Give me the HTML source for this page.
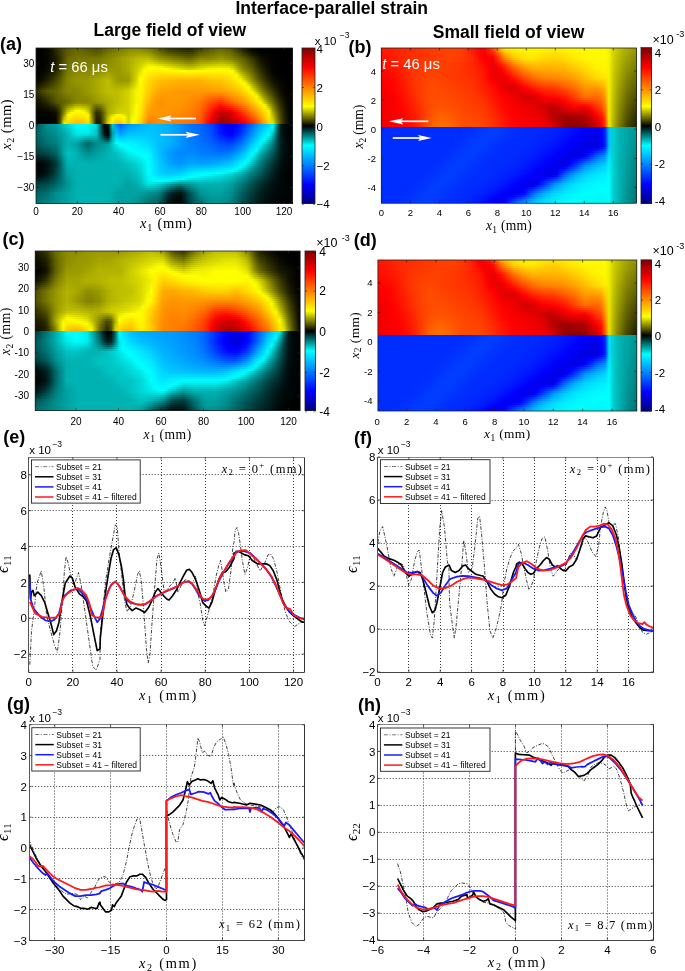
<!DOCTYPE html><html><head><meta charset="utf-8"><title>Interface-parallel strain</title><style>
*{margin:0;padding:0}
html,body{width:685px;height:971px;background:#fff;overflow:hidden}
#root{position:relative;width:685px;height:971px;background:#fff}
.hm{position:absolute;overflow:hidden}
.hm div{position:absolute;left:0;width:100%}
.cb{position:absolute}
svg{position:absolute;left:0;top:0;will-change:transform}

</style></head><body><div id="root"><div class="hm" style="left:36px;top:48px;width:257px;height:156px"><div style="top:0px;height:2px;background:linear-gradient(90deg,#000000,#010100,#030300,#080800,#171700,#2c2c00,#3c3c00,#4c4c00,#5a5a00,#606000,#666600,#636300,#5e5e00,#585800,#535300,#4e4e00,#545400,#5f5f00,#696900,#6f6f00,#767600,#7c7c00,#838300,#898900,#8a8a00,#8b8b00,#888800,#828200,#7c7c00,#707000,#646400,#575700,#484800,#3a3a00,#343400,#2f2f00,#2b2b00,#272700,#232300,#2a2a00,#363600,#434300,#4d4d00,#565600,#5e5e00,#646400,#6a6a00,#646400,#5e5e00,#515100,#3e3e00,#2d2d00,#1b1b00,#0d0d00,#050500,#020200,#000000,#000000,#000000,#000000,#000000,#000000,#000000,#000000,#000000)"></div><div style="top:2px;height:2px;background:linear-gradient(90deg,#000000,#010100,#030300,#080800,#161600,#292900,#3a3a00,#4d4d00,#5d5d00,#636300,#696900,#676700,#626200,#5e5e00,#5a5a00,#565600,#5b5b00,#656500,#6f6f00,#757500,#7c7c00,#828200,#898900,#909000,#929200,#949400,#939300,#8d8d00,#898900,#7c7c00,#6f6f00,#626200,#545400,#474700,#414100,#3c3c00,#373700,#333300,#2f2f00,#353500,#424200,#4f4f00,#575700,#5f5f00,#666600,#6d6d00,#737300,#6c6c00,#666600,#5a5a00,#474700,#373700,#252500,#161600,#0b0b00,#060600,#020200,#010100,#010100,#000000,#000000,#000000,#000000,#000000,#000000)"></div><div style="top:4px;height:2px;background:linear-gradient(90deg,#000000,#010100,#030300,#080800,#141400,#252500,#383800,#4e4e00,#606000,#656500,#6b6b00,#6a6a00,#676700,#646400,#616100,#5d5d00,#626200,#6c6c00,#757500,#7b7b00,#828200,#898900,#8f8f00,#979700,#9a9a00,#9d9d00,#9d9d00,#999900,#959500,#898900,#7b7b00,#6e6e00,#626200,#565600,#4f4f00,#4a4a00,#454500,#404000,#3b3b00,#424200,#4f4f00,#5c5c00,#626200,#696900,#6f6f00,#757500,#7c7c00,#757500,#6f6f00,#636300,#525200,#424200,#303000,#202000,#131300,#0b0b00,#040400,#030300,#020200,#010100,#000000,#000000,#000000,#000000,#000000)"></div><div style="top:6px;height:2px;background:linear-gradient(90deg,#000000,#010100,#030300,#080800,#131300,#222200,#363600,#4e4e00,#626200,#686800,#6e6e00,#6e6e00,#6c6c00,#6a6a00,#676700,#656500,#6a6a00,#737300,#7b7b00,#818100,#888800,#8f8f00,#969600,#9d9d00,#a2a200,#a7a700,#a8a800,#a6a600,#a3a300,#969600,#888800,#7b7b00,#707000,#666600,#5f5f00,#595900,#545400,#4e4e00,#494900,#505000,#5d5d00,#6a6a00,#6e6e00,#727200,#787800,#7e7e00,#858500,#7e7e00,#787800,#6d6d00,#5d5d00,#4e4e00,#3c3c00,#2b2b00,#1d1d00,#111100,#080800,#050500,#030300,#020200,#010100,#000000,#000000,#000000,#000000)"></div><div style="top:8px;height:2px;background:linear-gradient(90deg,#000000,#010100,#030300,#070700,#111100,#1f1f00,#343400,#4f4f00,#656500,#6b6b00,#717100,#727200,#717100,#707000,#6f6f00,#6e6e00,#727200,#7a7a00,#818100,#888800,#8f8f00,#969600,#9d9d00,#a4a400,#aaaa00,#b1b100,#b4b400,#b2b200,#b1b100,#a3a300,#959500,#898900,#808000,#777700,#707000,#6a6a00,#646400,#5e5e00,#585800,#5f5f00,#6c6c00,#787800,#7a7a00,#7c7c00,#818100,#888800,#8f8f00,#888800,#818100,#777700,#686800,#5a5a00,#494900,#393900,#292900,#181800,#0c0c00,#070700,#050500,#020200,#010100,#000000,#000000,#000000,#000000)"></div><div style="top:10px;height:2px;background:linear-gradient(90deg,#000000,#010100,#030300,#070700,#101000,#1c1c00,#323200,#4f4f00,#686800,#6e6e00,#747400,#767600,#767600,#767600,#767600,#767600,#7a7a00,#808000,#878700,#8e8e00,#959500,#9c9c00,#a3a300,#abab00,#b2b200,#baba00,#bfbf00,#bfbf00,#bfbf00,#b2b200,#a3a300,#979700,#909000,#898900,#828200,#7c7c00,#757500,#6f6f00,#696900,#6f6f00,#7c7c00,#878700,#878700,#888800,#8b8b00,#929200,#999900,#929200,#8b8b00,#818100,#747400,#686800,#575700,#474700,#353500,#212100,#111100,#0b0b00,#070700,#030300,#010100,#000000,#000000,#000000,#000000)"></div><div style="top:12px;height:2px;background:linear-gradient(90deg,#000000,#010100,#030300,#080800,#111100,#1d1d00,#343400,#525200,#6b6b00,#717100,#777700,#797900,#797900,#797900,#797900,#797900,#7d7d00,#848400,#8a8a00,#909000,#959500,#9c9c00,#a3a300,#abab00,#b4b400,#bdbd00,#c4c400,#c9c900,#cece00,#c3c300,#b6b600,#acac00,#a4a400,#9d9d00,#969600,#8f8f00,#888800,#818100,#7b7b00,#808000,#8d8d00,#989800,#999900,#9b9b00,#9f9f00,#a4a400,#aaaa00,#a4a400,#9e9e00,#939300,#818100,#717100,#5f5f00,#4e4e00,#3c3c00,#262600,#151500,#0d0d00,#070700,#030300,#010100,#000000,#000000,#000000,#000000)"></div><div style="top:14px;height:2px;background:linear-gradient(90deg,#000000,#010100,#040400,#090900,#121200,#1f1f00,#363600,#545400,#6e6e00,#747400,#7a7a00,#7c7c00,#7c7c00,#7c7c00,#7c7c00,#7c7c00,#808000,#878700,#8d8d00,#929200,#969600,#9c9c00,#a3a300,#abab00,#b5b500,#c0c000,#caca00,#d4d400,#dddd00,#d5d500,#cbcb00,#c1c100,#baba00,#b2b200,#aaaa00,#a3a300,#9c9c00,#949400,#8d8d00,#939300,#9e9e00,#a9a900,#acac00,#afaf00,#b3b300,#b8b800,#bcbc00,#b8b800,#b3b300,#a6a600,#8f8f00,#7a7a00,#676700,#565600,#424200,#2c2c00,#191900,#0f0f00,#080800,#030300,#010100,#000000,#000000,#000000,#000000)"></div><div style="top:16px;height:2px;background:linear-gradient(90deg,#000000,#010100,#040400,#0a0a00,#141400,#212100,#383800,#575700,#717100,#777700,#7d7d00,#7f7f00,#7f7f00,#7f7f00,#7f7f00,#7f7f00,#838300,#8a8a00,#909000,#939300,#979700,#9c9c00,#a3a300,#abab00,#b7b700,#c3c300,#d0d000,#dede00,#eded00,#e8e800,#e0e000,#d9d900,#d0d000,#c8c800,#c0c000,#b8b800,#b1b100,#a9a900,#a2a200,#a6a600,#b1b100,#bbbb00,#c0c000,#c4c400,#c8c800,#cccc00,#cfcf00,#cccc00,#c8c800,#b9b900,#9d9d00,#838300,#707000,#5e5e00,#4a4a00,#323200,#1e1e00,#121200,#090900,#030300,#010100,#000000,#000000,#000000,#000000)"></div><div style="top:18px;height:2px;background:linear-gradient(90deg,#000000,#010100,#050500,#0b0b00,#151500,#222200,#3b3b00,#5a5a00,#747400,#7a7a00,#808000,#828200,#828200,#828200,#828200,#828200,#868600,#8d8d00,#949400,#959500,#979700,#9c9c00,#a3a300,#abab00,#b8b800,#c6c600,#d6d600,#e9e900,#fdfd00,#fbfb00,#f7f700,#f1f100,#e8e800,#dfdf00,#d7d700,#cfcf00,#c7c700,#bfbf00,#b7b700,#bbbb00,#c5c500,#cece00,#d5d500,#dbdb00,#dfdf00,#e1e100,#e3e300,#e1e100,#dfdf00,#cece00,#acac00,#8d8d00,#797900,#666600,#515100,#383800,#232300,#151500,#0a0a00,#030300,#010100,#000000,#000000,#000000,#000000)"></div><div style="top:20px;height:2px;background:linear-gradient(90deg,#000000,#010100,#050500,#0c0c00,#171700,#242400,#3d3d00,#5c5c00,#767600,#7d7d00,#848400,#858500,#858500,#858500,#858500,#858500,#8a8a00,#919100,#979700,#979700,#989800,#9c9c00,#a3a300,#abab00,#baba00,#c9c900,#dcdc00,#f4f400,#fffb00,#fffb00,#fffb00,#fffc00,#fffe00,#f8f800,#efef00,#e6e600,#dede00,#d6d600,#cdcd00,#d1d100,#d9d900,#e2e200,#eaea00,#f2f200,#f6f600,#f7f700,#f7f700,#f7f700,#f6f600,#e3e300,#bcbc00,#989800,#828200,#6f6f00,#595900,#3f3f00,#292900,#181800,#0b0b00,#030300,#010100,#000000,#000000,#000000,#000000)"></div><div style="top:22px;height:2px;background:linear-gradient(90deg,#000000,#020200,#070700,#0e0e00,#1a1a00,#282800,#414100,#606000,#7a7a00,#808000,#878700,#888800,#888800,#888800,#898900,#8a8a00,#8f8f00,#969600,#9c9c00,#9a9a00,#999900,#9b9b00,#a2a200,#a8a800,#baba00,#cbcb00,#e3e300,#fffe00,#fff600,#fff400,#fff300,#fff200,#fff400,#fff600,#fff800,#fffa00,#fffc00,#fffe00,#fafa00,#fdfd00,#fffd00,#fffb00,#fffa00,#fff800,#fff800,#fff800,#fff800,#fff900,#fffa00,#fafa00,#cfcf00,#a7a700,#8e8e00,#787800,#616100,#464600,#2e2e00,#1c1c00,#0d0d00,#050500,#020200,#000000,#000000,#000000,#000000)"></div><div style="top:24px;height:2px;background:linear-gradient(90deg,#000000,#040400,#090900,#121200,#1f1f00,#2e2e00,#464600,#646400,#7d7d00,#838300,#8a8a00,#8b8b00,#8b8b00,#8c8c00,#8e8e00,#909000,#969600,#9d9d00,#a3a300,#9e9e00,#9a9a00,#9b9b00,#a0a000,#a5a500,#b9b900,#cece00,#e9e900,#fffb00,#fff000,#ffec00,#ffe900,#ffe800,#ffe900,#ffea00,#ffeb00,#ffec00,#ffed00,#ffee00,#fff000,#fff000,#ffee00,#ffec00,#ffec00,#ffec00,#ffec00,#ffed00,#ffee00,#fff000,#fff200,#fff900,#e4e400,#b9b900,#9c9c00,#838300,#696900,#4d4d00,#353500,#202000,#111100,#070700,#030300,#010100,#000000,#000000,#000000)"></div><div style="top:26px;height:2px;background:linear-gradient(90deg,#010100,#050500,#0c0c00,#161600,#242400,#343400,#4c4c00,#686800,#808000,#868600,#8d8d00,#8f8f00,#8f8f00,#8f8f00,#939300,#969600,#9c9c00,#a4a400,#a9a900,#a2a200,#9b9b00,#9a9a00,#9e9e00,#a2a200,#b8b800,#d0d000,#f0f000,#fff700,#ffea00,#ffe500,#ffe000,#ffdd00,#ffdd00,#ffdd00,#ffdd00,#ffdd00,#ffdd00,#ffdf00,#ffe000,#ffdf00,#ffde00,#ffdd00,#ffde00,#ffdf00,#ffe100,#ffe200,#ffe300,#ffe700,#ffea00,#fff300,#fafa00,#cccc00,#abab00,#8f8f00,#727200,#555500,#3b3b00,#262600,#151500,#090900,#050500,#010100,#000000,#000000,#000000)"></div><div style="top:28px;height:2px;background:linear-gradient(90deg,#020200,#070700,#0f0f00,#1b1b00,#292900,#3b3b00,#525200,#6d6d00,#838300,#8a8a00,#909000,#929200,#929200,#939300,#989800,#9d9d00,#a3a300,#abab00,#b0b000,#a6a600,#9c9c00,#999900,#9c9c00,#9e9e00,#b7b700,#d2d200,#f8f800,#fff300,#ffe500,#ffdd00,#ffd700,#ffd200,#ffd100,#ffd000,#ffcf00,#ffce00,#ffce00,#ffcf00,#ffd000,#ffcf00,#ffce00,#ffce00,#ffd100,#ffd300,#ffd500,#ffd700,#ffd900,#ffde00,#ffe300,#ffec00,#fffa00,#dfdf00,#bbbb00,#9a9a00,#7b7b00,#5c5c00,#424200,#2b2b00,#191900,#0c0c00,#060600,#020200,#010100,#000000,#000000)"></div><div style="top:30px;height:2px;background:linear-gradient(90deg,#030300,#0a0a00,#131300,#202000,#2f2f00,#414100,#585800,#717100,#868600,#8d8d00,#949400,#959500,#959500,#979700,#9d9d00,#a3a300,#aaaa00,#b2b200,#b7b700,#aaaa00,#9d9d00,#999900,#9a9a00,#9b9b00,#b6b600,#d4d400,#ffff00,#ffef00,#ffdf00,#ffd600,#ffcd00,#ffc700,#ffc500,#ffc300,#ffc200,#ffc000,#ffbf00,#ffbf00,#ffbf00,#ffbf00,#ffbf00,#ffbf00,#ffc300,#ffc700,#ffca00,#ffcc00,#ffce00,#ffd400,#ffdb00,#ffe500,#fff400,#f4f400,#cbcb00,#a6a600,#848400,#656500,#494900,#313100,#1e1e00,#101000,#080800,#030300,#010100,#000000,#000000)"></div><div style="top:32px;height:2px;background:linear-gradient(90deg,#050500,#0d0d00,#181800,#252500,#353500,#484800,#5d5d00,#757500,#888800,#8f8f00,#969600,#979700,#989800,#9a9a00,#a1a100,#a8a800,#b0b000,#b7b700,#bdbd00,#aeae00,#9f9f00,#9a9a00,#9a9a00,#9a9a00,#b8b800,#d7d700,#fffd00,#ffec00,#ffda00,#ffcf00,#ffc500,#ffbd00,#ffbb00,#ffb800,#ffb600,#ffb300,#ffb100,#ffb100,#ffb100,#ffb100,#ffb100,#ffb200,#ffb700,#ffbc00,#ffbf00,#ffc200,#ffc400,#ffcc00,#ffd300,#ffde00,#ffed00,#fffc00,#dede00,#b5b500,#8f8f00,#6e6e00,#515100,#383800,#232300,#141400,#0b0b00,#040400,#020200,#000000,#000000)"></div><div style="top:34px;height:2px;background:linear-gradient(90deg,#0a0a00,#141400,#202000,#2e2e00,#3d3d00,#4d4d00,#616100,#777700,#888800,#8d8d00,#939300,#959500,#979700,#9a9a00,#a1a100,#a8a800,#b0b000,#b7b700,#bdbd00,#b1b100,#a5a500,#a1a100,#a3a300,#a5a500,#c0c000,#dddd00,#fffc00,#ffea00,#ffd800,#ffcc00,#ffc100,#ffb900,#ffb600,#ffb400,#ffb100,#ffaf00,#ffad00,#ffad00,#ffad00,#ffad00,#ffad00,#ffad00,#ffb100,#ffb500,#ffb800,#ffbb00,#ffbd00,#ffc500,#ffcc00,#ffd600,#ffe400,#fff200,#fafa00,#caca00,#a0a000,#7c7c00,#5c5c00,#414100,#2b2b00,#191900,#0e0e00,#060600,#020200,#010100,#000000)"></div><div style="top:36px;height:2px;background:linear-gradient(90deg,#111100,#1c1c00,#292900,#373700,#444400,#535300,#656500,#787800,#888800,#8c8c00,#909000,#939300,#969600,#9a9a00,#a1a100,#a8a800,#b0b000,#b7b700,#bdbd00,#b4b400,#abab00,#a9a900,#acac00,#afaf00,#c8c800,#e2e200,#fffa00,#ffe800,#ffd500,#ffc900,#ffbd00,#ffb400,#ffb200,#ffaf00,#ffad00,#ffaa00,#ffa800,#ffa800,#ffa800,#ffa800,#ffa800,#ffa800,#ffab00,#ffae00,#ffb100,#ffb400,#ffb600,#ffbe00,#ffc500,#ffcf00,#ffdc00,#ffe900,#fff800,#e1e100,#b1b100,#8a8a00,#676700,#4a4a00,#323200,#1f1f00,#111100,#070700,#030300,#010100,#000000)"></div><div style="top:38px;height:2px;background:linear-gradient(90deg,#191900,#252500,#333300,#414100,#4c4c00,#585800,#686800,#7a7a00,#878700,#8a8a00,#8d8d00,#919100,#959500,#9a9a00,#a1a100,#a8a800,#b0b000,#b7b700,#bebe00,#b7b700,#b1b100,#b1b100,#b5b500,#baba00,#d1d100,#e8e800,#fff900,#ffe600,#ffd300,#ffc600,#ffb900,#ffaf00,#ffad00,#ffaa00,#ffa800,#ffa500,#ffa300,#ffa300,#ffa300,#ffa300,#ffa300,#ffa400,#ffa600,#ffa800,#ffaa00,#ffad00,#ffaf00,#ffb700,#ffbe00,#ffc800,#ffd400,#ffe000,#fff000,#f8f800,#c3c300,#989800,#737300,#545400,#3b3b00,#262600,#151500,#090900,#030300,#010100,#000000)"></div><div style="top:40px;height:2px;background:linear-gradient(90deg,#232300,#303000,#3f3f00,#4c4c00,#545400,#5e5e00,#6c6c00,#7b7b00,#878700,#888800,#8a8a00,#8e8e00,#949400,#9a9a00,#a1a100,#a8a800,#b0b000,#b7b700,#bebe00,#baba00,#b7b700,#b9b900,#bfbf00,#c5c500,#d9d900,#eeee00,#fff800,#ffe400,#ffd100,#ffc200,#ffb500,#ffab00,#ffa800,#ffa600,#ffa300,#ffa100,#ff9f00,#ff9f00,#ff9f00,#ff9f00,#ff9f00,#ff9f00,#ffa000,#ffa100,#ffa300,#ffa500,#ffa800,#ffaf00,#ffb700,#ffc000,#ffcb00,#ffd600,#ffe800,#fffa00,#d5d500,#a8a800,#7f7f00,#5f5f00,#444400,#2d2d00,#191900,#0a0a00,#040400,#010100,#000000)"></div><div style="top:42px;height:2px;background:linear-gradient(90deg,#2e2e00,#3c3c00,#4b4b00,#575700,#5d5d00,#646400,#707000,#7d7d00,#868600,#878700,#878700,#8c8c00,#939300,#9a9a00,#a1a100,#a8a800,#b0b000,#b7b700,#bebe00,#bebe00,#bdbd00,#c1c100,#c9c900,#d1d100,#e2e200,#f4f400,#fff600,#ffe200,#ffcf00,#ffbf00,#ffb100,#ffa600,#ffa300,#ffa100,#ff9e00,#ff9c00,#ff9a00,#ff9a00,#ff9a00,#ff9a00,#ff9a00,#ff9a00,#ff9a00,#ff9a00,#ff9c00,#ff9e00,#ffa100,#ffa800,#ffb000,#ffb900,#ffc300,#ffcd00,#ffe000,#fff300,#e8e800,#b8b800,#8c8c00,#6a6a00,#4e4e00,#343400,#1d1d00,#0c0c00,#050500,#010100,#000000)"></div><div style="top:44px;height:2px;background:linear-gradient(90deg,#2b2b00,#383800,#464600,#525200,#5a5a00,#636300,#6d6d00,#797900,#828200,#848400,#868600,#8b8b00,#919100,#979700,#9e9e00,#a5a500,#adad00,#b5b500,#bcbc00,#bdbd00,#bebe00,#c3c300,#cbcb00,#d3d300,#e4e400,#f5f500,#fff500,#ffe000,#ffcb00,#ffbb00,#ffac00,#ffa200,#ffa000,#ff9f00,#ff9d00,#ff9b00,#ff9900,#ff9800,#ff9700,#ff9600,#ff9500,#ff9400,#ff9200,#ff8f00,#ff8e00,#ff8f00,#ff9000,#ff9900,#ffa200,#ffac00,#ffb700,#ffc200,#ffd500,#ffe900,#fffc00,#d1d100,#9d9d00,#787800,#595900,#3d3d00,#232300,#0f0f00,#060600,#020200,#000000)"></div><div style="top:46px;height:2px;background:linear-gradient(90deg,#232300,#2f2f00,#3d3d00,#4a4a00,#545400,#5f5f00,#6a6a00,#747400,#7c7c00,#818100,#858500,#8a8a00,#8e8e00,#949400,#9b9b00,#a2a200,#a9a900,#b1b100,#b8b800,#bbbb00,#bdbd00,#c3c300,#cbcb00,#d3d300,#e4e400,#f5f500,#fff500,#ffdd00,#ffc600,#ffb600,#ffa700,#ff9d00,#ff9d00,#ff9d00,#ff9c00,#ff9a00,#ff9900,#ff9700,#ff9500,#ff9300,#ff9100,#ff8e00,#ff8800,#ff8200,#ff7f00,#ff7d00,#ff7c00,#ff8700,#ff9300,#ff9f00,#ffaa00,#ffb600,#ffc900,#ffdd00,#fff100,#eeee00,#b0b000,#868600,#646400,#464600,#292900,#131300,#080800,#020200,#000000)"></div><div style="top:48px;height:2px;background:linear-gradient(90deg,#1d1d00,#282800,#343400,#414100,#4e4e00,#5c5c00,#666600,#6f6f00,#777700,#7e7e00,#858500,#898900,#8c8c00,#909000,#979700,#9f9f00,#a6a600,#adad00,#b5b500,#b9b900,#bdbd00,#c3c300,#cbcb00,#d3d300,#e4e400,#f5f500,#fff400,#ffdb00,#ffc200,#ffb200,#ffa300,#ff9900,#ff9a00,#ff9c00,#ff9b00,#ff9a00,#ff9800,#ff9600,#ff9300,#ff9000,#ff8c00,#ff8800,#ff7f00,#ff7600,#ff7000,#ff6c00,#ff6800,#ff7600,#ff8400,#ff9100,#ff9d00,#ffaa00,#ffbd00,#ffd100,#ffe600,#fffb00,#c4c400,#959500,#717100,#4f4f00,#303000,#181800,#0a0a00,#030300,#000000)"></div><div style="top:50px;height:2px;background:linear-gradient(90deg,#171700,#212100,#2c2c00,#3a3a00,#494900,#595900,#626200,#6a6a00,#727200,#7b7b00,#848400,#888800,#8a8a00,#8d8d00,#949400,#9b9b00,#a2a200,#aaaa00,#b1b100,#b6b600,#bcbc00,#c3c300,#cbcb00,#d3d300,#e4e400,#f5f500,#fff300,#ffd800,#ffbd00,#ffad00,#ff9e00,#ff9500,#ff9800,#ff9a00,#ff9a00,#ff9a00,#ff9800,#ff9500,#ff9100,#ff8d00,#ff8700,#ff8100,#ff7500,#ff6900,#ff6000,#ff5a00,#ff5400,#ff6400,#ff7400,#ff8300,#ff9100,#ff9e00,#ffb100,#ffc500,#ffdb00,#fff200,#d9d900,#a5a500,#7e7e00,#595900,#373700,#1d1d00,#0c0c00,#030300,#000000)"></div><div style="top:52px;height:2px;background:linear-gradient(90deg,#111100,#1a1a00,#252500,#323200,#434300,#565600,#5e5e00,#656500,#6d6d00,#787800,#848400,#878700,#888800,#8a8a00,#919100,#989800,#9f9f00,#a6a600,#aeae00,#b4b400,#bbbb00,#c3c300,#cbcb00,#d3d300,#e4e400,#f5f500,#fff200,#ffd500,#ffb900,#ffa800,#ff9900,#ff9100,#ff9500,#ff9900,#ff9a00,#ff9900,#ff9800,#ff9400,#ff8f00,#ff8900,#ff8300,#ff7b00,#ff6c00,#ff5c00,#ff5100,#ff4800,#ff4000,#ff5200,#ff6500,#ff7600,#ff8400,#ff9200,#ffa600,#ffba00,#ffd000,#ffea00,#eeee00,#b6b600,#8b8b00,#646400,#3f3f00,#222200,#0f0f00,#040400,#000000)"></div><div style="top:54px;height:2px;background:linear-gradient(90deg,#0d0d00,#151500,#1e1e00,#2a2a00,#3b3b00,#4e4e00,#5a5a00,#646400,#707000,#7e7e00,#8c8c00,#8f8f00,#8e8e00,#8d8d00,#8d8d00,#8d8d00,#959500,#a0a000,#acac00,#b4b400,#bcbc00,#c4c400,#cbcb00,#d3d300,#e4e400,#f6f600,#fff100,#ffd200,#ffb400,#ffa400,#ff9600,#ff8f00,#ff9300,#ff9800,#ff9800,#ff9800,#ff9700,#ff9200,#ff8d00,#ff8600,#ff7f00,#ff7600,#ff6300,#ff5100,#ff4300,#ff3700,#ff2c00,#ff3f00,#ff5200,#ff6400,#ff7400,#ff8400,#ff9800,#ffad00,#ffc400,#ffdf00,#fffb00,#cdcd00,#9c9c00,#6f6f00,#474700,#272700,#111100,#040400,#000000)"></div><div style="top:56px;height:2px;background:linear-gradient(90deg,#0b0b00,#111100,#171700,#202000,#2e2e00,#3e3e00,#535300,#6c6c00,#838300,#949400,#a7a700,#a8a800,#a4a400,#9d9d00,#898900,#777700,#7f7f00,#969600,#acac00,#b5b500,#bfbf00,#c7c700,#cdcd00,#d3d300,#e6e600,#fafa00,#ffef00,#ffcf00,#ffaf00,#ffa200,#ff9700,#ff9000,#ff9400,#ff9700,#ff9700,#ff9600,#ff9500,#ff9000,#ff8b00,#ff8400,#ff7b00,#ff7200,#ff5d00,#ff4900,#ff3700,#ff2600,#ff1600,#ff2800,#ff3900,#ff4b00,#ff5e00,#ff7100,#ff8700,#ff9d00,#ffb600,#ffd200,#ffee00,#f0f000,#b1b100,#7b7b00,#4e4e00,#2b2b00,#131300,#050500,#000000)"></div><div style="top:58px;height:2px;background:linear-gradient(90deg,#090900,#0d0d00,#111100,#181800,#232300,#2f2f00,#4d4d00,#737300,#989800,#adad00,#c3c300,#c3c300,#bcbc00,#adad00,#868600,#636300,#6c6c00,#8b8b00,#acac00,#b7b700,#c2c200,#caca00,#cece00,#d3d300,#e8e800,#fdfd00,#ffed00,#ffcc00,#ffab00,#ffa000,#ff9700,#ff9200,#ff9400,#ff9600,#ff9500,#ff9400,#ff9200,#ff8d00,#ff8800,#ff8100,#ff7800,#ff6e00,#ff5700,#ff4000,#ff2b00,#ff1600,#ff0100,#ff1100,#ff2100,#ff3300,#ff4800,#ff5e00,#ff7600,#ff8e00,#ffa800,#ffc400,#ffe100,#fff900,#c7c700,#868600,#565600,#2f2f00,#151500,#050500,#000000)"></div><div style="top:60px;height:2px;background:linear-gradient(90deg,#070700,#090900,#0c0c00,#111100,#191900,#222200,#474700,#7b7b00,#adad00,#c7c700,#e1e100,#dfdf00,#d5d500,#bebe00,#828200,#505000,#595900,#818100,#acac00,#b8b800,#c5c500,#cdcd00,#d0d000,#d3d300,#e9e900,#ffff00,#ffec00,#ffc900,#ffa600,#ff9e00,#ff9800,#ff9400,#ff9500,#ff9500,#ff9400,#ff9200,#ff9000,#ff8b00,#ff8600,#ff7e00,#ff7500,#ff6a00,#ff5100,#ff3800,#ff1f00,#ff0500,#eb0000,#f90000,#ff0800,#ff1a00,#ff3300,#ff4b00,#ff6500,#ff7f00,#ff9a00,#ffb700,#ffd400,#ffee00,#dfdf00,#939300,#5e5e00,#343400,#171700,#060600,#000000)"></div><div style="top:62px;height:2px;background:linear-gradient(90deg,#060600,#070700,#080800,#0b0b00,#101000,#171700,#414100,#838300,#c4c400,#e2e200,#fffe00,#fdfd00,#efef00,#d0d000,#7e7e00,#3f3f00,#484800,#787800,#acac00,#baba00,#c8c800,#d0d000,#d1d100,#d3d300,#ebeb00,#fffe00,#ffea00,#ffc600,#ffa200,#ff9b00,#ff9800,#ff9600,#ff9500,#ff9400,#ff9200,#ff9000,#ff8e00,#ff8900,#ff8400,#ff7c00,#ff7200,#ff6600,#ff4b00,#ff3000,#ff1300,#f40000,#d60000,#e20000,#ee0000,#ff0200,#ff1d00,#ff3800,#ff5400,#ff7000,#ff8c00,#ffa900,#ffc700,#ffe400,#f8f800,#a0a000,#666600,#393900,#1a1a00,#070700,#000000)"></div><div style="top:64px;height:2px;background:linear-gradient(90deg,#040400,#040400,#040400,#060600,#090900,#0e0e00,#3b3b00,#8c8c00,#dcdc00,#ffff00,#fff500,#fff700,#fffc00,#e2e200,#7a7a00,#303000,#393900,#6f6f00,#acac00,#bcbc00,#cccc00,#d3d300,#d3d300,#d3d300,#ecec00,#fffd00,#ffe800,#ffc300,#ff9d00,#ff9900,#ff9900,#ff9800,#ff9600,#ff9300,#ff9100,#ff8e00,#ff8b00,#ff8600,#ff8100,#ff7900,#ff6f00,#ff6300,#ff4500,#ff2700,#ff0700,#e30000,#c10000,#cb0000,#d50000,#e80000,#ff0700,#ff2500,#ff4200,#ff6000,#ff7e00,#ff9c00,#ffba00,#ffda00,#fffa00,#adad00,#6f6f00,#3e3e00,#1c1c00,#070700,#000000)"></div><div style="top:66px;height:2px;background:linear-gradient(90deg,#030300,#030300,#030300,#050500,#080800,#0c0c00,#3e3e00,#9d9d00,#fefe00,#fff500,#ffea00,#ffec00,#fff200,#fefe00,#818100,#2a2a00,#333300,#6e6e00,#b5b500,#d5d500,#f8f800,#fcfc00,#e7e700,#d3d300,#f1f100,#fffa00,#ffe400,#ffbd00,#ff9700,#ff9400,#ff9600,#ff9600,#ff9300,#ff9000,#ff8d00,#ff8b00,#ff8800,#ff8300,#ff7f00,#ff7700,#ff6d00,#ff6000,#ff3f00,#ff1f00,#fd0000,#da0000,#b90000,#c20000,#cb0000,#dd0000,#f90000,#ff1600,#ff3300,#ff5000,#ff6e00,#ff8e00,#ffae00,#ffd000,#fff400,#b7b700,#757500,#414100,#1d1d00,#070700,#000000)"></div><div style="top:68px;height:2px;background:linear-gradient(90deg,#030300,#030300,#030300,#040400,#060600,#0a0a00,#424200,#b0b000,#fff600,#ffea00,#ffde00,#ffe100,#ffe800,#fff700,#888800,#262600,#2e2e00,#6e6e00,#bebe00,#f2f200,#fff300,#fff300,#fefe00,#d3d300,#f6f600,#fff700,#ffe000,#ffb800,#ff9000,#ff8f00,#ff9200,#ff9300,#ff9000,#ff8d00,#ff8a00,#ff8700,#ff8500,#ff8000,#ff7c00,#ff7400,#ff6a00,#ff5d00,#ff3a00,#ff1700,#f40000,#d20000,#b20000,#ba0000,#c20000,#d30000,#ed0000,#ff0800,#ff2400,#ff4100,#ff5f00,#ff8000,#ffa200,#ffc700,#ffee00,#c2c200,#7c7c00,#444400,#1e1e00,#080800,#000000)"></div><div style="top:70px;height:2px;background:linear-gradient(90deg,#020200,#020200,#020200,#030300,#050500,#080800,#454500,#c4c400,#ffec00,#ffdf00,#ffd300,#ffd600,#ffde00,#ffef00,#8f8f00,#222200,#2a2a00,#6d6d00,#c8c800,#fffa00,#ffe500,#ffe600,#fff900,#d3d300,#fbfb00,#fff500,#ffdc00,#ffb200,#ff8900,#ff8900,#ff8f00,#ff9100,#ff8d00,#ff8900,#ff8600,#ff8400,#ff8100,#ff7d00,#ff7a00,#ff7200,#ff6800,#ff5b00,#ff3500,#ff0f00,#eb0000,#cb0000,#ab0000,#b20000,#b90000,#c80000,#e10000,#fa0000,#ff1500,#ff3100,#ff4f00,#ff7200,#ff9500,#ffbe00,#ffe800,#cdcd00,#828200,#474700,#202000,#080800,#000000)"></div><div style="top:72px;height:2px;background:linear-gradient(90deg,#020200,#020200,#020200,#020200,#040400,#060600,#494900,#d9d900,#ffe200,#ffd500,#ffc700,#ffcb00,#ffd300,#ffe700,#969600,#1e1e00,#252500,#6d6d00,#d1d100,#fff200,#ffd700,#ffd900,#fff300,#d3d300,#ffff00,#fff200,#ffd800,#ffad00,#ff8200,#ff8400,#ff8b00,#ff8e00,#ff8a00,#ff8600,#ff8300,#ff8000,#ff7e00,#ff7a00,#ff7700,#ff7000,#ff6600,#ff5800,#ff2f00,#ff0600,#e20000,#c30000,#a40000,#aa0000,#b00000,#be0000,#d50000,#ec0000,#ff0700,#ff2100,#ff3f00,#ff6400,#ff8900,#ffb500,#ffe200,#d7d700,#888800,#4a4a00,#212100,#080800,#000000)"></div><div style="top:74px;height:2px;background:linear-gradient(90deg,#010100,#010100,#010100,#020200,#030300,#050500,#4c4c00,#eeee00,#ffd900,#ffca00,#ffbc00,#ffc000,#ffc900,#ffdf00,#9e9e00,#1a1a00,#212100,#6d6d00,#dbdb00,#ffe900,#ffc900,#ffcc00,#ffec00,#d3d300,#fffd00,#ffef00,#ffd300,#ffa700,#ff7b00,#ff7e00,#ff8700,#ff8c00,#ff8700,#ff8200,#ff7f00,#ff7d00,#ff7a00,#ff7800,#ff7500,#ff6d00,#ff6300,#ff5500,#ff2a00,#fd0000,#d90000,#bb0000,#9d0000,#a20000,#a70000,#b40000,#c90000,#de0000,#f70000,#ff1100,#ff2f00,#ff5600,#ff7d00,#ffab00,#ffdc00,#e3e300,#8f8f00,#4d4d00,#222200,#090900,#000000)"></div><div style="top:76px;height:2px;background:linear-gradient(90deg,#005555,#006a6a,#008181,#009191,#009898,#009e9e,#00b1b1,#00c5c5,#00d9d9,#00e9e9,#00f9f9,#00fdfd,#00fdfd,#00f9f9,#00eaea,#00dada,#006d6d,#000909,#0e0e00,#00c9c9,#008eff,#0062ff,#007aff,#0091ff,#009bff,#00a4ff,#00adff,#00b6ff,#00bfff,#00beff,#00bbff,#00b8ff,#00b3ff,#00aeff,#00a5ff,#009bff,#0090ff,#0084ff,#0077ff,#0070ff,#006bff,#0065ff,#005bff,#0051ff,#003fff,#0026ff,#000eff,#0000fe,#0000ef,#0000f0,#0006ff,#001aff,#0037ff,#0056ff,#0074ff,#0092ff,#00b0ff,#00c6ff,#00daff,#00f6ff,#008282,#001a1a,#000505,#000404,#000202)"></div><div style="top:78px;height:2px;background:linear-gradient(90deg,#005858,#006b6b,#007f7f,#008e8e,#009494,#009b9b,#00acac,#00bfbf,#00d2d2,#00e3e3,#00f5f5,#00f9f9,#00f9f9,#00f5f5,#00e6e6,#00d7d7,#006e6e,#000c0c,#0a0a00,#00bebe,#009aff,#0070ff,#0086ff,#009cff,#00a3ff,#00abff,#00b3ff,#00b9ff,#00c0ff,#00bfff,#00bcff,#00b9ff,#00b4ff,#00afff,#00a6ff,#009cff,#0092ff,#0085ff,#0079ff,#0071ff,#006cff,#0067ff,#005dff,#0053ff,#0041ff,#0029ff,#0010ff,#0001ff,#0000f2,#0000f3,#000aff,#001fff,#003dff,#005dff,#007cff,#009aff,#00b8ff,#00ceff,#00e2ff,#00fdff,#007979,#001a1a,#000606,#000404,#000202)"></div><div style="top:80px;height:2px;background:linear-gradient(90deg,#005b5b,#006c6c,#007e7e,#008b8b,#009191,#009898,#00a7a7,#00b9b9,#00cbcb,#00dddd,#00f0f0,#00f5f5,#00f5f5,#00f1f1,#00e2e2,#00d3d3,#006f6f,#000f0f,#060600,#00b4b4,#00a5ff,#007eff,#0092ff,#00a6ff,#00acff,#00b2ff,#00b8ff,#00bdff,#00c2ff,#00c0ff,#00beff,#00baff,#00b5ff,#00b0ff,#00a7ff,#009eff,#0093ff,#0086ff,#007aff,#0073ff,#006eff,#0068ff,#005eff,#0054ff,#0042ff,#002bff,#0013ff,#0004ff,#0000f4,#0000f6,#000eff,#0024ff,#0044ff,#0064ff,#0084ff,#00a1ff,#00bfff,#00d6ff,#00e9ff,#00f1f1,#007171,#001a1a,#000707,#000404,#000202)"></div><div style="top:82px;height:2px;background:linear-gradient(90deg,#005e5e,#006c6c,#007c7c,#008787,#008e8e,#009494,#00a3a3,#00b2b2,#00c4c4,#00d8d8,#00ecec,#00f1f1,#00f1f1,#00eded,#00dede,#00cfcf,#007070,#001313,#030300,#00a9a9,#00b1ff,#008cff,#009eff,#00b0ff,#00b5ff,#00baff,#00beff,#00c0ff,#00c3ff,#00c2ff,#00bfff,#00bcff,#00b7ff,#00b2ff,#00a9ff,#009fff,#0094ff,#0088ff,#007bff,#0074ff,#006fff,#0069ff,#005fff,#0055ff,#0044ff,#002dff,#0016ff,#0007ff,#0000f7,#0000f9,#0012ff,#0029ff,#004aff,#006bff,#008bff,#00a9ff,#00c7ff,#00ddff,#00f1ff,#00dbdb,#006a6a,#001a1a,#000808,#000404,#000202)"></div><div style="top:84px;height:2px;background:linear-gradient(90deg,#006161,#006d6d,#007a7a,#008484,#008b8b,#009191,#009e9e,#00acac,#00bdbd,#00d2d2,#00e8e8,#00eded,#00eded,#00e9e9,#00dada,#00cbcb,#007070,#001616,#010100,#009f9f,#00bdff,#009bff,#00abff,#00baff,#00beff,#00c1ff,#00c3ff,#00c4ff,#00c5ff,#00c3ff,#00c0ff,#00bdff,#00b8ff,#00b3ff,#00aaff,#00a0ff,#0096ff,#0089ff,#007dff,#0075ff,#0070ff,#006bff,#0061ff,#0057ff,#0045ff,#002fff,#0018ff,#0009ff,#0000f9,#0000fc,#0016ff,#002eff,#0050ff,#0072ff,#0093ff,#00b1ff,#00cfff,#00e5ff,#00f9ff,#00c7c7,#006262,#001b1b,#000909,#000505,#000202)"></div><div style="top:86px;height:2px;background:linear-gradient(90deg,#006060,#006c6c,#007878,#008181,#008787,#008e8e,#009b9b,#00a9a9,#00b8b8,#00cbcb,#00dede,#00e0e0,#00dddd,#00d8d8,#00cdcd,#00c2c2,#007575,#002222,#000303,#009f9f,#00caff,#00abff,#00b8ff,#00c5ff,#00c7ff,#00c9ff,#00c9ff,#00c9ff,#00c8ff,#00c5ff,#00c1ff,#00beff,#00b9ff,#00b4ff,#00abff,#00a1ff,#0096ff,#008aff,#007eff,#0076ff,#0071ff,#006cff,#0062ff,#0059ff,#0049ff,#0034ff,#001fff,#0011ff,#0003ff,#0007ff,#001fff,#0037ff,#0059ff,#007bff,#009cff,#00baff,#00d7ff,#00edff,#00fcfc,#00b7b7,#005c5c,#001b1b,#000909,#000505,#000202)"></div><div style="top:88px;height:2px;background:linear-gradient(90deg,#005e5e,#006969,#007575,#007e7e,#008484,#008a8a,#009898,#00a8a8,#00b7b7,#00c3c3,#00d0d0,#00cccc,#00c3c3,#00bbbb,#00b8b8,#00b5b5,#007b7b,#003737,#001717,#00a8a8,#00d7ff,#00beff,#00c7ff,#00d1ff,#00d1ff,#00d1ff,#00d0ff,#00ceff,#00ccff,#00c7ff,#00c2ff,#00beff,#00b9ff,#00b4ff,#00abff,#00a1ff,#0096ff,#008bff,#007fff,#0078ff,#0073ff,#006dff,#0065ff,#005cff,#004eff,#003cff,#0029ff,#001dff,#0011ff,#0015ff,#002dff,#0044ff,#0065ff,#0086ff,#00a6ff,#00c3ff,#00e0ff,#00f4ff,#00e9e9,#00aaaa,#005858,#001c1c,#000a0a,#000505,#000202)"></div><div style="top:90px;height:2px;background:linear-gradient(90deg,#005b5b,#006666,#007171,#007b7b,#008181,#008787,#009696,#00a7a7,#00b5b5,#00bcbc,#00c2c2,#00b9b9,#00aaaa,#00a1a1,#00a4a4,#00a8a8,#008383,#005050,#003636,#00b1b1,#00e4ff,#00d0ff,#00d6ff,#00dcff,#00dbff,#00daff,#00d7ff,#00d4ff,#00d0ff,#00caff,#00c3ff,#00beff,#00b9ff,#00b4ff,#00abff,#00a1ff,#0096ff,#008bff,#0080ff,#0079ff,#0074ff,#006fff,#0067ff,#0060ff,#0054ff,#0043ff,#0033ff,#0029ff,#0020ff,#0024ff,#003bff,#0051ff,#0071ff,#0091ff,#00b0ff,#00cdff,#00e9ff,#00fcff,#00d6d6,#009e9e,#005353,#001c1c,#000b0b,#000606,#000202)"></div><div style="top:92px;height:2px;background:linear-gradient(90deg,#005858,#006363,#006e6e,#007878,#007e7e,#008484,#009494,#00a6a6,#00b3b3,#00b4b4,#00b5b5,#00a6a6,#009393,#008787,#009191,#009b9b,#008a8a,#006d6d,#005e5e,#00baba,#00f1ff,#00e3ff,#00e5ff,#00e8ff,#00e5ff,#00e2ff,#00deff,#00d9ff,#00d4ff,#00ccff,#00c4ff,#00beff,#00b9ff,#00b4ff,#00abff,#00a1ff,#0097ff,#008cff,#0081ff,#007aff,#0075ff,#0070ff,#006aff,#0063ff,#0059ff,#004bff,#003eff,#0036ff,#002eff,#0033ff,#0049ff,#005eff,#007dff,#009cff,#00baff,#00d6ff,#00f3ff,#00efef,#00c3c3,#009292,#004f4f,#001d1d,#000c0c,#000606,#000202)"></div><div style="top:94px;height:2px;background:linear-gradient(90deg,#005555,#006060,#006b6b,#007575,#007b7b,#008181,#009292,#00a5a5,#00b1b1,#00acac,#00a8a8,#009494,#007d7d,#007070,#007f7f,#008f8f,#009191,#008c8c,#008e8e,#00c4c4,#00ffff,#00f5ff,#00f4ff,#00f4ff,#00efff,#00ebff,#00e5ff,#00dfff,#00d8ff,#00cfff,#00c5ff,#00beff,#00b9ff,#00b4ff,#00abff,#00a1ff,#0097ff,#008cff,#0082ff,#007cff,#0077ff,#0072ff,#006cff,#0067ff,#005eff,#0053ff,#0048ff,#0042ff,#003cff,#0042ff,#0057ff,#006bff,#0088ff,#00a7ff,#00c4ff,#00e0ff,#00fcff,#00d7d7,#00b1b1,#008686,#004b4b,#001e1e,#000d0d,#000606,#000202)"></div><div style="top:96px;height:2px;background:linear-gradient(90deg,#005151,#005b5b,#006666,#006e6e,#007575,#007c7c,#008f8f,#00a5a5,#00b2b2,#00abab,#00a4a4,#008f8f,#007878,#006a6a,#007b7b,#008c8c,#009696,#009d9d,#00a6a6,#00c6c6,#00e9e9,#00fdfd,#00fdff,#00faff,#00f5ff,#00f1ff,#00ebff,#00e4ff,#00ddff,#00d2ff,#00c7ff,#00bdff,#00b7ff,#00b1ff,#00a8ff,#009eff,#0095ff,#008cff,#0084ff,#007eff,#0079ff,#0074ff,#006fff,#006aff,#0063ff,#005aff,#0051ff,#004dff,#0049ff,#0050ff,#0064ff,#0078ff,#0095ff,#00b2ff,#00cfff,#00e9ff,#00f3f3,#00c5c5,#00a3a3,#007c7c,#004747,#001e1e,#000e0e,#000707,#000202)"></div><div style="top:98px;height:2px;background:linear-gradient(90deg,#004c4c,#005555,#005e5e,#006666,#006e6e,#007575,#008c8c,#00a6a6,#00b6b6,#00afaf,#00a8a8,#009595,#007f7f,#007373,#008181,#009090,#009a9a,#00a0a0,#00a9a9,#00c4c4,#00dfdf,#00f2f2,#00fcfc,#00fdff,#00f8ff,#00f4ff,#00efff,#00e9ff,#00e3ff,#00d6ff,#00c8ff,#00bcff,#00b4ff,#00acff,#00a3ff,#009aff,#0092ff,#008cff,#0085ff,#0080ff,#007bff,#0076ff,#0072ff,#006eff,#0068ff,#0060ff,#0058ff,#0057ff,#0055ff,#005dff,#0071ff,#0085ff,#00a1ff,#00beff,#00d9ff,#00f1ff,#00e2e2,#00b8b8,#009898,#007474,#004343,#001d1d,#000e0e,#000707,#000202)"></div><div style="top:100px;height:2px;background:linear-gradient(90deg,#004747,#004e4e,#005656,#005e5e,#006666,#006f6f,#008989,#00a7a7,#00b9b9,#00b2b2,#00abab,#009a9a,#008787,#007c7c,#008888,#009494,#009d9d,#00a4a4,#00acac,#00c1c1,#00d6d6,#00e7e7,#00f2f2,#00fefe,#00fbff,#00f8ff,#00f4ff,#00efff,#00eaff,#00daff,#00caff,#00bcff,#00b2ff,#00a8ff,#009fff,#0096ff,#008eff,#008bff,#0087ff,#0083ff,#007eff,#0079ff,#0075ff,#0071ff,#006cff,#0066ff,#0060ff,#0060ff,#0061ff,#006aff,#007eff,#0092ff,#00adff,#00caff,#00e4ff,#00f9ff,#00d0d0,#00abab,#008d8d,#006c6c,#003f3f,#001c1c,#000e0e,#000707,#000202)"></div><div style="top:102px;height:2px;background:linear-gradient(90deg,#004242,#004848,#004e4e,#005656,#005f5f,#006969,#008686,#00a7a7,#00bdbd,#00b6b6,#00afaf,#00a0a0,#008f8f,#008585,#008e8e,#009999,#00a1a1,#00a7a7,#00afaf,#00bebe,#00cece,#00dcdc,#00e9e9,#00f6f6,#00ffff,#00fbff,#00f8ff,#00f4ff,#00f0ff,#00dfff,#00ccff,#00bbff,#00afff,#00a3ff,#009aff,#0092ff,#008bff,#008aff,#0089ff,#0085ff,#0080ff,#007bff,#0078ff,#0075ff,#0071ff,#006cff,#0068ff,#006aff,#006cff,#0076ff,#008aff,#009eff,#00baff,#00d6ff,#00efff,#00f8f8,#00c0c0,#009e9e,#008282,#006464,#003c3c,#001c1c,#000e0e,#000707,#000202)"></div><div style="top:104px;height:2px;background:linear-gradient(90deg,#003d3d,#004242,#004747,#004f4f,#005959,#006363,#008383,#00a8a8,#00c1c1,#00baba,#00b3b3,#00a5a5,#009797,#008e8e,#009595,#009d9d,#00a4a4,#00abab,#00b2b2,#00bbbb,#00c5c5,#00d1d1,#00e0e0,#00eeee,#00f7f7,#00ffff,#00fcff,#00f9ff,#00f6ff,#00e3ff,#00cdff,#00baff,#00acff,#009eff,#0095ff,#008dff,#0088ff,#0089ff,#008bff,#0088ff,#0083ff,#007eff,#007bff,#0079ff,#0076ff,#0073ff,#0070ff,#0074ff,#0078ff,#0083ff,#0097ff,#00abff,#00c6ff,#00e2ff,#00f9ff,#00dfdf,#00b0b0,#009191,#007878,#005c5c,#003838,#001b1b,#000e0e,#000707,#000202)"></div><div style="top:106px;height:2px;background:linear-gradient(90deg,#003131,#003636,#003b3b,#004343,#004f4f,#005c5c,#007d7d,#00a5a5,#00c0c0,#00baba,#00b4b4,#00a9a9,#009d9d,#009595,#009b9b,#00a1a1,#00a7a7,#00adad,#00b3b3,#00b9b9,#00c0c0,#00caca,#00d8d8,#00e6e6,#00eeee,#00f6f6,#00fefe,#00fcff,#00faff,#00e6ff,#00cfff,#00bcff,#00adff,#009eff,#0095ff,#008dff,#0088ff,#008bff,#008eff,#008cff,#0087ff,#0083ff,#0081ff,#007fff,#007eff,#007cff,#007aff,#0080ff,#0085ff,#0091ff,#00a4ff,#00b8ff,#00d1ff,#00ebff,#00fafa,#00cdcd,#00a3a3,#008686,#006e6e,#005454,#003434,#001919,#000d0d,#000606,#000202)"></div><div style="top:108px;height:2px;background:linear-gradient(90deg,#002323,#002828,#002d2d,#003636,#004444,#005353,#007676,#00a0a0,#00bdbd,#00b8b8,#00b3b3,#00abab,#00a2a2,#009c9c,#00a0a0,#00a5a5,#00aaaa,#00aeae,#00b3b3,#00b8b8,#00bdbd,#00c6c6,#00d2d2,#00dede,#00e6e6,#00eeee,#00f7f7,#00feff,#00fbff,#00e7ff,#00d2ff,#00beff,#00afff,#00a0ff,#0097ff,#0090ff,#008bff,#008fff,#0093ff,#0092ff,#008dff,#008aff,#0089ff,#0088ff,#0087ff,#0087ff,#0087ff,#008dff,#0093ff,#009fff,#00b2ff,#00c5ff,#00dbff,#00f2ff,#00eaea,#00c0c0,#009999,#007d7d,#006565,#004d4d,#002f2f,#001717,#000c0c,#000606,#000202)"></div><div style="top:110px;height:2px;background:linear-gradient(90deg,#001616,#001b1b,#002121,#002a2a,#003a3a,#004b4b,#006f6f,#009b9b,#00baba,#00b7b7,#00b3b3,#00adad,#00a7a7,#00a2a2,#00a6a6,#00a9a9,#00acac,#00afaf,#00b3b3,#00b6b6,#00baba,#00c1c1,#00cccc,#00d7d7,#00dede,#00e6e6,#00efef,#00fbfb,#00fcff,#00e9ff,#00d4ff,#00c1ff,#00b2ff,#00a3ff,#009aff,#0092ff,#008eff,#0093ff,#0098ff,#0097ff,#0093ff,#0090ff,#0090ff,#0090ff,#0091ff,#0093ff,#0094ff,#009aff,#00a1ff,#00adff,#00bfff,#00d2ff,#00e5ff,#00f9ff,#00dbdb,#00b3b3,#008e8e,#007474,#005d5d,#004646,#002b2b,#001515,#000b0b,#000606,#000202)"></div><div style="top:112px;height:2px;background:linear-gradient(90deg,#000c0c,#001111,#001616,#001f1f,#003030,#004343,#006868,#009696,#00b7b7,#00b5b5,#00b3b3,#00afaf,#00acac,#00a9a9,#00abab,#00adad,#00afaf,#00b1b1,#00b3b3,#00b5b5,#00b7b7,#00bcbc,#00c6c6,#00cfcf,#00d6d6,#00dede,#00e8e8,#00f6f6,#00feff,#00ebff,#00d6ff,#00c3ff,#00b4ff,#00a5ff,#009cff,#0095ff,#0090ff,#0097ff,#009dff,#009dff,#0099ff,#0097ff,#0098ff,#0099ff,#009bff,#009eff,#00a1ff,#00a8ff,#00aeff,#00baff,#00cdff,#00dfff,#00f0ff,#00fbfb,#00cccc,#00a7a7,#008484,#006b6b,#005555,#003f3f,#002727,#001313,#000a0a,#000505,#000202)"></div><div style="top:114px;height:2px;background:linear-gradient(90deg,#000404,#000808,#000d0d,#001616,#002727,#003b3b,#006161,#009191,#00b4b4,#00b3b3,#00b3b3,#00b2b2,#00b1b1,#00b0b0,#00b0b0,#00b1b1,#00b1b1,#00b2b2,#00b2b2,#00b3b3,#00b4b4,#00b8b8,#00c0c0,#00c7c7,#00cfcf,#00d6d6,#00e1e1,#00f0f0,#00ffff,#00ecff,#00d8ff,#00c6ff,#00b7ff,#00a8ff,#009fff,#0097ff,#0093ff,#009aff,#00a1ff,#00a2ff,#009fff,#009dff,#009fff,#00a1ff,#00a5ff,#00a9ff,#00aeff,#00b5ff,#00bcff,#00c8ff,#00daff,#00ecff,#00faff,#00e5e5,#00bebe,#009b9b,#007a7a,#006262,#004d4d,#003838,#002323,#001111,#000909,#000505,#000202)"></div><div style="top:116px;height:2px;background:linear-gradient(90deg,#000202,#000606,#000a0a,#001313,#002525,#003a3a,#005f5f,#008e8e,#00b1b1,#00b1b1,#00b2b2,#00b2b2,#00b2b2,#00b2b2,#00b2b2,#00b2b2,#00b2b2,#00b2b2,#00b2b2,#00b2b2,#00b2b2,#00b6b6,#00bcbc,#00c2c2,#00caca,#00d1d1,#00dcdc,#00eded,#00fdfd,#00edff,#00daff,#00c8ff,#00baff,#00adff,#00a5ff,#009fff,#009cff,#00a4ff,#00acff,#00adff,#00acff,#00abff,#00adff,#00b0ff,#00b4ff,#00b8ff,#00bdff,#00c4ff,#00cbff,#00d6ff,#00e6ff,#00f5ff,#00f6f6,#00d2d2,#00b0b0,#009090,#007373,#005b5b,#004646,#003333,#001f1f,#001010,#000808,#000505,#000202)"></div><div style="top:118px;height:2px;background:linear-gradient(90deg,#000202,#000606,#000b0b,#001515,#002727,#003c3c,#006060,#008c8c,#00adad,#00b0b0,#00b2b2,#00b2b2,#00b2b2,#00b2b2,#00b2b2,#00b2b2,#00b2b2,#00b2b2,#00b2b2,#00b2b2,#00b2b2,#00b5b5,#00baba,#00bfbf,#00c6c6,#00cdcd,#00d9d9,#00ebeb,#00fdfd,#00eeff,#00dbff,#00caff,#00beff,#00b3ff,#00adff,#00a9ff,#00a7ff,#00b1ff,#00baff,#00bdff,#00bdff,#00bdff,#00bfff,#00c2ff,#00c5ff,#00c9ff,#00ceff,#00d3ff,#00d9ff,#00e3ff,#00f0ff,#00fdff,#00e1e1,#00c1c1,#00a3a3,#008686,#006c6c,#005656,#004141,#002f2f,#001d1d,#000e0e,#000808,#000404,#000202)"></div><div style="top:120px;height:2px;background:linear-gradient(90deg,#000202,#000606,#000c0c,#001717,#002929,#003f3f,#006161,#008b8b,#00aaaa,#00aeae,#00b2b2,#00b2b2,#00b2b2,#00b2b2,#00b2b2,#00b2b2,#00b2b2,#00b2b2,#00b2b2,#00b2b2,#00b2b2,#00b4b4,#00b8b8,#00bbbb,#00c2c2,#00c9c9,#00d6d6,#00e9e9,#00fdfd,#00eeff,#00dcff,#00ccff,#00c2ff,#00b9ff,#00b5ff,#00b3ff,#00b3ff,#00bdff,#00c7ff,#00ccff,#00cdff,#00cfff,#00d1ff,#00d4ff,#00d7ff,#00dbff,#00deff,#00e3ff,#00e8ff,#00f0ff,#00faff,#00ebeb,#00cdcd,#00b1b1,#009696,#007d7d,#006666,#005050,#003d3d,#002b2b,#001a1a,#000c0c,#000707,#000404,#000202)"></div><div style="top:122px;height:2px;background:linear-gradient(90deg,#000202,#000707,#000d0d,#001818,#002b2b,#004141,#006262,#008989,#00a7a7,#00acac,#00b1b1,#00b2b2,#00b2b2,#00b2b2,#00b2b2,#00b2b2,#00b2b2,#00b2b2,#00b2b2,#00b2b2,#00b2b2,#00b3b3,#00b5b5,#00b7b7,#00bebe,#00c6c6,#00d3d3,#00e7e7,#00fdfd,#00efff,#00ddff,#00ceff,#00c6ff,#00bfff,#00bdff,#00bdff,#00bfff,#00caff,#00d5ff,#00dbff,#00deff,#00e1ff,#00e3ff,#00e6ff,#00e9ff,#00ecff,#00efff,#00f3ff,#00f7ff,#00fdff,#00ecec,#00d3d3,#00b9b9,#00a1a1,#008a8a,#007474,#006060,#004b4b,#003838,#002727,#001717,#000b0b,#000606,#000404,#000202)"></div><div style="top:124px;height:2px;background:linear-gradient(90deg,#000202,#000707,#000e0e,#001a1a,#002d2d,#004343,#006363,#008888,#00a4a4,#00abab,#00b1b1,#00b2b2,#00b2b2,#00b2b2,#00b2b2,#00b2b2,#00b2b2,#00b2b2,#00b2b2,#00b2b2,#00b2b2,#00b3b3,#00b3b3,#00b4b4,#00bbbb,#00c2c2,#00d0d0,#00e6e6,#00fdfd,#00efff,#00deff,#00d0ff,#00caff,#00c5ff,#00c5ff,#00c7ff,#00cbff,#00d7ff,#00e3ff,#00eaff,#00eeff,#00f3ff,#00f5ff,#00f8ff,#00faff,#00fdff,#00fdfd,#00f4f4,#00ebeb,#00dede,#00cdcd,#00bcbc,#00a6a6,#009292,#007e7e,#006b6b,#005a5a,#004646,#003333,#002323,#001515,#000a0a,#000505,#000303,#000202)"></div><div style="top:126px;height:2px;background:linear-gradient(90deg,#000606,#000c0c,#001414,#002020,#003232,#004848,#006565,#008787,#00a1a1,#00a9a9,#00b1b1,#00b2b2,#00b2b2,#00b2b2,#00b2b2,#00b2b2,#00b2b2,#00b2b2,#00b2b2,#00b2b2,#00b2b2,#00b2b2,#00b1b1,#00b0b0,#00b7b7,#00bebe,#00cccc,#00e2e2,#00fafa,#00f3ff,#00e4ff,#00d9ff,#00d5ff,#00d1ff,#00d3ff,#00d5ff,#00daff,#00e5ff,#00efff,#00f5ff,#00f9ff,#00fdff,#00fefe,#00f7f7,#00f1f1,#00eaea,#00e3e3,#00dcdc,#00d4d4,#00c9c9,#00bbbb,#00adad,#009999,#008686,#007474,#006262,#005252,#004040,#002e2e,#001f1f,#001313,#000909,#000505,#000303,#000202)"></div><div style="top:128px;height:2px;background:linear-gradient(90deg,#000e0e,#001515,#001d1d,#002929,#003a3a,#004d4d,#006868,#008686,#009e9e,#00a7a7,#00b0b0,#00b2b2,#00b2b2,#00b2b2,#00b2b2,#00b2b2,#00b2b2,#00b2b2,#00b2b2,#00b2b2,#00b2b2,#00b1b1,#00afaf,#00adad,#00b4b4,#00bbbb,#00c8c8,#00dfdf,#00f6f6,#00f7ff,#00edff,#00e5ff,#00e3ff,#00e1ff,#00e4ff,#00e7ff,#00ebff,#00f3ff,#00faff,#00feff,#00f9f9,#00f1f1,#00ecec,#00e7e7,#00e2e2,#00dcdc,#00d7d7,#00d0d0,#00c9c9,#00bebe,#00b0b0,#00a2a2,#008f8f,#007c7c,#006b6b,#005a5a,#004a4a,#003939,#002a2a,#001c1c,#001111,#000909,#000505,#000303,#000202)"></div><div style="top:130px;height:2px;background:linear-gradient(90deg,#001919,#002020,#002828,#003232,#004242,#005353,#006b6b,#008585,#009b9b,#00a6a6,#00b0b0,#00b2b2,#00b2b2,#00b2b2,#00b2b2,#00b2b2,#00b2b2,#00b2b2,#00b2b2,#00b2b2,#00b2b2,#00b0b0,#00adad,#00a9a9,#00b0b0,#00b7b7,#00c5c5,#00dbdb,#00f2f2,#00fcff,#00f5ff,#00f1ff,#00f1ff,#00f2ff,#00f5ff,#00f9ff,#00fdff,#00f8f8,#00eaea,#00e4e4,#00e1e1,#00dddd,#00dada,#00d6d6,#00d3d3,#00cfcf,#00cccc,#00c5c5,#00bebe,#00b3b3,#00a5a5,#009898,#008585,#007373,#006262,#005252,#004343,#003333,#002525,#001919,#001010,#000808,#000505,#000303,#000202)"></div><div style="top:132px;height:2px;background:linear-gradient(90deg,#002727,#002d2d,#003333,#003d3d,#004a4a,#005959,#006d6d,#008484,#009898,#00a4a4,#00b0b0,#00b2b2,#00b2b2,#00b2b2,#00b2b2,#00b2b2,#00b2b2,#00b2b2,#00b2b2,#00b2b2,#00b2b2,#00b0b0,#00abab,#00a6a6,#00acac,#00b3b3,#00c1c1,#00d7d7,#00eeee,#00f8f8,#00feff,#00fdff,#00fdfd,#00f6f6,#00e9e9,#00dcdc,#00d1d1,#00cdcd,#00c8c8,#00c8c8,#00c9c9,#00caca,#00c9c9,#00c7c7,#00c5c5,#00c3c3,#00c1c1,#00baba,#00b3b3,#00a9a9,#009b9b,#008e8e,#007c7c,#006a6a,#005959,#004a4a,#003b3b,#002d2d,#002020,#001616,#000e0e,#000808,#000505,#000303,#000202)"></div><div style="top:134px;height:2px;background:linear-gradient(90deg,#003636,#003b3b,#004040,#004848,#005353,#005f5f,#007070,#008484,#009595,#00a2a2,#00afaf,#00b2b2,#00b2b2,#00b2b2,#00b2b2,#00b2b2,#00b2b2,#00b2b2,#00b2b2,#00b2b2,#00b2b2,#00afaf,#00a8a8,#00a2a2,#00a9a9,#00b0b0,#00bdbd,#00d3d3,#00eaea,#00e9e9,#00e5e5,#00dede,#00d1d1,#00c4c4,#00b7b7,#00a9a9,#00a0a0,#00a4a4,#00a8a8,#00aeae,#00b3b3,#00b8b8,#00b8b8,#00b7b7,#00b7b7,#00b6b6,#00b6b6,#00afaf,#00a8a8,#009e9e,#009191,#008484,#007373,#006161,#005151,#004242,#003434,#002828,#001c1c,#001313,#000d0d,#000808,#000505,#000303,#000202)"></div><div style="top:136px;height:2px;background:linear-gradient(90deg,#004040,#004545,#004a4a,#005151,#005c5c,#006767,#007676,#008787,#009696,#00a3a3,#00b0b0,#00b2b2,#00b2b2,#00b2b2,#00b2b2,#00b2b2,#00b2b2,#00b2b2,#00b2b2,#00b1b1,#00b0b0,#00adad,#00a7a7,#00a1a1,#00a7a7,#00adad,#00b8b8,#00c9c9,#00dcdc,#00d7d7,#00cfcf,#00c4c4,#00b2b2,#00a1a1,#009191,#008383,#007b7b,#008686,#009191,#009c9c,#00a5a5,#00aeae,#00afaf,#00b0b0,#00b0b0,#00b0b0,#00b0b0,#00a9a9,#00a2a2,#009898,#008a8a,#007d7d,#006c6c,#005b5b,#004b4b,#003d3d,#002f2f,#002424,#001919,#001111,#000c0c,#000808,#000505,#000303,#000202)"></div><div style="top:138px;height:2px;background:linear-gradient(90deg,#004747,#004c4c,#005151,#005959,#006464,#007070,#007d7d,#008c8c,#009999,#00a4a4,#00b0b0,#00b2b2,#00b2b2,#00b2b2,#00b2b2,#00b2b2,#00b2b2,#00b2b2,#00b2b2,#00b0b0,#00adad,#00aaaa,#00a5a5,#00a1a1,#00a5a5,#00aaaa,#00b2b2,#00bdbd,#00c9c9,#00c4c4,#00bdbd,#00b0b0,#009999,#008484,#007373,#006363,#005c5c,#006d6d,#007f7f,#008e8e,#009b9b,#00a7a7,#00a9a9,#00abab,#00acac,#00acac,#00acac,#00a6a6,#009f9f,#009494,#008585,#007777,#006666,#005555,#004646,#003838,#002b2b,#002020,#001717,#001010,#000b0b,#000808,#000505,#000303,#000202)"></div><div style="top:140px;height:2px;background:linear-gradient(90deg,#004f4f,#005454,#005a5a,#006161,#006d6d,#007979,#008585,#009191,#009c9c,#00a6a6,#00b0b0,#00b2b2,#00b2b2,#00b2b2,#00b2b2,#00b2b2,#00b2b2,#00b2b2,#00b2b2,#00aeae,#00abab,#00a7a7,#00a4a4,#00a1a1,#00a4a4,#00a7a7,#00acac,#00b1b1,#00b7b7,#00b2b2,#00abab,#009d9d,#008282,#006969,#005757,#004747,#004040,#005656,#006d6d,#008080,#009090,#00a0a0,#00a4a4,#00a7a7,#00a9a9,#00a9a9,#00a9a9,#00a2a2,#009b9b,#009090,#008080,#007171,#006060,#005050,#004141,#003333,#002727,#001d1d,#001515,#000e0e,#000b0b,#000707,#000505,#000303,#000202)"></div><div style="top:142px;height:2px;background:linear-gradient(90deg,#005757,#005d5d,#006262,#006a6a,#007676,#008282,#008c8c,#009696,#009f9f,#00a8a8,#00b1b1,#00b2b2,#00b2b2,#00b2b2,#00b2b2,#00b2b2,#00b2b2,#00b2b2,#00b2b2,#00adad,#00a8a8,#00a4a4,#00a3a3,#00a1a1,#00a3a3,#00a4a4,#00a6a6,#00a6a6,#00a6a6,#00a0a0,#009999,#008a8a,#006c6c,#005151,#003e3e,#002f2f,#002929,#004141,#005c5c,#007373,#008787,#009999,#009e9e,#00a3a3,#00a5a5,#00a5a5,#00a5a5,#009f9f,#009898,#008c8c,#007b7b,#006b6b,#005a5a,#004b4b,#003c3c,#002f2f,#002323,#001a1a,#001313,#000d0d,#000a0a,#000707,#000505,#000303,#000202)"></div><div style="top:144px;height:2px;background:linear-gradient(90deg,#005f5f,#006565,#006b6b,#007373,#007f7f,#008c8c,#009494,#009b9b,#00a2a2,#00aaaa,#00b1b1,#00b2b2,#00b2b2,#00b2b2,#00b2b2,#00b2b2,#00b2b2,#00b2b2,#00b2b2,#00abab,#00a5a5,#00a2a2,#00a1a1,#00a1a1,#00a1a1,#00a2a2,#00a0a0,#009b9b,#009595,#008f8f,#008989,#007979,#005858,#003b3b,#002828,#001a1a,#001515,#002e2e,#004d4d,#006666,#007d7d,#009393,#009999,#009f9f,#00a2a2,#00a2a2,#00a2a2,#009b9b,#009595,#008989,#007676,#006565,#005555,#004646,#003838,#002b2b,#001f1f,#001717,#001111,#000c0c,#000909,#000707,#000505,#000303,#000202)"></div><div style="top:146px;height:2px;background:linear-gradient(90deg,#006464,#006a6a,#006f6f,#007878,#008383,#008f8f,#009696,#009c9c,#00a3a3,#00aaaa,#00b1b1,#00b2b2,#00b2b2,#00b2b2,#00b2b2,#00b2b2,#00b2b2,#00b2b2,#00b2b2,#00abab,#00a4a4,#00a1a1,#00a1a1,#00a1a1,#00a0a0,#009f9f,#009b9b,#009494,#008c8c,#008686,#008080,#006f6f,#004c4c,#002f2f,#001e1e,#001212,#000f0f,#002727,#004646,#006060,#007676,#008c8c,#009494,#009b9b,#009e9e,#009e9e,#009e9e,#009898,#009191,#008585,#007373,#006262,#005151,#004242,#003535,#002828,#001d1d,#001515,#000f0f,#000b0b,#000808,#000606,#000505,#000303,#000202)"></div><div style="top:148px;height:2px;background:linear-gradient(90deg,#006767,#006d6d,#007373,#007a7a,#008484,#008f8f,#009696,#009c9c,#00a3a3,#00aaaa,#00b1b1,#00b2b2,#00b2b2,#00b2b2,#00b2b2,#00b2b2,#00b2b2,#00b2b2,#00b2b2,#00abab,#00a4a4,#00a1a1,#00a1a1,#00a1a1,#009f9f,#009c9c,#009797,#008e8e,#008686,#007f7f,#007979,#006868,#004545,#002727,#001818,#000e0e,#000c0c,#002424,#004444,#005d5d,#007171,#008686,#008e8e,#009797,#009b9b,#009b9b,#009b9b,#009494,#008e8e,#008282,#007070,#005f5f,#004f4f,#004040,#003232,#002626,#001b1b,#001414,#000e0e,#000a0a,#000707,#000505,#000404,#000303,#000202)"></div><div style="top:150px;height:2px;background:linear-gradient(90deg,#006a6a,#007070,#007676,#007d7d,#008686,#008f8f,#009696,#009c9c,#00a3a3,#00aaaa,#00b1b1,#00b2b2,#00b2b2,#00b2b2,#00b2b2,#00b2b2,#00b2b2,#00b2b2,#00b2b2,#00abab,#00a4a4,#00a1a1,#00a1a1,#00a1a1,#009d9d,#009a9a,#009393,#008989,#008080,#007979,#007373,#006161,#003d3d,#002020,#001313,#000b0b,#000a0a,#002121,#004141,#005959,#006c6c,#008080,#008989,#009393,#009898,#009898,#009898,#009191,#008b8b,#007f7f,#006d6d,#005c5c,#004c4c,#003e3e,#003030,#002424,#001919,#001212,#000d0d,#000808,#000606,#000404,#000303,#000303,#000202)"></div><div style="top:152px;height:2px;background:linear-gradient(90deg,#006d6d,#007373,#007979,#007f7f,#008787,#008f8f,#009696,#009c9c,#00a3a3,#00aaaa,#00b1b1,#00b2b2,#00b2b2,#00b2b2,#00b2b2,#00b2b2,#00b2b2,#00b2b2,#00b2b2,#00abab,#00a4a4,#00a1a1,#00a1a1,#00a1a1,#009c9c,#009797,#008f8f,#008484,#007979,#007373,#006d6d,#005b5b,#003636,#001919,#000e0e,#000808,#000707,#001e1e,#003e3e,#005656,#006868,#007a7a,#008484,#008f8f,#009494,#009494,#009494,#008e8e,#008787,#007c7c,#006a6a,#005959,#004a4a,#003b3b,#002e2e,#002222,#001717,#001111,#000b0b,#000707,#000505,#000404,#000303,#000202,#000202)"></div><div style="top:154px;height:2px;background:linear-gradient(90deg,#007070,#007676,#007c7c,#008282,#008989,#008f8f,#009696,#009c9c,#00a3a3,#00aaaa,#00b1b1,#00b2b2,#00b2b2,#00b2b2,#00b2b2,#00b2b2,#00b2b2,#00b2b2,#00b2b2,#00abab,#00a4a4,#00a1a1,#00a1a1,#00a1a1,#009b9b,#009494,#008b8b,#007f7f,#007373,#006d6d,#006767,#005555,#002f2f,#001212,#000a0a,#000505,#000606,#001b1b,#003b3b,#005252,#006363,#007474,#007f7f,#008c8c,#009191,#009191,#009191,#008b8b,#008484,#007878,#006767,#005656,#004747,#003939,#002c2c,#002020,#001616,#000f0f,#000a0a,#000606,#000404,#000303,#000202,#000202,#000202)"></div></div><div class="hm" style="left:381px;top:48px;width:256px;height:155px"><div style="top:0px;height:2px;background:linear-gradient(90deg,#ff1900,#ff1b00,#ff1e00,#ff2000,#ff2300,#ff2600,#ff2800,#ff2b00,#ff2d00,#ff3000,#ff3200,#ff3500,#ff3700,#ff3a00,#ff3c00,#ff3f00,#ff4000,#ff4000,#ff4000,#ff3f00,#ff3f00,#ff3700,#ff2600,#ff1600,#ff0900,#fb0000,#ff0200,#ff2600,#ff4a00,#ff8100,#ffbd00,#ffe800,#ffed00,#fff300,#fff500,#fff600,#fff700,#fff700,#fff700,#fff700,#fff600,#fff500,#fff300,#fff000,#fff000,#fff300,#fff600,#fff700,#fff700,#fff800,#fff800,#fff900,#fff900,#fff900,#fff900,#fff900,#fffb00,#f5f500,#d8d800,#c8c800,#bcbc00,#b0b000,#a7a700,#9f9f00,#979700)"></div><div style="top:2px;height:2px;background:linear-gradient(90deg,#ff1800,#ff1a00,#ff1c00,#ff1f00,#ff2200,#ff2600,#ff2800,#ff2b00,#ff2d00,#ff3000,#ff3200,#ff3500,#ff3700,#ff3a00,#ff3c00,#ff3f00,#ff4000,#ff4000,#ff4000,#ff3f00,#ff3e00,#ff3700,#ff2800,#ff1a00,#ff0c00,#fd0000,#ff0000,#ff1c00,#ff3800,#ff6d00,#ffa600,#ffd300,#ffdd00,#ffe800,#ffed00,#fff000,#fff300,#fff400,#fff400,#fff300,#fff100,#ffef00,#ffec00,#ffea00,#ffea00,#ffee00,#fff100,#fff200,#fff400,#fff500,#fff700,#fff800,#fff900,#fff900,#fff900,#fff900,#fffb00,#f5f500,#d7d700,#c7c700,#baba00,#aeae00,#a4a400,#9c9c00,#949400)"></div><div style="top:4px;height:2px;background:linear-gradient(90deg,#ff1600,#ff1900,#ff1b00,#ff1e00,#ff2200,#ff2600,#ff2800,#ff2b00,#ff2d00,#ff3000,#ff3200,#ff3500,#ff3700,#ff3a00,#ff3c00,#ff3f00,#ff4000,#ff4000,#ff4000,#ff3e00,#ff3d00,#ff3600,#ff2a00,#ff1d00,#ff0f00,#ff0000,#fd0000,#ff1200,#ff2600,#ff5800,#ff9000,#ffbd00,#ffcd00,#ffde00,#ffe600,#ffeb00,#ffef00,#fff000,#fff200,#fff000,#ffec00,#ffe800,#ffe600,#ffe300,#ffe400,#ffe800,#ffec00,#ffee00,#fff100,#fff300,#fff600,#fff800,#fff900,#fff900,#fff900,#fff900,#fffb00,#f4f400,#d6d600,#c5c500,#b8b800,#abab00,#a1a100,#999900,#919100)"></div><div style="top:6px;height:2px;background:linear-gradient(90deg,#ff1500,#ff1700,#ff1a00,#ff1d00,#ff2100,#ff2500,#ff2800,#ff2b00,#ff2d00,#ff3000,#ff3200,#ff3500,#ff3700,#ff3a00,#ff3c00,#ff3f00,#ff4000,#ff4000,#ff4000,#ff3e00,#ff3c00,#ff3600,#ff2c00,#ff2100,#ff1100,#ff0100,#fb0000,#ff0800,#ff1400,#ff4300,#ff7a00,#ffa700,#ffbd00,#ffd300,#ffde00,#ffe500,#ffeb00,#ffed00,#ffef00,#ffec00,#ffe700,#ffe200,#ffdf00,#ffdd00,#ffde00,#ffe200,#ffe600,#ffea00,#ffee00,#fff100,#fff500,#fff800,#fff900,#fff900,#fff900,#fff900,#fffb00,#f4f400,#d6d600,#c4c400,#b6b600,#a9a900,#9f9f00,#969600,#8e8e00)"></div><div style="top:8px;height:2px;background:linear-gradient(90deg,#ff1400,#ff1600,#ff1800,#ff1c00,#ff2100,#ff2500,#ff2800,#ff2b00,#ff2d00,#ff3000,#ff3200,#ff3500,#ff3700,#ff3a00,#ff3c00,#ff3f00,#ff4000,#ff4000,#ff4000,#ff3d00,#ff3b00,#ff3600,#ff2d00,#ff2500,#ff1400,#ff0300,#f90000,#fd0000,#ff0200,#ff2f00,#ff6400,#ff9200,#ffad00,#ffc900,#ffd700,#ffe000,#ffe800,#ffea00,#ffec00,#ffe900,#ffe200,#ffdb00,#ffd900,#ffd600,#ffd800,#ffdc00,#ffe100,#ffe600,#ffea00,#ffef00,#fff300,#fff800,#fff900,#fff900,#fff900,#fff900,#fffb00,#f4f400,#d5d500,#c2c200,#b4b400,#a6a600,#9c9c00,#939300,#8b8b00)"></div><div style="top:10px;height:2px;background:linear-gradient(90deg,#ff1200,#ff1500,#ff1700,#ff1b00,#ff2000,#ff2500,#ff2800,#ff2b00,#ff2e00,#ff3100,#ff3300,#ff3600,#ff3800,#ff3a00,#ff3d00,#ff3f00,#ff4000,#ff3f00,#ff3f00,#ff3c00,#ff3a00,#ff3500,#ff2e00,#ff2700,#ff1700,#ff0600,#fb0000,#f90000,#f70000,#ff2000,#ff5100,#ff7c00,#ff9a00,#ffb800,#ffc900,#ffd400,#ffdd00,#ffe100,#ffe400,#ffe100,#ffdb00,#ffd400,#ffd200,#ffd000,#ffd100,#ffd600,#ffdb00,#ffe000,#ffe500,#ffea00,#fff000,#fff500,#fff600,#fff700,#fff800,#fff900,#fffa00,#f4f400,#d4d400,#c1c100,#b2b200,#a4a400,#999900,#909000,#888800)"></div><div style="top:12px;height:2px;background:linear-gradient(90deg,#ff1100,#ff1300,#ff1600,#ff1900,#ff1e00,#ff2300,#ff2800,#ff2c00,#ff2f00,#ff3200,#ff3400,#ff3700,#ff3900,#ff3c00,#ff3d00,#ff3f00,#ff3f00,#ff3e00,#ff3e00,#ff3b00,#ff3900,#ff3400,#ff2d00,#ff2700,#ff1900,#ff0a00,#ff0000,#f90000,#f30000,#ff1600,#ff4000,#ff6600,#ff8500,#ffa400,#ffb500,#ffc300,#ffce00,#ffd300,#ffd800,#ffd600,#ffd100,#ffcd00,#ffcb00,#ffc900,#ffca00,#ffcf00,#ffd300,#ffd900,#ffde00,#ffe400,#ffea00,#fff000,#fff200,#fff400,#fff700,#fff800,#fff900,#f4f400,#d3d300,#bfbf00,#b0b000,#a2a200,#979700,#8d8d00,#858500)"></div><div style="top:14px;height:2px;background:linear-gradient(90deg,#ff1000,#ff1200,#ff1500,#ff1800,#ff1d00,#ff2200,#ff2700,#ff2c00,#ff3100,#ff3300,#ff3600,#ff3800,#ff3b00,#ff3d00,#ff3e00,#ff3f00,#ff3f00,#ff3e00,#ff3c00,#ff3a00,#ff3700,#ff3300,#ff2d00,#ff2700,#ff1b00,#ff0e00,#ff0300,#f90000,#f00000,#ff0d00,#ff2f00,#ff5000,#ff7000,#ff8f00,#ffa200,#ffb100,#ffbf00,#ffc500,#ffcc00,#ffcc00,#ffc800,#ffc500,#ffc400,#ffc200,#ffc400,#ffc700,#ffcb00,#ffd100,#ffd800,#ffde00,#ffe400,#ffeb00,#ffee00,#fff200,#fff500,#fff600,#fff800,#f4f400,#d2d200,#bebe00,#aeae00,#9f9f00,#949400,#8a8a00,#828200)"></div><div style="top:16px;height:2px;background:linear-gradient(90deg,#ff0f00,#ff1100,#ff1300,#ff1700,#ff1c00,#ff2100,#ff2700,#ff2d00,#ff3200,#ff3400,#ff3700,#ff3900,#ff3c00,#ff3e00,#ff3f00,#ff3f00,#ff3f00,#ff3d00,#ff3b00,#ff3900,#ff3600,#ff3200,#ff2c00,#ff2700,#ff1d00,#ff1200,#ff0700,#f90000,#ed0000,#ff0300,#ff1e00,#ff3a00,#ff5a00,#ff7a00,#ff8f00,#ffa000,#ffb000,#ffb800,#ffc000,#ffc100,#ffbf00,#ffbd00,#ffbc00,#ffbc00,#ffbd00,#ffc000,#ffc300,#ffca00,#ffd100,#ffd800,#ffdf00,#ffe500,#ffea00,#ffef00,#fff400,#fff500,#fff700,#f3f300,#d1d100,#bcbc00,#acac00,#9d9d00,#919100,#878700,#7f7f00)"></div><div style="top:18px;height:2px;background:linear-gradient(90deg,#ff0d00,#ff1000,#ff1200,#ff1500,#ff1a00,#ff1f00,#ff2600,#ff2d00,#ff3300,#ff3600,#ff3800,#ff3b00,#ff3d00,#ff3f00,#ff3f00,#ff4000,#ff3e00,#ff3c00,#ff3a00,#ff3700,#ff3500,#ff3100,#ff2c00,#ff2700,#ff1e00,#ff1600,#ff0b00,#fa0000,#ea0000,#f80000,#ff0d00,#ff2500,#ff4500,#ff6500,#ff7c00,#ff8f00,#ffa100,#ffaa00,#ffb300,#ffb600,#ffb600,#ffb500,#ffb500,#ffb500,#ffb600,#ffb900,#ffbc00,#ffc300,#ffca00,#ffd100,#ffd900,#ffe000,#ffe600,#ffed00,#fff300,#fff400,#fff700,#f3f300,#d1d100,#bbbb00,#aaaa00,#9a9a00,#8e8e00,#848400,#7c7c00)"></div><div style="top:20px;height:2px;background:linear-gradient(90deg,#ff0b00,#ff0d00,#ff1000,#ff1300,#ff1900,#ff1e00,#ff2500,#ff2d00,#ff3400,#ff3700,#ff3900,#ff3c00,#ff3e00,#ff4100,#ff4000,#ff4000,#ff3e00,#ff3c00,#ff3900,#ff3700,#ff3400,#ff3100,#ff2c00,#ff2700,#ff2000,#ff1800,#ff0d00,#fb0000,#e90000,#f30000,#ff0300,#ff1700,#ff3600,#ff5400,#ff6b00,#ff7f00,#ff9100,#ff9c00,#ffa700,#ffab00,#ffac00,#ffad00,#ffad00,#ffae00,#ffaf00,#ffb100,#ffb400,#ffbb00,#ffc300,#ffca00,#ffd200,#ffda00,#ffe100,#ffe900,#fff000,#fff100,#fff500,#f3f300,#d0d000,#b9b900,#a8a800,#989800,#8c8c00,#828200,#787800)"></div><div style="top:22px;height:2px;background:linear-gradient(90deg,#ff0900,#ff0b00,#ff0d00,#ff1100,#ff1700,#ff1d00,#ff2500,#ff2d00,#ff3400,#ff3700,#ff3b00,#ff3d00,#ff4000,#ff4200,#ff4100,#ff4000,#ff3e00,#ff3c00,#ff3900,#ff3700,#ff3400,#ff3100,#ff2d00,#ff2900,#ff2100,#ff1a00,#ff0e00,#fc0000,#ea0000,#f10000,#fd0000,#ff0e00,#ff2a00,#ff4600,#ff5c00,#ff7000,#ff8200,#ff8e00,#ff9900,#ff9f00,#ffa200,#ffa400,#ffa500,#ffa600,#ffa700,#ffaa00,#ffac00,#ffb400,#ffbb00,#ffc300,#ffcb00,#ffd400,#ffdc00,#ffe400,#ffec00,#ffee00,#fff200,#f3f300,#cfcf00,#b8b800,#a6a600,#969600,#898900,#7f7f00,#757500)"></div><div style="top:24px;height:2px;background:linear-gradient(90deg,#ff0600,#ff0800,#ff0b00,#ff0f00,#ff1500,#ff1b00,#ff2400,#ff2d00,#ff3400,#ff3800,#ff3c00,#ff3f00,#ff4100,#ff4300,#ff4200,#ff4000,#ff3e00,#ff3c00,#ff3900,#ff3700,#ff3400,#ff3100,#ff2d00,#ff2a00,#ff2300,#ff1b00,#ff1000,#fd0000,#ec0000,#f00000,#f80000,#ff0600,#ff1e00,#ff3700,#ff4c00,#ff6000,#ff7300,#ff7f00,#ff8c00,#ff9300,#ff9700,#ff9b00,#ff9c00,#ff9e00,#ff9f00,#ffa200,#ffa400,#ffac00,#ffb300,#ffbb00,#ffc400,#ffcd00,#ffd600,#ffdf00,#ffe800,#ffeb00,#ffef00,#f3f300,#cece00,#b6b600,#a4a400,#939300,#868600,#7c7c00,#727200)"></div><div style="top:26px;height:2px;background:linear-gradient(90deg,#ff0300,#ff0600,#ff0800,#ff0c00,#ff1300,#ff1a00,#ff2300,#ff2c00,#ff3400,#ff3800,#ff3d00,#ff4000,#ff4200,#ff4400,#ff4200,#ff4000,#ff3e00,#ff3c00,#ff3900,#ff3700,#ff3400,#ff3100,#ff2e00,#ff2b00,#ff2400,#ff1c00,#ff1100,#fe0000,#ed0000,#ee0000,#f30000,#fc0000,#ff1300,#ff2800,#ff3d00,#ff5100,#ff6300,#ff7100,#ff7f00,#ff8700,#ff8d00,#ff9200,#ff9400,#ff9600,#ff9800,#ff9a00,#ff9d00,#ffa400,#ffac00,#ffb400,#ffbd00,#ffc600,#ffd000,#ffda00,#ffe400,#ffe700,#ffed00,#f2f200,#cdcd00,#b5b500,#a2a200,#919100,#848400,#797900,#6f6f00)"></div><div style="top:28px;height:2px;background:linear-gradient(90deg,#ff0100,#ff0300,#ff0600,#ff0a00,#ff1100,#ff1900,#ff2200,#ff2c00,#ff3400,#ff3900,#ff3e00,#ff4100,#ff4400,#ff4500,#ff4300,#ff4100,#ff3e00,#ff3c00,#ff3900,#ff3700,#ff3400,#ff3200,#ff2f00,#ff2c00,#ff2500,#ff1e00,#ff1200,#ff0100,#ee0000,#ec0000,#ee0000,#f40000,#ff0700,#ff1900,#ff2d00,#ff4100,#ff5400,#ff6300,#ff7100,#ff7b00,#ff8200,#ff8900,#ff8b00,#ff8e00,#ff9000,#ff9200,#ff9500,#ff9c00,#ffa400,#ffac00,#ffb600,#ffc000,#ffcb00,#ffd500,#ffe000,#ffe400,#ffea00,#f2f200,#cccc00,#b4b400,#a0a000,#8e8e00,#818100,#767600,#6c6c00)"></div><div style="top:30px;height:2px;background:linear-gradient(90deg,#fe0000,#ff0100,#ff0400,#ff0800,#ff1000,#ff1700,#ff2100,#ff2b00,#ff3400,#ff3900,#ff3e00,#ff4200,#ff4500,#ff4700,#ff4400,#ff4200,#ff3f00,#ff3d00,#ff3a00,#ff3800,#ff3500,#ff3300,#ff3000,#ff2e00,#ff2600,#ff1f00,#ff1400,#ff0400,#f30000,#ef0000,#ec0000,#ef0000,#fd0000,#ff0d00,#ff1f00,#ff3200,#ff4500,#ff5400,#ff6300,#ff6d00,#ff7400,#ff7b00,#ff7e00,#ff8000,#ff8300,#ff8700,#ff8b00,#ff9200,#ff9a00,#ffa300,#ffae00,#ffb800,#ffc200,#ffcc00,#ffd500,#ffda00,#ffe200,#f2f200,#cccc00,#b2b200,#9f9f00,#8c8c00,#7e7e00,#737300,#696900)"></div><div style="top:32px;height:2px;background:linear-gradient(90deg,#fd0000,#ff0000,#ff0300,#ff0700,#ff0e00,#ff1600,#ff2000,#ff2900,#ff3200,#ff3800,#ff3e00,#ff4200,#ff4500,#ff4800,#ff4500,#ff4300,#ff4000,#ff3e00,#ff3b00,#ff3900,#ff3600,#ff3400,#ff3100,#ff2f00,#ff2800,#ff2000,#ff1600,#ff0800,#f90000,#f20000,#ed0000,#ed0000,#f60000,#ff0100,#ff1100,#ff2300,#ff3500,#ff4400,#ff5300,#ff5d00,#ff6500,#ff6c00,#ff6e00,#ff7100,#ff7500,#ff7a00,#ff7f00,#ff8700,#ff8f00,#ff9900,#ffa500,#ffb100,#ffb900,#ffc000,#ffc700,#ffcd00,#ffd900,#f2f200,#cbcb00,#b1b100,#9d9d00,#898900,#7b7b00,#707000,#666600)"></div><div style="top:34px;height:2px;background:linear-gradient(90deg,#fc0000,#fe0000,#ff0100,#ff0600,#ff0d00,#ff1500,#ff1e00,#ff2800,#ff3100,#ff3800,#ff3e00,#ff4200,#ff4600,#ff4900,#ff4700,#ff4400,#ff4200,#ff3f00,#ff3d00,#ff3a00,#ff3800,#ff3500,#ff3300,#ff3000,#ff2900,#ff2200,#ff1800,#ff0c00,#ff0000,#f60000,#ee0000,#ea0000,#ef0000,#f40000,#ff0400,#ff1500,#ff2600,#ff3500,#ff4400,#ff4e00,#ff5500,#ff5c00,#ff5f00,#ff6100,#ff6600,#ff6d00,#ff7300,#ff7c00,#ff8500,#ff8f00,#ff9c00,#ffa900,#ffaf00,#ffb400,#ffb900,#ffc000,#ffcf00,#f2f200,#caca00,#afaf00,#9b9b00,#878700,#797900,#6d6d00,#636300)"></div><div style="top:36px;height:2px;background:linear-gradient(90deg,#fa0000,#fd0000,#ff0000,#ff0400,#ff0c00,#ff1300,#ff1d00,#ff2700,#ff3000,#ff3700,#ff3e00,#ff4300,#ff4700,#ff4a00,#ff4800,#ff4500,#ff4300,#ff4000,#ff3e00,#ff3c00,#ff3900,#ff3700,#ff3400,#ff3200,#ff2a00,#ff2300,#ff1a00,#ff1000,#ff0600,#fa0000,#ef0000,#e70000,#e80000,#e90000,#f50000,#ff0600,#ff1600,#ff2500,#ff3400,#ff3e00,#ff4600,#ff4d00,#ff4f00,#ff5200,#ff5700,#ff5f00,#ff6800,#ff7100,#ff7a00,#ff8500,#ff9300,#ffa100,#ffa500,#ffa800,#ffab00,#ffb400,#ffc500,#f2f200,#c9c900,#aeae00,#999900,#858500,#767600,#6a6a00,#606000)"></div><div style="top:38px;height:2px;background:linear-gradient(90deg,#f90000,#fb0000,#fe0000,#ff0300,#ff0b00,#ff1200,#ff1c00,#ff2600,#ff2f00,#ff3600,#ff3e00,#ff4300,#ff4800,#ff4c00,#ff4900,#ff4700,#ff4400,#ff4200,#ff3f00,#ff3d00,#ff3a00,#ff3800,#ff3500,#ff3300,#ff2c00,#ff2400,#ff1c00,#ff1400,#ff0c00,#fe0000,#f00000,#e50000,#e10000,#dd0000,#e70000,#f60000,#ff0700,#ff1600,#ff2500,#ff2f00,#ff3600,#ff3d00,#ff4000,#ff4200,#ff4900,#ff5200,#ff5c00,#ff6600,#ff7000,#ff7b00,#ff8a00,#ff9900,#ff9b00,#ff9c00,#ff9d00,#ffa700,#ffbb00,#f1f100,#c8c800,#acac00,#979700,#828200,#737300,#676700,#5d5d00)"></div><div style="top:40px;height:2px;background:linear-gradient(90deg,#f80000,#fa0000,#fc0000,#ff0200,#ff0900,#ff1100,#ff1a00,#ff2400,#ff2e00,#ff3600,#ff3d00,#ff4300,#ff4800,#ff4c00,#ff4a00,#ff4800,#ff4600,#ff4300,#ff4100,#ff3e00,#ff3c00,#ff3900,#ff3700,#ff3400,#ff2d00,#ff2600,#ff1f00,#ff1700,#ff0f00,#ff0200,#f30000,#e80000,#e30000,#de0000,#e50000,#ef0000,#fb0000,#ff0900,#ff1600,#ff2000,#ff2900,#ff3100,#ff3300,#ff3600,#ff3c00,#ff4600,#ff4f00,#ff5a00,#ff6500,#ff7200,#ff8100,#ff9100,#ff9300,#ff9200,#ff9100,#ff9d00,#ffb400,#f1f100,#c7c700,#abab00,#959500,#808000,#717100,#646400,#595900)"></div><div style="top:42px;height:2px;background:linear-gradient(90deg,#f60000,#f90000,#fb0000,#ff0100,#ff0800,#ff1000,#ff1900,#ff2300,#ff2d00,#ff3500,#ff3d00,#ff4300,#ff4800,#ff4c00,#ff4b00,#ff4900,#ff4700,#ff4400,#ff4200,#ff3f00,#ff3d00,#ff3a00,#ff3800,#ff3500,#ff2f00,#ff2800,#ff2100,#ff1900,#ff1000,#ff0500,#f70000,#ed0000,#e80000,#e30000,#e60000,#eb0000,#f10000,#fc0000,#ff0700,#ff1200,#ff1c00,#ff2500,#ff2800,#ff2a00,#ff3000,#ff3900,#ff4200,#ff4e00,#ff5a00,#ff6800,#ff7800,#ff8900,#ff8a00,#ff8900,#ff8700,#ff9400,#ffad00,#f1f100,#c7c700,#a9a900,#939300,#7d7d00,#6e6e00,#616100,#565600)"></div><div style="top:44px;height:2px;background:linear-gradient(90deg,#f50000,#f70000,#fa0000,#fe0000,#ff0700,#ff0e00,#ff1800,#ff2200,#ff2b00,#ff3400,#ff3d00,#ff4300,#ff4800,#ff4c00,#ff4b00,#ff4a00,#ff4800,#ff4600,#ff4300,#ff4100,#ff3e00,#ff3c00,#ff3900,#ff3700,#ff3100,#ff2b00,#ff2300,#ff1b00,#ff1200,#ff0700,#fb0000,#f20000,#ed0000,#e80000,#e70000,#e60000,#e80000,#f00000,#f80000,#ff0300,#ff0f00,#ff1a00,#ff1c00,#ff1f00,#ff2400,#ff2d00,#ff3500,#ff4200,#ff4f00,#ff5e00,#ff7000,#ff8100,#ff8200,#ff7f00,#ff7d00,#ff8b00,#ffa600,#f1f100,#c6c600,#a8a800,#919100,#7b7b00,#6b6b00,#5f5f00,#535300)"></div><div style="top:46px;height:2px;background:linear-gradient(90deg,#f40000,#f60000,#f90000,#fd0000,#ff0500,#ff0d00,#ff1600,#ff2000,#ff2a00,#ff3400,#ff3d00,#ff4300,#ff4800,#ff4c00,#ff4c00,#ff4b00,#ff4900,#ff4700,#ff4400,#ff4200,#ff3f00,#ff3d00,#ff3a00,#ff3800,#ff3300,#ff2d00,#ff2600,#ff1c00,#ff1300,#ff0a00,#ff0000,#f70000,#f20000,#ed0000,#e80000,#e20000,#de0000,#e40000,#e90000,#f30000,#ff0200,#ff0e00,#ff1000,#ff1300,#ff1800,#ff2100,#ff2900,#ff3600,#ff4400,#ff5400,#ff6700,#ff7900,#ff7900,#ff7600,#ff7200,#ff8100,#ff9e00,#f1f100,#c5c500,#a6a600,#8f8f00,#787800,#686800,#5c5c00,#505000)"></div><div style="top:48px;height:2px;background:linear-gradient(90deg,#f20000,#f50000,#f70000,#fc0000,#ff0400,#ff0c00,#ff1500,#ff1f00,#ff2900,#ff3300,#ff3d00,#ff4300,#ff4800,#ff4c00,#ff4c00,#ff4c00,#ff4b00,#ff4800,#ff4600,#ff4300,#ff4100,#ff3e00,#ff3c00,#ff3900,#ff3400,#ff2f00,#ff2800,#ff1e00,#ff1400,#ff0c00,#ff0500,#fd0000,#f80000,#f30000,#e90000,#dd0000,#d50000,#d80000,#db0000,#e50000,#f40000,#ff0200,#ff0500,#ff0700,#ff0d00,#ff1400,#ff1c00,#ff2a00,#ff3900,#ff4a00,#ff5e00,#ff7200,#ff7000,#ff6c00,#ff6800,#ff7800,#ff9700,#f1f100,#c4c400,#a5a500,#8d8d00,#767600,#666600,#595900,#4d4d00)"></div><div style="top:50px;height:2px;background:linear-gradient(90deg,#f20000,#f50000,#f70000,#fb0000,#ff0300,#ff0a00,#ff1400,#ff1d00,#ff2700,#ff3100,#ff3c00,#ff4300,#ff4800,#ff4d00,#ff4d00,#ff4d00,#ff4c00,#ff4a00,#ff4700,#ff4500,#ff4200,#ff4000,#ff3d00,#ff3b00,#ff3600,#ff3100,#ff2b00,#ff2100,#ff1700,#ff0f00,#ff0700,#ff0000,#fa0000,#f50000,#eb0000,#e00000,#d80000,#d90000,#da0000,#e20000,#ed0000,#f70000,#f80000,#f90000,#fe0000,#ff0800,#ff1100,#ff1f00,#ff2d00,#ff3c00,#ff4c00,#ff5c00,#ff5e00,#ff5e00,#ff5e00,#ff6f00,#ff9000,#f0f000,#c3c300,#a3a300,#8b8b00,#747400,#636300,#565600,#4a4a00)"></div><div style="top:52px;height:2px;background:linear-gradient(90deg,#f20000,#f50000,#f70000,#fb0000,#ff0300,#ff0900,#ff1200,#ff1b00,#ff2400,#ff2f00,#ff3a00,#ff4200,#ff4800,#ff4d00,#ff4e00,#ff4e00,#ff4d00,#ff4b00,#ff4800,#ff4600,#ff4300,#ff4100,#ff3e00,#ff3c00,#ff3800,#ff3400,#ff2d00,#ff2300,#ff1900,#ff1100,#ff0800,#ff0100,#fb0000,#f60000,#ee0000,#e50000,#de0000,#de0000,#de0000,#e10000,#e70000,#ec0000,#ec0000,#ec0000,#f10000,#fb0000,#ff0600,#ff1400,#ff2100,#ff2d00,#ff3800,#ff4200,#ff4900,#ff4e00,#ff5300,#ff6600,#ff8900,#f0f000,#c2c200,#a2a200,#898900,#717100,#606000,#535300,#474700)"></div><div style="top:54px;height:2px;background:linear-gradient(90deg,#f20000,#f50000,#f70000,#fb0000,#ff0200,#ff0800,#ff1000,#ff1900,#ff2200,#ff2d00,#ff3900,#ff4100,#ff4700,#ff4d00,#ff4e00,#ff5000,#ff4f00,#ff4c00,#ff4a00,#ff4700,#ff4500,#ff4200,#ff4000,#ff3d00,#ff3a00,#ff3600,#ff3000,#ff2600,#ff1c00,#ff1300,#ff0a00,#ff0200,#fc0000,#f70000,#f10000,#ea0000,#e40000,#e20000,#e10000,#e00000,#e10000,#e20000,#e00000,#de0000,#e40000,#ef0000,#fb0000,#ff0800,#ff1400,#ff1e00,#ff2400,#ff2900,#ff3300,#ff3e00,#ff4900,#ff5c00,#ff8200,#f0f000,#c2c200,#a0a000,#878700,#6f6f00,#5e5e00,#505000,#444400)"></div><div style="top:56px;height:2px;background:linear-gradient(90deg,#f20000,#f50000,#f70000,#fb0000,#ff0100,#ff0700,#ff0e00,#ff1600,#ff2000,#ff2b00,#ff3700,#ff4000,#ff4700,#ff4d00,#ff4f00,#ff5100,#ff5000,#ff4d00,#ff4b00,#ff4800,#ff4600,#ff4300,#ff4100,#ff3e00,#ff3b00,#ff3800,#ff3300,#ff2900,#ff1f00,#ff1500,#ff0c00,#ff0300,#fd0000,#f80000,#f40000,#ef0000,#ea0000,#e70000,#e40000,#e00000,#dc0000,#d70000,#d40000,#d10000,#d60000,#e30000,#f10000,#fc0000,#ff0800,#ff0f00,#ff1000,#ff1000,#ff1e00,#ff2e00,#ff3f00,#ff5300,#ff7b00,#f0f000,#c1c100,#9f9f00,#858500,#6c6c00,#5b5b00,#4d4d00,#414100)"></div><div style="top:58px;height:2px;background:linear-gradient(90deg,#f20000,#f50000,#f70000,#fb0000,#ff0100,#ff0600,#ff0d00,#ff1400,#ff1d00,#ff2a00,#ff3600,#ff3f00,#ff4600,#ff4d00,#ff4f00,#ff5200,#ff5100,#ff4f00,#ff4c00,#ff4a00,#ff4700,#ff4500,#ff4200,#ff4000,#ff3d00,#ff3b00,#ff3500,#ff2b00,#ff2100,#ff1700,#ff0d00,#ff0500,#ff0000,#fa0000,#f60000,#f40000,#f10000,#ec0000,#e70000,#df0000,#d60000,#cd0000,#c80000,#c30000,#c90000,#d80000,#e60000,#f10000,#fb0000,#ff0000,#fa0000,#f60000,#ff0900,#ff1f00,#ff3400,#ff4a00,#ff7400,#f0f000,#c0c000,#9d9d00,#838300,#6a6a00,#585800,#4a4a00,#3e3e00)"></div><div style="top:60px;height:2px;background:linear-gradient(90deg,#f20000,#f50000,#f70000,#fa0000,#ff0000,#ff0400,#ff0b00,#ff1300,#ff1c00,#ff2800,#ff3500,#ff3f00,#ff4700,#ff4f00,#ff5200,#ff5500,#ff5400,#ff5200,#ff4f00,#ff4c00,#ff4900,#ff4600,#ff4400,#ff4100,#ff3f00,#ff3c00,#ff3700,#ff2d00,#ff2400,#ff1a00,#ff1000,#ff0700,#ff0200,#fb0000,#f80000,#f50000,#f30000,#ee0000,#e90000,#e20000,#d90000,#d00000,#c80000,#c10000,#c30000,#ce0000,#d90000,#e10000,#ea0000,#ee0000,#eb0000,#e70000,#fa0000,#ff1100,#ff2800,#ff3f00,#ff6b00,#f0f000,#bfbf00,#9c9c00,#818100,#686800,#555500,#474700,#3a3a00)"></div><div style="top:62px;height:2px;background:linear-gradient(90deg,#f20000,#f50000,#f70000,#fa0000,#fe0000,#ff0300,#ff0a00,#ff1200,#ff1a00,#ff2700,#ff3300,#ff3e00,#ff4900,#ff5200,#ff5500,#ff5900,#ff5800,#ff5500,#ff5100,#ff4e00,#ff4a00,#ff4700,#ff4500,#ff4200,#ff4000,#ff3d00,#ff3800,#ff2f00,#ff2600,#ff1c00,#ff1200,#ff0900,#ff0400,#fd0000,#f90000,#f70000,#f40000,#f00000,#ec0000,#e50000,#dd0000,#d50000,#ca0000,#bf0000,#be0000,#c40000,#cb0000,#d20000,#d90000,#dd0000,#db0000,#da0000,#ed0000,#ff0500,#ff1b00,#ff3300,#ff6300,#efef00,#bebe00,#9b9b00,#7f7f00,#656500,#535300,#444400,#373700)"></div><div style="top:64px;height:2px;background:linear-gradient(90deg,#f20000,#f50000,#f70000,#fa0000,#fd0000,#ff0200,#ff0900,#ff1000,#ff1900,#ff2600,#ff3200,#ff3e00,#ff4a00,#ff5500,#ff5900,#ff5c00,#ff5c00,#ff5800,#ff5400,#ff5000,#ff4c00,#ff4900,#ff4600,#ff4400,#ff4100,#ff3f00,#ff3a00,#ff3100,#ff2900,#ff1f00,#ff1500,#ff0c00,#ff0500,#fe0000,#fa0000,#f80000,#f50000,#f20000,#ee0000,#e80000,#e10000,#da0000,#cc0000,#be0000,#b90000,#bb0000,#bd0000,#c20000,#c80000,#cb0000,#cc0000,#cd0000,#e00000,#f70000,#ff0e00,#ff2800,#ff5a00,#efef00,#bdbd00,#999900,#7d7d00,#636300,#505000,#414100,#343400)"></div><div style="top:66px;height:2px;background:linear-gradient(90deg,#f20000,#f50000,#f70000,#fa0000,#fd0000,#ff0100,#ff0800,#ff0f00,#ff1800,#ff2400,#ff3100,#ff3e00,#ff4b00,#ff5700,#ff5c00,#ff6000,#ff5f00,#ff5b00,#ff5600,#ff5200,#ff4d00,#ff4a00,#ff4700,#ff4500,#ff4200,#ff4000,#ff3b00,#ff3300,#ff2b00,#ff2100,#ff1700,#ff0e00,#ff0700,#ff0000,#fc0000,#f90000,#f70000,#f40000,#f10000,#ec0000,#e60000,#df0000,#ce0000,#bd0000,#b40000,#b10000,#af0000,#b20000,#b70000,#ba0000,#bd0000,#c00000,#d30000,#ea0000,#ff0100,#ff1c00,#ff5100,#efef00,#bdbd00,#989800,#7b7b00,#606000,#4d4d00,#3e3e00,#313100)"></div><div style="top:68px;height:2px;background:linear-gradient(90deg,#f20000,#f50000,#f70000,#fa0000,#fc0000,#ff0000,#ff0600,#ff0e00,#ff1700,#ff2300,#ff2f00,#ff3e00,#ff4d00,#ff5a00,#ff5f00,#ff6400,#ff6300,#ff5e00,#ff5900,#ff5400,#ff4f00,#ff4b00,#ff4900,#ff4600,#ff4400,#ff4100,#ff3d00,#ff3500,#ff2e00,#ff2400,#ff1a00,#ff1100,#ff0900,#ff0200,#fd0000,#fb0000,#f80000,#f60000,#f30000,#ef0000,#ea0000,#e40000,#d00000,#bc0000,#af0000,#a80000,#a00000,#a30000,#a50000,#a90000,#ae0000,#b30000,#c70000,#dd0000,#f30000,#ff1100,#ff4800,#efef00,#bcbc00,#969600,#797900,#5e5e00,#4b4b00,#3c3c00,#2e2e00)"></div><div style="top:70px;height:2px;background:linear-gradient(90deg,#f20000,#f50000,#f70000,#fa0000,#fc0000,#ff0000,#ff0600,#ff0d00,#ff1500,#ff2200,#ff2f00,#ff3e00,#ff4e00,#ff5c00,#ff6100,#ff6600,#ff6500,#ff6000,#ff5b00,#ff5500,#ff4f00,#ff4b00,#ff4900,#ff4700,#ff4500,#ff4200,#ff3e00,#ff3700,#ff2f00,#ff2500,#ff1b00,#ff1200,#ff0b00,#ff0300,#fe0000,#fc0000,#f90000,#f70000,#f40000,#f10000,#ec0000,#e70000,#d40000,#c20000,#b40000,#a90000,#9d0000,#9e0000,#a00000,#a30000,#a70000,#ac0000,#bf0000,#d50000,#eb0000,#ff0900,#ff4200,#efef00,#bbbb00,#959500,#777700,#5b5b00,#484800,#393900,#2b2b00)"></div><div style="top:72px;height:2px;background:linear-gradient(90deg,#f20000,#f50000,#f70000,#fa0000,#fc0000,#ff0000,#ff0500,#ff0c00,#ff1400,#ff2200,#ff2f00,#ff3f00,#ff5000,#ff5f00,#ff6400,#ff6900,#ff6800,#ff6300,#ff5e00,#ff5700,#ff5000,#ff4c00,#ff4a00,#ff4900,#ff4600,#ff4400,#ff3f00,#ff3800,#ff3000,#ff2700,#ff1d00,#ff1300,#ff0c00,#ff0400,#ff0100,#fd0000,#fb0000,#f80000,#f60000,#f20000,#ee0000,#e90000,#d90000,#c90000,#b90000,#aa0000,#9b0000,#9b0000,#9b0000,#9d0000,#a10000,#a50000,#b80000,#ce0000,#e30000,#ff0200,#ff3d00,#efef00,#baba00,#939300,#757500,#595900,#454500,#363600,#282800)"></div><div style="top:74px;height:2px;background:linear-gradient(90deg,#f20000,#f50000,#f70000,#fa0000,#fc0000,#ff0000,#ff0500,#ff0b00,#ff1300,#ff2100,#ff2f00,#ff4000,#ff5200,#ff6200,#ff6700,#ff6c00,#ff6b00,#ff6600,#ff6000,#ff5800,#ff5000,#ff4c00,#ff4b00,#ff4a00,#ff4800,#ff4500,#ff4100,#ff3900,#ff3200,#ff2800,#ff1e00,#ff1500,#ff0d00,#ff0600,#ff0200,#fe0000,#fc0000,#f90000,#f70000,#f40000,#f00000,#ec0000,#de0000,#d00000,#bf0000,#ac0000,#980000,#970000,#970000,#980000,#9c0000,#9f0000,#b20000,#c70000,#db0000,#fa0000,#ff3800,#eeee00,#b9b900,#929200,#747400,#575700,#424200,#333300,#252500)"></div><div style="top:76px;height:2px;background:linear-gradient(90deg,#f20000,#f50000,#f70000,#fa0000,#fc0000,#ff0000,#ff0500,#ff0a00,#ff1200,#ff2000,#ff2f00,#ff4100,#ff5300,#ff6400,#ff6900,#ff6e00,#ff6d00,#ff6800,#ff6300,#ff5a00,#ff5100,#ff4c00,#ff4c00,#ff4b00,#ff4900,#ff4600,#ff4200,#ff3a00,#ff3300,#ff2900,#ff1f00,#ff1600,#ff0f00,#ff0700,#ff0300,#ff0100,#fd0000,#fb0000,#f80000,#f50000,#f20000,#ef0000,#e30000,#d70000,#c50000,#ad0000,#960000,#940000,#920000,#930000,#960000,#990000,#ab0000,#bf0000,#d40000,#f40000,#ff3200,#eeee00,#b8b800,#909000,#727200,#545400,#404000,#303000,#222200)"></div><div style="top:78px;height:1px;background:linear-gradient(90deg,#f20000,#f50000,#f70000,#fa0000,#fc0000,#ff0000,#ff0400,#ff0900,#ff1100,#ff2000,#ff2f00,#ff4100,#ff5500,#ff6600,#ff6b00,#ff7000,#ff6f00,#ff6a00,#ff6500,#ff5b00,#ff5100,#ff4c00,#ff4c00,#ff4c00,#ff4a00,#ff4700,#ff4300,#ff3b00,#ff3400,#ff2a00,#ff2000,#ff1700,#ff1000,#ff0800,#ff0400,#ff0200,#fe0000,#fc0000,#f90000,#f70000,#f40000,#f10000,#e60000,#dc0000,#c90000,#ae0000,#940000,#910000,#8f0000,#8f0000,#910000,#940000,#a60000,#ba0000,#ce0000,#ee0000,#ff2e00,#eeee00,#b8b800,#8f8f00,#707000,#525200,#3e3e00,#2e2e00,#1f1f00)"></div><div style="top:79px;height:2px;background:linear-gradient(90deg,#002dff,#002dff,#002dff,#002dff,#002dff,#002dff,#002dff,#002dff,#002dff,#002dff,#002dff,#002dff,#002dff,#002dff,#002dff,#002dff,#002dff,#002dff,#002dff,#002dff,#002dff,#002eff,#002eff,#002fff,#0033ff,#0036ff,#0039ff,#003cff,#003fff,#003dff,#003bff,#0039ff,#0035ff,#0031ff,#002fff,#002dff,#002cff,#002bff,#002aff,#0029ff,#0028ff,#0027ff,#0025ff,#0023ff,#0020ff,#001dff,#001aff,#0015ff,#0011ff,#000cff,#0006ff,#0000ff,#0000fb,#0000f6,#0000f2,#0002ff,#0027ff,#00c5ff,#00d1d1,#00bdbd,#00b2b2,#00abab,#00a4a4,#009e9e,#009898)"></div><div style="top:81px;height:2px;background:linear-gradient(90deg,#002dff,#002dff,#002dff,#002dff,#002dff,#002dff,#002dff,#002dff,#002dff,#002dff,#002dff,#002dff,#002dff,#002dff,#002dff,#002dff,#002dff,#002dff,#002dff,#002dff,#002dff,#002eff,#002fff,#0031ff,#0034ff,#0037ff,#003aff,#003cff,#003eff,#003cff,#003aff,#0037ff,#0034ff,#0030ff,#002eff,#002dff,#002cff,#002bff,#002aff,#0029ff,#0028ff,#0026ff,#0024ff,#0022ff,#001fff,#001bff,#0018ff,#0013ff,#000eff,#0009ff,#0003ff,#0000fc,#0000f8,#0000f3,#0000ef,#0000ff,#0024ff,#00c4ff,#00d1d1,#00bdbd,#00b2b2,#00aaaa,#00a3a3,#009d9d,#009797)"></div><div style="top:83px;height:2px;background:linear-gradient(90deg,#002dff,#002dff,#002dff,#002dff,#002dff,#002dff,#002dff,#002dff,#002dff,#002dff,#002dff,#002dff,#002dff,#002dff,#002dff,#002dff,#002dff,#002dff,#002dff,#002dff,#002dff,#002fff,#0030ff,#0032ff,#0036ff,#0039ff,#003bff,#003cff,#003dff,#003bff,#0038ff,#0035ff,#0032ff,#002fff,#002eff,#002dff,#002bff,#002aff,#002aff,#0028ff,#0027ff,#0025ff,#0023ff,#0020ff,#001dff,#0019ff,#0015ff,#0010ff,#000bff,#0006ff,#0000ff,#0000f9,#0000f4,#0000f0,#0000ec,#0000fc,#0022ff,#00c4ff,#00d1d1,#00bdbd,#00b2b2,#00aaaa,#00a3a3,#009c9c,#009696)"></div><div style="top:85px;height:2px;background:linear-gradient(90deg,#002dff,#002dff,#002dff,#002dff,#002dff,#002dff,#002dff,#002dff,#002dff,#002dff,#002dff,#002dff,#002dff,#002dff,#002dff,#002dff,#002dff,#002dff,#002dff,#002dff,#002eff,#002fff,#0031ff,#0034ff,#0037ff,#003bff,#003dff,#003dff,#003dff,#003aff,#0037ff,#0033ff,#0031ff,#002eff,#002dff,#002cff,#002bff,#002aff,#0029ff,#0028ff,#0026ff,#0025ff,#0022ff,#001fff,#001cff,#0017ff,#0013ff,#000eff,#0009ff,#0003ff,#0000fc,#0000f6,#0000f1,#0000ed,#0000e9,#0000f9,#0020ff,#00c3ff,#00d1d1,#00bdbd,#00b1b1,#00a9a9,#00a2a2,#009b9b,#009595)"></div><div style="top:87px;height:2px;background:linear-gradient(90deg,#002dff,#002dff,#002dff,#002dff,#002dff,#002dff,#002dff,#002dff,#002dff,#002dff,#002dff,#002dff,#002dff,#002dff,#002dff,#002dff,#002dff,#002dff,#002dff,#002dff,#002eff,#0030ff,#0032ff,#0035ff,#0039ff,#003cff,#003eff,#003dff,#003cff,#0039ff,#0035ff,#0032ff,#0030ff,#002dff,#002cff,#002cff,#002bff,#002aff,#0029ff,#0027ff,#0026ff,#0024ff,#0021ff,#001eff,#001aff,#0016ff,#0011ff,#000cff,#0006ff,#0000ff,#0000f9,#0000f3,#0000ee,#0000ea,#0000e6,#0000f7,#001dff,#00c3ff,#00d1d1,#00bdbd,#00b1b1,#00a9a9,#00a1a1,#009a9a,#009494)"></div><div style="top:89px;height:2px;background:linear-gradient(90deg,#002dff,#002dff,#002dff,#002dff,#002dff,#002dff,#002dff,#002dff,#002dff,#002dff,#002dff,#002dff,#002dff,#002dff,#002dff,#002dff,#002dff,#002dff,#002dff,#002eff,#002fff,#0031ff,#0034ff,#0037ff,#003aff,#003dff,#003eff,#003cff,#003bff,#0037ff,#0034ff,#0030ff,#002fff,#002dff,#002cff,#002bff,#002aff,#0029ff,#0028ff,#0027ff,#0025ff,#0023ff,#001fff,#001cff,#0018ff,#0013ff,#000eff,#0009ff,#0003ff,#0000fc,#0000f6,#0000f0,#0000eb,#0000e8,#0000e4,#0000f5,#001cff,#00c2ff,#00d1d1,#00bdbd,#00b1b1,#00a8a8,#00a1a1,#009a9a,#009393)"></div><div style="top:91px;height:2px;background:linear-gradient(90deg,#002dff,#002dff,#002dff,#002dff,#002dff,#002dff,#002dff,#002dff,#002dff,#002dff,#002dff,#002dff,#002dff,#002dff,#002dff,#002dff,#002dff,#002dff,#002dff,#002fff,#0030ff,#0032ff,#0035ff,#0039ff,#003bff,#003dff,#003dff,#003bff,#0039ff,#0036ff,#0032ff,#0030ff,#002eff,#002dff,#002cff,#002bff,#002aff,#0029ff,#0028ff,#0026ff,#0023ff,#0021ff,#001dff,#001aff,#0015ff,#0010ff,#000bff,#0005ff,#0000fe,#0000f8,#0000f2,#0000ed,#0000e9,#0000e6,#0000e2,#0000f4,#001bff,#00c2ff,#00d1d1,#00bdbd,#00b1b1,#00a8a8,#00a0a0,#009999,#009292)"></div><div style="top:93px;height:2px;background:linear-gradient(90deg,#002dff,#002dff,#002dff,#002dff,#002dff,#002dff,#002dff,#002dff,#002dff,#002dff,#002dff,#002dff,#002dff,#002dff,#002dff,#002dff,#002dff,#002dff,#002eff,#002fff,#0031ff,#0034ff,#0037ff,#003bff,#003cff,#003dff,#003dff,#003aff,#0037ff,#0034ff,#0031ff,#002fff,#002dff,#002cff,#002bff,#002aff,#002aff,#0028ff,#0027ff,#0025ff,#0022ff,#0020ff,#001cff,#0018ff,#0013ff,#000eff,#0008ff,#0002ff,#0000fb,#0000f5,#0000ef,#0000ea,#0000e6,#0000e3,#0000e1,#0000f2,#001aff,#00c2ff,#00d1d1,#00bdbd,#00b1b1,#00a7a7,#009f9f,#009898,#009191)"></div><div style="top:95px;height:2px;background:linear-gradient(90deg,#002dff,#002dff,#002dff,#002dff,#002dff,#002dff,#002dff,#002dff,#002dff,#002dff,#002dff,#002dff,#002dff,#002dff,#002dff,#002dff,#002dff,#002dff,#002eff,#0030ff,#0032ff,#0035ff,#0039ff,#003cff,#003dff,#003dff,#003cff,#0039ff,#0035ff,#0032ff,#0030ff,#002eff,#002dff,#002cff,#002bff,#002aff,#0029ff,#0028ff,#0026ff,#0024ff,#0021ff,#001eff,#001aff,#0016ff,#0010ff,#000bff,#0005ff,#0000fe,#0000f7,#0000f2,#0000ec,#0000e7,#0000e4,#0000e1,#0000df,#0000f1,#0018ff,#00c1ff,#00d1d1,#00bdbd,#00b1b1,#00a7a7,#009f9f,#009797,#009090)"></div><div style="top:97px;height:2px;background:linear-gradient(90deg,#002dff,#002dff,#002dff,#002dff,#002dff,#002dff,#002dff,#002dff,#002dff,#002dff,#002dff,#002dff,#002dff,#002dff,#002dff,#002dff,#002dff,#002eff,#002eff,#0031ff,#0033ff,#0037ff,#003aff,#003eff,#003eff,#003dff,#003bff,#0037ff,#0033ff,#0031ff,#002fff,#002dff,#002cff,#002bff,#002bff,#002aff,#0029ff,#0027ff,#0025ff,#0023ff,#0020ff,#001dff,#0018ff,#0013ff,#000eff,#0008ff,#0002ff,#0000fb,#0000f4,#0000ee,#0000e9,#0000e4,#0000e1,#0000df,#0000dd,#0000f0,#0017ff,#00c1ff,#00d1d1,#00bdbd,#00b0b0,#00a7a7,#009e9e,#009696,#008f8f)"></div><div style="top:99px;height:2px;background:linear-gradient(90deg,#002dff,#002dff,#002dff,#002dff,#002dff,#002dff,#002dff,#002dff,#002dff,#002dff,#002dff,#002dff,#002dff,#002dff,#002dff,#002dff,#002eff,#002eff,#002fff,#0032ff,#0035ff,#0038ff,#003bff,#003eff,#003dff,#003cff,#0039ff,#0036ff,#0032ff,#0030ff,#002eff,#002dff,#002cff,#002bff,#002aff,#0029ff,#0028ff,#0026ff,#0024ff,#0021ff,#001eff,#001aff,#0015ff,#0010ff,#000aff,#0004ff,#0000fd,#0000f7,#0000f1,#0000ec,#0000e9,#0000e7,#0000eb,#0000f1,#0000f7,#000cff,#002fff,#00c7ff,#00d1d1,#00bdbd,#00b0b0,#00a6a6,#009d9d,#009595,#008e8e)"></div><div style="top:101px;height:2px;background:linear-gradient(90deg,#002dff,#002dff,#002dff,#002dff,#002dff,#002dff,#002dff,#002dff,#002dff,#002dff,#002dff,#002dff,#002dff,#002dff,#002dff,#002dff,#002eff,#002fff,#0031ff,#0034ff,#0037ff,#003aff,#003cff,#003eff,#003cff,#003aff,#0038ff,#0034ff,#0031ff,#002fff,#002eff,#002cff,#002bff,#002bff,#002aff,#0028ff,#0027ff,#0025ff,#0022ff,#001fff,#001bff,#0018ff,#0012ff,#000dff,#0007ff,#0001ff,#0000f9,#0000f3,#0000ee,#0000ea,#0000ea,#0000ea,#0000f6,#0005ff,#0012ff,#0028ff,#0047ff,#00ceff,#00d1d1,#00bdbd,#00b0b0,#00a6a6,#009d9d,#009494,#008d8d)"></div><div style="top:103px;height:2px;background:linear-gradient(90deg,#002dff,#002dff,#002dff,#002dff,#002dff,#002dff,#002dff,#002dff,#002dff,#002dff,#002dff,#002dff,#002dff,#002dff,#002dff,#002dff,#002eff,#0030ff,#0032ff,#0035ff,#0039ff,#003bff,#003cff,#003eff,#003bff,#0039ff,#0036ff,#0033ff,#0030ff,#002eff,#002dff,#002cff,#002bff,#002aff,#0029ff,#0028ff,#0026ff,#0024ff,#0021ff,#001dff,#0019ff,#0015ff,#000fff,#0009ff,#0003ff,#0000fc,#0000f6,#0000f0,#0000ea,#0000e8,#0000eb,#0000ee,#0002ff,#0017ff,#002dff,#0045ff,#005fff,#00d4ff,#00d1d1,#00bdbd,#00b0b0,#00a5a5,#009c9c,#009393,#008c8c)"></div><div style="top:105px;height:2px;background:linear-gradient(90deg,#002dff,#002dff,#002dff,#002dff,#002dff,#002dff,#002dff,#002dff,#002dff,#002dff,#002dff,#002dff,#002dff,#002dff,#002dff,#002dff,#002fff,#0031ff,#0033ff,#0037ff,#003aff,#003cff,#003dff,#003eff,#003bff,#0037ff,#0034ff,#0031ff,#002fff,#002dff,#002dff,#002cff,#002bff,#002aff,#0029ff,#0027ff,#0025ff,#0022ff,#0020ff,#001cff,#0017ff,#0012ff,#000cff,#0006ff,#0000ff,#0000f8,#0000f2,#0000ec,#0000e7,#0000e6,#0000ec,#0000f1,#000cff,#002aff,#0047ff,#0061ff,#0078ff,#00dbff,#00d1d1,#00bdbd,#00b0b0,#00a5a5,#009b9b,#009393,#008b8b)"></div><div style="top:107px;height:2px;background:linear-gradient(90deg,#002dff,#002dff,#002dff,#002dff,#002dff,#002dff,#002dff,#002dff,#002dff,#002dff,#002dff,#002dff,#002dff,#002dff,#002dff,#002eff,#002fff,#0032ff,#0034ff,#0038ff,#003cff,#003eff,#003eff,#003dff,#003aff,#0036ff,#0032ff,#0030ff,#002eff,#002dff,#002cff,#002bff,#002aff,#002aff,#0028ff,#0026ff,#0024ff,#0021ff,#001eff,#0019ff,#0015ff,#000fff,#0009ff,#0003ff,#0000fb,#0000f5,#0000ee,#0000ea,#0000e7,#0000e8,#0000f1,#0000fa,#001bff,#003eff,#0061ff,#007cff,#008eff,#00e1ff,#00d1d1,#00bdbd,#00afaf,#00a4a4,#009b9b,#009292,#008989)"></div><div style="top:109px;height:2px;background:linear-gradient(90deg,#002dff,#002dff,#002dff,#002dff,#002dff,#002dff,#002dff,#002dff,#002dff,#002dff,#002dff,#002dff,#002dff,#002dff,#002eff,#002fff,#0031ff,#0033ff,#0036ff,#0039ff,#003cff,#003dff,#003cff,#003bff,#0038ff,#0034ff,#0031ff,#002fff,#002dff,#002cff,#002cff,#002bff,#002aff,#0029ff,#0027ff,#0025ff,#0022ff,#001fff,#001bff,#0016ff,#0011ff,#000bff,#0005ff,#0000fd,#0000f7,#0000f1,#0000eb,#0000ef,#0000f3,#0000fb,#000bff,#001aff,#0037ff,#0056ff,#0075ff,#008cff,#009dff,#00e5ff,#00d1d1,#00bdbd,#00afaf,#00a4a4,#009a9a,#009191,#008888)"></div><div style="top:111px;height:2px;background:linear-gradient(90deg,#002dff,#002dff,#002dff,#002dff,#002dff,#002dff,#002dff,#002dff,#002dff,#002dff,#002dff,#002dff,#002dff,#002dff,#002eff,#0030ff,#0032ff,#0035ff,#0038ff,#003aff,#003dff,#003dff,#003bff,#003aff,#0036ff,#0033ff,#0030ff,#002fff,#002dff,#002cff,#002bff,#002aff,#0029ff,#0028ff,#0026ff,#0023ff,#0020ff,#001cff,#0018ff,#0013ff,#000dff,#0007ff,#0001ff,#0000f9,#0000f3,#0000ee,#0000e8,#0000f3,#0000fe,#000fff,#0024ff,#0039ff,#0053ff,#006eff,#0088ff,#009dff,#00abff,#00e8ff,#00d1d1,#00bdbd,#00afaf,#00a3a3,#009999,#009090,#008787)"></div><div style="top:113px;height:2px;background:linear-gradient(90deg,#002dff,#002dff,#002dff,#002dff,#002dff,#002dff,#002dff,#002dff,#002dff,#002dff,#002dff,#002dff,#002dff,#002eff,#002fff,#0031ff,#0033ff,#0037ff,#003aff,#003cff,#003dff,#003dff,#003aff,#0038ff,#0035ff,#0032ff,#002fff,#002eff,#002cff,#002cff,#002bff,#002aff,#0028ff,#0027ff,#0025ff,#0022ff,#001fff,#001aff,#0015ff,#0010ff,#000aff,#0003ff,#0000fc,#0000f5,#0000ef,#0000ea,#0000e5,#0000f7,#000bff,#0022ff,#003dff,#0058ff,#0070ff,#0086ff,#009cff,#00adff,#00b9ff,#00ecff,#00d1d1,#00bdbd,#00afaf,#00a3a3,#009999,#008f8f,#008686)"></div><div style="top:115px;height:2px;background:linear-gradient(90deg,#002dff,#002dff,#002dff,#002dff,#002dff,#002dff,#002dff,#002dff,#002dff,#002dff,#002dff,#002dff,#002dff,#002eff,#0030ff,#0031ff,#0034ff,#0038ff,#003cff,#003dff,#003eff,#003dff,#0039ff,#0036ff,#0033ff,#0030ff,#002eff,#002dff,#002cff,#002bff,#002aff,#0029ff,#0028ff,#0026ff,#0023ff,#0020ff,#001dff,#0018ff,#0013ff,#000cff,#0006ff,#0000fe,#0000f8,#0000f1,#0000eb,#0000e7,#0000e2,#0000fc,#0017ff,#0034ff,#0056ff,#0078ff,#008cff,#009eff,#00b0ff,#00beff,#00c7ff,#00f0ff,#00d1d1,#00bdbd,#00afaf,#00a3a3,#009898,#008e8e,#008585)"></div><div style="top:117px;height:2px;background:linear-gradient(90deg,#002dff,#002dff,#002dff,#002dff,#002dff,#002dff,#002dff,#002dff,#002dff,#002dff,#002dff,#002dff,#002eff,#002eff,#0030ff,#0033ff,#0036ff,#003aff,#003dff,#003dff,#003eff,#003cff,#0038ff,#0034ff,#0032ff,#002fff,#002dff,#002cff,#002cff,#002bff,#002aff,#0029ff,#0027ff,#0025ff,#0022ff,#001eff,#001aff,#0014ff,#000fff,#0009ff,#0002ff,#0000fa,#0000f4,#0000ed,#0000eb,#0000eb,#0000ec,#000bff,#0029ff,#0049ff,#006dff,#0090ff,#00a2ff,#00b1ff,#00bfff,#00cbff,#00d2ff,#00f3ff,#00d1d1,#00bdbd,#00aeae,#00a2a2,#009797,#008d8d,#008484)"></div><div style="top:119px;height:2px;background:linear-gradient(90deg,#002dff,#002dff,#002dff,#002dff,#002dff,#002dff,#002dff,#002dff,#002dff,#002dff,#002dff,#002dff,#002eff,#002fff,#0032ff,#0034ff,#0037ff,#003bff,#003eff,#003dff,#003cff,#003aff,#0036ff,#0033ff,#0031ff,#002eff,#002dff,#002cff,#002bff,#002aff,#0029ff,#0027ff,#0025ff,#0023ff,#001fff,#001bff,#0016ff,#0010ff,#000aff,#0004ff,#0000fc,#0000f6,#0000f0,#0000eb,#0000ef,#0000fb,#0008ff,#0026ff,#0043ff,#0062ff,#0080ff,#009fff,#00afff,#00bcff,#00c8ff,#00d2ff,#00d9ff,#00f5ff,#00d1d1,#00bdbd,#00aeae,#00a2a2,#009797,#008c8c,#008383)"></div><div style="top:121px;height:2px;background:linear-gradient(90deg,#002dff,#002dff,#002dff,#002dff,#002dff,#002dff,#002dff,#002dff,#002dff,#002dff,#002dff,#002eff,#002fff,#0030ff,#0033ff,#0036ff,#0039ff,#003cff,#003eff,#003cff,#003bff,#0038ff,#0035ff,#0031ff,#0030ff,#002eff,#002cff,#002cff,#002bff,#0029ff,#0028ff,#0026ff,#0023ff,#0021ff,#001cff,#0018ff,#0013ff,#000cff,#0006ff,#0000fe,#0000f8,#0000f1,#0000ed,#0000e8,#0000f3,#000cff,#0024ff,#0041ff,#005eff,#007aff,#0094ff,#00aeff,#00bbff,#00c7ff,#00d2ff,#00daff,#00dfff,#00f6ff,#00d1d1,#00bdbd,#00aeae,#00a1a1,#009696,#008b8b,#008282)"></div><div style="top:123px;height:2px;background:linear-gradient(90deg,#002dff,#002dff,#002dff,#002dff,#002dff,#002dff,#002dff,#002dff,#002dff,#002dff,#002dff,#002eff,#0030ff,#0031ff,#0035ff,#0038ff,#003bff,#003dff,#003eff,#003cff,#0039ff,#0036ff,#0033ff,#0030ff,#002fff,#002dff,#002cff,#002bff,#002aff,#0029ff,#0027ff,#0025ff,#0022ff,#001fff,#001aff,#0014ff,#000fff,#0008ff,#0001ff,#0000fa,#0000f3,#0000ed,#0000e9,#0000e6,#0000f7,#001bff,#003fff,#005cff,#0079ff,#0092ff,#00a8ff,#00beff,#00c8ff,#00d1ff,#00dbff,#00e1ff,#00e6ff,#00f8ff,#00d1d1,#00bdbd,#00aeae,#00a1a1,#009595,#008b8b,#008181)"></div><div style="top:125px;height:2px;background:linear-gradient(90deg,#002dff,#002dff,#002dff,#002dff,#002dff,#002dff,#002dff,#002dff,#002dff,#002dff,#002dff,#002fff,#0030ff,#0032ff,#0036ff,#003aff,#003cff,#003eff,#003fff,#003bff,#0038ff,#0035ff,#0032ff,#002fff,#002eff,#002dff,#002cff,#002bff,#002aff,#0028ff,#0026ff,#0024ff,#0020ff,#001cff,#0017ff,#0011ff,#000bff,#0004ff,#0000fc,#0000f5,#0000ef,#0000e9,#0000e6,#0000e3,#0000fa,#002bff,#005bff,#0077ff,#0093ff,#00abff,#00bcff,#00cdff,#00d5ff,#00dcff,#00e4ff,#00e9ff,#00ecff,#00faff,#00d1d1,#00bdbd,#00aeae,#00a0a0,#009595,#008a8a,#008080)"></div><div style="top:127px;height:2px;background:linear-gradient(90deg,#002dff,#002dff,#002dff,#002dff,#002dff,#002dff,#002dff,#002dff,#002dff,#002dff,#002eff,#002fff,#0031ff,#0034ff,#0037ff,#003bff,#003dff,#003dff,#003eff,#003aff,#0036ff,#0033ff,#0031ff,#002eff,#002dff,#002cff,#002bff,#002aff,#0029ff,#0027ff,#0024ff,#0021ff,#001dff,#0019ff,#0013ff,#000dff,#0006ff,#0000fe,#0000f7,#0000f4,#0000f3,#0000f2,#0000f5,#0000f8,#0013ff,#0042ff,#0071ff,#008cff,#00a5ff,#00baff,#00c8ff,#00d6ff,#00ddff,#00e3ff,#00e9ff,#00eeff,#00f0ff,#00fbff,#00d1d1,#00bdbd,#00adad,#00a0a0,#009494,#008989,#007f7f)"></div><div style="top:129px;height:2px;background:linear-gradient(90deg,#002dff,#002dff,#002dff,#002dff,#002dff,#002dff,#002dff,#002dff,#002dff,#002eff,#002fff,#0031ff,#0033ff,#0036ff,#0039ff,#003cff,#003dff,#003dff,#003cff,#0038ff,#0035ff,#0032ff,#0030ff,#002dff,#002cff,#002cff,#002aff,#0029ff,#0028ff,#0025ff,#0022ff,#001eff,#0019ff,#0014ff,#000eff,#0008ff,#0001ff,#0000f9,#0000f3,#0000f5,#0000fc,#0005ff,#0010ff,#001aff,#0035ff,#005dff,#0086ff,#009cff,#00b2ff,#00c4ff,#00d1ff,#00ddff,#00e3ff,#00e8ff,#00edff,#00f1ff,#00f3ff,#00fcff,#00d1d1,#00bdbd,#00adad,#009f9f,#009393,#008888,#007e7e)"></div><div style="top:131px;height:2px;background:linear-gradient(90deg,#002dff,#002dff,#002dff,#002dff,#002dff,#002dff,#002dff,#002dff,#002dff,#002eff,#002fff,#0032ff,#0035ff,#0037ff,#003aff,#003dff,#003dff,#003cff,#003aff,#0037ff,#0033ff,#0031ff,#002fff,#002dff,#002cff,#002bff,#002aff,#0028ff,#0026ff,#0023ff,#0020ff,#001bff,#0016ff,#0010ff,#0009ff,#0002ff,#0000fb,#0000f5,#0000ef,#0000f6,#0007ff,#0016ff,#0029ff,#003cff,#0057ff,#0078ff,#009aff,#00adff,#00c0ff,#00cfff,#00d9ff,#00e3ff,#00e8ff,#00edff,#00f1ff,#00f4ff,#00f6ff,#00fcff,#00d1d1,#00bdbd,#00adad,#009f9f,#009393,#008787,#007d7d)"></div><div style="top:133px;height:2px;background:linear-gradient(90deg,#002dff,#002dff,#002dff,#002dff,#002dff,#002dff,#002dff,#002dff,#002dff,#002fff,#0030ff,#0033ff,#0036ff,#0039ff,#003bff,#003eff,#003dff,#003bff,#0038ff,#0035ff,#0032ff,#0030ff,#002eff,#002cff,#002bff,#002aff,#0029ff,#0027ff,#0025ff,#0021ff,#001dff,#0018ff,#0012ff,#000cff,#0005ff,#0000fc,#0000f5,#0000f0,#0000ea,#0000f7,#0010ff,#0028ff,#0043ff,#005dff,#0078ff,#0094ff,#00afff,#00beff,#00cdff,#00d9ff,#00e2ff,#00eaff,#00eeff,#00f1ff,#00f5ff,#00f7ff,#00f8ff,#00fdff,#00d1d1,#00bdbd,#00adad,#009f9f,#009292,#008686,#007c7c)"></div><div style="top:135px;height:2px;background:linear-gradient(90deg,#002dff,#002dff,#002dff,#002dff,#002dff,#002dff,#002dff,#002dff,#002eff,#002fff,#0031ff,#0034ff,#0038ff,#003bff,#003dff,#003fff,#003dff,#003aff,#0037ff,#0034ff,#0030ff,#002eff,#002dff,#002cff,#002bff,#002aff,#0028ff,#0026ff,#0024ff,#001fff,#001bff,#0015ff,#000eff,#0007ff,#0000ff,#0000f7,#0000f0,#0000eb,#0000e6,#0000f8,#0019ff,#003aff,#005cff,#007fff,#009aff,#00afff,#00c3ff,#00cfff,#00daff,#00e4ff,#00eaff,#00f0ff,#00f4ff,#00f6ff,#00f9ff,#00faff,#00fbff,#00feff,#00d1d1,#00bdbd,#00adad,#009e9e,#009191,#008585,#007b7b)"></div><div style="top:137px;height:2px;background:linear-gradient(90deg,#002dff,#002dff,#002dff,#002dff,#002dff,#002dff,#002dff,#002eff,#002eff,#0030ff,#0032ff,#0035ff,#0039ff,#003cff,#003dff,#003eff,#003cff,#0038ff,#0035ff,#0032ff,#0030ff,#002eff,#002cff,#002bff,#002aff,#0028ff,#0026ff,#0023ff,#0020ff,#001bff,#0016ff,#0010ff,#0009ff,#0002ff,#0000fc,#0000f8,#0000f5,#0000fa,#0000fe,#0014ff,#0033ff,#0053ff,#0072ff,#0092ff,#00aaff,#00bcff,#00cdff,#00d7ff,#00e1ff,#00e9ff,#00eeff,#00f3ff,#00f6ff,#00f8ff,#00fbff,#00fcff,#00fcff,#00feff,#00d1d1,#00bdbd,#00acac,#009e9e,#009191,#008484,#007979)"></div><div style="top:139px;height:2px;background:linear-gradient(90deg,#002dff,#002dff,#002dff,#002dff,#002dff,#002dff,#002dff,#002eff,#002fff,#0032ff,#0034ff,#0037ff,#003aff,#003dff,#003dff,#003cff,#003aff,#0037ff,#0034ff,#0031ff,#002fff,#002dff,#002cff,#002bff,#0029ff,#0027ff,#0024ff,#0020ff,#001dff,#0017ff,#0011ff,#000aff,#0003ff,#0000fb,#0000f9,#0000fa,#0000fc,#000cff,#001aff,#0032ff,#0050ff,#006dff,#0088ff,#00a3ff,#00b7ff,#00c6ff,#00d5ff,#00deff,#00e6ff,#00edff,#00f1ff,#00f6ff,#00f8ff,#00faff,#00fcff,#00fdff,#00feff,#00ffff,#00d1d1,#00bdbd,#00acac,#009d9d,#009090,#008484,#007878)"></div><div style="top:141px;height:2px;background:linear-gradient(90deg,#002dff,#002dff,#002dff,#002dff,#002dff,#002dff,#002eff,#002fff,#0030ff,#0033ff,#0036ff,#0039ff,#003bff,#003eff,#003cff,#003bff,#0039ff,#0035ff,#0032ff,#0030ff,#002eff,#002cff,#002bff,#002aff,#0028ff,#0025ff,#0022ff,#001dff,#0019ff,#0012ff,#000cff,#0005ff,#0000fd,#0000f6,#0000f7,#0000fb,#0004ff,#001dff,#0035ff,#0050ff,#006cff,#0087ff,#009dff,#00b4ff,#00c5ff,#00d1ff,#00deff,#00e5ff,#00ebff,#00f1ff,#00f5ff,#00f9ff,#00fbff,#00fcff,#00feff,#00ffff,#00ffff,#00ffff,#00d1d1,#00bdbd,#00acac,#009d9d,#008f8f,#008383,#007777)"></div><div style="top:143px;height:2px;background:linear-gradient(90deg,#002dff,#002dff,#002dff,#002dff,#002dff,#002dff,#002eff,#002fff,#0031ff,#0034ff,#0037ff,#003aff,#003dff,#003eff,#003cff,#003aff,#0037ff,#0034ff,#0030ff,#002fff,#002dff,#002cff,#002aff,#0029ff,#0026ff,#0024ff,#0020ff,#001aff,#0015ff,#000eff,#0006ff,#0000fe,#0000f7,#0000f0,#0000f4,#0000fd,#000bff,#002eff,#0051ff,#006eff,#0088ff,#00a1ff,#00b3ff,#00c5ff,#00d2ff,#00dcff,#00e6ff,#00ebff,#00f1ff,#00f5ff,#00f8ff,#00fbff,#00fdff,#00feff,#00fefe,#00fdfd,#00fdfd,#00ffff,#00d1d1,#00bdbd,#00acac,#009c9c,#008f8f,#008282,#007676)"></div><div style="top:145px;height:2px;background:linear-gradient(90deg,#002dff,#002dff,#002dff,#002dff,#002dff,#002dff,#002eff,#0030ff,#0032ff,#0035ff,#0039ff,#003cff,#003eff,#003fff,#003cff,#0039ff,#0035ff,#0032ff,#002fff,#002eff,#002cff,#002bff,#0029ff,#0028ff,#0025ff,#0022ff,#001dff,#0017ff,#0011ff,#0009ff,#0001ff,#0000f9,#0000f3,#0000ed,#0000f5,#0003ff,#0015ff,#0040ff,#006bff,#008bff,#00a3ff,#00baff,#00c7ff,#00d5ff,#00dfff,#00e6ff,#00eeff,#00f2ff,#00f6ff,#00f9ff,#00fcff,#00feff,#00ffff,#00fdfd,#00fbfb,#00fbfb,#00fbfb,#00fefe,#00d1d1,#00bdbd,#00acac,#009c9c,#008e8e,#008181,#007575)"></div><div style="top:147px;height:2px;background:linear-gradient(90deg,#002dff,#002dff,#002dff,#002dff,#002dff,#002eff,#002fff,#0031ff,#0033ff,#0037ff,#003aff,#003cff,#003dff,#003eff,#003aff,#0037ff,#0034ff,#0031ff,#002eff,#002dff,#002bff,#002aff,#0028ff,#0025ff,#0021ff,#001dff,#0018ff,#0011ff,#000bff,#0004ff,#0000fb,#0000f8,#0000fd,#0003ff,#0011ff,#0021ff,#0035ff,#005bff,#0080ff,#009bff,#00b0ff,#00c4ff,#00d0ff,#00dbff,#00e4ff,#00eaff,#00f1ff,#00f4ff,#00f8ff,#00fbff,#00fdff,#00ffff,#00fdfd,#00fcfc,#00fafa,#00fafa,#00fafa,#00fefe,#00d1d1,#00bdbd,#00acac,#009b9b,#008d8d,#008080,#007474)"></div><div style="top:149px;height:2px;background:linear-gradient(90deg,#002dff,#002dff,#002dff,#002dff,#002eff,#002eff,#0030ff,#0032ff,#0035ff,#0038ff,#003cff,#003dff,#003dff,#003cff,#0039ff,#0035ff,#0033ff,#0030ff,#002dff,#002cff,#002aff,#0028ff,#0026ff,#0023ff,#001eff,#0019ff,#0013ff,#000cff,#0004ff,#0000fd,#0000f6,#0000f6,#0008ff,#0018ff,#002bff,#003fff,#0055ff,#0075ff,#0095ff,#00abff,#00bdff,#00ceff,#00d8ff,#00e2ff,#00e9ff,#00eeff,#00f4ff,#00f7ff,#00faff,#00fcff,#00feff,#00fdfd,#00fcfc,#00fafa,#00f9f9,#00f9f9,#00fafa,#00fefe,#00d1d1,#00bdbd,#00abab,#009b9b,#008d8d,#007f7f,#007373)"></div><div style="top:151px;height:2px;background:linear-gradient(90deg,#002dff,#002dff,#002dff,#002dff,#002eff,#002fff,#0031ff,#0034ff,#0037ff,#003aff,#003dff,#003dff,#003cff,#003bff,#0037ff,#0034ff,#0031ff,#002fff,#002dff,#002bff,#0029ff,#0027ff,#0024ff,#0020ff,#001aff,#0014ff,#000dff,#0006ff,#0000fd,#0000f7,#0000f1,#0000f5,#0012ff,#002dff,#0046ff,#005dff,#0075ff,#008fff,#00a9ff,#00bcff,#00caff,#00d8ff,#00e0ff,#00e8ff,#00eeff,#00f3ff,#00f7ff,#00faff,#00fcff,#00feff,#00fefe,#00fbfb,#00fafa,#00f9f9,#00f8f8,#00f8f8,#00f9f9,#00fdfd,#00d1d1,#00bdbd,#00abab,#009b9b,#008c8c,#007e7e,#007272)"></div><div style="top:153px;height:2px;background:linear-gradient(90deg,#002dff,#002dff,#002dff,#002dff,#002eff,#002fff,#0032ff,#0035ff,#0038ff,#003bff,#003eff,#003eff,#003bff,#0039ff,#0036ff,#0032ff,#0030ff,#002eff,#002cff,#002aff,#0028ff,#0025ff,#0022ff,#001eff,#0017ff,#0010ff,#0008ff,#0000ff,#0000f7,#0000f1,#0000ec,#0000f4,#001cff,#0042ff,#0061ff,#007cff,#0095ff,#00a9ff,#00beff,#00ccff,#00d7ff,#00e2ff,#00e8ff,#00efff,#00f3ff,#00f7ff,#00faff,#00fcff,#00feff,#00fefe,#00fcfc,#00f9f9,#00f8f8,#00f7f7,#00f6f6,#00f7f7,#00f8f8,#00fdfd,#00d1d1,#00bdbd,#00abab,#009a9a,#008b8b,#007d7d,#007171)"></div></div><div class="hm" style="left:35px;top:251px;width:265px;height:160px"><div style="top:0px;height:2px;background:linear-gradient(90deg,#181800,#212100,#2a2a00,#383800,#515100,#696900,#787800,#828200,#8c8c00,#8d8d00,#8d8d00,#8f8f00,#949400,#989800,#999900,#9a9a00,#9a9a00,#9a9a00,#9a9a00,#9a9a00,#9b9b00,#9b9b00,#a0a000,#a4a400,#a9a900,#aeae00,#b3b300,#b8b800,#bdbd00,#c1c100,#baba00,#b2b200,#a3a300,#828200,#606000,#4e4e00,#444400,#3b3b00,#525200,#6a6a00,#808000,#929200,#a4a400,#b0b000,#b9b900,#c2c200,#c2c200,#c3c300,#c3c300,#c3c300,#c3c300,#b4b400,#a1a100,#8b8b00,#646400,#3d3d00,#252500,#1b1b00,#111100,#0b0b00,#050500,#010100,#010100,#000000,#000000,#000000,#000000)"></div><div style="top:2px;height:2px;background:linear-gradient(90deg,#161600,#1e1e00,#262600,#333300,#4d4d00,#676700,#767600,#818100,#8c8c00,#8e8e00,#8f8f00,#919100,#959500,#989800,#9a9a00,#9c9c00,#9d9d00,#9d9d00,#9d9d00,#9d9d00,#9f9f00,#a0a000,#a5a500,#a9a900,#aeae00,#b3b300,#b8b800,#bdbd00,#c2c200,#c6c600,#c2c200,#bdbd00,#b0b000,#909000,#6f6f00,#5d5d00,#545400,#4a4a00,#606000,#777700,#8c8c00,#9c9c00,#acac00,#b7b700,#bfbf00,#c7c700,#c8c800,#caca00,#cbcb00,#cbcb00,#cbcb00,#bdbd00,#abab00,#959500,#6d6d00,#454500,#2c2c00,#212100,#161600,#0f0f00,#090900,#030300,#020200,#010100,#000000,#000000,#000000)"></div><div style="top:4px;height:2px;background:linear-gradient(90deg,#131300,#1a1a00,#212100,#2f2f00,#494900,#646400,#747400,#818100,#8c8c00,#8f8f00,#919100,#949400,#969600,#989800,#9b9b00,#9d9d00,#9f9f00,#9f9f00,#9f9f00,#a0a000,#a3a300,#a5a500,#aaaa00,#afaf00,#b3b300,#b8b800,#bdbd00,#c2c200,#c7c700,#cbcb00,#caca00,#c7c700,#bdbd00,#9e9e00,#7e7e00,#6c6c00,#636300,#595900,#6f6f00,#848400,#989800,#a6a600,#b5b500,#bebe00,#c5c500,#cccc00,#cece00,#d1d100,#d2d200,#d2d200,#d2d200,#c5c500,#b4b400,#9f9f00,#767600,#4d4d00,#333300,#272700,#1b1b00,#131300,#0c0c00,#060600,#030300,#010100,#000000,#000000,#000000)"></div><div style="top:6px;height:2px;background:linear-gradient(90deg,#111100,#171700,#1d1d00,#2a2a00,#454500,#616100,#737300,#808000,#8c8c00,#909000,#939300,#969600,#979700,#999900,#9c9c00,#9f9f00,#a2a200,#a2a200,#a2a200,#a3a300,#a7a700,#aaaa00,#afaf00,#b4b400,#b8b800,#bdbd00,#c2c200,#c7c700,#cccc00,#d1d100,#d1d100,#d2d200,#caca00,#abab00,#8d8d00,#7c7c00,#727200,#686800,#7d7d00,#929200,#a4a400,#b0b000,#bdbd00,#c5c500,#cbcb00,#d1d100,#d5d500,#d8d800,#dada00,#dada00,#dada00,#cdcd00,#bdbd00,#a9a900,#7f7f00,#555500,#3a3a00,#2d2d00,#202000,#171700,#0f0f00,#080800,#050500,#010100,#000000,#000000,#000000)"></div><div style="top:8px;height:2px;background:linear-gradient(90deg,#0e0e00,#131300,#191900,#252500,#414100,#5e5e00,#717100,#7f7f00,#8c8c00,#919100,#959500,#989800,#989800,#999900,#9c9c00,#a1a100,#a4a400,#a4a400,#a4a400,#a6a600,#abab00,#afaf00,#b4b400,#b9b900,#bdbd00,#c2c200,#c7c700,#cccc00,#d1d100,#d6d600,#d9d900,#dcdc00,#d7d700,#b9b900,#9c9c00,#8b8b00,#818100,#787800,#8b8b00,#9f9f00,#b0b000,#baba00,#c5c500,#cccc00,#d1d100,#d6d600,#dbdb00,#dfdf00,#e1e100,#e1e100,#e1e100,#d6d600,#c7c700,#b3b300,#888800,#5e5e00,#414100,#333300,#252500,#1c1c00,#121200,#0a0a00,#060600,#020200,#000000,#000000,#000000)"></div><div style="top:10px;height:2px;background:linear-gradient(90deg,#0c0c00,#101000,#151500,#212100,#3f3f00,#5c5c00,#707000,#7f7f00,#8e8e00,#929200,#969600,#999900,#9a9a00,#9a9a00,#9e9e00,#a3a300,#a7a700,#a7a700,#a7a700,#a9a900,#adad00,#b2b200,#b7b700,#bcbc00,#c1c100,#c7c700,#cccc00,#d1d100,#d7d700,#dcdc00,#e1e100,#e6e600,#e3e300,#c7c700,#acac00,#9b9b00,#929200,#888800,#9a9a00,#acac00,#bcbc00,#c4c400,#cdcd00,#d3d300,#d8d800,#dddd00,#e1e100,#e5e500,#e8e800,#e8e800,#e8e800,#dddd00,#cfcf00,#bcbc00,#919100,#656500,#484800,#3a3a00,#2b2b00,#202000,#161600,#0d0d00,#080800,#030300,#010100,#000000,#000000)"></div><div style="top:12px;height:2px;background:linear-gradient(90deg,#090900,#0e0e00,#121200,#1f1f00,#3e3e00,#5c5c00,#717100,#818100,#909000,#939300,#979700,#9a9a00,#9b9b00,#9c9c00,#a0a000,#a5a500,#a9a900,#a9a900,#a9a900,#abab00,#afaf00,#b2b200,#b8b800,#bebe00,#c4c400,#caca00,#d1d100,#d7d700,#dddd00,#e3e300,#eaea00,#f0f000,#eeee00,#d5d500,#bcbc00,#adad00,#a3a300,#9a9a00,#aaaa00,#baba00,#c8c800,#cece00,#d5d500,#dbdb00,#dfdf00,#e4e400,#e8e800,#ebeb00,#eded00,#eded00,#eded00,#e3e300,#d6d600,#c4c400,#989800,#6d6d00,#505000,#404000,#303000,#242400,#191900,#0f0f00,#0b0b00,#060600,#030300,#010100,#000000)"></div><div style="top:14px;height:2px;background:linear-gradient(90deg,#060600,#0b0b00,#101000,#1d1d00,#3c3c00,#5c5c00,#717100,#828200,#939300,#959500,#989800,#9a9a00,#9c9c00,#9f9f00,#a3a300,#a8a800,#acac00,#acac00,#acac00,#adad00,#b0b000,#b2b200,#b8b800,#c0c000,#c7c700,#cece00,#d5d500,#dcdc00,#e4e400,#ebeb00,#f2f200,#f9f900,#f9f900,#e3e300,#cdcd00,#bfbf00,#b5b500,#abab00,#baba00,#c8c800,#d4d400,#d8d800,#dddd00,#e2e200,#e7e700,#ecec00,#eeee00,#f1f100,#f2f200,#f2f200,#f2f200,#e8e800,#dcdc00,#cccc00,#a0a000,#757500,#575700,#464600,#353500,#282800,#1c1c00,#121200,#0d0d00,#080800,#050500,#020200,#000000)"></div><div style="top:16px;height:2px;background:linear-gradient(90deg,#040400,#090900,#0d0d00,#1b1b00,#3b3b00,#5b5b00,#727200,#848400,#959500,#979700,#989800,#9a9a00,#9e9e00,#a1a100,#a5a500,#aaaa00,#afaf00,#afaf00,#afaf00,#afaf00,#b1b100,#b2b200,#b9b900,#c1c100,#caca00,#d2d200,#dada00,#e2e200,#eaea00,#f2f200,#fbfb00,#fffd00,#fffd00,#f1f100,#dede00,#d0d000,#c7c700,#bdbd00,#caca00,#d6d600,#e0e000,#e3e300,#e6e600,#eaea00,#efef00,#f3f300,#f5f500,#f6f600,#f7f700,#f7f700,#f7f700,#eeee00,#e3e300,#d3d300,#a8a800,#7c7c00,#5e5e00,#4c4c00,#3a3a00,#2d2d00,#202000,#141400,#101000,#0b0b00,#070700,#030300,#000000)"></div><div style="top:18px;height:2px;background:linear-gradient(90deg,#010100,#060600,#0b0b00,#181800,#3a3a00,#5b5b00,#737300,#858500,#989800,#989800,#999900,#9b9b00,#9f9f00,#a3a300,#a8a800,#adad00,#b1b100,#b1b100,#b1b100,#b1b100,#b2b200,#b2b200,#baba00,#c3c300,#cccc00,#d5d500,#dfdf00,#e8e800,#f1f100,#fafa00,#fffd00,#fff800,#fff700,#fefe00,#eeee00,#e2e200,#d9d900,#cfcf00,#d9d900,#e4e400,#ecec00,#eded00,#eeee00,#f1f100,#f6f600,#fbfb00,#fbfb00,#fcfc00,#fcfc00,#fcfc00,#fcfc00,#f4f400,#eaea00,#dbdb00,#afaf00,#848400,#656500,#525200,#3f3f00,#313100,#232300,#171700,#121200,#0d0d00,#090900,#050500,#000000)"></div><div style="top:20px;height:2px;background:linear-gradient(90deg,#010100,#070700,#0c0c00,#1a1a00,#3c3c00,#5d5d00,#757500,#888800,#9a9a00,#9a9a00,#9a9a00,#9c9c00,#a1a100,#a6a600,#aaaa00,#afaf00,#b3b300,#b3b300,#b3b300,#b4b400,#b4b400,#b4b400,#bbbb00,#c5c500,#cece00,#d7d700,#e0e000,#eaea00,#f3f300,#fdfd00,#fffa00,#fff400,#fff100,#fff800,#ffff00,#f4f400,#eaea00,#e0e000,#e7e700,#efef00,#f4f400,#f4f400,#f3f300,#f6f600,#fbfb00,#ffff00,#ffff00,#ffff00,#ffff00,#ffff00,#ffff00,#f9f900,#f1f100,#e4e400,#baba00,#919100,#727200,#5e5e00,#494900,#393900,#292900,#1b1b00,#151500,#0f0f00,#0a0a00,#050500,#000000)"></div><div style="top:22px;height:2px;background:linear-gradient(90deg,#040400,#0b0b00,#121200,#222200,#424200,#636300,#797900,#8b8b00,#9d9d00,#9d9d00,#9d9d00,#9f9f00,#a3a300,#a8a800,#acac00,#afaf00,#b3b300,#b4b400,#b5b500,#b6b600,#b6b600,#b6b600,#bdbd00,#c5c500,#cece00,#d6d600,#dede00,#e7e700,#f1f100,#fafa00,#fff800,#ffee00,#ffe900,#fff000,#fff600,#fffc00,#fafa00,#efef00,#f3f300,#f7f700,#f9f900,#f8f800,#f6f600,#f8f800,#fcfc00,#ffff00,#ffff00,#ffff00,#ffff00,#ffff00,#ffff00,#fcfc00,#f8f800,#efef00,#caca00,#a6a600,#888800,#707000,#595900,#454500,#333300,#222200,#191900,#101000,#0a0a00,#050500,#000000)"></div><div style="top:24px;height:2px;background:linear-gradient(90deg,#060600,#0f0f00,#191900,#292900,#494900,#686800,#7e7e00,#8f8f00,#9f9f00,#9f9f00,#9f9f00,#a1a100,#a6a600,#abab00,#aeae00,#b0b000,#b3b300,#b5b500,#b7b700,#b9b900,#b9b900,#b9b900,#bfbf00,#c6c600,#cdcd00,#d5d500,#dcdc00,#e5e500,#eeee00,#f8f800,#fff600,#ffe900,#ffe100,#ffe700,#ffed00,#fff400,#fffa00,#fefe00,#fefe00,#fefe00,#fefe00,#fbfb00,#f9f900,#fafa00,#fdfd00,#ffff00,#ffff00,#ffff00,#ffff00,#ffff00,#ffff00,#ffff00,#fefe00,#f9f900,#dada00,#baba00,#9d9d00,#838300,#686800,#525200,#3d3d00,#292900,#1d1d00,#121200,#0a0a00,#050500,#000000)"></div><div style="top:26px;height:2px;background:linear-gradient(90deg,#090900,#141400,#1f1f00,#303000,#4f4f00,#6d6d00,#828200,#929200,#a2a200,#a2a200,#a2a200,#a4a400,#a8a800,#adad00,#b0b000,#b1b100,#b3b300,#b6b600,#b9b900,#bbbb00,#bbbb00,#bbbb00,#c0c000,#c7c700,#cdcd00,#d4d400,#dada00,#e2e200,#ecec00,#f5f500,#fff400,#ffe400,#ffda00,#ffdf00,#ffe500,#ffeb00,#fff100,#fff800,#fffa00,#fffc00,#fffd00,#ffff00,#fcfc00,#fcfc00,#fefe00,#ffff00,#ffff00,#ffff00,#ffff00,#ffff00,#ffff00,#fffe00,#fffc00,#fffc00,#e9e900,#cece00,#b2b200,#959500,#787800,#5f5f00,#464600,#303000,#222200,#131300,#0a0a00,#050500,#000000)"></div><div style="top:28px;height:2px;background:linear-gradient(90deg,#0b0b00,#181800,#252500,#383800,#555500,#737300,#878700,#969600,#a4a400,#a4a400,#a4a400,#a6a600,#abab00,#b0b000,#b1b100,#b2b200,#b3b300,#b7b700,#bbbb00,#bebe00,#bebe00,#bebe00,#c2c200,#c8c800,#cdcd00,#d2d200,#d8d800,#e0e000,#e9e900,#f3f300,#fff300,#ffdf00,#ffd200,#ffd700,#ffdc00,#ffe200,#ffe900,#fff000,#fff400,#fff800,#fffb00,#fffd00,#ffff00,#fefe00,#fefe00,#ffff00,#ffff00,#ffff00,#ffff00,#ffff00,#ffff00,#fffc00,#fff800,#fff700,#f9f900,#e3e300,#c8c800,#a8a800,#878700,#6c6c00,#505000,#373700,#262600,#141400,#0a0a00,#050500,#000000)"></div><div style="top:30px;height:2px;background:linear-gradient(90deg,#121200,#202000,#2e2e00,#414100,#5d5d00,#787800,#8b8b00,#999900,#a7a700,#a6a600,#a6a600,#a7a700,#abab00,#aeae00,#b0b000,#b0b000,#b1b100,#b6b600,#bbbb00,#bebe00,#bfbf00,#bfbf00,#c3c300,#c7c700,#cccc00,#d1d100,#d6d600,#dede00,#e8e800,#f2f200,#fff000,#ffda00,#ffcb00,#ffcf00,#ffd300,#ffd900,#ffe000,#ffe700,#ffec00,#fff000,#fff400,#fff700,#fffa00,#fffb00,#fffb00,#fffb00,#fffb00,#fffb00,#fffb00,#fffb00,#fffa00,#fff700,#fff300,#fff200,#fffc00,#f2f200,#d7d700,#b6b600,#949400,#767600,#585800,#3d3d00,#2a2a00,#161600,#0b0b00,#050500,#000000)"></div><div style="top:32px;height:2px;background:linear-gradient(90deg,#1f1f00,#2c2c00,#3b3b00,#4d4d00,#666600,#7e7e00,#8f8f00,#9d9d00,#a9a900,#a8a800,#a7a700,#a6a600,#a7a700,#a8a800,#a9a900,#aaaa00,#acac00,#b2b200,#b8b800,#bcbc00,#bebe00,#bfbf00,#c2c200,#c6c600,#caca00,#d0d000,#d6d600,#dfdf00,#eaea00,#f5f500,#ffed00,#ffd500,#ffc400,#ffc700,#ffc900,#ffcf00,#ffd500,#ffdc00,#ffe000,#ffe400,#ffe800,#ffec00,#fff000,#fff100,#fff200,#fff200,#fff200,#fff200,#fff200,#fff000,#ffee00,#ffed00,#ffec00,#ffed00,#fff700,#fafa00,#dfdf00,#bdbd00,#9b9b00,#7d7d00,#5e5e00,#424200,#2d2d00,#191900,#0d0d00,#060600,#000000)"></div><div style="top:34px;height:2px;background:linear-gradient(90deg,#2b2b00,#393900,#484800,#585800,#6e6e00,#848400,#949400,#a0a000,#acac00,#a9a900,#a7a700,#a5a500,#a3a300,#a1a100,#a2a200,#a4a400,#a7a700,#aeae00,#b5b500,#baba00,#bdbd00,#bfbf00,#c1c100,#c4c400,#c7c700,#cece00,#d6d600,#dfdf00,#ebeb00,#f7f700,#ffea00,#ffd000,#ffbd00,#ffbe00,#ffc000,#ffc400,#ffca00,#ffd000,#ffd400,#ffd800,#ffdc00,#ffe000,#ffe500,#ffe700,#ffe900,#ffea00,#ffea00,#ffea00,#ffe800,#ffe500,#ffe100,#ffe200,#ffe400,#ffe800,#fff200,#fffd00,#e7e700,#c5c500,#a3a300,#838300,#646400,#474700,#313100,#1c1c00,#0f0f00,#070700,#000000)"></div><div style="top:36px;height:2px;background:linear-gradient(90deg,#383800,#464600,#545400,#646400,#777700,#8a8a00,#989800,#a4a400,#aeae00,#abab00,#a8a800,#a4a400,#9f9f00,#9a9a00,#9b9b00,#9e9e00,#a2a200,#aaaa00,#b2b200,#b8b800,#bbbb00,#bfbf00,#c1c100,#c2c200,#c5c500,#cdcd00,#d5d500,#e0e000,#eded00,#fafa00,#ffe700,#ffcb00,#ffb600,#ffb600,#ffb600,#ffba00,#ffbf00,#ffc500,#ffc800,#ffcb00,#ffcf00,#ffd500,#ffdb00,#ffde00,#ffdf00,#ffe100,#ffe100,#ffe100,#ffdf00,#ffda00,#ffd500,#ffd800,#ffdd00,#ffe300,#ffee00,#fff900,#eeee00,#cccc00,#abab00,#8a8a00,#6a6a00,#4c4c00,#353500,#1f1f00,#111100,#090900,#000000)"></div><div style="top:38px;height:2px;background:linear-gradient(90deg,#454500,#525200,#616100,#707000,#808000,#909000,#9d9d00,#a7a700,#b1b100,#adad00,#a8a800,#a3a300,#9b9b00,#939300,#949400,#989800,#9d9d00,#a6a600,#afaf00,#b6b600,#baba00,#bfbf00,#c0c000,#c0c000,#c3c300,#cccc00,#d5d500,#e0e000,#eeee00,#fcfc00,#ffe400,#ffc600,#ffb000,#ffae00,#ffad00,#ffaf00,#ffb400,#ffba00,#ffbc00,#ffbf00,#ffc300,#ffca00,#ffd000,#ffd400,#ffd600,#ffd800,#ffd800,#ffd800,#ffd500,#ffcf00,#ffc800,#ffcd00,#ffd500,#ffde00,#ffe900,#fff500,#f6f600,#d4d400,#b2b200,#919100,#707000,#515100,#393900,#222200,#131300,#0a0a00,#000000)"></div><div style="top:40px;height:2px;background:linear-gradient(90deg,#4c4c00,#5a5a00,#696900,#777700,#868600,#949400,#9f9f00,#a9a900,#b2b200,#adad00,#a8a800,#a1a100,#979700,#8e8e00,#8f8f00,#949400,#999900,#a3a300,#adad00,#b5b500,#baba00,#bebe00,#c0c000,#c0c000,#c2c200,#cbcb00,#d5d500,#e1e100,#f0f000,#ffff00,#ffe100,#ffc200,#ffaa00,#ffa800,#ffa500,#ffa700,#ffac00,#ffb100,#ffb300,#ffb500,#ffb900,#ffbf00,#ffc600,#ffc900,#ffcb00,#ffcd00,#ffcd00,#ffcd00,#ffca00,#ffc300,#ffbd00,#ffc300,#ffcd00,#ffd700,#ffe300,#ffee00,#fffd00,#e1e100,#bfbf00,#9c9c00,#797900,#585800,#3f3f00,#262600,#151500,#0b0b00,#010100)"></div><div style="top:42px;height:2px;background:linear-gradient(90deg,#4c4c00,#5a5a00,#696900,#777700,#868600,#949400,#9f9f00,#a9a900,#b2b200,#acac00,#a6a600,#9e9e00,#959500,#8b8b00,#8c8c00,#919100,#979700,#a2a200,#adad00,#b5b500,#baba00,#bebe00,#c0c000,#c2c200,#c4c400,#cdcd00,#d5d500,#e2e200,#f3f300,#fffc00,#ffdf00,#ffc000,#ffa800,#ffa500,#ffa200,#ffa300,#ffa700,#ffab00,#ffad00,#ffaf00,#ffb200,#ffb600,#ffbb00,#ffbd00,#ffbe00,#ffbf00,#ffbf00,#ffbf00,#ffbd00,#ffb800,#ffb200,#ffb900,#ffc300,#ffcc00,#ffd800,#ffe300,#fff200,#f6f600,#d3d300,#aeae00,#888800,#646400,#484800,#2c2c00,#191900,#0d0d00,#010100)"></div><div style="top:44px;height:2px;background:linear-gradient(90deg,#4d4d00,#5a5a00,#696900,#777700,#868600,#949400,#9f9f00,#a9a900,#b2b200,#abab00,#a4a400,#9c9c00,#929200,#898900,#8a8a00,#8f8f00,#949400,#a0a000,#acac00,#b5b500,#baba00,#bebe00,#c1c100,#c3c300,#c7c700,#cece00,#d5d500,#e3e300,#f6f600,#fffa00,#ffdc00,#ffbd00,#ffa500,#ffa200,#ff9e00,#ff9f00,#ffa300,#ffa600,#ffa800,#ffa900,#ffab00,#ffad00,#ffb000,#ffb100,#ffb100,#ffb100,#ffb100,#ffb100,#ffb000,#ffac00,#ffa800,#ffaf00,#ffb800,#ffc200,#ffcd00,#ffd800,#ffe700,#fff900,#e7e700,#bfbf00,#979700,#707000,#515100,#323200,#1d1d00,#0f0f00,#010100)"></div><div style="top:46px;height:2px;background:linear-gradient(90deg,#4c4c00,#5a5a00,#696900,#777700,#868600,#949400,#9f9f00,#a9a900,#b2b200,#aaaa00,#a2a200,#999900,#909000,#868600,#878700,#8c8c00,#929200,#9f9f00,#acac00,#b5b500,#baba00,#bebe00,#c2c200,#c5c500,#c9c900,#cfcf00,#d6d600,#e4e400,#f9f900,#fff700,#ffda00,#ffba00,#ffa200,#ff9e00,#ff9a00,#ff9b00,#ff9e00,#ffa100,#ffa200,#ffa300,#ffa400,#ffa400,#ffa500,#ffa500,#ffa400,#ffa300,#ffa300,#ffa300,#ffa200,#ffa000,#ff9d00,#ffa500,#ffae00,#ffb800,#ffc300,#ffcd00,#ffdc00,#ffee00,#fcfc00,#d1d100,#a6a600,#7c7c00,#5a5a00,#393900,#212100,#111100,#010100)"></div><div style="top:48px;height:2px;background:linear-gradient(90deg,#4c4c00,#5a5a00,#696900,#777700,#868600,#949400,#9f9f00,#a9a900,#b2b200,#a9a900,#a0a000,#979700,#8d8d00,#848400,#858500,#8a8a00,#8f8f00,#9d9d00,#abab00,#b5b500,#baba00,#bebe00,#c3c300,#c7c700,#cbcb00,#d1d100,#d6d600,#e5e500,#fcfc00,#fff500,#ffd700,#ffb800,#ffa000,#ff9b00,#ff9700,#ff9700,#ff9a00,#ff9c00,#ff9d00,#ff9d00,#ff9d00,#ff9c00,#ff9a00,#ff9900,#ff9700,#ff9500,#ff9500,#ff9500,#ff9500,#ff9400,#ff9300,#ff9a00,#ffa400,#ffae00,#ffb800,#ffc200,#ffd000,#ffe300,#fff600,#e3e300,#b4b400,#888800,#646400,#3f3f00,#252500,#131300,#010100)"></div><div style="top:50px;height:2px;background:linear-gradient(90deg,#4b4b00,#585800,#666600,#757500,#848400,#949400,#a0a000,#aaaa00,#b3b300,#aaaa00,#a1a100,#989800,#8f8f00,#858500,#868600,#8b8b00,#909000,#9f9f00,#adad00,#b7b700,#bbbb00,#c0c000,#c5c500,#caca00,#cfcf00,#d4d400,#d9d900,#e9e900,#fffd00,#fff100,#ffd400,#ffb500,#ff9d00,#ff9800,#ff9400,#ff9300,#ff9600,#ff9800,#ff9800,#ff9700,#ff9600,#ff9300,#ff9000,#ff8d00,#ff8900,#ff8600,#ff8600,#ff8500,#ff8500,#ff8600,#ff8700,#ff8f00,#ff9900,#ffa300,#ffad00,#ffb700,#ffc600,#ffd900,#ffed00,#f3f300,#c2c200,#949400,#6c6c00,#454500,#292900,#151500,#010100)"></div><div style="top:52px;height:2px;background:linear-gradient(90deg,#464600,#525200,#5f5f00,#6e6e00,#818100,#939300,#a0a000,#abab00,#b6b600,#afaf00,#a8a800,#a0a000,#989800,#8f8f00,#909000,#939300,#989800,#a5a500,#b2b200,#bcbc00,#c0c000,#c5c500,#caca00,#cfcf00,#d4d400,#dada00,#e0e000,#f2f200,#fff700,#ffe900,#ffce00,#ffb100,#ff9b00,#ff9600,#ff9100,#ff9100,#ff9300,#ff9600,#ff9400,#ff9300,#ff9100,#ff8c00,#ff8800,#ff8200,#ff7b00,#ff7400,#ff7300,#ff7200,#ff7200,#ff7500,#ff7700,#ff8000,#ff8b00,#ff9600,#ffa100,#ffac00,#ffbc00,#ffd100,#ffe500,#fffe00,#cece00,#9d9d00,#747400,#4b4b00,#2d2d00,#171700,#010100)"></div><div style="top:54px;height:2px;background:linear-gradient(90deg,#414100,#4c4c00,#585800,#676700,#7d7d00,#929200,#a1a100,#adad00,#b8b800,#b3b300,#aeae00,#a8a800,#a1a100,#999900,#999900,#9c9c00,#9f9f00,#acac00,#b8b800,#c1c100,#c6c600,#caca00,#cfcf00,#d4d400,#d9d900,#e0e000,#e7e700,#fcfc00,#fff100,#ffe200,#ffc800,#ffad00,#ff9800,#ff9300,#ff8e00,#ff8e00,#ff9100,#ff9300,#ff9100,#ff8f00,#ff8b00,#ff8500,#ff7f00,#ff7600,#ff6c00,#ff6200,#ff6000,#ff5e00,#ff5f00,#ff6300,#ff6800,#ff7200,#ff7e00,#ff8a00,#ff9600,#ffa200,#ffb200,#ffc800,#ffde00,#fff700,#d9d900,#a7a700,#7c7c00,#515100,#313100,#191900,#010100)"></div><div style="top:56px;height:2px;background:linear-gradient(90deg,#3c3c00,#464600,#515100,#616100,#797900,#919100,#a2a200,#afaf00,#bbbb00,#b8b800,#b4b400,#b0b000,#aaaa00,#a3a300,#a3a300,#a4a400,#a7a700,#b2b200,#bebe00,#c6c600,#cbcb00,#cfcf00,#d4d400,#d9d900,#dfdf00,#e7e700,#efef00,#fffc00,#ffeb00,#ffda00,#ffc200,#ffa900,#ff9600,#ff9100,#ff8c00,#ff8c00,#ff8e00,#ff9000,#ff8d00,#ff8a00,#ff8500,#ff7e00,#ff7700,#ff6b00,#ff5e00,#ff5100,#ff4d00,#ff4a00,#ff4b00,#ff5200,#ff5800,#ff6300,#ff7000,#ff7d00,#ff8a00,#ff9700,#ffa900,#ffbf00,#ffd600,#fff100,#e5e500,#b1b100,#848400,#565600,#353500,#1b1b00,#010100)"></div><div style="top:58px;height:2px;background:linear-gradient(90deg,#363600,#404000,#4b4b00,#5a5a00,#757500,#909000,#a2a200,#b0b000,#bdbd00,#bcbc00,#bbbb00,#b8b800,#b2b200,#adad00,#acac00,#adad00,#aeae00,#b9b900,#c3c300,#cbcb00,#d0d000,#d4d400,#d9d900,#dede00,#e4e400,#eded00,#f6f600,#fff700,#ffe500,#ffd300,#ffbc00,#ffa500,#ff9300,#ff8e00,#ff8900,#ff8900,#ff8c00,#ff8e00,#ff8a00,#ff8600,#ff8000,#ff7700,#ff6f00,#ff6000,#ff4f00,#ff3f00,#ff3b00,#ff3600,#ff3800,#ff4000,#ff4800,#ff5500,#ff6300,#ff7100,#ff7f00,#ff8c00,#ff9f00,#ffb700,#ffce00,#ffea00,#f1f100,#baba00,#8b8b00,#5c5c00,#393900,#1d1d00,#010100)"></div><div style="top:60px;height:2px;background:linear-gradient(90deg,#313100,#3a3a00,#444400,#545400,#727200,#919100,#a5a500,#b5b500,#c5c500,#c4c400,#c4c400,#c1c100,#bcbc00,#b7b700,#b4b400,#b2b200,#b1b100,#b8b800,#bfbf00,#c7c700,#d1d100,#dbdb00,#e2e200,#e7e700,#eded00,#f5f500,#fcfc00,#fff400,#ffe100,#ffcd00,#ffb800,#ffa200,#ff9100,#ff8c00,#ff8700,#ff8700,#ff8900,#ff8b00,#ff8600,#ff8100,#ff7a00,#ff7000,#ff6600,#ff5500,#ff4100,#ff2f00,#ff2900,#ff2400,#ff2500,#ff2e00,#ff3700,#ff4500,#ff5400,#ff6300,#ff7300,#ff8200,#ff9500,#ffad00,#ffc600,#ffe200,#fefe00,#c5c500,#949400,#626200,#3d3d00,#1f1f00,#010100)"></div><div style="top:62px;height:2px;background:linear-gradient(90deg,#2c2c00,#343400,#3d3d00,#4d4d00,#717100,#949400,#aeae00,#c2c200,#d7d700,#d4d400,#d2d200,#cece00,#c8c800,#c1c100,#b9b900,#b0b000,#a8a800,#a7a700,#a5a500,#b0b000,#cbcb00,#e5e500,#f1f100,#f9f900,#fffe00,#ffff00,#ffff00,#fff400,#ffdf00,#ffcb00,#ffb500,#ffa000,#ff9000,#ff8b00,#ff8600,#ff8500,#ff8700,#ff8900,#ff8300,#ff7d00,#ff7500,#ff6a00,#ff5f00,#ff4c00,#ff3700,#ff2200,#ff1a00,#ff1300,#ff1200,#ff1b00,#ff2300,#ff3200,#ff4300,#ff5400,#ff6600,#ff7700,#ff8b00,#ffa300,#ffbb00,#ffd900,#fff700,#d4d400,#9e9e00,#696900,#414100,#212100,#020200)"></div><div style="top:64px;height:2px;background:linear-gradient(90deg,#272700,#2e2e00,#363600,#474700,#6f6f00,#989800,#b6b600,#d0d000,#e8e800,#e4e400,#dfdf00,#dada00,#d3d300,#cccc00,#bebe00,#afaf00,#a0a000,#959500,#8b8b00,#9a9a00,#c4c400,#efef00,#ffff00,#fff900,#fff500,#fff900,#fffd00,#fff300,#ffde00,#ffc800,#ffb300,#ff9f00,#ff8e00,#ff8a00,#ff8500,#ff8400,#ff8500,#ff8600,#ff7f00,#ff7800,#ff7000,#ff6400,#ff5800,#ff4300,#ff2c00,#ff1500,#ff0c00,#ff0200,#ff0000,#ff0800,#ff0f00,#ff2000,#ff3300,#ff4600,#ff5900,#ff6b00,#ff8100,#ff9900,#ffb100,#ffd000,#ffef00,#e2e200,#a9a900,#707000,#454500,#232300,#020200)"></div><div style="top:66px;height:2px;background:linear-gradient(90deg,#222200,#282800,#2f2f00,#414100,#6e6e00,#9b9b00,#bebe00,#dddd00,#fafa00,#f4f400,#eded00,#e6e600,#dede00,#d6d600,#c3c300,#adad00,#979700,#848400,#717100,#838300,#bebe00,#f9f900,#fff700,#fff000,#ffec00,#fff400,#fffb00,#fff300,#ffdc00,#ffc600,#ffb100,#ff9d00,#ff8d00,#ff8800,#ff8300,#ff8200,#ff8300,#ff8400,#ff7c00,#ff7400,#ff6a00,#ff5d00,#ff5000,#ff3b00,#ff2100,#ff0800,#fc0000,#f10000,#ed0000,#f40000,#fa0000,#ff0d00,#ff2200,#ff3700,#ff4c00,#ff6000,#ff7700,#ff8f00,#ffa700,#ffc600,#ffe600,#f0f000,#b3b300,#767600,#484800,#252500,#020200)"></div><div style="top:68px;height:2px;background:linear-gradient(90deg,#1d1d00,#222200,#282800,#3b3b00,#6d6d00,#9f9f00,#c7c700,#eaea00,#fff900,#fffd00,#fbfb00,#f2f200,#eaea00,#e1e100,#c9c900,#abab00,#8f8f00,#737300,#575700,#6c6c00,#b7b700,#fffd00,#fff000,#ffe700,#ffe200,#ffee00,#fffa00,#fff200,#ffdb00,#ffc300,#ffaf00,#ff9b00,#ff8c00,#ff8700,#ff8200,#ff8100,#ff8100,#ff8100,#ff7800,#ff6f00,#ff6500,#ff5700,#ff4900,#ff3200,#ff1600,#fa0000,#ed0000,#e00000,#db0000,#e00000,#e60000,#f90000,#ff1100,#ff2800,#ff3f00,#ff5500,#ff6d00,#ff8500,#ff9d00,#ffbd00,#ffde00,#ffff00,#bebe00,#7d7d00,#4c4c00,#272700,#020200)"></div><div style="top:70px;height:2px;background:linear-gradient(90deg,#191900,#1d1d00,#222200,#363600,#6a6a00,#9e9e00,#cccc00,#f6f600,#ffef00,#fff300,#fff700,#fffc00,#fafa00,#eeee00,#d0d000,#abab00,#878700,#656500,#434300,#5b5b00,#b5b500,#fff700,#ffe800,#ffde00,#ffd900,#ffe800,#fff700,#fff100,#ffda00,#ffc200,#ffae00,#ff9a00,#ff8b00,#ff8600,#ff8100,#ff7f00,#ff7f00,#ff7f00,#ff7500,#ff6c00,#ff6000,#ff5200,#ff4300,#ff2a00,#ff0d00,#f00000,#e10000,#d20000,#cc0000,#d10000,#d60000,#e90000,#ff0200,#ff1a00,#ff3300,#ff4b00,#ff6300,#ff7c00,#ff9400,#ffb400,#ffd700,#fff900,#c8c800,#838300,#505000,#292900,#020200)"></div><div style="top:72px;height:2px;background:linear-gradient(90deg,#161600,#1b1b00,#202000,#323200,#646400,#959500,#c9c900,#ffff00,#ffe500,#ffe600,#ffe700,#ffeb00,#fff400,#fffd00,#dddd00,#afaf00,#828200,#5f5f00,#3c3c00,#585800,#bdbd00,#ffee00,#ffde00,#ffd600,#ffd200,#ffe300,#fff400,#fff000,#ffda00,#ffc400,#ffaf00,#ff9a00,#ff8900,#ff8500,#ff8100,#ff7f00,#ff7d00,#ff7c00,#ff7300,#ff6900,#ff5e00,#ff4f00,#ff4100,#ff2700,#ff0900,#eb0000,#db0000,#cb0000,#c40000,#c90000,#ce0000,#e10000,#f80000,#ff1000,#ff2a00,#ff4300,#ff5c00,#ff7400,#ff8c00,#ffae00,#ffd100,#fff400,#cfcf00,#898900,#545400,#2b2b00,#020200)"></div><div style="top:74px;height:2px;background:linear-gradient(90deg,#141400,#181800,#1d1d00,#2f2f00,#5d5d00,#8c8c00,#c7c700,#fffb00,#ffdb00,#ffd900,#ffd700,#ffdb00,#ffe600,#fff200,#eaea00,#b2b200,#7d7d00,#595900,#353500,#565600,#c5c500,#ffe400,#ffd500,#ffcd00,#ffcb00,#ffde00,#fff100,#ffee00,#ffdb00,#ffc700,#ffb000,#ff9a00,#ff8800,#ff8500,#ff8100,#ff7e00,#ff7c00,#ff7a00,#ff7000,#ff6600,#ff5b00,#ff4d00,#ff3e00,#ff2400,#ff0500,#e50000,#d50000,#c40000,#bd0000,#c10000,#c60000,#d90000,#ef0000,#ff0600,#ff2100,#ff3b00,#ff5400,#ff6c00,#ff8400,#ffa700,#ffcb00,#ffef00,#d7d700,#8f8f00,#585800,#2d2d00,#020200)"></div><div style="top:76px;height:2px;background:linear-gradient(90deg,#111100,#161600,#1b1b00,#2b2b00,#575700,#838300,#c4c400,#fff600,#ffd100,#ffcc00,#ffc700,#ffca00,#ffd900,#ffe700,#f7f700,#b6b600,#777700,#535300,#2e2e00,#535300,#cdcd00,#ffdb00,#ffcb00,#ffc500,#ffc400,#ffd800,#ffed00,#ffed00,#ffdb00,#ffc900,#ffb200,#ff9a00,#ff8700,#ff8400,#ff8100,#ff7e00,#ff7a00,#ff7700,#ff6e00,#ff6400,#ff5900,#ff4a00,#ff3c00,#ff2100,#ff0000,#e00000,#cf0000,#bd0000,#b50000,#ba0000,#bf0000,#d00000,#e50000,#fb0000,#ff1800,#ff3300,#ff4d00,#ff6500,#ff7d00,#ffa000,#ffc500,#ffea00,#dfdf00,#959500,#5c5c00,#2f2f00,#020200)"></div><div style="top:78px;height:2px;background:linear-gradient(90deg,#0f0f00,#131300,#181800,#282800,#515100,#7a7a00,#c2c200,#fff100,#ffc700,#ffbf00,#ffb700,#ffba00,#ffcb00,#ffdc00,#fffc00,#b9b900,#727200,#4c4c00,#262600,#515100,#d5d500,#ffd200,#ffc200,#ffbd00,#ffbc00,#ffd300,#ffea00,#ffeb00,#ffdb00,#ffcc00,#ffb300,#ff9900,#ff8600,#ff8300,#ff8100,#ff7d00,#ff7900,#ff7500,#ff6b00,#ff6100,#ff5600,#ff4800,#ff3900,#ff1d00,#fb0000,#db0000,#c90000,#b60000,#ad0000,#b20000,#b70000,#c80000,#dc0000,#f10000,#ff0f00,#ff2b00,#ff4500,#ff5d00,#ff7500,#ff9900,#ffbf00,#ffe500,#e7e700,#9b9b00,#606000,#313100,#020200)"></div><div style="top:80px;height:2px;background:linear-gradient(90deg,#003c3c,#004e4e,#006262,#007878,#009090,#00aaaa,#00c5c5,#00e1e1,#00fefe,#00fefe,#00ffff,#00fcfc,#00f4f4,#00eded,#00c0c0,#008c8c,#005c5c,#002222,#000202,#000909,#006868,#00fdff,#00e3ff,#00d0ff,#00bfff,#00b8ff,#00b0ff,#00acff,#00a9ff,#00a7ff,#00a4ff,#00a2ff,#009fff,#009dff,#009aff,#0096ff,#0091ff,#008dff,#0088ff,#0083ff,#007cff,#0073ff,#0069ff,#0058ff,#0045ff,#0031ff,#001eff,#000aff,#0000fa,#0000f1,#0000e7,#0000ed,#0000f7,#0005ff,#0027ff,#0049ff,#006bff,#008eff,#00b0ff,#00ccff,#00e6ff,#00eeee,#007777,#002323,#000909,#000505,#000202)"></div><div style="top:82px;height:2px;background:linear-gradient(90deg,#004141,#005252,#006666,#007b7b,#009292,#00aaaa,#00c4c4,#00dfdf,#00fafa,#00fcfc,#00fefe,#00fcfc,#00f4f4,#00eded,#00c2c2,#009191,#006262,#002929,#000505,#000e0e,#006b6b,#00ffff,#00e6ff,#00d4ff,#00c4ff,#00bcff,#00b4ff,#00afff,#00acff,#00a9ff,#00a6ff,#00a3ff,#00a0ff,#009eff,#009cff,#0098ff,#0093ff,#008eff,#0089ff,#0084ff,#007eff,#0073ff,#0069ff,#0057ff,#0043ff,#002eff,#001bff,#0008ff,#0000f8,#0000ee,#0000e4,#0000eb,#0000f6,#0005ff,#0028ff,#004bff,#006fff,#0093ff,#00b7ff,#00d3ff,#00eeff,#00d8d8,#006e6e,#002121,#000909,#000505,#000202)"></div><div style="top:84px;height:2px;background:linear-gradient(90deg,#004646,#005757,#006a6a,#007e7e,#009494,#00abab,#00c3c3,#00dcdc,#00f6f6,#00f9f9,#00fdfd,#00fcfc,#00f4f4,#00eded,#00c4c4,#009595,#006868,#003030,#000a0a,#001313,#006f6f,#00fafa,#00eaff,#00d9ff,#00c9ff,#00c1ff,#00b9ff,#00b3ff,#00afff,#00acff,#00a8ff,#00a5ff,#00a2ff,#009fff,#009dff,#0099ff,#0094ff,#008fff,#008aff,#0086ff,#007fff,#0074ff,#0069ff,#0057ff,#0041ff,#002cff,#0019ff,#0005ff,#0000f5,#0000eb,#0000e2,#0000e9,#0000f5,#0005ff,#0029ff,#004dff,#0073ff,#0099ff,#00bfff,#00dbff,#00f6ff,#00c3c3,#006464,#001f1f,#000909,#000505,#000202)"></div><div style="top:86px;height:2px;background:linear-gradient(90deg,#004b4b,#005b5b,#006d6d,#008181,#009595,#00abab,#00c2c2,#00dada,#00f2f2,#00f7f7,#00fcfc,#00fcfc,#00f4f4,#00eded,#00c6c6,#009a9a,#006e6e,#003737,#001010,#001919,#007272,#00f4f4,#00edff,#00ddff,#00ceff,#00c5ff,#00bdff,#00b6ff,#00b2ff,#00aeff,#00aaff,#00a6ff,#00a3ff,#00a0ff,#009eff,#009aff,#0095ff,#0090ff,#008cff,#0087ff,#0080ff,#0075ff,#0069ff,#0056ff,#0040ff,#0029ff,#0016ff,#0003ff,#0000f2,#0000e9,#0000df,#0000e7,#0000f4,#0006ff,#002bff,#0050ff,#0076ff,#009eff,#00c6ff,#00e3ff,#00fdff,#00afaf,#005b5b,#001d1d,#000909,#000505,#000202)"></div><div style="top:88px;height:2px;background:linear-gradient(90deg,#005050,#006060,#007171,#008484,#009797,#00abab,#00c1c1,#00d7d7,#00eeee,#00f4f4,#00fbfb,#00fcfc,#00f4f4,#00eded,#00c9c9,#009e9e,#007575,#003f3f,#001717,#002020,#007575,#00eded,#00f1ff,#00e1ff,#00d3ff,#00caff,#00c1ff,#00baff,#00b6ff,#00b1ff,#00adff,#00a8ff,#00a4ff,#00a2ff,#009fff,#009bff,#0097ff,#0092ff,#008dff,#0088ff,#0081ff,#0075ff,#0069ff,#0055ff,#003eff,#0027ff,#0013ff,#0000ff,#0000f0,#0000e6,#0000dd,#0000e5,#0000f3,#0006ff,#002cff,#0052ff,#007aff,#00a4ff,#00ceff,#00eaff,#00ecec,#009c9c,#005252,#001c1c,#000909,#000505,#000202)"></div><div style="top:90px;height:2px;background:linear-gradient(90deg,#005454,#006363,#007373,#008585,#009797,#00abab,#00bfbf,#00d4d4,#00e9e9,#00f0f0,#00f7f7,#00f8f8,#00f1f1,#00e9e9,#00c9c9,#00a2a2,#007d7d,#004a4a,#002323,#002d2d,#007d7d,#00e9e9,#00f4ff,#00e6ff,#00d9ff,#00cfff,#00c6ff,#00bfff,#00baff,#00b5ff,#00afff,#00aaff,#00a6ff,#00a3ff,#00a1ff,#009dff,#0098ff,#0093ff,#008eff,#0089ff,#0082ff,#0076ff,#006aff,#0056ff,#003eff,#0026ff,#0013ff,#0000ff,#0000f0,#0000e6,#0000dd,#0000e7,#0000f6,#0009ff,#0030ff,#0057ff,#0080ff,#00abff,#00d6ff,#00f2ff,#00d7d7,#008d8d,#004b4b,#001a1a,#000909,#000505,#000202)"></div><div style="top:92px;height:2px;background:linear-gradient(90deg,#005454,#006262,#007171,#008181,#009494,#00a7a7,#00baba,#00cdcd,#00e1e1,#00e6e6,#00ecec,#00ecec,#00e5e5,#00dddd,#00c4c4,#00a6a6,#008888,#005f5f,#003c3c,#004747,#008f8f,#00e9e9,#00f7ff,#00ebff,#00dfff,#00d6ff,#00cdff,#00c6ff,#00c0ff,#00baff,#00b4ff,#00aeff,#00a8ff,#00a5ff,#00a2ff,#009eff,#0099ff,#0094ff,#0090ff,#008bff,#0084ff,#0078ff,#006dff,#0059ff,#0042ff,#002cff,#0018ff,#0005ff,#0000f5,#0000ed,#0000e5,#0000ef,#0000ff,#0013ff,#003bff,#0063ff,#008cff,#00b5ff,#00deff,#00f8ff,#00c8c8,#008484,#004747,#001919,#000909,#000505,#000202)"></div><div style="top:94px;height:2px;background:linear-gradient(90deg,#005454,#006161,#006f6f,#007e7e,#009090,#00a4a4,#00b6b6,#00c7c7,#00d9d9,#00dddd,#00e1e1,#00e0e0,#00d9d9,#00d2d2,#00bfbf,#00a9a9,#009393,#007676,#005b5b,#006666,#00a3a3,#00e9e9,#00faff,#00f0ff,#00e6ff,#00ddff,#00d5ff,#00cdff,#00c6ff,#00bfff,#00b8ff,#00b1ff,#00abff,#00a7ff,#00a4ff,#009fff,#009aff,#0096ff,#0091ff,#008cff,#0085ff,#007aff,#006fff,#005cff,#0046ff,#0031ff,#001dff,#000aff,#0000fb,#0000f4,#0000ec,#0000f8,#000aff,#001eff,#0047ff,#0070ff,#0098ff,#00bfff,#00e6ff,#00ffff,#00baba,#007b7b,#004343,#001919,#000909,#000505,#000202)"></div><div style="top:96px;height:2px;background:linear-gradient(90deg,#005454,#006060,#006c6c,#007b7b,#008d8d,#00a0a0,#00b1b1,#00c1c1,#00d1d1,#00d3d3,#00d6d6,#00d5d5,#00cdcd,#00c6c6,#00baba,#00adad,#009f9f,#008e8e,#007e7e,#008a8a,#00b7b7,#00e9e9,#00fdff,#00f5ff,#00edff,#00e4ff,#00dcff,#00d4ff,#00ccff,#00c4ff,#00bcff,#00b4ff,#00adff,#00a9ff,#00a5ff,#00a1ff,#009cff,#0097ff,#0092ff,#008dff,#0086ff,#007cff,#0072ff,#0060ff,#004bff,#0036ff,#0023ff,#000fff,#0002ff,#0000fa,#0000f4,#0001ff,#0013ff,#0028ff,#0052ff,#007cff,#00a3ff,#00c8ff,#00eeff,#00ebeb,#00acac,#007272,#003f3f,#001818,#000909,#000505,#000202)"></div><div style="top:98px;height:2px;background:linear-gradient(90deg,#005454,#005f5f,#006a6a,#007878,#008a8a,#009d9d,#00adad,#00bbbb,#00c9c9,#00caca,#00cbcb,#00c9c9,#00c2c2,#00bbbb,#00b5b5,#00b0b0,#00abab,#00a8a8,#00a6a6,#00b0b0,#00cccc,#00e8e8,#00fdfd,#00f9ff,#00f3ff,#00ecff,#00e4ff,#00dcff,#00d3ff,#00caff,#00c0ff,#00b7ff,#00b0ff,#00abff,#00a7ff,#00a2ff,#009dff,#0098ff,#0093ff,#008fff,#0088ff,#007eff,#0074ff,#0063ff,#004fff,#003bff,#0028ff,#0014ff,#0007ff,#0002ff,#0000fb,#000aff,#001dff,#0033ff,#005eff,#0089ff,#00afff,#00d2ff,#00f5ff,#00d8d8,#009e9e,#006a6a,#003b3b,#001717,#000909,#000505,#000202)"></div><div style="top:100px;height:2px;background:linear-gradient(90deg,#005252,#005c5c,#006767,#007474,#008686,#009999,#00a8a8,#00b6b6,#00c3c3,#00c3c3,#00c3c3,#00c1c1,#00baba,#00b4b4,#00b3b3,#00b3b3,#00b4b4,#00bbbb,#00c1c1,#00cbcb,#00d9d9,#00e7e7,#00f6f6,#00fdff,#00f8ff,#00f1ff,#00eaff,#00e2ff,#00d8ff,#00cfff,#00c5ff,#00bbff,#00b2ff,#00adff,#00a8ff,#00a4ff,#009fff,#009aff,#0095ff,#0090ff,#008aff,#0081ff,#0077ff,#0067ff,#0055ff,#0042ff,#0030ff,#001dff,#0010ff,#000cff,#0007ff,#0016ff,#002aff,#0041ff,#006cff,#0096ff,#00bcff,#00dcff,#00fdff,#00c7c7,#009393,#006363,#003838,#001616,#000909,#000505,#000202)"></div><div style="top:102px;height:2px;background:linear-gradient(90deg,#004d4d,#005656,#006161,#006e6e,#008181,#009595,#00a5a5,#00b2b2,#00c0c0,#00c0c0,#00c0c0,#00bebe,#00b9b9,#00b4b4,#00b4b4,#00b6b6,#00b8b8,#00bdbd,#00c2c2,#00caca,#00d7d7,#00e3e3,#00f0f0,#00fdfd,#00fbff,#00f4ff,#00eeff,#00e6ff,#00ddff,#00d4ff,#00c9ff,#00beff,#00b5ff,#00b0ff,#00abff,#00a6ff,#00a1ff,#009dff,#0098ff,#0093ff,#008dff,#0085ff,#007cff,#006eff,#005dff,#004dff,#003cff,#002bff,#0020ff,#001dff,#0019ff,#0029ff,#003eff,#0055ff,#007eff,#00a7ff,#00c9ff,#00e6ff,#00f4f4,#00baba,#008a8a,#005e5e,#003535,#001616,#000909,#000505,#000202)"></div><div style="top:104px;height:2px;background:linear-gradient(90deg,#004848,#005151,#005b5b,#006969,#007c7c,#009292,#00a1a1,#00afaf,#00bcbc,#00bcbc,#00bcbc,#00baba,#00b7b7,#00b3b3,#00b5b5,#00b8b8,#00bbbb,#00bfbf,#00c3c3,#00caca,#00d5d5,#00e0e0,#00ebeb,#00f6f6,#00feff,#00f7ff,#00f1ff,#00eaff,#00e1ff,#00d9ff,#00cdff,#00c1ff,#00b7ff,#00b2ff,#00aeff,#00a9ff,#00a4ff,#009fff,#009aff,#0095ff,#0090ff,#0088ff,#0081ff,#0074ff,#0066ff,#0057ff,#0048ff,#003aff,#0030ff,#002eff,#002bff,#003cff,#0051ff,#006aff,#0090ff,#00b7ff,#00d7ff,#00efff,#00e3e3,#00aeae,#008282,#005959,#003333,#001515,#000909,#000505,#000202)"></div><div style="top:106px;height:2px;background:linear-gradient(90deg,#004343,#004c4c,#005656,#006363,#007878,#008e8e,#009e9e,#00abab,#00b8b8,#00b8b8,#00b8b8,#00b7b7,#00b5b5,#00b3b3,#00b6b6,#00bbbb,#00bfbf,#00c1c1,#00c3c3,#00c9c9,#00d2d2,#00dcdc,#00e6e6,#00f0f0,#00fbfb,#00fbff,#00f5ff,#00eeff,#00e6ff,#00deff,#00d2ff,#00c5ff,#00baff,#00b5ff,#00b0ff,#00abff,#00a7ff,#00a2ff,#009dff,#0098ff,#0093ff,#008cff,#0086ff,#007bff,#006eff,#0062ff,#0055ff,#0048ff,#0040ff,#003fff,#003dff,#004fff,#0065ff,#007eff,#00a3ff,#00c8ff,#00e4ff,#00f9ff,#00d2d2,#00a3a3,#007979,#005454,#003030,#001515,#000909,#000505,#000202)"></div><div style="top:108px;height:2px;background:linear-gradient(90deg,#003e3e,#004747,#005050,#005e5e,#007373,#008a8a,#009b9b,#00a8a8,#00b5b5,#00b5b5,#00b5b5,#00b4b4,#00b3b3,#00b3b3,#00b7b7,#00bdbd,#00c3c3,#00c3c3,#00c4c4,#00c8c8,#00d0d0,#00d8d8,#00e1e1,#00e9e9,#00f3f3,#00feff,#00f9ff,#00f2ff,#00ebff,#00e3ff,#00d6ff,#00c8ff,#00bcff,#00b8ff,#00b3ff,#00aeff,#00a9ff,#00a4ff,#009fff,#009bff,#0096ff,#0090ff,#008bff,#0082ff,#0077ff,#006cff,#0061ff,#0056ff,#0050ff,#004fff,#004fff,#0061ff,#0079ff,#0092ff,#00b5ff,#00d8ff,#00f2ff,#00f4f4,#00c1c1,#009797,#007171,#004f4f,#002e2e,#001414,#000909,#000505,#000202)"></div><div style="top:110px;height:2px;background:linear-gradient(90deg,#003535,#003e3e,#004848,#005555,#006c6c,#008585,#009696,#00a4a4,#00b2b2,#00b2b2,#00b2b2,#00b2b2,#00b2b2,#00b2b2,#00b7b7,#00bdbd,#00c3c3,#00c4c4,#00c4c4,#00c8c8,#00cece,#00d5d5,#00dcdc,#00e3e3,#00ecec,#00fbfb,#00fcff,#00f6ff,#00efff,#00e8ff,#00daff,#00cbff,#00c0ff,#00bbff,#00b6ff,#00b1ff,#00adff,#00a8ff,#00a3ff,#009fff,#009aff,#0095ff,#0091ff,#0089ff,#0080ff,#0078ff,#006fff,#0067ff,#0062ff,#0064ff,#0065ff,#0077ff,#008eff,#00a6ff,#00c6ff,#00e6ff,#00fdff,#00dbdb,#00b2b2,#008c8c,#006a6a,#004a4a,#002b2b,#001313,#000909,#000505,#000202)"></div><div style="top:112px;height:2px;background:linear-gradient(90deg,#002828,#003131,#003b3b,#004949,#006262,#007d7d,#009191,#00a2a2,#00b2b2,#00b2b2,#00b2b2,#00b2b2,#00b2b2,#00b2b2,#00b6b6,#00bbbb,#00c0c0,#00c2c2,#00c4c4,#00c7c7,#00cccc,#00d1d1,#00d8d8,#00dfdf,#00e8e8,#00f5f5,#00feff,#00f9ff,#00f2ff,#00ecff,#00deff,#00cfff,#00c3ff,#00bfff,#00baff,#00b5ff,#00b1ff,#00adff,#00a9ff,#00a5ff,#00a1ff,#009dff,#0098ff,#0092ff,#008bff,#0085ff,#007fff,#007aff,#0078ff,#007cff,#0081ff,#0091ff,#00a5ff,#00baff,#00d5ff,#00f0ff,#00f0f0,#00c8c8,#00a3a3,#008181,#006262,#004545,#002828,#001212,#000808,#000505,#000202)"></div><div style="top:114px;height:2px;background:linear-gradient(90deg,#001c1c,#002525,#002f2f,#003d3d,#005858,#007676,#008c8c,#009f9f,#00b2b2,#00b2b2,#00b2b2,#00b2b2,#00b2b2,#00b2b2,#00b5b5,#00b9b9,#00bcbc,#00bfbf,#00c3c3,#00c6c6,#00caca,#00cece,#00d4d4,#00dbdb,#00e3e3,#00efef,#00fafa,#00fcff,#00f5ff,#00efff,#00e2ff,#00d3ff,#00c7ff,#00c2ff,#00beff,#00baff,#00b6ff,#00b2ff,#00afff,#00abff,#00a7ff,#00a4ff,#00a0ff,#009bff,#0096ff,#0092ff,#008fff,#008dff,#008eff,#0095ff,#009cff,#00abff,#00bcff,#00ceff,#00e4ff,#00faff,#00d9d9,#00b6b6,#009595,#007777,#005b5b,#004040,#002525,#001010,#000707,#000404,#000202)"></div><div style="top:116px;height:2px;background:linear-gradient(90deg,#001212,#001a1a,#002424,#003232,#004e4e,#006f6f,#008888,#009d9d,#00b2b2,#00b2b2,#00b2b2,#00b2b2,#00b2b2,#00b2b2,#00b4b4,#00b6b6,#00b9b9,#00bdbd,#00c2c2,#00c6c6,#00c8c8,#00caca,#00d0d0,#00d7d7,#00dfdf,#00e9e9,#00f3f3,#00feff,#00f9ff,#00f3ff,#00e6ff,#00d7ff,#00cbff,#00c6ff,#00c1ff,#00beff,#00bbff,#00b7ff,#00b4ff,#00b1ff,#00aeff,#00abff,#00a8ff,#00a5ff,#00a2ff,#009fff,#009fff,#009fff,#00a4ff,#00aeff,#00b8ff,#00c5ff,#00d3ff,#00e2ff,#00f3ff,#00eeee,#00c4c4,#00a5a5,#008787,#006c6c,#005454,#003c3c,#002222,#000e0e,#000606,#000404,#000202)"></div><div style="top:118px;height:2px;background:linear-gradient(90deg,#000a0a,#001111,#001a1a,#002828,#004545,#006767,#008383,#009a9a,#00b2b2,#00b2b2,#00b2b2,#00b2b2,#00b2b2,#00b2b2,#00b3b3,#00b4b4,#00b5b5,#00bbbb,#00c1c1,#00c5c5,#00c6c6,#00c6c6,#00cccc,#00d4d4,#00dbdb,#00e3e3,#00ebeb,#00f8f8,#00fcff,#00f7ff,#00e9ff,#00dbff,#00cfff,#00caff,#00c5ff,#00c2ff,#00bfff,#00bdff,#00baff,#00b7ff,#00b5ff,#00b2ff,#00afff,#00aeff,#00adff,#00acff,#00afff,#00b2ff,#00baff,#00c7ff,#00d4ff,#00dfff,#00ebff,#00f6ff,#00f5f5,#00d0d0,#00afaf,#009494,#007a7a,#006363,#004d4d,#003737,#001f1f,#000d0d,#000606,#000404,#000202)"></div><div style="top:120px;height:2px;background:linear-gradient(90deg,#000606,#000c0c,#001414,#002323,#004040,#006464,#008080,#009999,#00b2b2,#00b2b2,#00b2b2,#00b2b2,#00b2b2,#00b2b2,#00b2b2,#00b2b2,#00b3b3,#00b9b9,#00c0c0,#00c3c3,#00c4c4,#00c4c4,#00caca,#00d0d0,#00d7d7,#00dede,#00e6e6,#00f1f1,#00feff,#00faff,#00ecff,#00deff,#00d3ff,#00cfff,#00cbff,#00c9ff,#00c7ff,#00c5ff,#00c3ff,#00c1ff,#00bfff,#00bdff,#00baff,#00baff,#00baff,#00baff,#00bfff,#00c3ff,#00ccff,#00d9ff,#00e7ff,#00f1ff,#00faff,#00f1f1,#00d4d4,#00b9b9,#009f9f,#008686,#006f6f,#005a5a,#004646,#003333,#001d1d,#000c0c,#000505,#000404,#000202)"></div><div style="top:122px;height:2px;background:linear-gradient(90deg,#000505,#000b0b,#001313,#002121,#003f3f,#006363,#008080,#009999,#00b2b2,#00b2b2,#00b2b2,#00b2b2,#00b2b2,#00b2b2,#00b2b2,#00b2b2,#00b3b3,#00b8b8,#00bdbd,#00c0c0,#00c2c2,#00c4c4,#00c9c9,#00cece,#00d3d3,#00dada,#00e2e2,#00eded,#00fcfc,#00fbff,#00efff,#00e2ff,#00d8ff,#00d6ff,#00d4ff,#00d3ff,#00d2ff,#00d2ff,#00d1ff,#00cfff,#00cdff,#00cbff,#00caff,#00c9ff,#00c9ff,#00caff,#00ceff,#00d2ff,#00d9ff,#00e5ff,#00f0ff,#00f9ff,#00f7f7,#00dddd,#00c3c3,#00aaaa,#009292,#007b7b,#006666,#005353,#004141,#002f2f,#001b1b,#000b0b,#000505,#000404,#000202)"></div><div style="top:124px;height:2px;background:linear-gradient(90deg,#000404,#000a0a,#001111,#001f1f,#003e3e,#006363,#008080,#009999,#00b2b2,#00b2b2,#00b2b2,#00b2b2,#00b2b2,#00b2b2,#00b2b2,#00b2b2,#00b3b3,#00b6b6,#00baba,#00bdbd,#00c1c1,#00c4c4,#00c8c8,#00cbcb,#00cfcf,#00d7d7,#00dede,#00e9e9,#00f8f8,#00fcff,#00f1ff,#00e5ff,#00dcff,#00dcff,#00dcff,#00ddff,#00deff,#00dfff,#00deff,#00ddff,#00dbff,#00daff,#00d9ff,#00d9ff,#00d9ff,#00d9ff,#00ddff,#00e0ff,#00e6ff,#00f0ff,#00faff,#00f7f7,#00e0e0,#00caca,#00b2b2,#009b9b,#008585,#007171,#005d5d,#004c4c,#003b3b,#002b2b,#001919,#000b0b,#000505,#000404,#000202)"></div><div style="top:126px;height:2px;background:linear-gradient(90deg,#000303,#000808,#001010,#001e1e,#003c3c,#006363,#008080,#009999,#00b2b2,#00b2b2,#00b2b2,#00b2b2,#00b2b2,#00b2b2,#00b2b2,#00b2b2,#00b3b3,#00b5b5,#00b7b7,#00baba,#00bfbf,#00c4c4,#00c6c6,#00c8c8,#00cccc,#00d3d3,#00dada,#00e5e5,#00f4f4,#00feff,#00f3ff,#00e8ff,#00e0ff,#00e2ff,#00e4ff,#00e7ff,#00e9ff,#00ecff,#00ebff,#00ebff,#00eaff,#00e9ff,#00e8ff,#00e8ff,#00e8ff,#00e8ff,#00ecff,#00efff,#00f4ff,#00fbff,#00f2f2,#00dddd,#00cbcb,#00b8b8,#00a2a2,#008d8d,#007979,#006666,#005555,#004545,#003636,#002727,#001717,#000a0a,#000505,#000404,#000202)"></div><div style="top:128px;height:2px;background:linear-gradient(90deg,#000202,#000707,#000e0e,#001c1c,#003b3b,#006262,#008080,#009999,#00b2b2,#00b2b2,#00b2b2,#00b2b2,#00b2b2,#00b2b2,#00b2b2,#00b2b2,#00b3b3,#00b3b3,#00b4b4,#00b7b7,#00bdbd,#00c4c4,#00c5c5,#00c6c6,#00c8c8,#00cfcf,#00d6d6,#00e1e1,#00f0f0,#00ffff,#00f5ff,#00ebff,#00e5ff,#00e9ff,#00edff,#00f1ff,#00f5ff,#00f9ff,#00f9ff,#00f8ff,#00f8ff,#00f8ff,#00f8ff,#00f8ff,#00f8ff,#00f8ff,#00faff,#00fdff,#00f8f8,#00e6e6,#00d5d5,#00c5c5,#00b6b6,#00a6a6,#009292,#007f7f,#006d6d,#005d5d,#004d4d,#003e3e,#003131,#002323,#001515,#000a0a,#000505,#000404,#000202)"></div><div style="top:130px;height:2px;background:linear-gradient(90deg,#000303,#000909,#001111,#001f1f,#003e3e,#006464,#008181,#009898,#00b1b1,#00b1b1,#00b2b2,#00b2b2,#00b2b2,#00b2b2,#00b2b2,#00b2b2,#00b2b2,#00b2b2,#00b2b2,#00b5b5,#00bbbb,#00c2c2,#00c3c3,#00c4c4,#00c6c6,#00cdcd,#00d4d4,#00dfdf,#00eded,#00fcfc,#00f8ff,#00efff,#00eaff,#00efff,#00f4ff,#00f9ff,#00feff,#00f4f4,#00f5f5,#00f6f6,#00f6f6,#00f6f6,#00f6f6,#00f6f6,#00f6f6,#00f6f6,#00eeee,#00e7e7,#00dddd,#00cfcf,#00c2c2,#00b4b4,#00a7a7,#009999,#008787,#007676,#006565,#005555,#004646,#003939,#002c2c,#002020,#001414,#000a0a,#000505,#000404,#000202)"></div><div style="top:132px;height:2px;background:linear-gradient(90deg,#000606,#000d0d,#001616,#002626,#004444,#006868,#008383,#009898,#00adad,#00afaf,#00b1b1,#00b2b2,#00b2b2,#00b2b2,#00b2b2,#00b2b2,#00b2b2,#00b2b2,#00b2b2,#00b5b5,#00b9b9,#00bebe,#00c1c1,#00c3c3,#00c6c6,#00cdcd,#00d4d4,#00dede,#00ebeb,#00f8f8,#00faff,#00f3ff,#00efff,#00f4ff,#00faff,#00ffff,#00efef,#00e0e0,#00e3e3,#00e5e5,#00e6e6,#00e6e6,#00e6e6,#00e6e6,#00e6e6,#00e6e6,#00dede,#00d7d7,#00cece,#00c2c2,#00b6b6,#00a9a9,#009c9c,#008f8f,#007e7e,#006f6f,#005f5f,#005050,#004141,#003434,#002828,#001d1d,#001212,#000909,#000505,#000404,#000202)"></div><div style="top:134px;height:2px;background:linear-gradient(90deg,#000909,#001212,#001d1d,#002d2d,#004a4a,#006c6c,#008484,#009797,#00aaaa,#00adad,#00b0b0,#00b2b2,#00b2b2,#00b2b2,#00b2b2,#00b2b2,#00b2b2,#00b2b2,#00b2b2,#00b4b4,#00b7b7,#00bbbb,#00bebe,#00c2c2,#00c6c6,#00cdcd,#00d4d4,#00dddd,#00e8e8,#00f4f4,#00fdff,#00f7ff,#00f4ff,#00faff,#00fbfb,#00eaea,#00dcdc,#00cdcd,#00d1d1,#00d4d4,#00d7d7,#00d7d7,#00d7d7,#00d7d7,#00d7d7,#00d6d6,#00cfcf,#00c8c8,#00bfbf,#00b5b5,#00abab,#009f9f,#009292,#008585,#007676,#006868,#005a5a,#004a4a,#003c3c,#002f2f,#002424,#001919,#001010,#000909,#000505,#000404,#000202)"></div><div style="top:136px;height:2px;background:linear-gradient(90deg,#000d0d,#001717,#002424,#003636,#005151,#007070,#008686,#009696,#00a6a6,#00abab,#00b0b0,#00b2b2,#00b2b2,#00b2b2,#00b2b2,#00b2b2,#00b2b2,#00b2b2,#00b2b2,#00b3b3,#00b5b5,#00b7b7,#00bcbc,#00c1c1,#00c6c6,#00cdcd,#00d4d4,#00dddd,#00e6e6,#00f0f0,#00fefe,#00fbff,#00f9ff,#00fcfc,#00e7e7,#00d7d7,#00c8c8,#00baba,#00bfbf,#00c4c4,#00c7c7,#00c7c7,#00c7c7,#00c7c7,#00c7c7,#00c7c7,#00c0c0,#00b9b9,#00b1b1,#00a9a9,#00a0a0,#009494,#008888,#007c7c,#006f6f,#006262,#005454,#004545,#003838,#002b2b,#002020,#001616,#000f0f,#000909,#000505,#000404,#000202)"></div><div style="top:138px;height:2px;background:linear-gradient(90deg,#001111,#001d1d,#002c2c,#003e3e,#005858,#007575,#008787,#009595,#00a3a3,#00a9a9,#00afaf,#00b2b2,#00b2b2,#00b2b2,#00b2b2,#00b2b2,#00b2b2,#00b2b2,#00b2b2,#00b3b3,#00b3b3,#00b4b4,#00b9b9,#00bfbf,#00c6c6,#00cdcd,#00d4d4,#00dcdc,#00e4e4,#00ecec,#00f5f5,#00ffff,#00ffff,#00eaea,#00d4d4,#00c4c4,#00b6b6,#00a8a8,#00aeae,#00b4b4,#00b9b9,#00b9b9,#00b9b9,#00b9b9,#00b9b9,#00b8b8,#00b1b1,#00abab,#00a4a4,#009d9d,#009696,#008a8a,#007e7e,#007373,#006767,#005c5c,#004f4f,#004040,#003333,#002727,#001c1c,#001313,#000d0d,#000808,#000505,#000404,#000202)"></div><div style="top:140px;height:2px;background:linear-gradient(90deg,#001919,#002626,#003535,#004747,#005f5f,#007979,#008a8a,#009595,#00a1a1,#00a8a8,#00aeae,#00b2b2,#00b2b2,#00b2b2,#00b2b2,#00b2b2,#00b2b2,#00b2b2,#00b2b2,#00b2b2,#00b2b2,#00b2b2,#00b7b7,#00bdbd,#00c4c4,#00cbcb,#00d2d2,#00d8d8,#00dede,#00e3e3,#00e8e8,#00eded,#00eaea,#00d2d2,#00bcbc,#00acac,#009f9f,#009393,#009c9c,#00a4a4,#00abab,#00adad,#00b0b0,#00b0b0,#00b0b0,#00b0b0,#00a9a9,#00a3a3,#009c9c,#009595,#008e8e,#008383,#007777,#006b6b,#006060,#005656,#004a4a,#003c3c,#003030,#002424,#001a1a,#001111,#000c0c,#000707,#000505,#000303,#000202)"></div><div style="top:142px;height:2px;background:linear-gradient(90deg,#002424,#003131,#004040,#005151,#006666,#007d7d,#008c8c,#009696,#00a1a1,#00a8a8,#00aeae,#00b2b2,#00b2b2,#00b2b2,#00b2b2,#00b2b2,#00b2b2,#00b2b2,#00b2b2,#00b2b2,#00b2b2,#00b2b2,#00b6b6,#00bbbb,#00c0c0,#00c7c7,#00cece,#00d3d3,#00d5d5,#00d8d8,#00d9d9,#00d9d9,#00d2d2,#00b8b8,#00a0a0,#009191,#008686,#007c7c,#008888,#009494,#009e9e,#00a5a5,#00abab,#00adad,#00adad,#00acac,#00a6a6,#009f9f,#009898,#009090,#008787,#007c7c,#007171,#006666,#005b5b,#005151,#004545,#003939,#002e2e,#002222,#001818,#001010,#000b0b,#000606,#000404,#000303,#000202)"></div><div style="top:144px;height:2px;background:linear-gradient(90deg,#003131,#003d3d,#004b4b,#005b5b,#006d6d,#008181,#008e8e,#009898,#00a1a1,#00a8a8,#00aeae,#00b2b2,#00b2b2,#00b2b2,#00b2b2,#00b2b2,#00b2b2,#00b2b2,#00b2b2,#00b2b2,#00b2b2,#00b2b2,#00b5b5,#00b8b8,#00bcbc,#00c3c3,#00caca,#00cdcd,#00cdcd,#00cdcd,#00c9c9,#00c5c5,#00bbbb,#00a0a0,#008686,#007878,#006f6f,#006767,#007575,#008484,#009292,#009c9c,#00a6a6,#00a9a9,#00a9a9,#00a9a9,#00a2a2,#009c9c,#009494,#008a8a,#008181,#007676,#006b6b,#006060,#005555,#004b4b,#004141,#003636,#002b2b,#002020,#001616,#000e0e,#000909,#000505,#000404,#000303,#000202)"></div><div style="top:146px;height:2px;background:linear-gradient(90deg,#003f3f,#004a4a,#005757,#006565,#007575,#008686,#009191,#009999,#00a1a1,#00a8a8,#00aeae,#00b2b2,#00b2b2,#00b2b2,#00b2b2,#00b2b2,#00b2b2,#00b2b2,#00b2b2,#00b2b2,#00b2b2,#00b2b2,#00b4b4,#00b6b6,#00b9b9,#00c0c0,#00c7c7,#00c8c8,#00c5c5,#00c2c2,#00baba,#00b2b2,#00a4a4,#008888,#006e6e,#006161,#005a5a,#005353,#006464,#007676,#008686,#009494,#00a2a2,#00a6a6,#00a6a6,#00a5a5,#009f9f,#009898,#009090,#008585,#007b7b,#007070,#006565,#005a5a,#005050,#004646,#003c3c,#003232,#002929,#001e1e,#001515,#000d0d,#000808,#000404,#000303,#000202,#000202)"></div><div style="top:148px;height:2px;background:linear-gradient(90deg,#004e4e,#005959,#006464,#007070,#007d7d,#008a8a,#009393,#009a9a,#00a1a1,#00a8a8,#00aeae,#00b2b2,#00b2b2,#00b2b2,#00b2b2,#00b2b2,#00b2b2,#00b2b2,#00b2b2,#00b2b2,#00b2b2,#00b2b2,#00b3b3,#00b3b3,#00b5b5,#00bcbc,#00c3c3,#00c3c3,#00bdbd,#00b7b7,#00abab,#00a0a0,#008f8f,#007272,#005858,#004b4b,#004646,#004141,#005353,#006767,#007b7b,#008b8b,#009d9d,#00a2a2,#00a2a2,#00a2a2,#009b9b,#009595,#008c8c,#008080,#007575,#006a6a,#005f5f,#005555,#004b4b,#004141,#003838,#002f2f,#002727,#001d1d,#001313,#000c0c,#000707,#000404,#000202,#000202,#000202)"></div><div style="top:150px;height:2px;background:linear-gradient(90deg,#005858,#006161,#006b6b,#007676,#008181,#008c8c,#009494,#009b9b,#00a1a1,#00a8a8,#00aeae,#00b2b2,#00b2b2,#00b2b2,#00b2b2,#00b2b2,#00b2b2,#00b2b2,#00b2b2,#00b2b2,#00b2b2,#00b2b2,#00b2b2,#00b2b2,#00b3b3,#00b8b8,#00bebe,#00bbbb,#00b1b1,#00a8a8,#009a9a,#008c8c,#007a7a,#005f5f,#004646,#003b3b,#003838,#003535,#004848,#005e5e,#007373,#008585,#009999,#009f9f,#009f9f,#009e9e,#009898,#009292,#008989,#007d7d,#007171,#006666,#005b5b,#005151,#004747,#003e3e,#003535,#002d2d,#002525,#001b1b,#001111,#000a0a,#000606,#000303,#000202,#000202,#000202)"></div><div style="top:152px;height:2px;background:linear-gradient(90deg,#005d5d,#006666,#006f6f,#007979,#008383,#008d8d,#009494,#009b9b,#00a1a1,#00a8a8,#00aeae,#00b2b2,#00b2b2,#00b2b2,#00b2b2,#00b2b2,#00b2b2,#00b2b2,#00b2b2,#00b2b2,#00b2b2,#00b2b2,#00b2b2,#00b2b2,#00b3b3,#00b5b5,#00b7b7,#00b1b1,#00a4a4,#009797,#008787,#007777,#006565,#004d4d,#003737,#002f2f,#002d2d,#002c2c,#004040,#005757,#006d6d,#008181,#009595,#009b9b,#009b9b,#009b9b,#009494,#008e8e,#008585,#007a7a,#006e6e,#006363,#005858,#004e4e,#004545,#003b3b,#003333,#002a2a,#002323,#001919,#001010,#000909,#000606,#000303,#000202,#000202,#000202)"></div><div style="top:154px;height:2px;background:linear-gradient(90deg,#006363,#006b6b,#007373,#007b7b,#008484,#008d8d,#009494,#009b9b,#00a1a1,#00a8a8,#00aeae,#00b2b2,#00b2b2,#00b2b2,#00b2b2,#00b2b2,#00b2b2,#00b2b2,#00b2b2,#00b2b2,#00b2b2,#00b2b2,#00b2b2,#00b2b2,#00b2b2,#00b2b2,#00b1b1,#00a8a8,#009797,#008787,#007575,#006464,#005252,#003c3c,#002929,#002323,#002424,#002424,#003838,#005050,#006868,#007c7c,#009191,#009898,#009898,#009797,#009191,#008b8b,#008282,#007676,#006b6b,#006060,#005656,#004c4c,#004242,#003939,#003030,#002828,#002121,#001717,#000f0f,#000808,#000505,#000303,#000202,#000202,#000202)"></div><div style="top:156px;height:2px;background:linear-gradient(90deg,#006969,#006f6f,#007777,#007e7e,#008686,#008e8e,#009494,#009b9b,#00a1a1,#00a8a8,#00aeae,#00b2b2,#00b2b2,#00b2b2,#00b2b2,#00b2b2,#00b2b2,#00b2b2,#00b2b2,#00b2b2,#00b2b2,#00b2b2,#00b2b2,#00b2b2,#00b2b2,#00afaf,#00acac,#009f9f,#008a8a,#007777,#006464,#005252,#004040,#002d2d,#001d1d,#001919,#001b1b,#001c1c,#003131,#004949,#006262,#007777,#008e8e,#009494,#009494,#009494,#008e8e,#008888,#007f7f,#007373,#006868,#005d5d,#005353,#004949,#004040,#003737,#002e2e,#002626,#001f1f,#001616,#000d0d,#000707,#000505,#000303,#000202,#000202,#000202)"></div><div style="top:158px;height:2px;background:linear-gradient(90deg,#006f6f,#007474,#007b7b,#008181,#008787,#008e8e,#009494,#009b9b,#00a1a1,#00a8a8,#00aeae,#00b2b2,#00b2b2,#00b2b2,#00b2b2,#00b2b2,#00b2b2,#00b2b2,#00b2b2,#00b2b2,#00b2b2,#00b2b2,#00b2b2,#00b2b2,#00b1b1,#00abab,#00a6a6,#009696,#007e7e,#006868,#005454,#004141,#003030,#002020,#001313,#001010,#001313,#001515,#002a2a,#004343,#005d5d,#007373,#008a8a,#009191,#009191,#009191,#008b8b,#008484,#007c7c,#007070,#006565,#005a5a,#005050,#004646,#003d3d,#003434,#002c2c,#002424,#001d1d,#001414,#000c0c,#000606,#000404,#000303,#000202,#000202,#000202)"></div></div><div class="hm" style="left:378px;top:260px;width:259px;height:151px"><div style="top:0px;height:2px;background:linear-gradient(90deg,#ff1600,#ff1800,#ff1b00,#ff1e00,#ff2200,#ff2600,#ff2800,#ff2b00,#ff2d00,#ff3000,#ff3200,#ff3500,#ff3700,#ff3900,#ff3c00,#ff3e00,#ff4000,#ff4000,#ff4000,#ff3e00,#ff3d00,#ff3900,#ff2e00,#ff2300,#ff1500,#ff0600,#f70000,#ff0700,#ff1600,#ff3700,#ff6e00,#ffa400,#ffbc00,#ffcf00,#ffdf00,#ffe500,#ffeb00,#ffee00,#ffef00,#fff000,#ffec00,#ffe700,#ffe400,#ffe100,#ffdf00,#ffe200,#ffe600,#ffea00,#ffed00,#fff000,#fff300,#fff600,#fff900,#fff900,#fff900,#fff900,#fff900,#fffb00,#efef00,#d4d400,#c3c300,#b6b600,#a9a900,#a0a000,#979700,#909000)"></div><div style="top:2px;height:2px;background:linear-gradient(90deg,#ff1400,#ff1700,#ff1900,#ff1d00,#ff2100,#ff2600,#ff2800,#ff2b00,#ff2d00,#ff3000,#ff3200,#ff3500,#ff3700,#ff3900,#ff3c00,#ff3e00,#ff4000,#ff4000,#ff4000,#ff3e00,#ff3c00,#ff3800,#ff2f00,#ff2600,#ff1800,#ff0800,#f80000,#ff0000,#ff0700,#ff2400,#ff5900,#ff8d00,#ffaa00,#ffc200,#ffd600,#ffde00,#ffe600,#ffea00,#ffec00,#ffee00,#ffe800,#ffe200,#ffdd00,#ffdb00,#ffd800,#ffdc00,#ffe100,#ffe500,#ffe900,#ffed00,#fff100,#fff500,#fff900,#fff900,#fff900,#fff900,#fff900,#fffb00,#eeee00,#d3d300,#c1c100,#b4b400,#a7a700,#9d9d00,#949400,#8c8c00)"></div><div style="top:4px;height:2px;background:linear-gradient(90deg,#ff1300,#ff1600,#ff1800,#ff1b00,#ff2000,#ff2500,#ff2800,#ff2b00,#ff2d00,#ff3000,#ff3200,#ff3500,#ff3700,#ff3a00,#ff3c00,#ff3e00,#ff4000,#ff4000,#ff4000,#ff3e00,#ff3b00,#ff3700,#ff3000,#ff2900,#ff1b00,#ff0a00,#f90000,#f90000,#f80000,#ff1100,#ff4400,#ff7700,#ff9700,#ffb500,#ffcd00,#ffd700,#ffe100,#ffe600,#ffe800,#ffea00,#ffe300,#ffdc00,#ffd700,#ffd500,#ffd200,#ffd600,#ffdb00,#ffe000,#ffe500,#ffea00,#ffef00,#fff400,#fff800,#fff800,#fff800,#fff900,#fff900,#fffb00,#eeee00,#d2d200,#c0c000,#b2b200,#a4a400,#9a9a00,#919100,#898900)"></div><div style="top:6px;height:2px;background:linear-gradient(90deg,#ff1200,#ff1400,#ff1700,#ff1a00,#ff1f00,#ff2400,#ff2800,#ff2b00,#ff2f00,#ff3100,#ff3300,#ff3600,#ff3800,#ff3b00,#ff3d00,#ff3f00,#ff4000,#ff3f00,#ff3e00,#ff3c00,#ff3a00,#ff3600,#ff2f00,#ff2900,#ff1c00,#ff0d00,#fe0000,#fa0000,#f60000,#ff0a00,#ff3600,#ff6200,#ff8200,#ffa000,#ffb900,#ffc500,#ffd100,#ffd800,#ffdc00,#ffdf00,#ffd900,#ffd300,#ffd000,#ffce00,#ffcc00,#ffcf00,#ffd400,#ffd800,#ffde00,#ffe300,#ffe900,#ffee00,#fff300,#fff500,#fff600,#fff700,#fff800,#fffb00,#eeee00,#d1d100,#bebe00,#b0b000,#a2a200,#979700,#8e8e00,#868600)"></div><div style="top:8px;height:2px;background:linear-gradient(90deg,#ff1100,#ff1300,#ff1500,#ff1900,#ff1e00,#ff2300,#ff2700,#ff2c00,#ff3000,#ff3200,#ff3500,#ff3700,#ff3a00,#ff3c00,#ff3e00,#ff3f00,#ff3f00,#ff3e00,#ff3d00,#ff3b00,#ff3900,#ff3500,#ff2f00,#ff2800,#ff1e00,#ff1100,#ff0400,#fc0000,#f40000,#ff0300,#ff2800,#ff4d00,#ff6d00,#ff8b00,#ffa500,#ffb300,#ffc100,#ffc900,#ffcf00,#ffd400,#ffcf00,#ffcb00,#ffc800,#ffc700,#ffc500,#ffc900,#ffcc00,#ffd100,#ffd700,#ffdd00,#ffe300,#ffe900,#ffee00,#fff100,#fff400,#fff600,#fff700,#fffa00,#eeee00,#d0d000,#bdbd00,#aeae00,#a0a000,#959500,#8c8c00,#838300)"></div><div style="top:10px;height:2px;background:linear-gradient(90deg,#ff0f00,#ff1200,#ff1400,#ff1800,#ff1d00,#ff2100,#ff2700,#ff2c00,#ff3100,#ff3400,#ff3600,#ff3900,#ff3b00,#ff3d00,#ff3e00,#ff3f00,#ff3f00,#ff3e00,#ff3c00,#ff3a00,#ff3700,#ff3400,#ff2e00,#ff2800,#ff1f00,#ff1400,#ff0900,#fd0000,#f30000,#fb0000,#ff1a00,#ff3900,#ff5800,#ff7700,#ff9100,#ffa100,#ffb100,#ffbb00,#ffc200,#ffc800,#ffc500,#ffc300,#ffc100,#ffc000,#ffbf00,#ffc200,#ffc500,#ffc900,#ffd000,#ffd600,#ffdd00,#ffe300,#ffe900,#ffed00,#fff100,#fff500,#fff600,#fff900,#eded00,#d0d000,#bbbb00,#acac00,#9d9d00,#929200,#898900,#808000)"></div><div style="top:12px;height:2px;background:linear-gradient(90deg,#ff0e00,#ff1000,#ff1300,#ff1600,#ff1b00,#ff2000,#ff2600,#ff2d00,#ff3200,#ff3500,#ff3700,#ff3a00,#ff3c00,#ff3f00,#ff3f00,#ff4000,#ff3f00,#ff3d00,#ff3b00,#ff3800,#ff3600,#ff3300,#ff2d00,#ff2800,#ff2000,#ff1700,#ff0e00,#ff0000,#f10000,#f40000,#ff0c00,#ff2400,#ff4200,#ff6200,#ff7e00,#ff8f00,#ffa100,#ffad00,#ffb500,#ffbd00,#ffbc00,#ffba00,#ffb900,#ffb900,#ffb800,#ffbb00,#ffbe00,#ffc200,#ffc900,#ffd000,#ffd700,#ffde00,#ffe400,#ffea00,#ffef00,#fff400,#fff500,#fff900,#eded00,#cfcf00,#baba00,#aaaa00,#9b9b00,#8f8f00,#868600,#7d7d00)"></div><div style="top:14px;height:2px;background:linear-gradient(90deg,#ff0d00,#ff0f00,#ff1200,#ff1500,#ff1a00,#ff1f00,#ff2600,#ff2d00,#ff3400,#ff3600,#ff3900,#ff3b00,#ff3e00,#ff4000,#ff4000,#ff4000,#ff3f00,#ff3c00,#ff3a00,#ff3700,#ff3500,#ff3200,#ff2d00,#ff2800,#ff2200,#ff1a00,#ff1200,#ff0100,#ef0000,#ed0000,#fe0000,#ff1000,#ff2e00,#ff4e00,#ff6a00,#ff7e00,#ff9100,#ff9e00,#ffa800,#ffb100,#ffb200,#ffb200,#ffb200,#ffb200,#ffb200,#ffb400,#ffb700,#ffba00,#ffc200,#ffc900,#ffd100,#ffd800,#ffdf00,#ffe600,#ffed00,#fff200,#fff400,#fff800,#eded00,#cece00,#b8b800,#a8a800,#989800,#8d8d00,#838300,#7a7a00)"></div><div style="top:16px;height:2px;background:linear-gradient(90deg,#ff0a00,#ff0d00,#ff0f00,#ff1300,#ff1800,#ff1e00,#ff2500,#ff2d00,#ff3400,#ff3700,#ff3a00,#ff3c00,#ff3f00,#ff4100,#ff4100,#ff4000,#ff3f00,#ff3c00,#ff3a00,#ff3700,#ff3500,#ff3200,#ff2e00,#ff2900,#ff2300,#ff1b00,#ff1300,#ff0200,#f00000,#ed0000,#fb0000,#ff0900,#ff2400,#ff4100,#ff5b00,#ff6e00,#ff8200,#ff9000,#ff9b00,#ffa500,#ffa600,#ffa800,#ffa900,#ffaa00,#ffaa00,#ffac00,#ffaf00,#ffb300,#ffba00,#ffc100,#ffc900,#ffd100,#ffd900,#ffe000,#ffe800,#ffee00,#fff000,#fff600,#eded00,#cdcd00,#b7b700,#a6a600,#969600,#8a8a00,#808000,#777700)"></div><div style="top:18px;height:2px;background:linear-gradient(90deg,#ff0800,#ff0a00,#ff0c00,#ff1000,#ff1600,#ff1c00,#ff2400,#ff2d00,#ff3400,#ff3700,#ff3b00,#ff3e00,#ff4000,#ff4200,#ff4100,#ff4000,#ff3f00,#ff3c00,#ff3a00,#ff3700,#ff3500,#ff3200,#ff2e00,#ff2a00,#ff2400,#ff1d00,#ff1500,#ff0400,#f10000,#ed0000,#f70000,#ff0200,#ff1a00,#ff3300,#ff4c00,#ff5f00,#ff7300,#ff8100,#ff8d00,#ff9800,#ff9b00,#ff9e00,#ffa000,#ffa100,#ffa200,#ffa500,#ffa700,#ffab00,#ffb200,#ffba00,#ffc200,#ffca00,#ffd300,#ffdb00,#ffe300,#ffeb00,#ffed00,#fff400,#ecec00,#cccc00,#b5b500,#a4a400,#939300,#878700,#7d7d00,#747400)"></div><div style="top:20px;height:2px;background:linear-gradient(90deg,#ff0500,#ff0700,#ff0a00,#ff0e00,#ff1400,#ff1b00,#ff2300,#ff2c00,#ff3400,#ff3800,#ff3c00,#ff3f00,#ff4100,#ff4400,#ff4200,#ff4100,#ff3f00,#ff3c00,#ff3a00,#ff3700,#ff3500,#ff3200,#ff2f00,#ff2b00,#ff2500,#ff1e00,#ff1600,#ff0500,#f30000,#ec0000,#f30000,#fa0000,#ff0f00,#ff2600,#ff3c00,#ff5000,#ff6400,#ff7300,#ff7f00,#ff8c00,#ff9000,#ff9500,#ff9800,#ff9900,#ff9b00,#ff9d00,#ffa000,#ffa300,#ffab00,#ffb200,#ffbb00,#ffc300,#ffcc00,#ffd600,#ffdf00,#ffe700,#ffea00,#fff100,#ecec00,#cbcb00,#b4b400,#a2a200,#919100,#858500,#7a7a00,#717100)"></div><div style="top:22px;height:2px;background:linear-gradient(90deg,#ff0200,#ff0500,#ff0700,#ff0c00,#ff1300,#ff1a00,#ff2200,#ff2c00,#ff3400,#ff3900,#ff3d00,#ff4000,#ff4300,#ff4500,#ff4300,#ff4100,#ff3f00,#ff3c00,#ff3a00,#ff3700,#ff3500,#ff3200,#ff2f00,#ff2c00,#ff2700,#ff1f00,#ff1700,#ff0600,#f40000,#ec0000,#ef0000,#f30000,#ff0500,#ff1900,#ff2d00,#ff4100,#ff5400,#ff6400,#ff7200,#ff7f00,#ff8500,#ff8b00,#ff8f00,#ff9100,#ff9300,#ff9500,#ff9800,#ff9c00,#ffa300,#ffab00,#ffb300,#ffbd00,#ffc600,#ffd000,#ffda00,#ffe300,#ffe600,#ffef00,#ecec00,#caca00,#b2b200,#a0a000,#8f8f00,#828200,#777700,#6e6e00)"></div><div style="top:24px;height:2px;background:linear-gradient(90deg,#ff0000,#ff0200,#ff0500,#ff0900,#ff1100,#ff1800,#ff2200,#ff2b00,#ff3400,#ff3900,#ff3e00,#ff4100,#ff4400,#ff4600,#ff4400,#ff4100,#ff3f00,#ff3c00,#ff3a00,#ff3700,#ff3500,#ff3200,#ff3000,#ff2e00,#ff2800,#ff2100,#ff1900,#ff0800,#f50000,#ec0000,#ec0000,#ec0000,#fa0000,#ff0c00,#ff1e00,#ff3100,#ff4500,#ff5500,#ff6400,#ff7200,#ff7a00,#ff8100,#ff8600,#ff8800,#ff8b00,#ff8d00,#ff9000,#ff9400,#ff9b00,#ffa300,#ffac00,#ffb600,#ffc000,#ffca00,#ffd500,#ffdf00,#ffe200,#ffed00,#ecec00,#c9c900,#b1b100,#9e9e00,#8c8c00,#7f7f00,#747400,#6b6b00)"></div><div style="top:26px;height:2px;background:linear-gradient(90deg,#fe0000,#ff0100,#ff0400,#ff0800,#ff1000,#ff1700,#ff2000,#ff2a00,#ff3300,#ff3800,#ff3e00,#ff4200,#ff4500,#ff4700,#ff4500,#ff4200,#ff4000,#ff3e00,#ff3b00,#ff3900,#ff3600,#ff3400,#ff3100,#ff2f00,#ff2900,#ff2200,#ff1a00,#ff0b00,#fb0000,#f10000,#ee0000,#eb0000,#f50000,#ff0300,#ff1100,#ff2300,#ff3600,#ff4600,#ff5500,#ff6300,#ff6a00,#ff7200,#ff7700,#ff7900,#ff7c00,#ff7f00,#ff8300,#ff8900,#ff9000,#ff9800,#ffa200,#ffad00,#ffb800,#ffc000,#ffc900,#ffd100,#ffd600,#ffe500,#ebeb00,#c8c800,#afaf00,#9c9c00,#8a8a00,#7d7d00,#727200,#686800)"></div><div style="top:28px;height:2px;background:linear-gradient(90deg,#fc0000,#ff0000,#ff0200,#ff0700,#ff0e00,#ff1600,#ff1f00,#ff2900,#ff3200,#ff3800,#ff3e00,#ff4200,#ff4500,#ff4900,#ff4600,#ff4400,#ff4100,#ff3f00,#ff3c00,#ff3a00,#ff3700,#ff3500,#ff3300,#ff3000,#ff2a00,#ff2300,#ff1b00,#ff0e00,#ff0100,#f60000,#f00000,#ea0000,#f00000,#f80000,#ff0400,#ff1500,#ff2700,#ff3700,#ff4500,#ff5400,#ff5b00,#ff6200,#ff6700,#ff6a00,#ff6c00,#ff7100,#ff7700,#ff7d00,#ff8600,#ff8e00,#ff9900,#ffa500,#ffb000,#ffb600,#ffbd00,#ffc300,#ffca00,#ffdd00,#ebeb00,#c8c800,#aeae00,#9a9a00,#878700,#7a7a00,#6f6f00,#656500)"></div><div style="top:30px;height:2px;background:linear-gradient(90deg,#fb0000,#fe0000,#ff0100,#ff0600,#ff0d00,#ff1400,#ff1e00,#ff2800,#ff3100,#ff3700,#ff3d00,#ff4200,#ff4600,#ff4a00,#ff4700,#ff4500,#ff4300,#ff4000,#ff3e00,#ff3b00,#ff3900,#ff3600,#ff3400,#ff3100,#ff2c00,#ff2400,#ff1d00,#ff1200,#ff0600,#fb0000,#f20000,#e90000,#eb0000,#ef0000,#f60000,#ff0700,#ff1800,#ff2700,#ff3600,#ff4400,#ff4c00,#ff5300,#ff5800,#ff5a00,#ff5d00,#ff6300,#ff6a00,#ff7200,#ff7b00,#ff8400,#ff8f00,#ff9c00,#ffa800,#ffac00,#ffb100,#ffb500,#ffbd00,#ffd600,#ebeb00,#c7c700,#acac00,#989800,#858500,#777700,#6c6c00,#626200)"></div><div style="top:32px;height:2px;background:linear-gradient(90deg,#fa0000,#fc0000,#ff0000,#ff0400,#ff0c00,#ff1300,#ff1c00,#ff2600,#ff2f00,#ff3600,#ff3d00,#ff4300,#ff4700,#ff4b00,#ff4900,#ff4600,#ff4400,#ff4100,#ff3f00,#ff3c00,#ff3a00,#ff3800,#ff3500,#ff3300,#ff2d00,#ff2600,#ff1e00,#ff1500,#ff0c00,#ff0100,#f40000,#e80000,#e60000,#e50000,#e90000,#f80000,#ff0900,#ff1800,#ff2700,#ff3500,#ff3c00,#ff4400,#ff4900,#ff4b00,#ff4e00,#ff5500,#ff5e00,#ff6700,#ff7000,#ff7900,#ff8600,#ff9400,#ffa000,#ffa200,#ffa400,#ffa800,#ffb100,#ffce00,#ebeb00,#c6c600,#abab00,#969600,#838300,#757500,#696900,#5f5f00)"></div><div style="top:34px;height:2px;background:linear-gradient(90deg,#f90000,#fb0000,#fe0000,#ff0300,#ff0a00,#ff1200,#ff1b00,#ff2500,#ff2e00,#ff3600,#ff3d00,#ff4300,#ff4800,#ff4c00,#ff4a00,#ff4800,#ff4500,#ff4300,#ff4000,#ff3e00,#ff3b00,#ff3900,#ff3600,#ff3400,#ff2e00,#ff2700,#ff2000,#ff1800,#ff1100,#ff0600,#f60000,#e80000,#e20000,#dd0000,#dd0000,#eb0000,#fa0000,#ff0900,#ff1800,#ff2600,#ff2d00,#ff3500,#ff3a00,#ff3c00,#ff3f00,#ff4800,#ff5100,#ff5b00,#ff6500,#ff6f00,#ff7c00,#ff8b00,#ff9800,#ff9800,#ff9800,#ff9a00,#ffa500,#ffc600,#eaea00,#c5c500,#a9a900,#949400,#808000,#727200,#666600,#5c5c00)"></div><div style="top:36px;height:2px;background:linear-gradient(90deg,#f70000,#fa0000,#fc0000,#ff0200,#ff0900,#ff1100,#ff1a00,#ff2400,#ff2d00,#ff3500,#ff3d00,#ff4300,#ff4800,#ff4c00,#ff4a00,#ff4900,#ff4600,#ff4400,#ff4100,#ff3f00,#ff3d00,#ff3a00,#ff3800,#ff3500,#ff3000,#ff2900,#ff2200,#ff1a00,#ff1200,#ff0800,#fa0000,#ed0000,#e70000,#e20000,#e10000,#ea0000,#f30000,#fe0000,#ff0b00,#ff1700,#ff2000,#ff2800,#ff2e00,#ff3100,#ff3300,#ff3c00,#ff4500,#ff4f00,#ff5a00,#ff6400,#ff7300,#ff8300,#ff9100,#ff9000,#ff8f00,#ff9000,#ff9c00,#ffc100,#eaea00,#c4c400,#a8a800,#929200,#7e7e00,#6f6f00,#636300,#595900)"></div><div style="top:38px;height:2px;background:linear-gradient(90deg,#f60000,#f90000,#fb0000,#ff0100,#ff0800,#ff0f00,#ff1900,#ff2200,#ff2c00,#ff3400,#ff3d00,#ff4300,#ff4800,#ff4c00,#ff4b00,#ff4a00,#ff4800,#ff4500,#ff4300,#ff4000,#ff3e00,#ff3b00,#ff3900,#ff3600,#ff3100,#ff2b00,#ff2500,#ff1c00,#ff1400,#ff0a00,#fd0000,#f20000,#ec0000,#e70000,#e40000,#e80000,#eb0000,#f30000,#fd0000,#ff0700,#ff1200,#ff1c00,#ff2300,#ff2500,#ff2800,#ff3000,#ff3900,#ff4200,#ff4e00,#ff5a00,#ff6900,#ff7a00,#ff8900,#ff8700,#ff8500,#ff8600,#ff9300,#ffbb00,#eaea00,#c3c300,#a6a600,#919100,#7b7b00,#6c6c00,#606000,#555500)"></div><div style="top:40px;height:2px;background:linear-gradient(90deg,#f50000,#f70000,#fa0000,#fe0000,#ff0700,#ff0e00,#ff1700,#ff2100,#ff2b00,#ff3400,#ff3d00,#ff4300,#ff4800,#ff4c00,#ff4c00,#ff4b00,#ff4900,#ff4600,#ff4400,#ff4200,#ff3f00,#ff3d00,#ff3a00,#ff3800,#ff3300,#ff2d00,#ff2700,#ff1e00,#ff1500,#ff0c00,#ff0200,#f60000,#f10000,#ec0000,#e80000,#e60000,#e40000,#e80000,#f00000,#f70000,#ff0400,#ff1000,#ff1700,#ff1a00,#ff1c00,#ff2400,#ff2c00,#ff3600,#ff4300,#ff5000,#ff6000,#ff7100,#ff8100,#ff7f00,#ff7c00,#ff7c00,#ff8a00,#ffb500,#eaea00,#c2c200,#a4a400,#8f8f00,#797900,#6a6a00,#5d5d00,#525200)"></div><div style="top:42px;height:2px;background:linear-gradient(90deg,#f40000,#f60000,#f80000,#fd0000,#ff0500,#ff0d00,#ff1600,#ff2000,#ff2a00,#ff3300,#ff3c00,#ff4300,#ff4800,#ff4c00,#ff4c00,#ff4c00,#ff4a00,#ff4800,#ff4500,#ff4300,#ff4000,#ff3e00,#ff3b00,#ff3900,#ff3500,#ff2f00,#ff2a00,#ff2000,#ff1700,#ff0e00,#ff0500,#fb0000,#f60000,#f10000,#ec0000,#e40000,#dd0000,#de0000,#e30000,#e80000,#f50000,#ff0400,#ff0c00,#ff0e00,#ff1100,#ff1800,#ff2000,#ff2900,#ff3700,#ff4500,#ff5600,#ff6900,#ff7a00,#ff7600,#ff7200,#ff7200,#ff8100,#ffb000,#e9e900,#c1c100,#a3a300,#8d8d00,#767600,#676700,#5b5b00,#4f4f00)"></div><div style="top:44px;height:2px;background:linear-gradient(90deg,#f20000,#f50000,#f70000,#fc0000,#ff0400,#ff0b00,#ff1500,#ff1f00,#ff2800,#ff3200,#ff3c00,#ff4300,#ff4800,#ff4d00,#ff4d00,#ff4d00,#ff4b00,#ff4900,#ff4700,#ff4400,#ff4200,#ff3f00,#ff3d00,#ff3a00,#ff3600,#ff3100,#ff2c00,#ff2200,#ff1900,#ff1000,#ff0800,#ff0100,#fb0000,#f60000,#ef0000,#e30000,#d70000,#d40000,#d70000,#da0000,#e80000,#f70000,#ff0000,#ff0300,#ff0500,#ff0c00,#ff1400,#ff1d00,#ff2c00,#ff3a00,#ff4c00,#ff6000,#ff7100,#ff6d00,#ff6900,#ff6800,#ff7800,#ffaa00,#e9e900,#c0c000,#a1a100,#8b8b00,#747400,#646400,#585800,#4c4c00)"></div><div style="top:46px;height:2px;background:linear-gradient(90deg,#f20000,#f50000,#f70000,#fc0000,#ff0300,#ff0a00,#ff1300,#ff1c00,#ff2600,#ff3000,#ff3b00,#ff4200,#ff4700,#ff4d00,#ff4d00,#ff4e00,#ff4d00,#ff4a00,#ff4800,#ff4500,#ff4300,#ff4000,#ff3e00,#ff3c00,#ff3800,#ff3300,#ff2f00,#ff2500,#ff1b00,#ff1200,#ff0a00,#ff0200,#fc0000,#f70000,#f10000,#e70000,#dc0000,#da0000,#db0000,#dc0000,#e60000,#ef0000,#f50000,#f50000,#f60000,#fe0000,#ff0800,#ff1300,#ff2000,#ff2e00,#ff3c00,#ff4b00,#ff5800,#ff5900,#ff5a00,#ff5e00,#ff6f00,#ffa500,#e9e900,#bfbf00,#a0a000,#898900,#727200,#626200,#555500,#494900)"></div><div style="top:48px;height:2px;background:linear-gradient(90deg,#f20000,#f50000,#f70000,#fb0000,#ff0300,#ff0900,#ff1100,#ff1a00,#ff2400,#ff2e00,#ff3900,#ff4100,#ff4700,#ff4d00,#ff4e00,#ff4f00,#ff4e00,#ff4c00,#ff4900,#ff4700,#ff4400,#ff4200,#ff3f00,#ff3d00,#ff3900,#ff3600,#ff3100,#ff2700,#ff1e00,#ff1400,#ff0c00,#ff0400,#fd0000,#f80000,#f30000,#ea0000,#e20000,#df0000,#df0000,#de0000,#e30000,#e80000,#ea0000,#e90000,#e80000,#f20000,#fc0000,#ff0800,#ff1500,#ff2200,#ff2c00,#ff3600,#ff3f00,#ff4500,#ff4c00,#ff5400,#ff6700,#ff9f00,#e9e900,#bfbf00,#9e9e00,#878700,#6f6f00,#5f5f00,#525200,#464600)"></div><div style="top:50px;height:2px;background:linear-gradient(90deg,#f20000,#f50000,#f70000,#fb0000,#ff0200,#ff0800,#ff1000,#ff1800,#ff2100,#ff2c00,#ff3800,#ff4000,#ff4600,#ff4d00,#ff4e00,#ff5000,#ff4f00,#ff4d00,#ff4a00,#ff4800,#ff4500,#ff4300,#ff4100,#ff3e00,#ff3b00,#ff3800,#ff3400,#ff2a00,#ff2000,#ff1700,#ff0e00,#ff0500,#ff0000,#fa0000,#f40000,#ee0000,#e80000,#e50000,#e20000,#e10000,#e00000,#e00000,#df0000,#dd0000,#db0000,#e50000,#f10000,#fd0000,#ff0900,#ff1500,#ff1c00,#ff2000,#ff2600,#ff3100,#ff3d00,#ff4a00,#ff5e00,#ff9900,#e8e800,#bebe00,#9d9d00,#858500,#6d6d00,#5c5c00,#4f4f00,#434300)"></div><div style="top:52px;height:2px;background:linear-gradient(90deg,#f20000,#f50000,#f70000,#fb0000,#ff0100,#ff0700,#ff0e00,#ff1600,#ff1f00,#ff2a00,#ff3600,#ff3f00,#ff4600,#ff4d00,#ff4f00,#ff5100,#ff5100,#ff4e00,#ff4c00,#ff4900,#ff4700,#ff4400,#ff4200,#ff3f00,#ff3d00,#ff3a00,#ff3600,#ff2d00,#ff2300,#ff1900,#ff1000,#ff0600,#ff0100,#fb0000,#f60000,#f20000,#ee0000,#ea0000,#e60000,#e30000,#dd0000,#d80000,#d40000,#d00000,#cd0000,#d80000,#e60000,#f20000,#fd0000,#ff0900,#ff0c00,#ff0b00,#ff0d00,#ff1e00,#ff2f00,#ff4000,#ff5500,#ff9400,#e8e800,#bdbd00,#9b9b00,#838300,#6a6a00,#5a5a00,#4c4c00,#404000)"></div><div style="top:54px;height:2px;background:linear-gradient(90deg,#f20000,#f50000,#f70000,#fb0000,#ff0100,#ff0500,#ff0c00,#ff1400,#ff1c00,#ff2900,#ff3500,#ff3e00,#ff4600,#ff4d00,#ff4f00,#ff5200,#ff5200,#ff5000,#ff4d00,#ff4b00,#ff4800,#ff4600,#ff4300,#ff4100,#ff3e00,#ff3c00,#ff3900,#ff2f00,#ff2500,#ff1b00,#ff1200,#ff0800,#ff0200,#fc0000,#f80000,#f60000,#f30000,#ef0000,#ea0000,#e50000,#db0000,#d10000,#ca0000,#c50000,#c00000,#cc0000,#da0000,#e70000,#f10000,#fb0000,#fb0000,#f60000,#f40000,#ff0a00,#ff2000,#ff3600,#ff4c00,#ff8e00,#e8e800,#bcbc00,#9a9a00,#818100,#686800,#575700,#494900,#3d3d00)"></div><div style="top:56px;height:2px;background:linear-gradient(90deg,#f20000,#f50000,#f70000,#fb0000,#ff0000,#ff0400,#ff0b00,#ff1300,#ff1b00,#ff2700,#ff3400,#ff3e00,#ff4700,#ff4f00,#ff5200,#ff5500,#ff5600,#ff5300,#ff5000,#ff4d00,#ff4a00,#ff4700,#ff4400,#ff4200,#ff3f00,#ff3d00,#ff3a00,#ff3100,#ff2800,#ff1e00,#ff1400,#ff0a00,#ff0400,#fe0000,#f90000,#f70000,#f40000,#f10000,#ec0000,#e80000,#df0000,#d60000,#ce0000,#c50000,#bd0000,#c50000,#cf0000,#d90000,#e10000,#ea0000,#ea0000,#e70000,#e70000,#fd0000,#ff1400,#ff2a00,#ff4000,#ff8700,#e8e800,#bbbb00,#989800,#7f7f00,#666600,#545400,#464600,#3a3a00)"></div><div style="top:58px;height:2px;background:linear-gradient(90deg,#f20000,#f50000,#f70000,#fa0000,#fe0000,#ff0300,#ff0a00,#ff1100,#ff1a00,#ff2600,#ff3200,#ff3d00,#ff4800,#ff5200,#ff5500,#ff5900,#ff5900,#ff5600,#ff5200,#ff4f00,#ff4b00,#ff4800,#ff4600,#ff4300,#ff4100,#ff3e00,#ff3b00,#ff3300,#ff2a00,#ff2100,#ff1700,#ff0d00,#ff0600,#ff0100,#fb0000,#f80000,#f60000,#f20000,#ee0000,#ea0000,#e20000,#db0000,#d10000,#c60000,#bb0000,#bf0000,#c50000,#cb0000,#d10000,#d80000,#da0000,#d90000,#da0000,#f00000,#ff0700,#ff1d00,#ff3500,#ff8000,#e7e700,#baba00,#979700,#7d7d00,#636300,#525200,#434300,#373700)"></div><div style="top:60px;height:2px;background:linear-gradient(90deg,#f20000,#f50000,#f70000,#fa0000,#fd0000,#ff0200,#ff0900,#ff1000,#ff1800,#ff2500,#ff3100,#ff3d00,#ff4900,#ff5400,#ff5800,#ff5c00,#ff5d00,#ff5900,#ff5500,#ff5100,#ff4d00,#ff4900,#ff4700,#ff4400,#ff4200,#ff4000,#ff3d00,#ff3400,#ff2c00,#ff2300,#ff1900,#ff0f00,#ff0900,#ff0200,#fc0000,#f90000,#f70000,#f40000,#f00000,#ed0000,#e60000,#df0000,#d50000,#c70000,#b90000,#b90000,#ba0000,#bc0000,#c10000,#c70000,#c90000,#ca0000,#cd0000,#e30000,#f90000,#ff1100,#ff2a00,#ff7900,#e7e700,#b9b900,#959500,#7b7b00,#616100,#4f4f00,#414100,#343400)"></div><div style="top:62px;height:2px;background:linear-gradient(90deg,#f20000,#f50000,#f70000,#fa0000,#fd0000,#ff0100,#ff0700,#ff0f00,#ff1700,#ff2300,#ff3000,#ff3d00,#ff4a00,#ff5700,#ff5b00,#ff6000,#ff6000,#ff5c00,#ff5800,#ff5300,#ff4f00,#ff4b00,#ff4800,#ff4600,#ff4300,#ff4100,#ff3e00,#ff3600,#ff2e00,#ff2600,#ff1c00,#ff1200,#ff0b00,#ff0400,#fd0000,#fb0000,#f80000,#f50000,#f30000,#ef0000,#ea0000,#e40000,#d90000,#c80000,#b70000,#b20000,#af0000,#ae0000,#b20000,#b50000,#b90000,#bc0000,#c10000,#d70000,#ec0000,#ff0400,#ff1f00,#ff7200,#e7e700,#b8b800,#949400,#797900,#5e5e00,#4c4c00,#3e3e00,#313100)"></div><div style="top:64px;height:2px;background:linear-gradient(90deg,#f20000,#f50000,#f70000,#fa0000,#fc0000,#ff0000,#ff0600,#ff0d00,#ff1600,#ff2200,#ff2f00,#ff3c00,#ff4b00,#ff5a00,#ff5f00,#ff6300,#ff6400,#ff5f00,#ff5a00,#ff5500,#ff5000,#ff4c00,#ff4900,#ff4700,#ff4500,#ff4200,#ff3f00,#ff3800,#ff3100,#ff2800,#ff1e00,#ff1400,#ff0d00,#ff0500,#fe0000,#fc0000,#f90000,#f70000,#f50000,#f20000,#ed0000,#e80000,#dc0000,#c90000,#b50000,#ac0000,#a50000,#a00000,#a20000,#a50000,#a90000,#ae0000,#b40000,#ca0000,#e00000,#f70000,#ff1400,#ff6b00,#e6e600,#b7b700,#929200,#777700,#5c5c00,#4a4a00,#3b3b00,#2e2e00)"></div><div style="top:66px;height:2px;background:linear-gradient(90deg,#f20000,#f50000,#f70000,#fa0000,#fc0000,#ff0000,#ff0600,#ff0d00,#ff1500,#ff2200,#ff2e00,#ff3d00,#ff4d00,#ff5c00,#ff6100,#ff6600,#ff6600,#ff6200,#ff5d00,#ff5700,#ff5100,#ff4c00,#ff4a00,#ff4800,#ff4600,#ff4300,#ff4100,#ff3900,#ff3200,#ff2900,#ff2000,#ff1600,#ff0e00,#ff0700,#ff0100,#fd0000,#fb0000,#f80000,#f60000,#f30000,#ef0000,#ea0000,#e00000,#ce0000,#bd0000,#b00000,#a50000,#9d0000,#9f0000,#a00000,#a30000,#a80000,#ae0000,#c30000,#d90000,#ef0000,#ff0d00,#ff6700,#e6e600,#b7b700,#919100,#757500,#595900,#474700,#383800,#2b2b00)"></div><div style="top:68px;height:2px;background:linear-gradient(90deg,#f20000,#f50000,#f70000,#fa0000,#fc0000,#ff0000,#ff0500,#ff0c00,#ff1400,#ff2100,#ff2e00,#ff3e00,#ff4e00,#ff5f00,#ff6400,#ff6900,#ff6900,#ff6400,#ff5f00,#ff5900,#ff5200,#ff4c00,#ff4b00,#ff4900,#ff4700,#ff4500,#ff4200,#ff3b00,#ff3300,#ff2b00,#ff2100,#ff1700,#ff0f00,#ff0800,#ff0200,#fe0000,#fc0000,#fa0000,#f70000,#f50000,#f10000,#ed0000,#e30000,#d40000,#c40000,#b50000,#a50000,#9a0000,#9b0000,#9b0000,#9e0000,#a20000,#a70000,#bc0000,#d10000,#e80000,#ff0700,#ff6200,#e6e600,#b6b600,#8f8f00,#737300,#575700,#444400,#353500,#282800)"></div><div style="top:70px;height:2px;background:linear-gradient(90deg,#f20000,#f50000,#f70000,#fa0000,#fc0000,#ff0000,#ff0500,#ff0b00,#ff1200,#ff2000,#ff2e00,#ff3e00,#ff5000,#ff6100,#ff6600,#ff6b00,#ff6c00,#ff6700,#ff6200,#ff5a00,#ff5200,#ff4c00,#ff4b00,#ff4a00,#ff4800,#ff4600,#ff4300,#ff3c00,#ff3400,#ff2c00,#ff2200,#ff1800,#ff1100,#ff0900,#ff0300,#ff0100,#fd0000,#fb0000,#f80000,#f60000,#f20000,#ef0000,#e70000,#d90000,#cb0000,#b90000,#a50000,#970000,#970000,#960000,#990000,#9c0000,#a10000,#b60000,#ca0000,#e00000,#ff0000,#ff5e00,#e6e600,#b5b500,#8e8e00,#717100,#555500,#414100,#323200,#252500)"></div><div style="top:72px;height:2px;background:linear-gradient(90deg,#f20000,#f50000,#f70000,#fa0000,#fc0000,#ff0000,#ff0400,#ff0a00,#ff1100,#ff2000,#ff2e00,#ff3f00,#ff5200,#ff6400,#ff6900,#ff6e00,#ff6e00,#ff6900,#ff6400,#ff5c00,#ff5300,#ff4c00,#ff4c00,#ff4b00,#ff4a00,#ff4700,#ff4400,#ff3d00,#ff3600,#ff2d00,#ff2300,#ff1a00,#ff1200,#ff0b00,#ff0400,#ff0200,#ff0000,#fc0000,#fa0000,#f70000,#f40000,#f10000,#ea0000,#df0000,#d30000,#bd0000,#a60000,#950000,#930000,#920000,#930000,#960000,#9b0000,#af0000,#c30000,#d90000,#f80000,#ff5a00,#e5e500,#b4b400,#8c8c00,#6f6f00,#525200,#3f3f00,#2f2f00,#222200)"></div><div style="top:74px;height:1px;background:linear-gradient(90deg,#f20000,#f50000,#f70000,#fa0000,#fc0000,#ff0000,#ff0400,#ff0900,#ff1000,#ff1f00,#ff2e00,#ff3f00,#ff5300,#ff6600,#ff6b00,#ff7000,#ff7000,#ff6b00,#ff6600,#ff5d00,#ff5400,#ff4c00,#ff4c00,#ff4c00,#ff4b00,#ff4800,#ff4500,#ff3e00,#ff3700,#ff2e00,#ff2400,#ff1b00,#ff1300,#ff0b00,#ff0500,#ff0300,#ff0100,#fd0000,#fb0000,#f80000,#f60000,#f30000,#ed0000,#e30000,#d80000,#c00000,#a60000,#920000,#900000,#8e0000,#8f0000,#920000,#960000,#aa0000,#bd0000,#d30000,#f30000,#ff5700,#e5e500,#b3b300,#8b8b00,#6e6e00,#505000,#3d3d00,#2d2d00,#1f1f00)"></div><div style="top:75px;height:2px;background:linear-gradient(90deg,#002dff,#002dff,#002dff,#002dff,#002dff,#002dff,#002dff,#002dff,#002dff,#002dff,#002dff,#002dff,#002dff,#002dff,#002dff,#002dff,#002dff,#002dff,#002dff,#002dff,#002dff,#002dff,#002eff,#002fff,#0032ff,#0035ff,#0038ff,#003bff,#003dff,#003eff,#003cff,#003aff,#0037ff,#0033ff,#0030ff,#002eff,#002dff,#002cff,#002bff,#002aff,#0029ff,#0028ff,#0026ff,#0024ff,#0022ff,#001fff,#001cff,#0018ff,#0014ff,#000fff,#000aff,#0005ff,#0000fe,#0000fa,#0000f5,#0000f1,#0008ff,#002cff,#00e3ff,#00cfcf,#00bbbb,#00b1b1,#00aaaa,#00a4a4,#009e9e,#009898)"></div><div style="top:77px;height:2px;background:linear-gradient(90deg,#002dff,#002dff,#002dff,#002dff,#002dff,#002dff,#002dff,#002dff,#002dff,#002dff,#002dff,#002dff,#002dff,#002dff,#002dff,#002dff,#002dff,#002dff,#002dff,#002dff,#002dff,#002eff,#002fff,#0031ff,#0033ff,#0036ff,#0039ff,#003bff,#003dff,#003dff,#003bff,#0038ff,#0035ff,#0032ff,#002fff,#002eff,#002cff,#002bff,#002aff,#002aff,#0028ff,#0027ff,#0025ff,#0023ff,#0021ff,#001dff,#001aff,#0016ff,#0011ff,#000dff,#0007ff,#0001ff,#0000fb,#0000f7,#0000f2,#0000ee,#0006ff,#002aff,#00e3ff,#00cfcf,#00bbbb,#00b1b1,#00aaaa,#00a3a3,#009d9d,#009797)"></div><div style="top:79px;height:2px;background:linear-gradient(90deg,#002dff,#002dff,#002dff,#002dff,#002dff,#002dff,#002dff,#002dff,#002dff,#002dff,#002dff,#002dff,#002dff,#002dff,#002dff,#002dff,#002dff,#002dff,#002dff,#002dff,#002dff,#002eff,#0030ff,#0032ff,#0035ff,#0038ff,#003bff,#003cff,#003dff,#003cff,#0039ff,#0036ff,#0034ff,#0031ff,#002eff,#002dff,#002cff,#002bff,#002aff,#0029ff,#0028ff,#0026ff,#0024ff,#0022ff,#001fff,#001cff,#0018ff,#0014ff,#000fff,#000aff,#0004ff,#0000fd,#0000f8,#0000f3,#0000ef,#0000eb,#0003ff,#0027ff,#00e2ff,#00cfcf,#00bbbb,#00b1b1,#00a9a9,#00a2a2,#009c9c,#009696)"></div><div style="top:81px;height:2px;background:linear-gradient(90deg,#002dff,#002dff,#002dff,#002dff,#002dff,#002dff,#002dff,#002dff,#002dff,#002dff,#002dff,#002dff,#002dff,#002dff,#002dff,#002dff,#002dff,#002dff,#002dff,#002dff,#002eff,#002fff,#0031ff,#0033ff,#0036ff,#003aff,#003dff,#003dff,#003dff,#003bff,#0038ff,#0035ff,#0032ff,#0030ff,#002dff,#002dff,#002cff,#002bff,#002aff,#0029ff,#0027ff,#0026ff,#0024ff,#0021ff,#001eff,#001aff,#0016ff,#0012ff,#000cff,#0007ff,#0001ff,#0000fa,#0000f5,#0000f0,#0000ec,#0000e8,#0001ff,#0025ff,#00e2ff,#00cfcf,#00bbbb,#00b1b1,#00a9a9,#00a2a2,#009b9b,#009595)"></div><div style="top:83px;height:2px;background:linear-gradient(90deg,#002dff,#002dff,#002dff,#002dff,#002dff,#002dff,#002dff,#002dff,#002dff,#002dff,#002dff,#002dff,#002dff,#002dff,#002dff,#002dff,#002dff,#002dff,#002dff,#002dff,#002eff,#002fff,#0032ff,#0034ff,#0038ff,#003bff,#003eff,#003eff,#003dff,#003aff,#0037ff,#0033ff,#0030ff,#002eff,#002dff,#002cff,#002bff,#002aff,#0029ff,#0028ff,#0027ff,#0025ff,#0023ff,#0020ff,#001dff,#0019ff,#0014ff,#000fff,#000aff,#0004ff,#0000fd,#0000f7,#0000f1,#0000ed,#0000e9,#0000e5,#0000fd,#0023ff,#00e2ff,#00cfcf,#00bbbb,#00b1b1,#00a8a8,#00a1a1,#009a9a,#009494)"></div><div style="top:85px;height:2px;background:linear-gradient(90deg,#002dff,#002dff,#002dff,#002dff,#002dff,#002dff,#002dff,#002dff,#002dff,#002dff,#002dff,#002dff,#002dff,#002dff,#002dff,#002dff,#002dff,#002dff,#002dff,#002eff,#002fff,#0030ff,#0033ff,#0036ff,#0039ff,#003cff,#003fff,#003dff,#003bff,#0039ff,#0035ff,#0032ff,#002fff,#002eff,#002cff,#002cff,#002bff,#002aff,#0029ff,#0028ff,#0026ff,#0024ff,#0021ff,#001eff,#001bff,#0016ff,#0012ff,#000dff,#0007ff,#0001ff,#0000fa,#0000f4,#0000ee,#0000eb,#0000e7,#0000e3,#0000fb,#0021ff,#00e2ff,#00cfcf,#00bbbb,#00b0b0,#00a8a8,#00a0a0,#009999,#009393)"></div><div style="top:87px;height:2px;background:linear-gradient(90deg,#002dff,#002dff,#002dff,#002dff,#002dff,#002dff,#002dff,#002dff,#002dff,#002dff,#002dff,#002dff,#002dff,#002dff,#002dff,#002dff,#002dff,#002dff,#002dff,#002eff,#0030ff,#0031ff,#0035ff,#0038ff,#003aff,#003cff,#003eff,#003cff,#003aff,#0037ff,#0034ff,#0030ff,#002fff,#002dff,#002cff,#002bff,#002aff,#0029ff,#0028ff,#0027ff,#0025ff,#0023ff,#0020ff,#001cff,#0019ff,#0014ff,#000fff,#000aff,#0004ff,#0000fd,#0000f7,#0000f1,#0000ec,#0000e8,#0000e5,#0000e2,#0000fa,#0020ff,#00e1ff,#00cfcf,#00bbbb,#00b0b0,#00a7a7,#00a0a0,#009898,#009292)"></div><div style="top:89px;height:2px;background:linear-gradient(90deg,#002dff,#002dff,#002dff,#002dff,#002dff,#002dff,#002dff,#002dff,#002dff,#002dff,#002dff,#002dff,#002dff,#002dff,#002dff,#002dff,#002dff,#002dff,#002dff,#002fff,#0031ff,#0033ff,#0036ff,#0039ff,#003bff,#003dff,#003eff,#003bff,#0038ff,#0035ff,#0032ff,#002fff,#002eff,#002dff,#002cff,#002bff,#002aff,#0029ff,#0028ff,#0026ff,#0024ff,#0021ff,#001eff,#001aff,#0016ff,#0011ff,#000cff,#0006ff,#0000ff,#0000f9,#0000f4,#0000ee,#0000e9,#0000e6,#0000e3,#0000e0,#0000f9,#001fff,#00e1ff,#00cfcf,#00bbbb,#00b0b0,#00a7a7,#009f9f,#009898,#009191)"></div><div style="top:91px;height:2px;background:linear-gradient(90deg,#002dff,#002dff,#002dff,#002dff,#002dff,#002dff,#002dff,#002dff,#002dff,#002dff,#002dff,#002dff,#002dff,#002dff,#002dff,#002dff,#002dff,#002dff,#002eff,#0030ff,#0032ff,#0034ff,#0038ff,#003bff,#003dff,#003dff,#003dff,#003aff,#0037ff,#0034ff,#0031ff,#002eff,#002dff,#002cff,#002bff,#002bff,#002aff,#0028ff,#0027ff,#0025ff,#0023ff,#0020ff,#001dff,#0018ff,#0014ff,#000fff,#0009ff,#0003ff,#0000fc,#0000f6,#0000f0,#0000eb,#0000e6,#0000e3,#0000e1,#0000df,#0000f7,#001eff,#00e1ff,#00cfcf,#00bbbb,#00b0b0,#00a6a6,#009e9e,#009797,#009090)"></div><div style="top:93px;height:2px;background:linear-gradient(90deg,#002dff,#002dff,#002dff,#002dff,#002dff,#002dff,#002dff,#002dff,#002dff,#002dff,#002dff,#002dff,#002dff,#002dff,#002dff,#002dff,#002dff,#002eff,#002eff,#0030ff,#0033ff,#0035ff,#0039ff,#003dff,#003eff,#003dff,#003dff,#0039ff,#0035ff,#0032ff,#0030ff,#002dff,#002dff,#002cff,#002bff,#002aff,#0029ff,#0028ff,#0026ff,#0025ff,#0022ff,#001fff,#001bff,#0016ff,#0012ff,#000cff,#0006ff,#0000ff,#0000f9,#0000f3,#0000ed,#0000e8,#0000e3,#0000e1,#0000df,#0000dd,#0000f6,#001dff,#00e1ff,#00cfcf,#00bbbb,#00b0b0,#00a6a6,#009e9e,#009696,#008f8f)"></div><div style="top:95px;height:2px;background:linear-gradient(90deg,#002dff,#002dff,#002dff,#002dff,#002dff,#002dff,#002dff,#002dff,#002dff,#002dff,#002dff,#002dff,#002dff,#002dff,#002dff,#002dff,#002dff,#002eff,#002fff,#0031ff,#0034ff,#0037ff,#003aff,#003dff,#003eff,#003cff,#003bff,#0037ff,#0034ff,#0031ff,#002fff,#002dff,#002cff,#002bff,#002bff,#002aff,#0029ff,#0027ff,#0025ff,#0023ff,#0020ff,#001cff,#0018ff,#0013ff,#000fff,#0009ff,#0003ff,#0000fc,#0000f6,#0000ef,#0000ec,#0000e9,#0000e7,#0000eb,#0000f0,#0000f5,#000fff,#0031ff,#00e4ff,#00cfcf,#00bbbb,#00afaf,#00a6a6,#009d9d,#009595,#008e8e)"></div><div style="top:97px;height:2px;background:linear-gradient(90deg,#002dff,#002dff,#002dff,#002dff,#002dff,#002dff,#002dff,#002dff,#002dff,#002dff,#002dff,#002dff,#002dff,#002dff,#002dff,#002dff,#002eff,#002fff,#0030ff,#0033ff,#0036ff,#0039ff,#003bff,#003dff,#003dff,#003bff,#0039ff,#0036ff,#0032ff,#0030ff,#002eff,#002dff,#002cff,#002bff,#002aff,#0029ff,#0028ff,#0026ff,#0024ff,#0022ff,#001eff,#001aff,#0016ff,#0010ff,#000bff,#0005ff,#0000fe,#0000f8,#0000f2,#0000ec,#0000ea,#0000ea,#0000eb,#0000f8,#0005ff,#0012ff,#002aff,#0049ff,#00e7ff,#00cfcf,#00bbbb,#00afaf,#00a5a5,#009c9c,#009494,#008d8d)"></div><div style="top:99px;height:2px;background:linear-gradient(90deg,#002dff,#002dff,#002dff,#002dff,#002dff,#002dff,#002dff,#002dff,#002dff,#002dff,#002dff,#002dff,#002dff,#002dff,#002dff,#002dff,#002eff,#0030ff,#0031ff,#0034ff,#0038ff,#003aff,#003cff,#003dff,#003cff,#003aff,#0037ff,#0034ff,#0031ff,#002fff,#002eff,#002cff,#002bff,#002bff,#002aff,#0029ff,#0027ff,#0025ff,#0023ff,#0020ff,#001cff,#0018ff,#0013ff,#000dff,#0008ff,#0002ff,#0000fa,#0000f4,#0000ef,#0000e9,#0000e9,#0000ec,#0000f0,#0005ff,#0019ff,#002dff,#0046ff,#0060ff,#00eaff,#00cfcf,#00bbbb,#00afaf,#00a5a5,#009c9c,#009393,#008c8c)"></div><div style="top:101px;height:2px;background:linear-gradient(90deg,#002dff,#002dff,#002dff,#002dff,#002dff,#002dff,#002dff,#002dff,#002dff,#002dff,#002dff,#002dff,#002dff,#002dff,#002dff,#002dff,#002eff,#0030ff,#0032ff,#0036ff,#0039ff,#003cff,#003dff,#003eff,#003cff,#0038ff,#0035ff,#0033ff,#0030ff,#002eff,#002dff,#002cff,#002bff,#002aff,#0029ff,#0028ff,#0026ff,#0024ff,#0021ff,#001eff,#001aff,#0015ff,#0010ff,#000aff,#0004ff,#0000fd,#0000f7,#0000f1,#0000eb,#0000e6,#0000e8,#0000ed,#0000f4,#0011ff,#002dff,#0049ff,#0061ff,#0078ff,#00edff,#00cfcf,#00bbbb,#00afaf,#00a4a4,#009b9b,#009292,#008b8b)"></div><div style="top:103px;height:2px;background:linear-gradient(90deg,#002dff,#002dff,#002dff,#002dff,#002dff,#002dff,#002dff,#002dff,#002dff,#002dff,#002dff,#002dff,#002dff,#002dff,#002dff,#002eff,#002fff,#0031ff,#0033ff,#0037ff,#003bff,#003eff,#003eff,#003eff,#003bff,#0037ff,#0033ff,#0031ff,#002fff,#002dff,#002cff,#002cff,#002bff,#002aff,#0029ff,#0027ff,#0026ff,#0023ff,#0020ff,#001dff,#0018ff,#0013ff,#000dff,#0007ff,#0001ff,#0000f9,#0000f3,#0000ed,#0000e8,#0000e4,#0000e8,#0000f0,#0000fa,#001eff,#0041ff,#0064ff,#007cff,#008fff,#00f0ff,#00cfcf,#00bbbb,#00afaf,#00a4a4,#009a9a,#009191,#008a8a)"></div><div style="top:105px;height:2px;background:linear-gradient(90deg,#002dff,#002dff,#002dff,#002dff,#002dff,#002dff,#002dff,#002dff,#002dff,#002dff,#002dff,#002dff,#002dff,#002dff,#002eff,#002eff,#0030ff,#0033ff,#0035ff,#0038ff,#003cff,#003eff,#003dff,#003cff,#0039ff,#0036ff,#0032ff,#0030ff,#002eff,#002dff,#002cff,#002bff,#002aff,#0029ff,#0028ff,#0026ff,#0024ff,#0021ff,#001dff,#001aff,#0014ff,#000fff,#0009ff,#0003ff,#0000fc,#0000f6,#0000f0,#0000ec,#0000ef,#0000f1,#0000fc,#000bff,#001aff,#0039ff,#0058ff,#0077ff,#008cff,#009dff,#00f2ff,#00cfcf,#00bbbb,#00aeae,#00a3a3,#009a9a,#009191,#008989)"></div><div style="top:107px;height:2px;background:linear-gradient(90deg,#002dff,#002dff,#002dff,#002dff,#002dff,#002dff,#002dff,#002dff,#002dff,#002dff,#002dff,#002dff,#002dff,#002dff,#002eff,#002fff,#0031ff,#0034ff,#0037ff,#003aff,#003cff,#003eff,#003cff,#003aff,#0038ff,#0034ff,#0031ff,#002fff,#002eff,#002cff,#002cff,#002bff,#002aff,#0029ff,#0027ff,#0025ff,#0022ff,#001fff,#001bff,#0017ff,#0011ff,#000bff,#0005ff,#0000fe,#0000f8,#0000f2,#0000ec,#0000eb,#0000f5,#0000ff,#0011ff,#0025ff,#0039ff,#0054ff,#006fff,#008aff,#009cff,#00aaff,#00f4ff,#00cfcf,#00bbbb,#00aeae,#00a3a3,#009999,#009090,#008888)"></div><div style="top:109px;height:2px;background:linear-gradient(90deg,#002dff,#002dff,#002dff,#002dff,#002dff,#002dff,#002dff,#002dff,#002dff,#002dff,#002dff,#002dff,#002dff,#002dff,#002fff,#0030ff,#0032ff,#0036ff,#0039ff,#003bff,#003dff,#003eff,#003bff,#0039ff,#0036ff,#0033ff,#0030ff,#002eff,#002dff,#002cff,#002bff,#002bff,#0029ff,#0028ff,#0026ff,#0023ff,#0021ff,#001dff,#0018ff,#0014ff,#000eff,#0008ff,#0001ff,#0000fa,#0000f4,#0000ee,#0000e9,#0000eb,#0000fc,#000eff,#0025ff,#003fff,#0058ff,#006fff,#0086ff,#009dff,#00acff,#00b8ff,#00f6ff,#00cfcf,#00bbbb,#00aeae,#00a2a2,#009898,#008f8f,#008686)"></div><div style="top:111px;height:2px;background:linear-gradient(90deg,#002dff,#002dff,#002dff,#002dff,#002dff,#002dff,#002dff,#002dff,#002dff,#002dff,#002dff,#002dff,#002dff,#002dff,#002fff,#0031ff,#0034ff,#0037ff,#003bff,#003cff,#003eff,#003eff,#003aff,#0037ff,#0034ff,#0031ff,#002fff,#002eff,#002dff,#002cff,#002bff,#002aff,#0029ff,#0027ff,#0025ff,#0022ff,#001fff,#001bff,#0016ff,#0011ff,#000aff,#0004ff,#0000fc,#0000f6,#0000ef,#0000eb,#0000e6,#0000ea,#0003ff,#001bff,#0039ff,#0059ff,#0077ff,#008aff,#009dff,#00b0ff,#00bcff,#00c6ff,#00f7ff,#00cfcf,#00bbbb,#00aeae,#00a2a2,#009898,#008e8e,#008585)"></div><div style="top:113px;height:2px;background:linear-gradient(90deg,#002dff,#002dff,#002dff,#002dff,#002dff,#002dff,#002dff,#002dff,#002dff,#002dff,#002dff,#002dff,#002dff,#002eff,#0030ff,#0032ff,#0035ff,#0039ff,#003cff,#003dff,#003eff,#003dff,#0039ff,#0036ff,#0033ff,#0030ff,#002eff,#002dff,#002cff,#002bff,#002aff,#002aff,#0028ff,#0026ff,#0024ff,#0020ff,#001dff,#0018ff,#0013ff,#000dff,#0007ff,#0000ff,#0000f8,#0000f2,#0000ec,#0000e9,#0000e7,#0000ef,#000eff,#002cff,#004eff,#0071ff,#0093ff,#00a2ff,#00b1ff,#00c0ff,#00caff,#00d2ff,#00f9ff,#00cfcf,#00bbbb,#00adad,#00a1a1,#009797,#008d8d,#008484)"></div><div style="top:115px;height:2px;background:linear-gradient(90deg,#002dff,#002dff,#002dff,#002dff,#002dff,#002dff,#002dff,#002dff,#002dff,#002dff,#002dff,#002dff,#002eff,#002fff,#0031ff,#0034ff,#0037ff,#003aff,#003dff,#003dff,#003dff,#003bff,#0038ff,#0034ff,#0032ff,#002fff,#002dff,#002cff,#002cff,#002bff,#002aff,#0029ff,#0026ff,#0024ff,#0022ff,#001dff,#0019ff,#0014ff,#000fff,#0009ff,#0002ff,#0000fb,#0000f4,#0000ef,#0000e9,#0000f1,#0000fb,#000bff,#0028ff,#0046ff,#0064ff,#0084ff,#00a1ff,#00aeff,#00bcff,#00c9ff,#00d2ff,#00d8ff,#00faff,#00cfcf,#00bbbb,#00adad,#00a1a1,#009696,#008c8c,#008383)"></div><div style="top:117px;height:2px;background:linear-gradient(90deg,#002dff,#002dff,#002dff,#002dff,#002dff,#002dff,#002dff,#002dff,#002dff,#002dff,#002dff,#002eff,#002fff,#0030ff,#0033ff,#0035ff,#0038ff,#003bff,#003dff,#003dff,#003bff,#003aff,#0036ff,#0033ff,#0030ff,#002fff,#002dff,#002cff,#002bff,#002aff,#0029ff,#0028ff,#0025ff,#0022ff,#001fff,#001bff,#0016ff,#0010ff,#000aff,#0004ff,#0000fd,#0000f6,#0000f0,#0000ec,#0000e7,#0000f9,#000fff,#0026ff,#0043ff,#0060ff,#007bff,#0096ff,#00afff,#00bbff,#00c6ff,#00d1ff,#00d9ff,#00deff,#00fbff,#00cfcf,#00bbbb,#00adad,#00a1a1,#009696,#008b8b,#008282)"></div><div style="top:119px;height:2px;background:linear-gradient(90deg,#002dff,#002dff,#002dff,#002dff,#002dff,#002dff,#002dff,#002dff,#002dff,#002dff,#002dff,#002eff,#002fff,#0031ff,#0034ff,#0037ff,#003aff,#003cff,#003eff,#003cff,#003aff,#0038ff,#0035ff,#0031ff,#002fff,#002eff,#002cff,#002cff,#002bff,#002aff,#0028ff,#0027ff,#0024ff,#0020ff,#001dff,#0018ff,#0013ff,#000dff,#0006ff,#0000fe,#0000f8,#0000f2,#0000ec,#0000e9,#0000e5,#0002ff,#0022ff,#0041ff,#005eff,#007aff,#0092ff,#00a8ff,#00beff,#00c7ff,#00d1ff,#00daff,#00e0ff,#00e5ff,#00fbff,#00cfcf,#00bbbb,#00adad,#00a0a0,#009595,#008a8a,#008181)"></div><div style="top:121px;height:2px;background:linear-gradient(90deg,#002dff,#002dff,#002dff,#002dff,#002dff,#002dff,#002dff,#002dff,#002dff,#002dff,#002dff,#002eff,#0030ff,#0032ff,#0035ff,#0039ff,#003cff,#003dff,#003eff,#003cff,#0039ff,#0036ff,#0033ff,#0030ff,#002eff,#002dff,#002cff,#002bff,#002aff,#0029ff,#0027ff,#0025ff,#0022ff,#001fff,#001aff,#0015ff,#000fff,#0009ff,#0002ff,#0000fa,#0000f3,#0000ed,#0000e8,#0000e5,#0000e2,#000aff,#0035ff,#005cff,#0078ff,#0094ff,#00a9ff,#00bbff,#00ccff,#00d3ff,#00dbff,#00e3ff,#00e7ff,#00ebff,#00fcff,#00cfcf,#00bbbb,#00adad,#00a0a0,#009494,#008a8a,#008080)"></div><div style="top:123px;height:2px;background:linear-gradient(90deg,#002dff,#002dff,#002dff,#002dff,#002dff,#002dff,#002dff,#002dff,#002dff,#002dff,#002eff,#002fff,#0031ff,#0033ff,#0037ff,#003aff,#003dff,#003dff,#003eff,#003bff,#0038ff,#0034ff,#0032ff,#002fff,#002dff,#002cff,#002cff,#002bff,#002aff,#0028ff,#0026ff,#0024ff,#0020ff,#001cff,#0017ff,#0011ff,#000bff,#0004ff,#0000fc,#0000f5,#0000f2,#0000ef,#0000ee,#0000ee,#0000ee,#001aff,#004bff,#0075ff,#008fff,#00a9ff,#00bbff,#00c9ff,#00d7ff,#00ddff,#00e3ff,#00e9ff,#00edff,#00f0ff,#00fdff,#00cfcf,#00bbbb,#00acac,#009f9f,#009494,#008989,#007f7f)"></div><div style="top:125px;height:2px;background:linear-gradient(90deg,#002dff,#002dff,#002dff,#002dff,#002dff,#002dff,#002dff,#002dff,#002dff,#002eff,#002eff,#0030ff,#0032ff,#0035ff,#0038ff,#003bff,#003dff,#003dff,#003dff,#003aff,#0036ff,#0033ff,#0031ff,#002eff,#002dff,#002cff,#002bff,#002aff,#0028ff,#0026ff,#0024ff,#0021ff,#001dff,#0018ff,#0013ff,#000cff,#0006ff,#0000fe,#0000f8,#0000f2,#0000f7,#0000fc,#0003ff,#000bff,#0013ff,#0039ff,#0063ff,#0088ff,#009eff,#00b5ff,#00c5ff,#00d1ff,#00ddff,#00e2ff,#00e8ff,#00edff,#00f0ff,#00f2ff,#00fdff,#00cfcf,#00bbbb,#00acac,#009f9f,#009393,#008888,#007e7e)"></div><div style="top:127px;height:2px;background:linear-gradient(90deg,#002dff,#002dff,#002dff,#002dff,#002dff,#002dff,#002dff,#002dff,#002dff,#002eff,#002fff,#0031ff,#0034ff,#0037ff,#0039ff,#003cff,#003dff,#003cff,#003bff,#0038ff,#0035ff,#0032ff,#0030ff,#002eff,#002cff,#002bff,#002aff,#0029ff,#0027ff,#0025ff,#0022ff,#001eff,#0019ff,#0014ff,#000eff,#0007ff,#0001ff,#0000f9,#0000f3,#0000ef,#0000fb,#0009ff,#0017ff,#0027ff,#0037ff,#0059ff,#007cff,#009bff,#00aeff,#00c1ff,#00ceff,#00d9ff,#00e3ff,#00e8ff,#00ecff,#00f1ff,#00f3ff,#00f5ff,#00feff,#00cfcf,#00bbbb,#00acac,#009e9e,#009292,#008787,#007d7d)"></div><div style="top:129px;height:2px;background:linear-gradient(90deg,#002dff,#002dff,#002dff,#002dff,#002dff,#002dff,#002dff,#002dff,#002dff,#002eff,#0030ff,#0032ff,#0035ff,#0038ff,#003bff,#003dff,#003dff,#003bff,#003aff,#0036ff,#0033ff,#0030ff,#002fff,#002dff,#002cff,#002bff,#002aff,#0028ff,#0026ff,#0023ff,#001fff,#001cff,#0016ff,#0010ff,#000aff,#0002ff,#0000fa,#0000f4,#0000ef,#0000eb,#0001ff,#0016ff,#002cff,#0044ff,#005bff,#0078ff,#0095ff,#00aeff,#00bdff,#00cdff,#00d8ff,#00e1ff,#00e9ff,#00edff,#00f1ff,#00f4ff,#00f6ff,#00f8ff,#00feff,#00cfcf,#00bbbb,#00acac,#009e9e,#009292,#008686,#007c7c)"></div><div style="top:131px;height:2px;background:linear-gradient(90deg,#002dff,#002dff,#002dff,#002dff,#002dff,#002dff,#002dff,#002dff,#002eff,#002fff,#0030ff,#0033ff,#0037ff,#003aff,#003cff,#003eff,#003eff,#003bff,#0038ff,#0035ff,#0032ff,#002fff,#002eff,#002dff,#002bff,#002aff,#0029ff,#0027ff,#0025ff,#0022ff,#001dff,#0019ff,#0012ff,#000cff,#0005ff,#0000fd,#0000f5,#0000ef,#0000ea,#0000e8,#0006ff,#0022ff,#0040ff,#0060ff,#007fff,#0097ff,#00adff,#00c1ff,#00cdff,#00d9ff,#00e2ff,#00e9ff,#00efff,#00f2ff,#00f5ff,#00f8ff,#00f9ff,#00faff,#00feff,#00cfcf,#00bbbb,#00acac,#009d9d,#009191,#008585,#007b7b)"></div><div style="top:133px;height:2px;background:linear-gradient(90deg,#002dff,#002dff,#002dff,#002dff,#002dff,#002dff,#002dff,#002dff,#002eff,#0030ff,#0032ff,#0034ff,#0038ff,#003cff,#003dff,#003eff,#003dff,#003aff,#0036ff,#0033ff,#0030ff,#002eff,#002dff,#002cff,#002bff,#0029ff,#0028ff,#0025ff,#0023ff,#001fff,#001aff,#0015ff,#000eff,#0007ff,#0000ff,#0000fa,#0000f5,#0000f3,#0000f4,#0000f7,#0017ff,#0037ff,#0057ff,#0077ff,#0098ff,#00acff,#00beff,#00ceff,#00d8ff,#00e2ff,#00e9ff,#00eeff,#00f4ff,#00f6ff,#00f8ff,#00fbff,#00fcff,#00fcff,#00ffff,#00cfcf,#00bbbb,#00abab,#009d9d,#009090,#008484,#007a7a)"></div><div style="top:135px;height:2px;background:linear-gradient(90deg,#002dff,#002dff,#002dff,#002dff,#002dff,#002dff,#002dff,#002eff,#002fff,#0031ff,#0033ff,#0036ff,#0039ff,#003cff,#003dff,#003dff,#003bff,#0038ff,#0035ff,#0032ff,#0030ff,#002dff,#002cff,#002bff,#002aff,#0028ff,#0026ff,#0023ff,#001fff,#001bff,#0015ff,#000fff,#0008ff,#0001ff,#0000fb,#0000fa,#0000f8,#0000ff,#000aff,#0016ff,#0034ff,#0052ff,#006fff,#008bff,#00a7ff,#00b8ff,#00c8ff,#00d5ff,#00deff,#00e7ff,#00edff,#00f1ff,#00f6ff,#00f8ff,#00faff,#00fcff,#00fdff,#00fdff,#00ffff,#00cfcf,#00bbbb,#00abab,#009c9c,#009090,#008383,#007979)"></div><div style="top:137px;height:2px;background:linear-gradient(90deg,#002dff,#002dff,#002dff,#002dff,#002dff,#002dff,#002eff,#002eff,#0030ff,#0032ff,#0035ff,#0038ff,#003bff,#003dff,#003dff,#003cff,#003aff,#0037ff,#0033ff,#0031ff,#002fff,#002dff,#002cff,#002aff,#0029ff,#0026ff,#0024ff,#0020ff,#001cff,#0017ff,#0010ff,#000aff,#0003ff,#0000fb,#0000f7,#0000f9,#0000fc,#000cff,#0020ff,#0035ff,#0051ff,#006dff,#0087ff,#009eff,#00b6ff,#00c4ff,#00d2ff,#00ddff,#00e4ff,#00ecff,#00f1ff,#00f5ff,#00f8ff,#00faff,#00fcff,#00feff,#00feff,#00feff,#00ffff,#00cfcf,#00bbbb,#00abab,#009c9c,#008f8f,#008383,#007878)"></div><div style="top:139px;height:2px;background:linear-gradient(90deg,#002dff,#002dff,#002dff,#002dff,#002dff,#002dff,#002eff,#002fff,#0030ff,#0033ff,#0037ff,#0039ff,#003cff,#003eff,#003dff,#003bff,#0038ff,#0035ff,#0032ff,#0030ff,#002eff,#002cff,#002bff,#002aff,#0028ff,#0025ff,#0022ff,#001dff,#0018ff,#0013ff,#000bff,#0004ff,#0000fc,#0000f5,#0000f2,#0000f9,#0001ff,#0017ff,#0036ff,#0054ff,#006eff,#0088ff,#009fff,#00b2ff,#00c5ff,#00d1ff,#00dbff,#00e5ff,#00ebff,#00f0ff,#00f5ff,#00f8ff,#00fbff,#00fcff,#00feff,#00ffff,#00fefe,#00fefe,#00ffff,#00cfcf,#00bbbb,#00abab,#009c9c,#008e8e,#008282,#007777)"></div><div style="top:141px;height:2px;background:linear-gradient(90deg,#002dff,#002dff,#002dff,#002dff,#002dff,#002dff,#002eff,#002fff,#0031ff,#0035ff,#0038ff,#003bff,#003dff,#003fff,#003cff,#003aff,#0037ff,#0033ff,#0030ff,#002eff,#002dff,#002cff,#002aff,#0029ff,#0027ff,#0024ff,#0020ff,#001bff,#0015ff,#000eff,#0007ff,#0000fe,#0000f7,#0000f0,#0000ee,#0000f9,#0004ff,#0023ff,#004bff,#0072ff,#008bff,#00a3ff,#00b7ff,#00c6ff,#00d4ff,#00ddff,#00e5ff,#00ecff,#00f1ff,#00f5ff,#00f8ff,#00fbff,#00fdff,#00feff,#00fefe,#00fcfc,#00fcfc,#00fcfc,#00ffff,#00cfcf,#00bbbb,#00abab,#009b9b,#008e8e,#008181,#007676)"></div><div style="top:143px;height:2px;background:linear-gradient(90deg,#002dff,#002dff,#002dff,#002dff,#002dff,#002dff,#002fff,#0030ff,#0033ff,#0036ff,#003aff,#003cff,#003dff,#003fff,#003bff,#0038ff,#0035ff,#0032ff,#002fff,#002dff,#002cff,#002bff,#0029ff,#0027ff,#0024ff,#0020ff,#001cff,#0016ff,#0010ff,#0009ff,#0001ff,#0000f9,#0000f9,#0000f9,#0000fe,#000dff,#001cff,#003bff,#0062ff,#0088ff,#009eff,#00b3ff,#00c5ff,#00d1ff,#00ddff,#00e4ff,#00ebff,#00f1ff,#00f4ff,#00f8ff,#00fbff,#00fdff,#00ffff,#00fefe,#00fcfc,#00fafa,#00fafa,#00fbfb,#00fefe,#00cfcf,#00bbbb,#00aaaa,#009b9b,#008d8d,#008080,#007575)"></div><div style="top:145px;height:2px;background:linear-gradient(90deg,#002dff,#002dff,#002dff,#002dff,#002dff,#002eff,#0030ff,#0032ff,#0034ff,#0038ff,#003bff,#003cff,#003dff,#003dff,#003aff,#0037ff,#0034ff,#0031ff,#002eff,#002dff,#002bff,#0029ff,#0027ff,#0025ff,#0021ff,#001cff,#0017ff,#0011ff,#000aff,#0003ff,#0000fb,#0000f4,#0000fd,#000aff,#0017ff,#0029ff,#003bff,#0058ff,#0079ff,#009aff,#00acff,#00bfff,#00ceff,#00d8ff,#00e3ff,#00e9ff,#00efff,#00f4ff,#00f7ff,#00faff,#00fcff,#00feff,#00fefe,#00fcfc,#00fbfb,#00f9f9,#00f9f9,#00fafa,#00fefe,#00cfcf,#00bbbb,#00aaaa,#009a9a,#008c8c,#007f7f,#007474)"></div><div style="top:147px;height:2px;background:linear-gradient(90deg,#002dff,#002dff,#002dff,#002dff,#002eff,#002fff,#0031ff,#0033ff,#0036ff,#0039ff,#003cff,#003dff,#003cff,#003cff,#0038ff,#0035ff,#0032ff,#0030ff,#002dff,#002cff,#002aff,#0028ff,#0025ff,#0022ff,#001eff,#0018ff,#0012ff,#000bff,#0004ff,#0000fc,#0000f6,#0000f0,#0003ff,#001aff,#0030ff,#0045ff,#005bff,#0075ff,#0091ff,#00acff,#00bbff,#00cbff,#00d7ff,#00e0ff,#00e8ff,#00eeff,#00f2ff,#00f7ff,#00f9ff,#00fcff,#00feff,#00ffff,#00fcfc,#00fbfb,#00f9f9,#00f8f8,#00f8f8,#00f9f9,#00fefe,#00cfcf,#00bbbb,#00aaaa,#009a9a,#008c8c,#007e7e,#007272)"></div><div style="top:149px;height:2px;background:linear-gradient(90deg,#002dff,#002dff,#002dff,#002dff,#002eff,#002fff,#0032ff,#0035ff,#0038ff,#003aff,#003dff,#003dff,#003cff,#003aff,#0037ff,#0033ff,#0031ff,#002fff,#002dff,#002bff,#0029ff,#0027ff,#0023ff,#0020ff,#001aff,#0014ff,#000dff,#0005ff,#0000fc,#0000f6,#0000f1,#0000eb,#0008ff,#0029ff,#0048ff,#0061ff,#007aff,#0092ff,#00a8ff,#00beff,#00caff,#00d7ff,#00e0ff,#00e7ff,#00eeff,#00f2ff,#00f6ff,#00faff,#00fcff,#00feff,#00fefe,#00fcfc,#00fafa,#00f9f9,#00f8f8,#00f7f7,#00f7f7,#00f8f8,#00fefe,#00cfcf,#00bbbb,#00aaaa,#009999,#008b8b,#007d7d,#007171)"></div></div><div class="cb" style="left:302px;top:48px;width:13px;height:155.5px;background:linear-gradient(180deg,#800000,#9f0000,#bf0000,#df0000,#ff0000,#ff2000,#ff4000,#ff6000,#ff8000,#ff9f00,#ffbf00,#ffdf00,#ffff00,#bfbf00,#808000,#404000,#000000,#004040,#008080,#00bfbf,#00ffff,#00dfff,#00bfff,#009fff,#0080ff,#0060ff,#0040ff,#0020ff,#0000ff,#0000df,#0000bf,#00009f,#000080)"></div><div class="cb" style="left:641px;top:47.5px;width:10.5px;height:156px;background:linear-gradient(180deg,#800000,#9f0000,#bf0000,#df0000,#ff0000,#ff2000,#ff4000,#ff6000,#ff8000,#ff9f00,#ffbf00,#ffdf00,#ffff00,#bfbf00,#808000,#404000,#000000,#004040,#008080,#00bfbf,#00ffff,#00dfff,#00bfff,#009fff,#0080ff,#0060ff,#0040ff,#0020ff,#0000ff,#0000df,#0000bf,#00009f,#000080)"></div><div class="cb" style="left:305px;top:251px;width:10.5px;height:159.6px;background:linear-gradient(180deg,#800000,#9f0000,#bf0000,#df0000,#ff0000,#ff2000,#ff4000,#ff6000,#ff8000,#ff9f00,#ffbf00,#ffdf00,#ffff00,#bfbf00,#808000,#404000,#000000,#004040,#008080,#00bfbf,#00ffff,#00dfff,#00bfff,#009fff,#0080ff,#0060ff,#0040ff,#0020ff,#0000ff,#0000df,#0000bf,#00009f,#000080)"></div><div class="cb" style="left:641px;top:259.8px;width:10.5px;height:151.5px;background:linear-gradient(180deg,#800000,#9f0000,#bf0000,#df0000,#ff0000,#ff2000,#ff4000,#ff6000,#ff8000,#ff9f00,#ffbf00,#ffdf00,#ffff00,#bfbf00,#808000,#404000,#000000,#004040,#008080,#00bfbf,#00ffff,#00dfff,#00bfff,#009fff,#0080ff,#0060ff,#0040ff,#0020ff,#0000ff,#0000df,#0000bf,#00009f,#000080)"></div><svg width="685" height="971" viewBox="0 0 685 971"><text x="331.7" y="14" font-size="17.5" text-anchor="middle" font-weight="bold" font-family="Liberation Sans" font-style="normal" fill="#000" >Interface-parallel strain</text><text x="169.8" y="36.3" font-size="17.5" text-anchor="middle" font-weight="bold" font-family="Liberation Sans" font-style="normal" fill="#000" >Large field of view</text><text x="508.6" y="38.2" font-size="17.5" text-anchor="middle" font-weight="bold" font-family="Liberation Sans" font-style="normal" fill="#000" >Small field of view</text><rect x="36" y="48" width="256.5" height="155.5" stroke="#222" stroke-width="0.8" fill="none" /><text x="36" y="215" font-size="10" text-anchor="middle" font-weight="normal" font-family="Liberation Sans" font-style="normal" fill="#000" >0</text><line x1="77.34" y1="203.5" x2="77.34" y2="201" stroke="#222" stroke-width="0.7" /><line x1="77.34" y1="48" x2="77.34" y2="50.5" stroke="#222" stroke-width="0.7" /><text x="77.34" y="215" font-size="10" text-anchor="middle" font-weight="normal" font-family="Liberation Sans" font-style="normal" fill="#000" >20</text><line x1="118.68" y1="203.5" x2="118.68" y2="201" stroke="#222" stroke-width="0.7" /><line x1="118.68" y1="48" x2="118.68" y2="50.5" stroke="#222" stroke-width="0.7" /><text x="118.68" y="215" font-size="10" text-anchor="middle" font-weight="normal" font-family="Liberation Sans" font-style="normal" fill="#000" >40</text><line x1="160.02" y1="203.5" x2="160.02" y2="201" stroke="#222" stroke-width="0.7" /><line x1="160.02" y1="48" x2="160.02" y2="50.5" stroke="#222" stroke-width="0.7" /><text x="160.02" y="215" font-size="10" text-anchor="middle" font-weight="normal" font-family="Liberation Sans" font-style="normal" fill="#000" >60</text><line x1="201.36" y1="203.5" x2="201.36" y2="201" stroke="#222" stroke-width="0.7" /><line x1="201.36" y1="48" x2="201.36" y2="50.5" stroke="#222" stroke-width="0.7" /><text x="201.36" y="215" font-size="10" text-anchor="middle" font-weight="normal" font-family="Liberation Sans" font-style="normal" fill="#000" >80</text><line x1="242.7" y1="203.5" x2="242.7" y2="201" stroke="#222" stroke-width="0.7" /><line x1="242.7" y1="48" x2="242.7" y2="50.5" stroke="#222" stroke-width="0.7" /><text x="242.7" y="215" font-size="10" text-anchor="middle" font-weight="normal" font-family="Liberation Sans" font-style="normal" fill="#000" >100</text><line x1="284.04" y1="203.5" x2="284.04" y2="201" stroke="#222" stroke-width="0.7" /><line x1="284.04" y1="48" x2="284.04" y2="50.5" stroke="#222" stroke-width="0.7" /><text x="284.04" y="215" font-size="10" text-anchor="middle" font-weight="normal" font-family="Liberation Sans" font-style="normal" fill="#000" >120</text><line x1="36" y1="63.17" x2="38.5" y2="63.17" stroke="#222" stroke-width="0.7" /><line x1="292.5" y1="63.17" x2="290" y2="63.17" stroke="#222" stroke-width="0.7" /><text x="34.3" y="66.77" font-size="10" text-anchor="end" font-weight="normal" font-family="Liberation Sans" font-style="normal" fill="#000" >30</text><line x1="36" y1="94.235" x2="38.5" y2="94.235" stroke="#222" stroke-width="0.7" /><line x1="292.5" y1="94.235" x2="290" y2="94.235" stroke="#222" stroke-width="0.7" /><text x="34.3" y="97.835" font-size="10" text-anchor="end" font-weight="normal" font-family="Liberation Sans" font-style="normal" fill="#000" >15</text><line x1="36" y1="125.3" x2="38.5" y2="125.3" stroke="#222" stroke-width="0.7" /><line x1="292.5" y1="125.3" x2="290" y2="125.3" stroke="#222" stroke-width="0.7" /><text x="34.3" y="128.9" font-size="10" text-anchor="end" font-weight="normal" font-family="Liberation Sans" font-style="normal" fill="#000" >0</text><line x1="36" y1="156.365" x2="38.5" y2="156.365" stroke="#222" stroke-width="0.7" /><line x1="292.5" y1="156.365" x2="290" y2="156.365" stroke="#222" stroke-width="0.7" /><text x="34.3" y="159.965" font-size="10" text-anchor="end" font-weight="normal" font-family="Liberation Sans" font-style="normal" fill="#000" >−15</text><line x1="36" y1="187.43" x2="38.5" y2="187.43" stroke="#222" stroke-width="0.7" /><line x1="292.5" y1="187.43" x2="290" y2="187.43" stroke="#222" stroke-width="0.7" /><text x="34.3" y="191.03" font-size="10" text-anchor="end" font-weight="normal" font-family="Liberation Sans" font-style="normal" fill="#000" >−30</text><rect x="381.3" y="48" width="255.3" height="155.3" stroke="#222" stroke-width="0.8" fill="none" /><text x="381.3" y="216.2" font-size="9.5" text-anchor="middle" font-weight="normal" font-family="Liberation Sans" font-style="normal" fill="#000" >0</text><line x1="410.3" y1="203.3" x2="410.3" y2="200.8" stroke="#222" stroke-width="0.7" /><line x1="410.3" y1="48" x2="410.3" y2="50.5" stroke="#222" stroke-width="0.7" /><text x="410.3" y="216.2" font-size="9.5" text-anchor="middle" font-weight="normal" font-family="Liberation Sans" font-style="normal" fill="#000" >2</text><line x1="439.3" y1="203.3" x2="439.3" y2="200.8" stroke="#222" stroke-width="0.7" /><line x1="439.3" y1="48" x2="439.3" y2="50.5" stroke="#222" stroke-width="0.7" /><text x="439.3" y="216.2" font-size="9.5" text-anchor="middle" font-weight="normal" font-family="Liberation Sans" font-style="normal" fill="#000" >4</text><line x1="468.3" y1="203.3" x2="468.3" y2="200.8" stroke="#222" stroke-width="0.7" /><line x1="468.3" y1="48" x2="468.3" y2="50.5" stroke="#222" stroke-width="0.7" /><text x="468.3" y="216.2" font-size="9.5" text-anchor="middle" font-weight="normal" font-family="Liberation Sans" font-style="normal" fill="#000" >6</text><line x1="497.3" y1="203.3" x2="497.3" y2="200.8" stroke="#222" stroke-width="0.7" /><line x1="497.3" y1="48" x2="497.3" y2="50.5" stroke="#222" stroke-width="0.7" /><text x="497.3" y="216.2" font-size="9.5" text-anchor="middle" font-weight="normal" font-family="Liberation Sans" font-style="normal" fill="#000" >8</text><line x1="526.3" y1="203.3" x2="526.3" y2="200.8" stroke="#222" stroke-width="0.7" /><line x1="526.3" y1="48" x2="526.3" y2="50.5" stroke="#222" stroke-width="0.7" /><text x="526.3" y="216.2" font-size="9.5" text-anchor="middle" font-weight="normal" font-family="Liberation Sans" font-style="normal" fill="#000" >10</text><line x1="555.3" y1="203.3" x2="555.3" y2="200.8" stroke="#222" stroke-width="0.7" /><line x1="555.3" y1="48" x2="555.3" y2="50.5" stroke="#222" stroke-width="0.7" /><text x="555.3" y="216.2" font-size="9.5" text-anchor="middle" font-weight="normal" font-family="Liberation Sans" font-style="normal" fill="#000" >12</text><line x1="584.3" y1="203.3" x2="584.3" y2="200.8" stroke="#222" stroke-width="0.7" /><line x1="584.3" y1="48" x2="584.3" y2="50.5" stroke="#222" stroke-width="0.7" /><text x="584.3" y="216.2" font-size="9.5" text-anchor="middle" font-weight="normal" font-family="Liberation Sans" font-style="normal" fill="#000" >14</text><line x1="613.3" y1="203.3" x2="613.3" y2="200.8" stroke="#222" stroke-width="0.7" /><line x1="613.3" y1="48" x2="613.3" y2="50.5" stroke="#222" stroke-width="0.7" /><text x="613.3" y="216.2" font-size="9.5" text-anchor="middle" font-weight="normal" font-family="Liberation Sans" font-style="normal" fill="#000" >16</text><line x1="381.3" y1="71.1" x2="383.8" y2="71.1" stroke="#222" stroke-width="0.7" /><line x1="636.6" y1="71.1" x2="634.1" y2="71.1" stroke="#222" stroke-width="0.7" /><text x="376" y="74.52" font-size="9.5" text-anchor="end" font-weight="normal" font-family="Liberation Sans" font-style="normal" fill="#000" >4</text><line x1="381.3" y1="100.2" x2="383.8" y2="100.2" stroke="#222" stroke-width="0.7" /><line x1="636.6" y1="100.2" x2="634.1" y2="100.2" stroke="#222" stroke-width="0.7" /><text x="376" y="103.62" font-size="9.5" text-anchor="end" font-weight="normal" font-family="Liberation Sans" font-style="normal" fill="#000" >2</text><line x1="381.3" y1="129.3" x2="383.8" y2="129.3" stroke="#222" stroke-width="0.7" /><line x1="636.6" y1="129.3" x2="634.1" y2="129.3" stroke="#222" stroke-width="0.7" /><text x="376" y="132.72" font-size="9.5" text-anchor="end" font-weight="normal" font-family="Liberation Sans" font-style="normal" fill="#000" >0</text><line x1="381.3" y1="158.4" x2="383.8" y2="158.4" stroke="#222" stroke-width="0.7" /><line x1="636.6" y1="158.4" x2="634.1" y2="158.4" stroke="#222" stroke-width="0.7" /><text x="376" y="161.82" font-size="9.5" text-anchor="end" font-weight="normal" font-family="Liberation Sans" font-style="normal" fill="#000" >-2</text><line x1="381.3" y1="187.5" x2="383.8" y2="187.5" stroke="#222" stroke-width="0.7" /><line x1="636.6" y1="187.5" x2="634.1" y2="187.5" stroke="#222" stroke-width="0.7" /><text x="376" y="190.92" font-size="9.5" text-anchor="end" font-weight="normal" font-family="Liberation Sans" font-style="normal" fill="#000" >-4</text><rect x="35.2" y="251" width="265" height="159.6" stroke="#222" stroke-width="0.8" fill="none" /><line x1="76" y1="410.6" x2="76" y2="408.1" stroke="#222" stroke-width="0.7" /><line x1="76" y1="251" x2="76" y2="253.5" stroke="#222" stroke-width="0.7" /><text x="76" y="424.5" font-size="10" text-anchor="middle" font-weight="normal" font-family="Liberation Sans" font-style="normal" fill="#000" >20</text><line x1="118.5" y1="410.6" x2="118.5" y2="408.1" stroke="#222" stroke-width="0.7" /><line x1="118.5" y1="251" x2="118.5" y2="253.5" stroke="#222" stroke-width="0.7" /><text x="118.5" y="424.5" font-size="10" text-anchor="middle" font-weight="normal" font-family="Liberation Sans" font-style="normal" fill="#000" >40</text><line x1="161" y1="410.6" x2="161" y2="408.1" stroke="#222" stroke-width="0.7" /><line x1="161" y1="251" x2="161" y2="253.5" stroke="#222" stroke-width="0.7" /><text x="161" y="424.5" font-size="10" text-anchor="middle" font-weight="normal" font-family="Liberation Sans" font-style="normal" fill="#000" >60</text><line x1="203.5" y1="410.6" x2="203.5" y2="408.1" stroke="#222" stroke-width="0.7" /><line x1="203.5" y1="251" x2="203.5" y2="253.5" stroke="#222" stroke-width="0.7" /><text x="203.5" y="424.5" font-size="10" text-anchor="middle" font-weight="normal" font-family="Liberation Sans" font-style="normal" fill="#000" >80</text><line x1="246" y1="410.6" x2="246" y2="408.1" stroke="#222" stroke-width="0.7" /><line x1="246" y1="251" x2="246" y2="253.5" stroke="#222" stroke-width="0.7" /><text x="246" y="424.5" font-size="10" text-anchor="middle" font-weight="normal" font-family="Liberation Sans" font-style="normal" fill="#000" >100</text><line x1="288.5" y1="410.6" x2="288.5" y2="408.1" stroke="#222" stroke-width="0.7" /><line x1="288.5" y1="251" x2="288.5" y2="253.5" stroke="#222" stroke-width="0.7" /><text x="288.5" y="424.5" font-size="10" text-anchor="middle" font-weight="normal" font-family="Liberation Sans" font-style="normal" fill="#000" >120</text><line x1="35.2" y1="267.51" x2="37.7" y2="267.51" stroke="#222" stroke-width="0.7" /><line x1="300.2" y1="267.51" x2="297.7" y2="267.51" stroke="#222" stroke-width="0.7" /><text x="29" y="271.11" font-size="10" text-anchor="end" font-weight="normal" font-family="Liberation Sans" font-style="normal" fill="#000" >30</text><line x1="35.2" y1="288.84" x2="37.7" y2="288.84" stroke="#222" stroke-width="0.7" /><line x1="300.2" y1="288.84" x2="297.7" y2="288.84" stroke="#222" stroke-width="0.7" /><text x="29" y="292.44" font-size="10" text-anchor="end" font-weight="normal" font-family="Liberation Sans" font-style="normal" fill="#000" >20</text><line x1="35.2" y1="310.17" x2="37.7" y2="310.17" stroke="#222" stroke-width="0.7" /><line x1="300.2" y1="310.17" x2="297.7" y2="310.17" stroke="#222" stroke-width="0.7" /><text x="29" y="313.77" font-size="10" text-anchor="end" font-weight="normal" font-family="Liberation Sans" font-style="normal" fill="#000" >10</text><line x1="35.2" y1="331.5" x2="37.7" y2="331.5" stroke="#222" stroke-width="0.7" /><line x1="300.2" y1="331.5" x2="297.7" y2="331.5" stroke="#222" stroke-width="0.7" /><text x="29" y="335.1" font-size="10" text-anchor="end" font-weight="normal" font-family="Liberation Sans" font-style="normal" fill="#000" >0</text><line x1="35.2" y1="352.83" x2="37.7" y2="352.83" stroke="#222" stroke-width="0.7" /><line x1="300.2" y1="352.83" x2="297.7" y2="352.83" stroke="#222" stroke-width="0.7" /><text x="29" y="356.43" font-size="10" text-anchor="end" font-weight="normal" font-family="Liberation Sans" font-style="normal" fill="#000" >-10</text><line x1="35.2" y1="374.16" x2="37.7" y2="374.16" stroke="#222" stroke-width="0.7" /><line x1="300.2" y1="374.16" x2="297.7" y2="374.16" stroke="#222" stroke-width="0.7" /><text x="29" y="377.76" font-size="10" text-anchor="end" font-weight="normal" font-family="Liberation Sans" font-style="normal" fill="#000" >-20</text><line x1="35.2" y1="395.49" x2="37.7" y2="395.49" stroke="#222" stroke-width="0.7" /><line x1="300.2" y1="395.49" x2="297.7" y2="395.49" stroke="#222" stroke-width="0.7" /><text x="29" y="399.09" font-size="10" text-anchor="end" font-weight="normal" font-family="Liberation Sans" font-style="normal" fill="#000" >-30</text><rect x="377.9" y="260" width="258.9" height="151" stroke="#222" stroke-width="0.8" fill="none" /><text x="377.2" y="424.8" font-size="9.5" text-anchor="middle" font-weight="normal" font-family="Liberation Sans" font-style="normal" fill="#000" >0</text><line x1="406.54" y1="411" x2="406.54" y2="408.5" stroke="#222" stroke-width="0.7" /><line x1="406.54" y1="260" x2="406.54" y2="262.5" stroke="#222" stroke-width="0.7" /><text x="406.54" y="424.8" font-size="9.5" text-anchor="middle" font-weight="normal" font-family="Liberation Sans" font-style="normal" fill="#000" >2</text><line x1="435.88" y1="411" x2="435.88" y2="408.5" stroke="#222" stroke-width="0.7" /><line x1="435.88" y1="260" x2="435.88" y2="262.5" stroke="#222" stroke-width="0.7" /><text x="435.88" y="424.8" font-size="9.5" text-anchor="middle" font-weight="normal" font-family="Liberation Sans" font-style="normal" fill="#000" >4</text><line x1="465.22" y1="411" x2="465.22" y2="408.5" stroke="#222" stroke-width="0.7" /><line x1="465.22" y1="260" x2="465.22" y2="262.5" stroke="#222" stroke-width="0.7" /><text x="465.22" y="424.8" font-size="9.5" text-anchor="middle" font-weight="normal" font-family="Liberation Sans" font-style="normal" fill="#000" >6</text><line x1="494.56" y1="411" x2="494.56" y2="408.5" stroke="#222" stroke-width="0.7" /><line x1="494.56" y1="260" x2="494.56" y2="262.5" stroke="#222" stroke-width="0.7" /><text x="494.56" y="424.8" font-size="9.5" text-anchor="middle" font-weight="normal" font-family="Liberation Sans" font-style="normal" fill="#000" >8</text><line x1="523.9" y1="411" x2="523.9" y2="408.5" stroke="#222" stroke-width="0.7" /><line x1="523.9" y1="260" x2="523.9" y2="262.5" stroke="#222" stroke-width="0.7" /><text x="523.9" y="424.8" font-size="9.5" text-anchor="middle" font-weight="normal" font-family="Liberation Sans" font-style="normal" fill="#000" >10</text><line x1="553.24" y1="411" x2="553.24" y2="408.5" stroke="#222" stroke-width="0.7" /><line x1="553.24" y1="260" x2="553.24" y2="262.5" stroke="#222" stroke-width="0.7" /><text x="553.24" y="424.8" font-size="9.5" text-anchor="middle" font-weight="normal" font-family="Liberation Sans" font-style="normal" fill="#000" >12</text><line x1="582.58" y1="411" x2="582.58" y2="408.5" stroke="#222" stroke-width="0.7" /><line x1="582.58" y1="260" x2="582.58" y2="262.5" stroke="#222" stroke-width="0.7" /><text x="582.58" y="424.8" font-size="9.5" text-anchor="middle" font-weight="normal" font-family="Liberation Sans" font-style="normal" fill="#000" >14</text><line x1="611.92" y1="411" x2="611.92" y2="408.5" stroke="#222" stroke-width="0.7" /><line x1="611.92" y1="260" x2="611.92" y2="262.5" stroke="#222" stroke-width="0.7" /><text x="611.92" y="424.8" font-size="9.5" text-anchor="middle" font-weight="normal" font-family="Liberation Sans" font-style="normal" fill="#000" >16</text><line x1="377.9" y1="282.9" x2="380.4" y2="282.9" stroke="#222" stroke-width="0.7" /><line x1="636.8" y1="282.9" x2="634.3" y2="282.9" stroke="#222" stroke-width="0.7" /><text x="372.5" y="286.32" font-size="9.5" text-anchor="end" font-weight="normal" font-family="Liberation Sans" font-style="normal" fill="#000" >4</text><line x1="377.9" y1="312.4" x2="380.4" y2="312.4" stroke="#222" stroke-width="0.7" /><line x1="636.8" y1="312.4" x2="634.3" y2="312.4" stroke="#222" stroke-width="0.7" /><text x="372.5" y="315.82" font-size="9.5" text-anchor="end" font-weight="normal" font-family="Liberation Sans" font-style="normal" fill="#000" >2</text><line x1="377.9" y1="341.9" x2="380.4" y2="341.9" stroke="#222" stroke-width="0.7" /><line x1="636.8" y1="341.9" x2="634.3" y2="341.9" stroke="#222" stroke-width="0.7" /><text x="372.5" y="345.32" font-size="9.5" text-anchor="end" font-weight="normal" font-family="Liberation Sans" font-style="normal" fill="#000" >0</text><line x1="377.9" y1="371.4" x2="380.4" y2="371.4" stroke="#222" stroke-width="0.7" /><line x1="636.8" y1="371.4" x2="634.3" y2="371.4" stroke="#222" stroke-width="0.7" /><text x="372.5" y="374.82" font-size="9.5" text-anchor="end" font-weight="normal" font-family="Liberation Sans" font-style="normal" fill="#000" >-2</text><line x1="377.9" y1="400.9" x2="380.4" y2="400.9" stroke="#222" stroke-width="0.7" /><line x1="636.8" y1="400.9" x2="634.3" y2="400.9" stroke="#222" stroke-width="0.7" /><text x="372.5" y="404.32" font-size="9.5" text-anchor="end" font-weight="normal" font-family="Liberation Sans" font-style="normal" fill="#000" >-4</text><text x="140.1" y="228.1" font-size="14.5" font-family="Liberation Serif" textLength="51.7" lengthAdjust="spacing" fill="#000"><tspan font-style="italic">x</tspan><tspan font-size="10.15" dy="2.9">1</tspan><tspan dy="-2.9"> (mm)</tspan></text><text x="486" y="229.8" font-size="13.6" font-family="Liberation Serif" textLength="45.8" lengthAdjust="spacing" fill="#000"><tspan font-style="italic">x</tspan><tspan font-size="9.52" dy="2.72">1</tspan><tspan dy="-2.72"> (mm)</tspan></text><text x="143.6" y="439" font-size="13.6" font-family="Liberation Serif" textLength="47.6" lengthAdjust="spacing" fill="#000"><tspan font-style="italic">x</tspan><tspan font-size="9.52" dy="2.72">1</tspan><tspan dy="-2.72"> (mm)</tspan></text><text x="484.1" y="438.3" font-size="13.4" font-family="Liberation Serif" textLength="46" lengthAdjust="spacing" fill="#000"><tspan font-style="italic">x</tspan><tspan font-size="9.38" dy="2.68">1</tspan><tspan dy="-2.68"> (mm)</tspan></text><text x="0" y="0" font-size="14.5" font-family="Liberation Serif" textLength="50.4" lengthAdjust="spacing" fill="#000" transform="translate(11.4 149.8) rotate(-90)"><tspan font-style="italic">x</tspan><tspan font-size="10.15" dy="2.9">2</tspan><tspan dy="-2.9"> (mm)</tspan></text><text x="0" y="0" font-size="13.6" font-family="Liberation Serif" textLength="43.7" lengthAdjust="spacing" fill="#000" transform="translate(362.8 148.5) rotate(-90)"><tspan font-style="italic">x</tspan><tspan font-size="9.52" dy="2.72">2</tspan><tspan dy="-2.72"> (mm)</tspan></text><text x="0" y="0" font-size="13.6" font-family="Liberation Serif" textLength="47.4" lengthAdjust="spacing" fill="#000" transform="translate(10 355.1) rotate(-90)"><tspan font-style="italic">x</tspan><tspan font-size="9.52" dy="2.72">2</tspan><tspan dy="-2.72"> (mm)</tspan></text><text x="0" y="0" font-size="13.4" font-family="Liberation Serif" textLength="46.3" lengthAdjust="spacing" fill="#000" transform="translate(358.5 358.5) rotate(-90)"><tspan font-style="italic">x</tspan><tspan font-size="9.38" dy="2.68">2</tspan><tspan dy="-2.68"> (mm)</tspan></text><rect x="302" y="48" width="13" height="155.5" stroke="#222" stroke-width="0.8" fill="none" /><line x1="302" y1="48.5" x2="304" y2="48.5" stroke="#222" stroke-width="0.6" /><line x1="315" y1="48.5" x2="313" y2="48.5" stroke="#222" stroke-width="0.6" /><text x="316.5" y="52.64" font-size="11.5" text-anchor="start" font-weight="normal" font-family="Liberation Sans" font-style="normal" fill="#000" >4</text><line x1="302" y1="87.5" x2="304" y2="87.5" stroke="#222" stroke-width="0.6" /><line x1="315" y1="87.5" x2="313" y2="87.5" stroke="#222" stroke-width="0.6" /><text x="316.5" y="91.64" font-size="11.5" text-anchor="start" font-weight="normal" font-family="Liberation Sans" font-style="normal" fill="#000" >2</text><line x1="302" y1="126.4" x2="304" y2="126.4" stroke="#222" stroke-width="0.6" /><line x1="315" y1="126.4" x2="313" y2="126.4" stroke="#222" stroke-width="0.6" /><text x="316.5" y="130.54" font-size="11.5" text-anchor="start" font-weight="normal" font-family="Liberation Sans" font-style="normal" fill="#000" >0</text><line x1="302" y1="165.7" x2="304" y2="165.7" stroke="#222" stroke-width="0.6" /><line x1="315" y1="165.7" x2="313" y2="165.7" stroke="#222" stroke-width="0.6" /><text x="316.5" y="169.84" font-size="11.5" text-anchor="start" font-weight="normal" font-family="Liberation Sans" font-style="normal" fill="#000" >−2</text><line x1="302" y1="204.3" x2="304" y2="204.3" stroke="#222" stroke-width="0.6" /><line x1="315" y1="204.3" x2="313" y2="204.3" stroke="#222" stroke-width="0.6" /><text x="316.5" y="208.44" font-size="11.5" text-anchor="start" font-weight="normal" font-family="Liberation Sans" font-style="normal" fill="#000" >−4</text><rect x="641" y="47.5" width="10.5" height="156" stroke="#222" stroke-width="0.8" fill="none" /><line x1="641" y1="52.6" x2="643" y2="52.6" stroke="#222" stroke-width="0.6" /><line x1="651.5" y1="52.6" x2="649.5" y2="52.6" stroke="#222" stroke-width="0.6" /><text x="654.8" y="56.74" font-size="11.5" text-anchor="start" font-weight="normal" font-family="Liberation Sans" font-style="normal" fill="#000" >4</text><line x1="641" y1="89.8" x2="643" y2="89.8" stroke="#222" stroke-width="0.6" /><line x1="651.5" y1="89.8" x2="649.5" y2="89.8" stroke="#222" stroke-width="0.6" /><text x="654.8" y="93.94" font-size="11.5" text-anchor="start" font-weight="normal" font-family="Liberation Sans" font-style="normal" fill="#000" >2</text><line x1="641" y1="126.9" x2="643" y2="126.9" stroke="#222" stroke-width="0.6" /><line x1="651.5" y1="126.9" x2="649.5" y2="126.9" stroke="#222" stroke-width="0.6" /><text x="654.8" y="131.04" font-size="11.5" text-anchor="start" font-weight="normal" font-family="Liberation Sans" font-style="normal" fill="#000" >0</text><line x1="641" y1="164.1" x2="643" y2="164.1" stroke="#222" stroke-width="0.6" /><line x1="651.5" y1="164.1" x2="649.5" y2="164.1" stroke="#222" stroke-width="0.6" /><text x="654.8" y="168.24" font-size="11.5" text-anchor="start" font-weight="normal" font-family="Liberation Sans" font-style="normal" fill="#000" >-2</text><line x1="641" y1="201.2" x2="643" y2="201.2" stroke="#222" stroke-width="0.6" /><line x1="651.5" y1="201.2" x2="649.5" y2="201.2" stroke="#222" stroke-width="0.6" /><text x="654.8" y="205.34" font-size="11.5" text-anchor="start" font-weight="normal" font-family="Liberation Sans" font-style="normal" fill="#000" >-4</text><rect x="305" y="251" width="10.5" height="159.6" stroke="#222" stroke-width="0.8" fill="none" /><line x1="305" y1="251.7" x2="307" y2="251.7" stroke="#222" stroke-width="0.6" /><line x1="315.5" y1="251.7" x2="313.5" y2="251.7" stroke="#222" stroke-width="0.6" /><text x="319.3" y="256.02" font-size="12" text-anchor="start" font-weight="normal" font-family="Liberation Sans" font-style="normal" fill="#000" >4</text><line x1="305" y1="291.1" x2="307" y2="291.1" stroke="#222" stroke-width="0.6" /><line x1="315.5" y1="291.1" x2="313.5" y2="291.1" stroke="#222" stroke-width="0.6" /><text x="319.3" y="295.42" font-size="12" text-anchor="start" font-weight="normal" font-family="Liberation Sans" font-style="normal" fill="#000" >2</text><line x1="305" y1="331.3" x2="307" y2="331.3" stroke="#222" stroke-width="0.6" /><line x1="315.5" y1="331.3" x2="313.5" y2="331.3" stroke="#222" stroke-width="0.6" /><text x="319.3" y="335.62" font-size="12" text-anchor="start" font-weight="normal" font-family="Liberation Sans" font-style="normal" fill="#000" >0</text><line x1="305" y1="372.3" x2="307" y2="372.3" stroke="#222" stroke-width="0.6" /><line x1="315.5" y1="372.3" x2="313.5" y2="372.3" stroke="#222" stroke-width="0.6" /><text x="319.3" y="376.62" font-size="12" text-anchor="start" font-weight="normal" font-family="Liberation Sans" font-style="normal" fill="#000" >-2</text><line x1="305" y1="411.8" x2="307" y2="411.8" stroke="#222" stroke-width="0.6" /><line x1="315.5" y1="411.8" x2="313.5" y2="411.8" stroke="#222" stroke-width="0.6" /><text x="319.3" y="416.12" font-size="12" text-anchor="start" font-weight="normal" font-family="Liberation Sans" font-style="normal" fill="#000" >-4</text><rect x="641" y="259.8" width="10.5" height="151.5" stroke="#222" stroke-width="0.8" fill="none" /><line x1="641" y1="264" x2="643" y2="264" stroke="#222" stroke-width="0.6" /><line x1="651.5" y1="264" x2="649.5" y2="264" stroke="#222" stroke-width="0.6" /><text x="654.8" y="268.14" font-size="11.5" text-anchor="start" font-weight="normal" font-family="Liberation Sans" font-style="normal" fill="#000" >4</text><line x1="641" y1="300" x2="643" y2="300" stroke="#222" stroke-width="0.6" /><line x1="651.5" y1="300" x2="649.5" y2="300" stroke="#222" stroke-width="0.6" /><text x="654.8" y="304.14" font-size="11.5" text-anchor="start" font-weight="normal" font-family="Liberation Sans" font-style="normal" fill="#000" >2</text><line x1="641" y1="336" x2="643" y2="336" stroke="#222" stroke-width="0.6" /><line x1="651.5" y1="336" x2="649.5" y2="336" stroke="#222" stroke-width="0.6" /><text x="654.8" y="340.14" font-size="11.5" text-anchor="start" font-weight="normal" font-family="Liberation Sans" font-style="normal" fill="#000" >0</text><line x1="641" y1="372.6" x2="643" y2="372.6" stroke="#222" stroke-width="0.6" /><line x1="651.5" y1="372.6" x2="649.5" y2="372.6" stroke="#222" stroke-width="0.6" /><text x="654.8" y="376.74" font-size="11.5" text-anchor="start" font-weight="normal" font-family="Liberation Sans" font-style="normal" fill="#000" >-2</text><line x1="641" y1="409" x2="643" y2="409" stroke="#222" stroke-width="0.6" /><line x1="651.5" y1="409" x2="649.5" y2="409" stroke="#222" stroke-width="0.6" /><text x="654.8" y="413.14" font-size="11.5" text-anchor="start" font-weight="normal" font-family="Liberation Sans" font-style="normal" fill="#000" >-4</text><text x="314.7" y="45.4" font-size="11.5" text-anchor="start" font-weight="normal" font-family="Liberation Sans" font-style="normal" fill="#000" >x 10</text><text x="339.7" y="37.5" font-size="8.5" text-anchor="start" font-weight="normal" font-family="Liberation Sans" font-style="normal" fill="#000" >−3</text><text x="652.5" y="43.6" font-size="12.5" text-anchor="start" font-weight="normal" font-family="Liberation Sans" font-style="normal" fill="#000" >×10</text><text x="676.3" y="37.3" font-size="9" text-anchor="start" font-weight="normal" font-family="Liberation Sans" font-style="normal" fill="#000" >-3</text><text x="316.2" y="246.5" font-size="12.5" text-anchor="start" font-weight="normal" font-family="Liberation Sans" font-style="normal" fill="#000" >×10</text><text x="341.7" y="240.5" font-size="9" text-anchor="start" font-weight="normal" font-family="Liberation Sans" font-style="normal" fill="#000" >-3</text><text x="652.5" y="254.8" font-size="12.5" text-anchor="start" font-weight="normal" font-family="Liberation Sans" font-style="normal" fill="#000" >×10</text><text x="676.3" y="248.6" font-size="9" text-anchor="start" font-weight="normal" font-family="Liberation Sans" font-style="normal" fill="#000" >-3</text><text x="0" y="50.4" font-size="18" text-anchor="start" font-weight="bold" font-family="Liberation Sans" font-style="normal" fill="#000" >(a)</text><text x="348.4" y="52.8" font-size="18" text-anchor="start" font-weight="bold" font-family="Liberation Sans" font-style="normal" fill="#000" >(b)</text><text x="2.6" y="244.5" font-size="18" text-anchor="start" font-weight="bold" font-family="Liberation Sans" font-style="normal" fill="#000" >(c)</text><text x="353.7" y="245.9" font-size="18" text-anchor="start" font-weight="bold" font-family="Liberation Sans" font-style="normal" fill="#000" >(d)</text><text x="3.2" y="443.2" font-size="18" text-anchor="start" font-weight="bold" font-family="Liberation Sans" font-style="normal" fill="#000" >(e)</text><text x="354" y="444.1" font-size="18" text-anchor="start" font-weight="bold" font-family="Liberation Sans" font-style="normal" fill="#000" >(f)</text><text x="7" y="710.2" font-size="18" text-anchor="start" font-weight="bold" font-family="Liberation Sans" font-style="normal" fill="#000" >(g)</text><text x="358.1" y="710.8" font-size="18" text-anchor="start" font-weight="bold" font-family="Liberation Sans" font-style="normal" fill="#000" >(h)</text><text x="50.3" y="71.8" font-size="14.8" fill="#fff" font-family="Liberation Sans"><tspan font-style="italic">t</tspan> = 66 μs</text><text x="382.3" y="69.2" font-size="14.8" fill="#fff" font-family="Liberation Sans"><tspan font-style="italic">t</tspan> = 46 μs</text><line x1="168.88" y1="118.5" x2="196" y2="118.5" stroke="#fff" stroke-width="1.7"/><path d="M157.4 118.5L171.4 115.4L168.88 118.5L171.4 121.6Z" fill="#fff"/><line x1="188.092" y1="134.8" x2="160.5" y2="134.8" stroke="#fff" stroke-width="1.7"/><path d="M199.9 134.8L185.5 131.7L188.092 134.8L185.5 137.9Z" fill="#fff"/><line x1="400.708" y1="121.3" x2="428.3" y2="121.3" stroke="#fff" stroke-width="1.7"/><path d="M388.9 121.3L403.3 118.2L400.708 121.3L403.3 124.4Z" fill="#fff"/><line x1="420.484" y1="138" x2="392.8" y2="138" stroke="#fff" stroke-width="1.7"/><path d="M431.8 138L418 135L420.484 138L418 141Z" fill="#fff"/><line x1="72.5" y1="457" x2="72.5" y2="672" stroke="#222" stroke-width="0.9" stroke-dasharray="1,2"/><line x1="116.5" y1="457" x2="116.5" y2="672" stroke="#222" stroke-width="0.9" stroke-dasharray="1,2"/><line x1="161.5" y1="457" x2="161.5" y2="672" stroke="#222" stroke-width="0.9" stroke-dasharray="1,2"/><line x1="205.5" y1="457" x2="205.5" y2="672" stroke="#222" stroke-width="0.9" stroke-dasharray="1,2"/><line x1="249.5" y1="457" x2="249.5" y2="672" stroke="#222" stroke-width="0.9" stroke-dasharray="1,2"/><line x1="293.5" y1="457" x2="293.5" y2="672" stroke="#222" stroke-width="0.9" stroke-dasharray="1,2"/><line x1="28.7" y1="654.5" x2="304.6" y2="654.5" stroke="#222" stroke-width="0.9" stroke-dasharray="1,2"/><line x1="28.7" y1="618.5" x2="304.6" y2="618.5" stroke="#222" stroke-width="0.9" stroke-dasharray="1,2"/><line x1="28.7" y1="582.5" x2="304.6" y2="582.5" stroke="#222" stroke-width="0.9" stroke-dasharray="1,2"/><line x1="28.7" y1="546.5" x2="304.6" y2="546.5" stroke="#222" stroke-width="0.9" stroke-dasharray="1,2"/><line x1="28.7" y1="510.5" x2="304.6" y2="510.5" stroke="#222" stroke-width="0.9" stroke-dasharray="1,2"/><line x1="28.7" y1="474.5" x2="304.6" y2="474.5" stroke="#222" stroke-width="0.9" stroke-dasharray="1,2"/><g clip-path="url(#clipe)"><polyline fill="none" stroke="#111" stroke-width="0.8" stroke-linejoin="round" stroke-dasharray="3.5,1.5,1,1.5" points="29.8,664.7 31.5,631.1 34.2,609.8 36.9,583.3 41.3,570.9 44.0,588.6 46.6,615.1 51.1,632.9 54.6,645.3 57.3,652.3 59.9,632.9 62.6,599.2 64.4,570.9 66.1,556.7 67.9,562.0 70.6,574.4 74.1,585.0 78.5,572.6 81.2,585.0 84.7,609.8 89.2,641.7 92.7,666.5 96.3,670.1 100.0,659.4 100.3,632.9 103.0,606.3 105.6,581.5 109.2,558.5 112.7,539.0 115.4,524.8 117.2,526.6 118.9,549.6 121.6,574.4 124.3,599.2 126.9,611.6 130.5,606.3 134.0,592.1 137.6,574.4 139.3,570.9 141.1,579.7 142.9,599.2 144.7,624.0 146.4,648.8 148.2,663.0 150.0,654.1 151.7,627.5 153.5,602.7 155.3,579.7 157.1,558.5 158.8,553.1 160.6,563.8 162.4,577.9 164.2,592.1 167.0,590.3 169.1,586.8 172.6,583.3 175.3,577.9 178.0,592.1 181.5,585.0 185.1,579.7 188.6,581.5 192.1,583.3 195.7,576.2 197.5,592.1 200.1,602.7 202.8,620.5 204.6,625.8 207.2,616.9 209.9,606.3 213.4,592.1 216.1,576.2 218.7,565.5 220.5,560.2 222.3,570.9 224.1,583.3 225.8,592.1 228.5,588.6 231.2,569.1 232.9,546.1 234.0,542.5 235.2,530.1 237.0,527.5 238.7,533.7 240.5,546.1 242.3,560.2 244.9,574.4 247.6,567.3 249.4,558.5 252.0,554.9 255.6,562.0 260.0,570.9 264.4,563.8 268.0,554.9 270.6,554.0 273.3,558.5 276.8,570.9 279.5,585.0 282.1,599.2 285.7,613.4 290.1,622.2 294.5,626.7 298.1,624.0 301.6,622.2 305.0,620.5"/><polyline fill="none" stroke="#000" stroke-width="1.65" stroke-linejoin="round"  points="29.8,574.4 30.5,599.2 31.5,592.1 33.0,590.3 34.2,595.7 37.8,592.1 41.3,595.7 44.8,602.7 48.4,615.1 51.1,624.0 53.7,634.6 56.4,631.1 59.0,622.2 61.7,602.7 65.2,583.3 69.7,576.2 72.3,577.9 75.0,586.8 79.4,593.9 83.0,596.5 86.5,601.0 90.1,615.1 93.6,632.9 97.2,650.6 100.0,648.8 100.3,638.2 103.0,613.4 105.6,592.1 108.3,574.4 111.0,558.5 113.6,549.6 116.3,547.8 118.9,554.9 121.6,567.3 123.4,579.7 125.1,595.7 126.9,604.5 129.6,608.1 132.2,610.7 135.8,608.1 140.2,609.8 144.7,612.5 148.2,608.1 151.7,601.0 155.3,592.1 158.0,588.6 160.6,592.1 164.2,596.5 167.0,599.2 169.1,600.1 172.6,595.7 176.2,590.3 179.7,583.3 183.3,576.2 186.8,570.0 189.5,569.4 192.1,572.6 195.7,579.7 199.2,590.3 202.8,602.7 206.3,606.3 209.0,608.1 211.7,602.7 215.2,590.3 218.7,579.7 222.3,572.6 225.8,571.7 229.4,567.3 234.0,558.5 234.0,553.1 234.3,553.1 238.7,551.4 241.4,553.1 244.9,554.9 248.5,555.8 252.0,560.2 257.3,563.8 262.7,563.8 266.2,563.8 269.7,565.5 273.3,570.9 276.8,579.7 279.5,590.3 282.1,599.2 285.7,606.3 289.2,611.6 292.8,615.1 296.3,617.8 299.9,620.5 302.5,622.2 305.0,622.2"/><polyline fill="none" stroke="#1a1aff" stroke-width="1.75" stroke-linejoin="round"  points="29.8,579.7 30.7,599.2 33.3,608.1 36.0,611.6 40.4,616.9 45.7,620.5 51.1,621.3 54.6,619.6 59.0,613.4 61.7,602.7 64.4,595.7 70.6,590.3 77.7,588.6 84.7,595.7 89.2,604.5 93.6,615.1 97.2,622.2 100.0,618.7 100.3,616.9 103.0,608.1 105.6,597.4 111.0,585.0 115.4,581.5 119.8,586.8 123.4,593.9 126.9,600.1 130.5,602.7 137.6,604.5 144.7,604.5 150.0,601.0 155.3,596.5 162.4,593.0 167.0,591.2 167.3,590.7 172.6,588.6 178.0,585.9 183.3,582.4 188.6,581.5 192.1,584.1 195.7,589.5 199.2,595.7 204.6,601.0 208.1,600.1 211.7,596.5 215.2,590.3 218.7,581.5 222.3,574.4 227.6,565.5 234.0,556.3 234.0,556.3 236.1,551.4 243.2,551.0 250.3,553.1 255.6,558.1 260.9,563.4 266.2,569.4 271.5,577.1 275.4,585.0 278.6,592.1 283.9,604.5 289.2,611.6 294.5,615.1 299.9,617.8 305.0,619.6"/><polyline fill="none" stroke="#ff1a1a" stroke-width="1.8" stroke-linejoin="round"  points="29.8,601.9 35.1,613.4 42.2,616.9 49.3,617.8 56.4,617.3 59.9,613.4 62.6,599.2 67.0,593.9 72.3,590.3 77.7,588.2 81.2,589.5 86.5,595.7 89.2,602.7 91.8,615.1 95.4,617.3 100.0,617.3 102.1,616.0 105.6,599.2 109.2,588.6 112.7,583.3 115.4,581.8 118.1,584.1 121.6,590.3 125.1,596.5 130.5,601.9 135.8,604.2 141.1,604.9 146.4,603.6 151.7,600.1 157.1,595.7 162.4,593.0 167.0,590.3 167.3,590.7 172.6,588.6 178.0,585.9 183.3,582.4 188.6,581.1 192.1,583.3 195.7,588.6 199.2,593.9 202.8,598.8 206.3,599.7 209.9,598.3 213.4,593.9 217.0,585.0 220.5,576.2 224.1,570.9 229.4,562.0 234.0,555.8 234.0,556.3 237.0,551.7 241.4,550.5 245.8,550.1 250.3,554.0 255.6,558.5 260.9,563.8 266.2,569.1 271.5,576.2 275.9,585.0 279.5,593.9 283.0,602.7 286.6,608.1 290.1,608.9 293.7,615.1 298.1,617.3 301.6,618.3 305.0,619.0"/></g><clipPath id="clipe"><rect x="28.7" y="457" width="275.9" height="215"/></clipPath><line x1="28.5" y1="457.5" x2="304.5" y2="457.5" stroke="#888" stroke-width="1.2" /><line x1="28.5" y1="672.5" x2="304.5" y2="672.5" stroke="#444" stroke-width="1" /><line x1="28.5" y1="457.5" x2="28.5" y2="672.5" stroke="#555" stroke-width="1" /><line x1="304.5" y1="457.5" x2="304.5" y2="672.5" stroke="#333" stroke-width="1" /><line x1="28.7" y1="672" x2="28.7" y2="669.5" stroke="#333" stroke-width="0.8" /><line x1="28.7" y1="457" x2="28.7" y2="459.5" stroke="#333" stroke-width="0.8" /><text x="28.7" y="686" font-size="11.5" text-anchor="middle" font-weight="normal" font-family="Liberation Sans" font-style="normal" fill="#000" >0</text><line x1="72.84" y1="672" x2="72.84" y2="669.5" stroke="#333" stroke-width="0.8" /><line x1="72.84" y1="457" x2="72.84" y2="459.5" stroke="#333" stroke-width="0.8" /><text x="72.84" y="686" font-size="11.5" text-anchor="middle" font-weight="normal" font-family="Liberation Sans" font-style="normal" fill="#000" >20</text><line x1="116.98" y1="672" x2="116.98" y2="669.5" stroke="#333" stroke-width="0.8" /><line x1="116.98" y1="457" x2="116.98" y2="459.5" stroke="#333" stroke-width="0.8" /><text x="116.98" y="686" font-size="11.5" text-anchor="middle" font-weight="normal" font-family="Liberation Sans" font-style="normal" fill="#000" >40</text><line x1="161.12" y1="672" x2="161.12" y2="669.5" stroke="#333" stroke-width="0.8" /><line x1="161.12" y1="457" x2="161.12" y2="459.5" stroke="#333" stroke-width="0.8" /><text x="161.12" y="686" font-size="11.5" text-anchor="middle" font-weight="normal" font-family="Liberation Sans" font-style="normal" fill="#000" >60</text><line x1="205.26" y1="672" x2="205.26" y2="669.5" stroke="#333" stroke-width="0.8" /><line x1="205.26" y1="457" x2="205.26" y2="459.5" stroke="#333" stroke-width="0.8" /><text x="205.26" y="686" font-size="11.5" text-anchor="middle" font-weight="normal" font-family="Liberation Sans" font-style="normal" fill="#000" >80</text><line x1="249.4" y1="672" x2="249.4" y2="669.5" stroke="#333" stroke-width="0.8" /><line x1="249.4" y1="457" x2="249.4" y2="459.5" stroke="#333" stroke-width="0.8" /><text x="249.4" y="686" font-size="11.5" text-anchor="middle" font-weight="normal" font-family="Liberation Sans" font-style="normal" fill="#000" >100</text><line x1="293.54" y1="672" x2="293.54" y2="669.5" stroke="#333" stroke-width="0.8" /><line x1="293.54" y1="457" x2="293.54" y2="459.5" stroke="#333" stroke-width="0.8" /><text x="293.54" y="686" font-size="11.5" text-anchor="middle" font-weight="normal" font-family="Liberation Sans" font-style="normal" fill="#000" >120</text><line x1="28.7" y1="654.04" x2="31.2" y2="654.04" stroke="#333" stroke-width="0.8" /><line x1="304.6" y1="654.04" x2="302.1" y2="654.04" stroke="#333" stroke-width="0.8" /><text x="26.8" y="658.18" font-size="11.5" text-anchor="end" font-weight="normal" font-family="Liberation Sans" font-style="normal" fill="#000" >−2</text><line x1="28.7" y1="618.2" x2="31.2" y2="618.2" stroke="#333" stroke-width="0.8" /><line x1="304.6" y1="618.2" x2="302.1" y2="618.2" stroke="#333" stroke-width="0.8" /><text x="26.8" y="622.34" font-size="11.5" text-anchor="end" font-weight="normal" font-family="Liberation Sans" font-style="normal" fill="#000" >0</text><line x1="28.7" y1="582.36" x2="31.2" y2="582.36" stroke="#333" stroke-width="0.8" /><line x1="304.6" y1="582.36" x2="302.1" y2="582.36" stroke="#333" stroke-width="0.8" /><text x="26.8" y="586.5" font-size="11.5" text-anchor="end" font-weight="normal" font-family="Liberation Sans" font-style="normal" fill="#000" >2</text><line x1="28.7" y1="546.52" x2="31.2" y2="546.52" stroke="#333" stroke-width="0.8" /><line x1="304.6" y1="546.52" x2="302.1" y2="546.52" stroke="#333" stroke-width="0.8" /><text x="26.8" y="550.66" font-size="11.5" text-anchor="end" font-weight="normal" font-family="Liberation Sans" font-style="normal" fill="#000" >4</text><line x1="28.7" y1="510.68" x2="31.2" y2="510.68" stroke="#333" stroke-width="0.8" /><line x1="304.6" y1="510.68" x2="302.1" y2="510.68" stroke="#333" stroke-width="0.8" /><text x="26.8" y="514.82" font-size="11.5" text-anchor="end" font-weight="normal" font-family="Liberation Sans" font-style="normal" fill="#000" >6</text><line x1="28.7" y1="474.84" x2="31.2" y2="474.84" stroke="#333" stroke-width="0.8" /><line x1="304.6" y1="474.84" x2="302.1" y2="474.84" stroke="#333" stroke-width="0.8" /><text x="26.8" y="478.98" font-size="11.5" text-anchor="end" font-weight="normal" font-family="Liberation Sans" font-style="normal" fill="#000" >8</text><rect x="31.5" y="459.9" width="108.7" height="43.2" stroke="#222" stroke-width="0.9" fill="#fff" /><line x1="35" y1="466.7" x2="53.5" y2="466.7" stroke="#555" stroke-width="0.8" stroke-dasharray="4,1.6,1,1.6"/><text x="56" y="469.9" font-size="8.5" text-anchor="start" font-weight="normal" font-family="Liberation Sans" font-style="normal" fill="#000" >Subset = 21</text><line x1="35" y1="476.8" x2="53.5" y2="476.8" stroke="#000" stroke-width="1.5" /><text x="56" y="480" font-size="8.5" text-anchor="start" font-weight="normal" font-family="Liberation Sans" font-style="normal" fill="#000" >Subset = 31</text><line x1="35" y1="486.9" x2="53.5" y2="486.9" stroke="#1a1aff" stroke-width="1.5" /><text x="56" y="490.1" font-size="8.5" text-anchor="start" font-weight="normal" font-family="Liberation Sans" font-style="normal" fill="#000" >Subset = 41</text><line x1="35" y1="497" x2="53.5" y2="497" stroke="#ff1a1a" stroke-width="1.5" /><text x="56" y="500.2" font-size="8.5" text-anchor="start" font-weight="normal" font-family="Liberation Sans" font-style="normal" fill="#000" >Subset = 41 − filtered</text><line x1="408.5" y1="457" x2="408.5" y2="672" stroke="#222" stroke-width="0.9" stroke-dasharray="1,2"/><line x1="440.5" y1="457" x2="440.5" y2="672" stroke="#222" stroke-width="0.9" stroke-dasharray="1,2"/><line x1="471.5" y1="457" x2="471.5" y2="672" stroke="#222" stroke-width="0.9" stroke-dasharray="1,2"/><line x1="503.5" y1="457" x2="503.5" y2="672" stroke="#222" stroke-width="0.9" stroke-dasharray="1,2"/><line x1="534.5" y1="457" x2="534.5" y2="672" stroke="#222" stroke-width="0.9" stroke-dasharray="1,2"/><line x1="565.5" y1="457" x2="565.5" y2="672" stroke="#222" stroke-width="0.9" stroke-dasharray="1,2"/><line x1="597.5" y1="457" x2="597.5" y2="672" stroke="#222" stroke-width="0.9" stroke-dasharray="1,2"/><line x1="628.5" y1="457" x2="628.5" y2="672" stroke="#222" stroke-width="0.9" stroke-dasharray="1,2"/><line x1="377.7" y1="629.5" x2="653.3" y2="629.5" stroke="#222" stroke-width="0.9" stroke-dasharray="1,2"/><line x1="377.7" y1="586.5" x2="653.3" y2="586.5" stroke="#222" stroke-width="0.9" stroke-dasharray="1,2"/><line x1="377.7" y1="543.5" x2="653.3" y2="543.5" stroke="#222" stroke-width="0.9" stroke-dasharray="1,2"/><line x1="377.7" y1="500.5" x2="653.3" y2="500.5" stroke="#222" stroke-width="0.9" stroke-dasharray="1,2"/><g clip-path="url(#clipf)"><polyline fill="none" stroke="#111" stroke-width="0.8" stroke-linejoin="round" stroke-dasharray="3.5,1.5,1,1.5" points="377.9,542.5 379.8,531.2 382.6,526.6 385.4,538.7 388.3,553.7 391.1,568.7 393.9,576.2 396.7,568.7 399.5,563.1 403.3,565.0 406.1,574.3 408.9,585.6 411.7,578.1 414.5,561.2 417.3,551.9 419.2,550.0 421.1,565.0 423.9,587.5 426.7,611.8 430.4,634.3 432.3,638.1 434.2,621.2 437.0,574.3 439.8,527.5 441.7,510.6 444.5,527.5 447.3,561.2 449.0,568.7 449.1,583.7 449.6,602.5 452.4,625.0 454.3,638.1 456.2,625.0 459.0,595.0 461.8,565.0 463.7,540.6 465.6,550.0 468.4,572.5 472.1,568.7 474.9,546.2 477.8,518.1 479.6,516.2 481.5,533.1 484.3,565.0 487.1,602.5 489.9,630.6 492.8,638.1 495.6,630.6 498.4,619.3 501.2,606.2 504.0,583.7 506.8,568.7 509.6,559.4 512.4,551.9 516.0,548.1 518.5,544.4 521.3,553.7 524.1,568.7 526.9,581.8 528.8,589.3 530.7,587.5 533.5,580.0 536.3,561.2 539.1,548.1 541.9,538.7 544.8,536.9 547.6,550.0 550.4,568.7 553.2,576.2 556.0,572.5 558.8,568.7 561.6,568.7 564.4,570.6 567.3,561.2 570.1,553.7 572.9,551.9 575.7,559.4 578.5,553.7 583.0,542.5 584.6,536.9 588.3,542.5 592.1,551.9 595.8,556.5 598.6,546.2 600.5,527.5 603.3,512.5 605.2,506.9 607.0,510.6 608.9,521.9 611.7,524.7 615.5,523.7 618.3,536.9 620.2,551.9 623.0,574.3 625.8,595.0 628.6,608.1 632.3,611.8 636.1,617.5 638.9,625.0 642.6,632.5 646.4,634.3 650.1,632.5 653.9,631.0"/><polyline fill="none" stroke="#000" stroke-width="1.65" stroke-linejoin="round"  points="377.9,548.1 378.9,550.0 380.8,551.9 383.6,555.6 388.3,558.4 393.9,560.3 397.6,562.2 401.4,565.0 405.1,572.5 408.9,576.2 411.7,574.3 414.5,572.5 417.3,571.5 420.1,572.5 422.9,580.0 425.8,591.2 429.5,606.2 432.3,612.8 435.1,610.0 437.0,602.5 439.8,587.5 442.6,572.5 445.4,566.9 449.0,565.0 449.1,565.0 451.5,570.6 455.3,572.5 459.0,570.6 462.8,565.9 465.6,565.0 468.4,568.7 472.1,571.5 475.9,574.3 479.6,575.3 483.4,576.2 487.1,581.8 490.9,589.3 494.6,594.0 498.4,596.8 502.1,597.8 505.9,595.0 509.6,585.6 513.4,572.5 516.0,566.9 516.6,564.0 519.4,562.2 522.3,564.0 525.1,568.7 527.9,572.5 530.7,574.3 533.5,573.4 536.3,568.7 540.1,565.0 542.9,561.2 546.6,557.5 549.4,559.4 552.3,565.0 555.1,566.9 557.9,565.9 560.7,568.7 563.5,570.6 566.3,570.6 569.1,566.9 572.9,565.0 576.6,559.4 580.4,548.1 583.0,538.7 585.5,535.9 589.2,536.9 593.0,537.8 596.7,535.9 600.5,527.5 605.2,524.7 608.9,522.8 612.7,525.6 616.4,535.0 619.2,548.1 622.0,565.0 623.9,580.0 625.8,595.0 628.6,608.1 632.3,617.5 636.1,623.1 639.8,627.8 643.6,630.2 648.3,630.6 653.9,631.0"/><polyline fill="none" stroke="#1a1aff" stroke-width="1.75" stroke-linejoin="round"  points="377.9,553.7 382.6,556.5 388.3,560.3 395.8,565.0 401.4,568.7 407.0,572.5 412.6,572.5 417.3,571.5 422.0,576.2 427.6,585.6 433.3,593.1 437.0,595.9 440.8,592.7 444.5,586.5 449.0,580.3 449.1,579.6 451.5,578.5 457.1,576.6 462.8,575.8 468.4,576.2 474.0,577.2 479.6,578.1 485.3,580.0 490.9,584.7 496.5,588.4 502.1,590.3 506.8,588.4 511.5,580.0 516.0,572.5 518.5,564.0 522.3,562.2 527.9,565.0 533.5,568.7 539.1,570.6 544.8,570.2 550.4,568.7 556.0,566.9 561.6,565.9 565.4,564.0 571.0,555.6 576.6,546.2 583.0,535.0 586.4,532.2 591.1,530.3 596.7,528.4 601.4,527.1 605.2,526.6 608.9,528.4 612.7,535.0 616.4,546.2 620.2,561.2 623.0,576.2 625.8,591.2 628.6,604.3 632.3,613.7 636.1,621.2 639.8,625.9 643.6,628.7 648.3,630.2 653.9,631.0"/><polyline fill="none" stroke="#ff1a1a" stroke-width="1.8" stroke-linejoin="round"  points="377.9,554.7 382.6,557.5 388.3,561.2 393.9,565.0 399.5,568.7 405.1,572.5 410.8,574.3 416.4,574.3 422.0,575.3 427.6,580.0 433.3,585.6 438.9,588.4 444.5,588.4 449.0,586.5 449.1,586.5 451.5,585.6 457.1,581.8 462.8,579.2 468.4,577.7 474.0,578.1 479.6,579.0 485.3,580.0 490.9,581.8 496.5,583.7 502.1,585.2 506.8,584.7 511.5,581.8 516.0,578.1 518.5,566.9 522.3,563.1 526.9,561.2 531.6,564.0 537.3,568.7 542.9,570.6 548.5,570.2 554.1,568.7 559.8,565.9 565.4,563.1 571.0,557.5 576.6,548.1 583.0,535.0 585.5,530.3 590.2,526.6 594.9,526.6 599.5,525.6 604.2,523.7 608.0,524.7 611.7,529.4 615.5,538.7 618.3,551.9 620.2,565.0 622.0,580.0 623.9,595.0 626.7,606.2 630.5,615.6 634.2,620.3 637.9,623.1 642.6,624.0 644.5,622.1 646.4,624.6 650.1,626.5 653.9,628.3"/></g><clipPath id="clipf"><rect x="377.7" y="457" width="275.6" height="215"/></clipPath><line x1="377.5" y1="457.5" x2="653.5" y2="457.5" stroke="#888" stroke-width="1.2" /><line x1="377.5" y1="672.5" x2="653.5" y2="672.5" stroke="#444" stroke-width="1" /><line x1="377.5" y1="457.5" x2="377.5" y2="672.5" stroke="#555" stroke-width="1" /><line x1="653.5" y1="457.5" x2="653.5" y2="672.5" stroke="#333" stroke-width="1" /><line x1="377.4" y1="672" x2="377.4" y2="669.5" stroke="#333" stroke-width="0.8" /><line x1="377.4" y1="457" x2="377.4" y2="459.5" stroke="#333" stroke-width="0.8" /><text x="377.4" y="686" font-size="11.5" text-anchor="middle" font-weight="normal" font-family="Liberation Sans" font-style="normal" fill="#000" >0</text><line x1="408.8" y1="672" x2="408.8" y2="669.5" stroke="#333" stroke-width="0.8" /><line x1="408.8" y1="457" x2="408.8" y2="459.5" stroke="#333" stroke-width="0.8" /><text x="408.8" y="686" font-size="11.5" text-anchor="middle" font-weight="normal" font-family="Liberation Sans" font-style="normal" fill="#000" >2</text><line x1="440.2" y1="672" x2="440.2" y2="669.5" stroke="#333" stroke-width="0.8" /><line x1="440.2" y1="457" x2="440.2" y2="459.5" stroke="#333" stroke-width="0.8" /><text x="440.2" y="686" font-size="11.5" text-anchor="middle" font-weight="normal" font-family="Liberation Sans" font-style="normal" fill="#000" >4</text><line x1="471.6" y1="672" x2="471.6" y2="669.5" stroke="#333" stroke-width="0.8" /><line x1="471.6" y1="457" x2="471.6" y2="459.5" stroke="#333" stroke-width="0.8" /><text x="471.6" y="686" font-size="11.5" text-anchor="middle" font-weight="normal" font-family="Liberation Sans" font-style="normal" fill="#000" >6</text><line x1="503" y1="672" x2="503" y2="669.5" stroke="#333" stroke-width="0.8" /><line x1="503" y1="457" x2="503" y2="459.5" stroke="#333" stroke-width="0.8" /><text x="503" y="686" font-size="11.5" text-anchor="middle" font-weight="normal" font-family="Liberation Sans" font-style="normal" fill="#000" >8</text><line x1="534.4" y1="672" x2="534.4" y2="669.5" stroke="#333" stroke-width="0.8" /><line x1="534.4" y1="457" x2="534.4" y2="459.5" stroke="#333" stroke-width="0.8" /><text x="534.4" y="686" font-size="11.5" text-anchor="middle" font-weight="normal" font-family="Liberation Sans" font-style="normal" fill="#000" >10</text><line x1="565.8" y1="672" x2="565.8" y2="669.5" stroke="#333" stroke-width="0.8" /><line x1="565.8" y1="457" x2="565.8" y2="459.5" stroke="#333" stroke-width="0.8" /><text x="565.8" y="686" font-size="11.5" text-anchor="middle" font-weight="normal" font-family="Liberation Sans" font-style="normal" fill="#000" >12</text><line x1="597.2" y1="672" x2="597.2" y2="669.5" stroke="#333" stroke-width="0.8" /><line x1="597.2" y1="457" x2="597.2" y2="459.5" stroke="#333" stroke-width="0.8" /><text x="597.2" y="686" font-size="11.5" text-anchor="middle" font-weight="normal" font-family="Liberation Sans" font-style="normal" fill="#000" >14</text><line x1="628.6" y1="672" x2="628.6" y2="669.5" stroke="#333" stroke-width="0.8" /><line x1="628.6" y1="457" x2="628.6" y2="459.5" stroke="#333" stroke-width="0.8" /><text x="628.6" y="686" font-size="11.5" text-anchor="middle" font-weight="normal" font-family="Liberation Sans" font-style="normal" fill="#000" >16</text><line x1="377.7" y1="672" x2="380.2" y2="672" stroke="#333" stroke-width="0.8" /><line x1="653.3" y1="672" x2="650.8" y2="672" stroke="#333" stroke-width="0.8" /><text x="375.5" y="676.14" font-size="11.5" text-anchor="end" font-weight="normal" font-family="Liberation Sans" font-style="normal" fill="#000" >−2</text><line x1="377.7" y1="629" x2="380.2" y2="629" stroke="#333" stroke-width="0.8" /><line x1="653.3" y1="629" x2="650.8" y2="629" stroke="#333" stroke-width="0.8" /><text x="375.5" y="633.14" font-size="11.5" text-anchor="end" font-weight="normal" font-family="Liberation Sans" font-style="normal" fill="#000" >0</text><line x1="377.7" y1="586" x2="380.2" y2="586" stroke="#333" stroke-width="0.8" /><line x1="653.3" y1="586" x2="650.8" y2="586" stroke="#333" stroke-width="0.8" /><text x="375.5" y="590.14" font-size="11.5" text-anchor="end" font-weight="normal" font-family="Liberation Sans" font-style="normal" fill="#000" >2</text><line x1="377.7" y1="543" x2="380.2" y2="543" stroke="#333" stroke-width="0.8" /><line x1="653.3" y1="543" x2="650.8" y2="543" stroke="#333" stroke-width="0.8" /><text x="375.5" y="547.14" font-size="11.5" text-anchor="end" font-weight="normal" font-family="Liberation Sans" font-style="normal" fill="#000" >4</text><line x1="377.7" y1="500" x2="380.2" y2="500" stroke="#333" stroke-width="0.8" /><line x1="653.3" y1="500" x2="650.8" y2="500" stroke="#333" stroke-width="0.8" /><text x="375.5" y="504.14" font-size="11.5" text-anchor="end" font-weight="normal" font-family="Liberation Sans" font-style="normal" fill="#000" >6</text><line x1="377.7" y1="457" x2="380.2" y2="457" stroke="#333" stroke-width="0.8" /><line x1="653.3" y1="457" x2="650.8" y2="457" stroke="#333" stroke-width="0.8" /><text x="375.5" y="461.14" font-size="11.5" text-anchor="end" font-weight="normal" font-family="Liberation Sans" font-style="normal" fill="#000" >8</text><rect x="380.4" y="459.7" width="109.6" height="43.8" stroke="#222" stroke-width="0.9" fill="#fff" /><line x1="383.9" y1="466.5" x2="402.4" y2="466.5" stroke="#555" stroke-width="0.8" stroke-dasharray="4,1.6,1,1.6"/><text x="404.9" y="469.7" font-size="8.5" text-anchor="start" font-weight="normal" font-family="Liberation Sans" font-style="normal" fill="#000" >Subset = 21</text><line x1="383.9" y1="476.6" x2="402.4" y2="476.6" stroke="#000" stroke-width="1.5" /><text x="404.9" y="479.8" font-size="8.5" text-anchor="start" font-weight="normal" font-family="Liberation Sans" font-style="normal" fill="#000" >Subset = 31</text><line x1="383.9" y1="486.7" x2="402.4" y2="486.7" stroke="#1a1aff" stroke-width="1.5" /><text x="404.9" y="489.9" font-size="8.5" text-anchor="start" font-weight="normal" font-family="Liberation Sans" font-style="normal" fill="#000" >Subset = 41</text><line x1="383.9" y1="496.8" x2="402.4" y2="496.8" stroke="#ff1a1a" stroke-width="1.5" /><text x="404.9" y="500" font-size="8.5" text-anchor="start" font-weight="normal" font-family="Liberation Sans" font-style="normal" fill="#000" >Subset = 41 − filtered</text><line x1="54.5" y1="724.5" x2="54.5" y2="940" stroke="#222" stroke-width="0.9" stroke-dasharray="1,2"/><line x1="110.5" y1="724.5" x2="110.5" y2="940" stroke="#222" stroke-width="0.9" stroke-dasharray="1,2"/><line x1="166.5" y1="724.5" x2="166.5" y2="940" stroke="#222" stroke-width="0.9" stroke-dasharray="1,2"/><line x1="222.5" y1="724.5" x2="222.5" y2="940" stroke="#222" stroke-width="0.9" stroke-dasharray="1,2"/><line x1="278.5" y1="724.5" x2="278.5" y2="940" stroke="#222" stroke-width="0.9" stroke-dasharray="1,2"/><line x1="29.2" y1="909.5" x2="304.8" y2="909.5" stroke="#222" stroke-width="0.9" stroke-dasharray="1,2"/><line x1="29.2" y1="878.5" x2="304.8" y2="878.5" stroke="#222" stroke-width="0.9" stroke-dasharray="1,2"/><line x1="29.2" y1="848.5" x2="304.8" y2="848.5" stroke="#222" stroke-width="0.9" stroke-dasharray="1,2"/><line x1="29.2" y1="817.5" x2="304.8" y2="817.5" stroke="#222" stroke-width="0.9" stroke-dasharray="1,2"/><line x1="29.2" y1="786.5" x2="304.8" y2="786.5" stroke="#222" stroke-width="0.9" stroke-dasharray="1,2"/><line x1="29.2" y1="755.5" x2="304.8" y2="755.5" stroke="#222" stroke-width="0.9" stroke-dasharray="1,2"/><g clip-path="url(#clipg)"><polyline fill="none" stroke="#111" stroke-width="0.8" stroke-linejoin="round" stroke-dasharray="3.5,1.5,1,1.5" points="28.9,840.0 31.5,845.3 35.0,854.0 38.5,861.0 42.0,866.3 45.5,871.5 50.8,878.5 56.0,885.5 61.3,890.8 66.5,894.3 71.8,893.4 77.1,894.3 80.6,899.6 84.1,896.1 87.6,897.8 91.1,892.5 94.6,887.3 98.1,880.3 100.0,877.7 100.3,877.7 102.9,876.8 105.5,876.8 109.0,882.0 112.5,883.8 116.0,883.8 119.5,882.0 123.0,875.0 126.5,861.0 129.2,847.0 131.8,834.8 134.4,826.0 137.0,819.0 139.7,819.0 141.4,827.8 144.1,843.5 147.6,862.8 151.1,878.5 154.6,887.3 157.2,889.0 159.8,882.0 162.4,875.0 165.1,868.0 166.5,866.3 166.4,800.0 167.3,814.0 169.9,824.5 172.5,833.3 176.0,842.0 177.8,842.0 179.5,829.8 183.0,824.5 186.5,810.5 188.3,800.0 190.9,777.3 192.7,772.0 194.4,766.8 196.2,752.8 197.9,737.9 199.7,742.3 202.3,752.8 204.9,751.0 207.6,755.4 211.1,756.3 213.7,747.5 216.3,742.3 219.8,739.6 223.3,737.0 225.9,744.0 228.6,754.5 231.2,768.5 233.0,782.5 234.0,786.0 233.9,782.3 235.1,787.5 237.8,794.5 240.4,799.8 244.8,803.3 250.0,805.0 255.3,805.9 260.5,806.8 265.8,807.6 270.1,810.3 272.8,812.0 276.3,807.6 279.8,806.8 283.3,809.4 285.9,815.5 288.5,822.5 292.0,831.3 295.5,841.8 299.0,850.5 302.5,857.5 305.0,861.0"/><polyline fill="none" stroke="#000" stroke-width="1.65" stroke-linejoin="round"  points="28.9,843.5 32.4,850.5 36.8,859.3 41.1,866.3 45.5,871.5 49.0,876.8 52.5,882.0 56.0,886.4 59.5,890.8 63.0,896.1 66.5,899.6 70.0,903.1 73.6,905.7 77.1,906.6 80.6,908.3 84.1,908.3 87.6,909.2 91.1,907.4 94.6,908.3 97.2,908.3 99.0,903.1 100.0,902.2 100.3,904.8 102.9,908.3 105.5,911.8 109.0,911.8 111.6,910.1 112.5,904.8 114.3,906.6 116.0,903.1 118.7,899.6 121.3,896.1 123.9,889.0 126.5,882.0 130.0,876.8 133.5,875.9 137.0,875.9 139.7,874.2 142.3,874.2 145.8,877.7 149.3,883.8 152.8,889.0 156.3,892.5 159.8,896.1 163.3,899.6 165.1,900.4 166.5,899.6 166.4,815.8 169.0,814.9 172.5,812.3 176.0,808.8 179.5,805.3 183.0,800.0 185.7,789.5 187.4,781.6 189.2,785.1 191.8,781.6 195.3,779.9 197.9,778.7 200.5,779.9 204.0,779.5 207.6,780.8 211.1,783.4 212.8,780.8 214.6,787.8 218.1,794.8 219.8,800.0 221.6,797.4 225.1,799.2 228.6,801.8 232.1,802.7 234.0,802.7 233.9,802.4 239.5,803.3 246.5,805.0 250.0,803.3 255.3,804.1 260.5,805.0 265.8,807.6 271.0,810.3 274.5,813.8 278.0,818.1 281.5,823.4 285.0,828.6 287.7,833.9 289.4,837.4 291.2,833.9 293.8,839.2 297.3,845.3 300.8,852.3 305.0,859.3"/><polyline fill="none" stroke="#1a1aff" stroke-width="1.75" stroke-linejoin="round"  points="28.9,856.7 33.3,862.8 38.5,868.9 42.9,873.3 45.5,875.0 47.3,873.3 50.8,877.7 54.3,882.0 59.5,886.4 64.8,889.9 70.0,893.4 75.3,896.1 80.6,896.1 85.8,895.2 91.1,895.2 96.3,894.3 100.0,893.4 100.3,892.2 102.0,890.8 105.5,889.9 109.0,888.7 112.5,886.4 116.0,884.7 119.5,883.8 123.0,883.4 126.5,885.5 130.0,886.4 133.5,887.3 137.0,888.7 140.6,889.9 142.3,891.7 144.1,882.0 147.6,883.4 152.8,884.7 158.1,886.9 163.3,889.0 166.5,890.8 166.4,800.9 170.8,797.4 176.0,794.8 181.3,792.7 186.5,790.4 189.2,789.2 190.9,794.4 195.3,793.0 198.8,791.6 204.0,792.1 208.4,793.9 210.2,792.7 211.9,796.2 214.6,800.9 218.1,803.5 221.6,807.0 225.1,809.7 228.6,809.7 234.0,809.1 233.9,809.6 234.3,809.4 239.5,808.5 244.8,808.2 249.1,808.5 250.0,812.0 250.9,808.5 255.3,807.6 259.6,808.2 261.4,812.0 263.1,808.5 267.5,810.3 272.8,813.8 278.0,818.1 281.5,822.5 284.2,826.0 285.9,822.5 289.4,825.1 293.8,830.4 299.0,836.5 305.0,843.5"/><polyline fill="none" stroke="#ff1a1a" stroke-width="1.8" stroke-linejoin="round"  points="28.9,855.8 33.3,859.3 38.5,866.3 42.9,865.9 47.3,870.7 52.5,875.9 57.8,879.4 63.0,882.0 70.0,885.5 75.3,888.2 80.6,889.9 85.8,889.9 91.1,889.0 96.3,887.6 100.0,887.3 100.3,886.9 105.5,885.5 110.8,885.2 116.0,884.7 121.3,885.5 126.5,886.9 131.8,888.2 137.0,889.4 142.3,889.9 147.6,890.8 152.8,891.7 158.1,890.8 162.4,891.7 166.5,891.7 166.4,891.9 166.4,800.9 170.8,798.3 176.0,796.5 181.3,795.1 186.5,796.5 191.8,797.4 197.0,799.2 202.3,800.9 207.6,801.8 212.8,803.5 218.1,805.3 223.3,806.7 228.6,807.4 234.0,807.4 233.9,806.9 236.0,807.1 243.0,807.1 250.0,807.6 257.0,809.4 264.0,812.9 271.0,817.3 278.0,822.5 283.3,826.9 288.5,830.4 293.8,834.8 299.0,840.0 305.0,847.0"/></g><clipPath id="clipg"><rect x="29.2" y="724.5" width="275.6" height="215.5"/></clipPath><line x1="29.5" y1="724.5" x2="304.5" y2="724.5" stroke="#888" stroke-width="1.2" /><line x1="29.5" y1="940.5" x2="304.5" y2="940.5" stroke="#444" stroke-width="1" /><line x1="29.5" y1="724.5" x2="29.5" y2="940.5" stroke="#555" stroke-width="1" /><line x1="304.5" y1="724.5" x2="304.5" y2="940.5" stroke="#333" stroke-width="1" /><line x1="54.69" y1="940" x2="54.69" y2="937.5" stroke="#333" stroke-width="0.8" /><line x1="54.69" y1="724.5" x2="54.69" y2="727" stroke="#333" stroke-width="0.8" /><text x="54.69" y="954" font-size="11.5" text-anchor="middle" font-weight="normal" font-family="Liberation Sans" font-style="normal" fill="#000" >−30</text><line x1="110.595" y1="940" x2="110.595" y2="937.5" stroke="#333" stroke-width="0.8" /><line x1="110.595" y1="724.5" x2="110.595" y2="727" stroke="#333" stroke-width="0.8" /><text x="110.595" y="954" font-size="11.5" text-anchor="middle" font-weight="normal" font-family="Liberation Sans" font-style="normal" fill="#000" >−15</text><line x1="166.5" y1="940" x2="166.5" y2="937.5" stroke="#333" stroke-width="0.8" /><line x1="166.5" y1="724.5" x2="166.5" y2="727" stroke="#333" stroke-width="0.8" /><text x="166.5" y="954" font-size="11.5" text-anchor="middle" font-weight="normal" font-family="Liberation Sans" font-style="normal" fill="#000" >0</text><line x1="222.405" y1="940" x2="222.405" y2="937.5" stroke="#333" stroke-width="0.8" /><line x1="222.405" y1="724.5" x2="222.405" y2="727" stroke="#333" stroke-width="0.8" /><text x="222.405" y="954" font-size="11.5" text-anchor="middle" font-weight="normal" font-family="Liberation Sans" font-style="normal" fill="#000" >15</text><line x1="278.31" y1="940" x2="278.31" y2="937.5" stroke="#333" stroke-width="0.8" /><line x1="278.31" y1="724.5" x2="278.31" y2="727" stroke="#333" stroke-width="0.8" /><text x="278.31" y="954" font-size="11.5" text-anchor="middle" font-weight="normal" font-family="Liberation Sans" font-style="normal" fill="#000" >30</text><line x1="29.2" y1="940.37" x2="31.7" y2="940.37" stroke="#333" stroke-width="0.8" /><line x1="304.8" y1="940.37" x2="302.3" y2="940.37" stroke="#333" stroke-width="0.8" /><text x="26.8" y="944.51" font-size="11.5" text-anchor="end" font-weight="normal" font-family="Liberation Sans" font-style="normal" fill="#000" >−3</text><line x1="29.2" y1="909.58" x2="31.7" y2="909.58" stroke="#333" stroke-width="0.8" /><line x1="304.8" y1="909.58" x2="302.3" y2="909.58" stroke="#333" stroke-width="0.8" /><text x="26.8" y="913.72" font-size="11.5" text-anchor="end" font-weight="normal" font-family="Liberation Sans" font-style="normal" fill="#000" >−2</text><line x1="29.2" y1="878.79" x2="31.7" y2="878.79" stroke="#333" stroke-width="0.8" /><line x1="304.8" y1="878.79" x2="302.3" y2="878.79" stroke="#333" stroke-width="0.8" /><text x="26.8" y="882.93" font-size="11.5" text-anchor="end" font-weight="normal" font-family="Liberation Sans" font-style="normal" fill="#000" >−1</text><line x1="29.2" y1="848" x2="31.7" y2="848" stroke="#333" stroke-width="0.8" /><line x1="304.8" y1="848" x2="302.3" y2="848" stroke="#333" stroke-width="0.8" /><text x="26.8" y="852.14" font-size="11.5" text-anchor="end" font-weight="normal" font-family="Liberation Sans" font-style="normal" fill="#000" >0</text><line x1="29.2" y1="817.21" x2="31.7" y2="817.21" stroke="#333" stroke-width="0.8" /><line x1="304.8" y1="817.21" x2="302.3" y2="817.21" stroke="#333" stroke-width="0.8" /><text x="26.8" y="821.35" font-size="11.5" text-anchor="end" font-weight="normal" font-family="Liberation Sans" font-style="normal" fill="#000" >1</text><line x1="29.2" y1="786.42" x2="31.7" y2="786.42" stroke="#333" stroke-width="0.8" /><line x1="304.8" y1="786.42" x2="302.3" y2="786.42" stroke="#333" stroke-width="0.8" /><text x="26.8" y="790.56" font-size="11.5" text-anchor="end" font-weight="normal" font-family="Liberation Sans" font-style="normal" fill="#000" >2</text><line x1="29.2" y1="755.63" x2="31.7" y2="755.63" stroke="#333" stroke-width="0.8" /><line x1="304.8" y1="755.63" x2="302.3" y2="755.63" stroke="#333" stroke-width="0.8" /><text x="26.8" y="759.77" font-size="11.5" text-anchor="end" font-weight="normal" font-family="Liberation Sans" font-style="normal" fill="#000" >3</text><line x1="29.2" y1="724.84" x2="31.7" y2="724.84" stroke="#333" stroke-width="0.8" /><line x1="304.8" y1="724.84" x2="302.3" y2="724.84" stroke="#333" stroke-width="0.8" /><text x="26.8" y="728.98" font-size="11.5" text-anchor="end" font-weight="normal" font-family="Liberation Sans" font-style="normal" fill="#000" >4</text><rect x="31.8" y="727.7" width="108.4" height="43.3" stroke="#222" stroke-width="0.9" fill="#fff" /><line x1="35.3" y1="734.5" x2="53.8" y2="734.5" stroke="#555" stroke-width="0.8" stroke-dasharray="4,1.6,1,1.6"/><text x="56.3" y="737.7" font-size="8.5" text-anchor="start" font-weight="normal" font-family="Liberation Sans" font-style="normal" fill="#000" >Subset = 21</text><line x1="35.3" y1="744.6" x2="53.8" y2="744.6" stroke="#000" stroke-width="1.5" /><text x="56.3" y="747.8" font-size="8.5" text-anchor="start" font-weight="normal" font-family="Liberation Sans" font-style="normal" fill="#000" >Subset = 31</text><line x1="35.3" y1="754.7" x2="53.8" y2="754.7" stroke="#1a1aff" stroke-width="1.5" /><text x="56.3" y="757.9" font-size="8.5" text-anchor="start" font-weight="normal" font-family="Liberation Sans" font-style="normal" fill="#000" >Subset = 41</text><line x1="35.3" y1="764.8" x2="53.8" y2="764.8" stroke="#ff1a1a" stroke-width="1.5" /><text x="56.3" y="768" font-size="8.5" text-anchor="start" font-weight="normal" font-family="Liberation Sans" font-style="normal" fill="#000" >Subset = 41 − filtered</text><line x1="423.5" y1="724.5" x2="423.5" y2="940" stroke="#222" stroke-width="0.9" stroke-dasharray="1,2"/><line x1="469.5" y1="724.5" x2="469.5" y2="940" stroke="#222" stroke-width="0.9" stroke-dasharray="1,2"/><line x1="515.5" y1="724.5" x2="515.5" y2="940" stroke="#222" stroke-width="0.9" stroke-dasharray="1,2"/><line x1="561.5" y1="724.5" x2="561.5" y2="940" stroke="#222" stroke-width="0.9" stroke-dasharray="1,2"/><line x1="607.5" y1="724.5" x2="607.5" y2="940" stroke="#222" stroke-width="0.9" stroke-dasharray="1,2"/><line x1="377.7" y1="913.5" x2="653.3" y2="913.5" stroke="#222" stroke-width="0.9" stroke-dasharray="1,2"/><line x1="377.7" y1="886.5" x2="653.3" y2="886.5" stroke="#222" stroke-width="0.9" stroke-dasharray="1,2"/><line x1="377.7" y1="859.5" x2="653.3" y2="859.5" stroke="#222" stroke-width="0.9" stroke-dasharray="1,2"/><line x1="377.7" y1="832.5" x2="653.3" y2="832.5" stroke="#222" stroke-width="0.9" stroke-dasharray="1,2"/><line x1="377.7" y1="805.5" x2="653.3" y2="805.5" stroke="#222" stroke-width="0.9" stroke-dasharray="1,2"/><line x1="377.7" y1="778.5" x2="653.3" y2="778.5" stroke="#222" stroke-width="0.9" stroke-dasharray="1,2"/><line x1="377.7" y1="751.5" x2="653.3" y2="751.5" stroke="#222" stroke-width="0.9" stroke-dasharray="1,2"/><g clip-path="url(#cliph)"><polyline fill="none" stroke="#111" stroke-width="0.8" stroke-linejoin="round" stroke-dasharray="3.5,1.5,1,1.5" points="397.6,863.7 400.3,871.5 402.9,883.8 405.5,896.1 408.1,911.8 411.6,922.3 416.0,926.7 419.5,924.1 423.0,918.8 426.5,916.2 430.0,917.1 433.5,917.9 437.0,911.8 440.6,908.3 444.1,904.8 447.6,897.8 451.1,890.8 454.6,887.3 458.1,883.8 461.6,882.9 467.0,883.8 467.3,883.8 469.0,885.5 472.5,892.5 477.8,898.7 483.0,902.2 488.3,903.1 493.5,905.7 498.8,908.3 504.0,912.7 505.8,922.3 509.3,925.8 514.6,928.4 515.4,929.3 515.4,730.3 517.9,735.5 520.5,740.8 524.0,746.0 526.6,753.0 529.3,751.3 532.8,747.8 538.0,745.1 542.4,743.4 545.0,744.3 548.5,746.9 552.0,754.8 555.6,761.8 559.1,768.8 562.6,773.1 566.1,771.4 569.6,769.6 573.1,770.5 576.6,774.0 580.1,777.5 582.0,779.3 584.0,781.0 587.5,775.8 591.0,767.0 594.5,764.4 598.9,762.6 603.2,763.5 605.9,765.3 608.5,768.8 611.1,767.9 613.7,766.1 616.3,768.8 619.0,775.8 621.6,784.5 624.2,795.0 626.8,807.3 628.6,810.8 631.2,809.0 633.8,807.3 636.5,805.5 639.1,804.7 641.7,802.0"/><polyline fill="none" stroke="#000" stroke-width="1.65" stroke-linejoin="round"  points="397.6,878.5 400.3,883.8 403.8,890.8 407.3,896.1 410.8,898.7 413.4,901.3 416.0,906.6 419.5,910.1 423.0,911.8 426.5,910.9 430.0,909.2 433.5,907.4 437.0,903.9 440.6,903.1 444.1,902.7 447.6,902.2 452.8,901.3 458.1,899.6 461.6,896.1 467.0,894.6 467.3,898.0 469.9,896.9 472.5,895.2 473.9,892.5 476.0,896.9 479.5,899.6 483.0,901.3 486.5,900.4 488.3,898.7 490.0,903.9 493.5,904.8 497.0,906.6 500.5,908.3 504.0,910.1 507.6,913.6 511.1,917.1 515.4,920.6 515.4,753.0 518.8,754.4 524.0,754.8 529.3,755.1 532.8,756.9 536.3,758.3 539.8,760.0 545.0,761.8 548.5,763.5 551.2,765.3 552.9,763.5 557.3,764.4 562.6,764.9 567.8,766.1 571.3,769.6 574.8,772.3 578.3,776.6 582.0,775.8 584.0,775.4 587.5,773.1 591.0,769.6 594.5,767.0 598.0,764.4 601.5,760.9 604.1,757.4 607.6,755.1 611.1,755.1 614.6,757.4 619.0,762.6 623.3,768.8 627.7,777.5 630.3,784.5 631.2,793.3 633.0,797.7 634.7,801.2 636.5,805.5 639.1,810.8 642.6,817.8"/><polyline fill="none" stroke="#1a1aff" stroke-width="1.75" stroke-linejoin="round"  points="397.6,888.2 401.1,892.5 404.6,897.8 408.1,901.3 412.5,905.7 415.1,903.9 417.8,905.7 421.3,906.6 424.8,907.4 428.3,909.2 431.8,908.3 435.3,908.3 437.0,910.1 439.7,904.8 443.2,903.1 447.6,900.4 452.8,897.8 458.1,896.1 463.3,894.3 467.0,892.5 467.3,892.5 469.9,891.7 474.3,890.8 479.5,890.8 483.0,891.7 486.5,894.3 490.0,896.9 493.5,900.4 497.0,901.3 502.3,903.1 507.6,904.8 512.8,906.6 515.4,908.3 515.4,759.1 520.5,759.5 525.8,760.0 531.0,760.9 535.4,761.8 538.0,757.9 540.7,760.9 542.4,763.5 545.0,761.8 547.7,764.4 550.3,762.6 553.8,763.9 559.1,764.9 564.3,765.6 567.8,766.1 571.3,767.9 576.6,767.0 582.0,766.5 582.2,767.0 584.9,766.7 587.5,764.4 592.7,761.8 598.0,759.1 603.2,756.5 606.7,756.2 610.2,758.3 615.5,763.5 620.7,769.6 626.0,777.5 631.2,785.4 636.5,794.2 640.0,800.3 642.6,805.5"/><polyline fill="none" stroke="#ff1a1a" stroke-width="1.8" stroke-linejoin="round"  points="397.6,884.7 400.3,889.9 403.8,895.2 407.3,899.6 411.6,903.9 416.0,907.4 421.3,909.2 426.5,909.5 431.8,908.3 437.0,906.6 442.3,904.8 447.6,903.9 452.8,903.1 458.1,901.3 463.3,899.6 467.0,898.7 467.3,898.7 472.5,896.9 477.8,896.1 483.0,896.1 488.3,896.9 493.5,898.7 498.8,900.4 504.0,902.2 509.3,903.9 515.4,905.7 515.4,766.1 518.8,762.6 522.3,760.0 527.5,758.6 532.8,758.3 538.0,758.6 543.3,759.7 548.5,760.9 553.8,762.1 559.1,763.2 564.3,763.9 569.6,763.9 574.8,763.2 580.1,761.8 582.0,760.9 582.2,760.9 587.5,758.3 592.7,756.2 598.0,754.8 603.2,754.4 608.5,756.2 613.7,760.0 619.0,766.1 624.2,774.0 629.5,782.8 634.7,791.5 639.1,797.7 642.6,800.6"/></g><clipPath id="cliph"><rect x="377.7" y="724.5" width="275.6" height="215.5"/></clipPath><line x1="377.5" y1="724.5" x2="653.5" y2="724.5" stroke="#888" stroke-width="1.2" /><line x1="377.5" y1="940.5" x2="653.5" y2="940.5" stroke="#444" stroke-width="1" /><line x1="377.5" y1="724.5" x2="377.5" y2="940.5" stroke="#555" stroke-width="1" /><line x1="653.5" y1="724.5" x2="653.5" y2="940.5" stroke="#333" stroke-width="1" /><line x1="377.68" y1="940" x2="377.68" y2="937.5" stroke="#333" stroke-width="0.8" /><line x1="377.68" y1="724.5" x2="377.68" y2="727" stroke="#333" stroke-width="0.8" /><text x="377.68" y="954" font-size="11.5" text-anchor="middle" font-weight="normal" font-family="Liberation Sans" font-style="normal" fill="#000" >−6</text><line x1="423.62" y1="940" x2="423.62" y2="937.5" stroke="#333" stroke-width="0.8" /><line x1="423.62" y1="724.5" x2="423.62" y2="727" stroke="#333" stroke-width="0.8" /><text x="423.62" y="954" font-size="11.5" text-anchor="middle" font-weight="normal" font-family="Liberation Sans" font-style="normal" fill="#000" >−4</text><line x1="469.56" y1="940" x2="469.56" y2="937.5" stroke="#333" stroke-width="0.8" /><line x1="469.56" y1="724.5" x2="469.56" y2="727" stroke="#333" stroke-width="0.8" /><text x="469.56" y="954" font-size="11.5" text-anchor="middle" font-weight="normal" font-family="Liberation Sans" font-style="normal" fill="#000" >−2</text><line x1="515.5" y1="940" x2="515.5" y2="937.5" stroke="#333" stroke-width="0.8" /><line x1="515.5" y1="724.5" x2="515.5" y2="727" stroke="#333" stroke-width="0.8" /><text x="515.5" y="954" font-size="11.5" text-anchor="middle" font-weight="normal" font-family="Liberation Sans" font-style="normal" fill="#000" >0</text><line x1="561.44" y1="940" x2="561.44" y2="937.5" stroke="#333" stroke-width="0.8" /><line x1="561.44" y1="724.5" x2="561.44" y2="727" stroke="#333" stroke-width="0.8" /><text x="561.44" y="954" font-size="11.5" text-anchor="middle" font-weight="normal" font-family="Liberation Sans" font-style="normal" fill="#000" >2</text><line x1="607.38" y1="940" x2="607.38" y2="937.5" stroke="#333" stroke-width="0.8" /><line x1="607.38" y1="724.5" x2="607.38" y2="727" stroke="#333" stroke-width="0.8" /><text x="607.38" y="954" font-size="11.5" text-anchor="middle" font-weight="normal" font-family="Liberation Sans" font-style="normal" fill="#000" >4</text><line x1="653.32" y1="940" x2="653.32" y2="937.5" stroke="#333" stroke-width="0.8" /><line x1="653.32" y1="724.5" x2="653.32" y2="727" stroke="#333" stroke-width="0.8" /><text x="653.32" y="954" font-size="11.5" text-anchor="middle" font-weight="normal" font-family="Liberation Sans" font-style="normal" fill="#000" >6</text><line x1="377.7" y1="940.01" x2="380.2" y2="940.01" stroke="#333" stroke-width="0.8" /><line x1="653.3" y1="940.01" x2="650.8" y2="940.01" stroke="#333" stroke-width="0.8" /><text x="375.5" y="944.15" font-size="11.5" text-anchor="end" font-weight="normal" font-family="Liberation Sans" font-style="normal" fill="#000" >−4</text><line x1="377.7" y1="913.07" x2="380.2" y2="913.07" stroke="#333" stroke-width="0.8" /><line x1="653.3" y1="913.07" x2="650.8" y2="913.07" stroke="#333" stroke-width="0.8" /><text x="375.5" y="917.21" font-size="11.5" text-anchor="end" font-weight="normal" font-family="Liberation Sans" font-style="normal" fill="#000" >−3</text><line x1="377.7" y1="886.13" x2="380.2" y2="886.13" stroke="#333" stroke-width="0.8" /><line x1="653.3" y1="886.13" x2="650.8" y2="886.13" stroke="#333" stroke-width="0.8" /><text x="375.5" y="890.27" font-size="11.5" text-anchor="end" font-weight="normal" font-family="Liberation Sans" font-style="normal" fill="#000" >−2</text><line x1="377.7" y1="859.19" x2="380.2" y2="859.19" stroke="#333" stroke-width="0.8" /><line x1="653.3" y1="859.19" x2="650.8" y2="859.19" stroke="#333" stroke-width="0.8" /><text x="375.5" y="863.33" font-size="11.5" text-anchor="end" font-weight="normal" font-family="Liberation Sans" font-style="normal" fill="#000" >−1</text><line x1="377.7" y1="832.25" x2="380.2" y2="832.25" stroke="#333" stroke-width="0.8" /><line x1="653.3" y1="832.25" x2="650.8" y2="832.25" stroke="#333" stroke-width="0.8" /><text x="375.5" y="836.39" font-size="11.5" text-anchor="end" font-weight="normal" font-family="Liberation Sans" font-style="normal" fill="#000" >0</text><line x1="377.7" y1="805.31" x2="380.2" y2="805.31" stroke="#333" stroke-width="0.8" /><line x1="653.3" y1="805.31" x2="650.8" y2="805.31" stroke="#333" stroke-width="0.8" /><text x="375.5" y="809.45" font-size="11.5" text-anchor="end" font-weight="normal" font-family="Liberation Sans" font-style="normal" fill="#000" >1</text><line x1="377.7" y1="778.37" x2="380.2" y2="778.37" stroke="#333" stroke-width="0.8" /><line x1="653.3" y1="778.37" x2="650.8" y2="778.37" stroke="#333" stroke-width="0.8" /><text x="375.5" y="782.51" font-size="11.5" text-anchor="end" font-weight="normal" font-family="Liberation Sans" font-style="normal" fill="#000" >2</text><line x1="377.7" y1="751.43" x2="380.2" y2="751.43" stroke="#333" stroke-width="0.8" /><line x1="653.3" y1="751.43" x2="650.8" y2="751.43" stroke="#333" stroke-width="0.8" /><text x="375.5" y="755.57" font-size="11.5" text-anchor="end" font-weight="normal" font-family="Liberation Sans" font-style="normal" fill="#000" >3</text><line x1="377.7" y1="724.49" x2="380.2" y2="724.49" stroke="#333" stroke-width="0.8" /><line x1="653.3" y1="724.49" x2="650.8" y2="724.49" stroke="#333" stroke-width="0.8" /><text x="375.5" y="728.63" font-size="11.5" text-anchor="end" font-weight="normal" font-family="Liberation Sans" font-style="normal" fill="#000" >4</text><rect x="380.4" y="728" width="109.6" height="43.3" stroke="#222" stroke-width="0.9" fill="#fff" /><line x1="383.9" y1="734.8" x2="402.4" y2="734.8" stroke="#555" stroke-width="0.8" stroke-dasharray="4,1.6,1,1.6"/><text x="404.9" y="738" font-size="8.5" text-anchor="start" font-weight="normal" font-family="Liberation Sans" font-style="normal" fill="#000" >Subset = 21</text><line x1="383.9" y1="744.9" x2="402.4" y2="744.9" stroke="#000" stroke-width="1.5" /><text x="404.9" y="748.1" font-size="8.5" text-anchor="start" font-weight="normal" font-family="Liberation Sans" font-style="normal" fill="#000" >Subset = 31</text><line x1="383.9" y1="755" x2="402.4" y2="755" stroke="#1a1aff" stroke-width="1.5" /><text x="404.9" y="758.2" font-size="8.5" text-anchor="start" font-weight="normal" font-family="Liberation Sans" font-style="normal" fill="#000" >Subset = 41</text><line x1="383.9" y1="765.1" x2="402.4" y2="765.1" stroke="#ff1a1a" stroke-width="1.5" /><text x="404.9" y="768.3" font-size="8.5" text-anchor="start" font-weight="normal" font-family="Liberation Sans" font-style="normal" fill="#000" >Subset = 41 − filtered</text><text x="29.2" y="454.3" font-size="11.5" text-anchor="start" font-weight="normal" font-family="Liberation Sans" font-style="normal" fill="#000" >x 10</text><text x="52.4" y="447" font-size="8.5" text-anchor="start" font-weight="normal" font-family="Liberation Sans" font-style="normal" fill="#000" >−3</text><text x="377.7" y="454.3" font-size="11.5" text-anchor="start" font-weight="normal" font-family="Liberation Sans" font-style="normal" fill="#000" >x 10</text><text x="400.9" y="447" font-size="8.5" text-anchor="start" font-weight="normal" font-family="Liberation Sans" font-style="normal" fill="#000" >−3</text><text x="29.2" y="722" font-size="11.5" text-anchor="start" font-weight="normal" font-family="Liberation Sans" font-style="normal" fill="#000" >x 10</text><text x="52.4" y="714.7" font-size="8.5" text-anchor="start" font-weight="normal" font-family="Liberation Sans" font-style="normal" fill="#000" >−3</text><text x="377.7" y="722" font-size="11.5" text-anchor="start" font-weight="normal" font-family="Liberation Sans" font-style="normal" fill="#000" >x 10</text><text x="400.9" y="714.7" font-size="8.5" text-anchor="start" font-weight="normal" font-family="Liberation Sans" font-style="normal" fill="#000" >−3</text><text x="139" y="700" font-size="14.4" font-family="Liberation Serif" textLength="57.3" lengthAdjust="spacing" fill="#000"><tspan font-style="italic">x</tspan><tspan font-size="10.08" dy="2.88">1</tspan><tspan dy="-2.88"> (mm)</tspan></text><text x="487.8" y="699.7" font-size="14.4" font-family="Liberation Serif" textLength="56.9" lengthAdjust="spacing" fill="#000"><tspan font-style="italic">x</tspan><tspan font-size="10.08" dy="2.88">1</tspan><tspan dy="-2.88"> (mm)</tspan></text><text x="139" y="967.8" font-size="14.4" font-family="Liberation Serif" textLength="57.3" lengthAdjust="spacing" fill="#000"><tspan font-style="italic">x</tspan><tspan font-size="10.08" dy="2.88">2</tspan><tspan dy="-2.88"> (mm)</tspan></text><text x="487.8" y="967.4" font-size="14.4" font-family="Liberation Serif" textLength="57.4" lengthAdjust="spacing" fill="#000"><tspan font-style="italic">x</tspan><tspan font-size="10.08" dy="2.88">2</tspan><tspan dy="-2.88"> (mm)</tspan></text><text x="0" y="0" font-size="16.5" font-family="Liberation Serif" textLength="17.6" lengthAdjust="spacing" transform="translate(8.2 572.9) rotate(-90)"><tspan font-style="italic">ϵ</tspan><tspan font-size="11" dy="2.6">11</tspan></text><text x="0" y="0" font-size="16.5" font-family="Liberation Serif" textLength="17.6" lengthAdjust="spacing" transform="translate(357 572.9) rotate(-90)"><tspan font-style="italic">ϵ</tspan><tspan font-size="11" dy="2.6">11</tspan></text><text x="0" y="0" font-size="16.5" font-family="Liberation Serif" textLength="17.6" lengthAdjust="spacing" transform="translate(8.2 840.9) rotate(-90)"><tspan font-style="italic">ϵ</tspan><tspan font-size="11" dy="2.6">11</tspan></text><text x="0" y="0" font-size="16.5" font-family="Liberation Serif" textLength="17.6" lengthAdjust="spacing" transform="translate(357 840.9) rotate(-90)"><tspan font-style="italic">ϵ</tspan><tspan font-size="11" dy="2.6">22</tspan></text><text x="221.7" y="472.7" font-size="12.5" font-family="Liberation Serif" textLength="80.3" lengthAdjust="spacing"><tspan font-style="italic">x</tspan><tspan font-size="8.75" dy="2.5">2</tspan><tspan dy="-2.5"> = 0</tspan><tspan font-size="8.75" dy="-5">+</tspan><tspan dy="5"> (mm)</tspan></text><text x="569.8" y="472.7" font-size="12.5" font-family="Liberation Serif" textLength="80.2" lengthAdjust="spacing"><tspan font-style="italic">x</tspan><tspan font-size="8.75" dy="2.5">2</tspan><tspan dy="-2.5"> = 0</tspan><tspan font-size="8.75" dy="-5">+</tspan><tspan dy="5"> (mm)</tspan></text><text x="219" y="928.2" font-size="12.5" font-family="Liberation Serif" textLength="80.8" lengthAdjust="spacing"><tspan font-style="italic">x</tspan><tspan font-size="8.75" dy="2.5">1</tspan><tspan dy="-2.5"> = 62</tspan><tspan> (mm)</tspan></text><text x="567.9" y="928.5" font-size="12.5" font-family="Liberation Serif" textLength="84.4" lengthAdjust="spacing"><tspan font-style="italic">x</tspan><tspan font-size="8.75" dy="2.5">1</tspan><tspan dy="-2.5"> = 8.7</tspan><tspan> (mm)</tspan></text></svg></div></body></html>
